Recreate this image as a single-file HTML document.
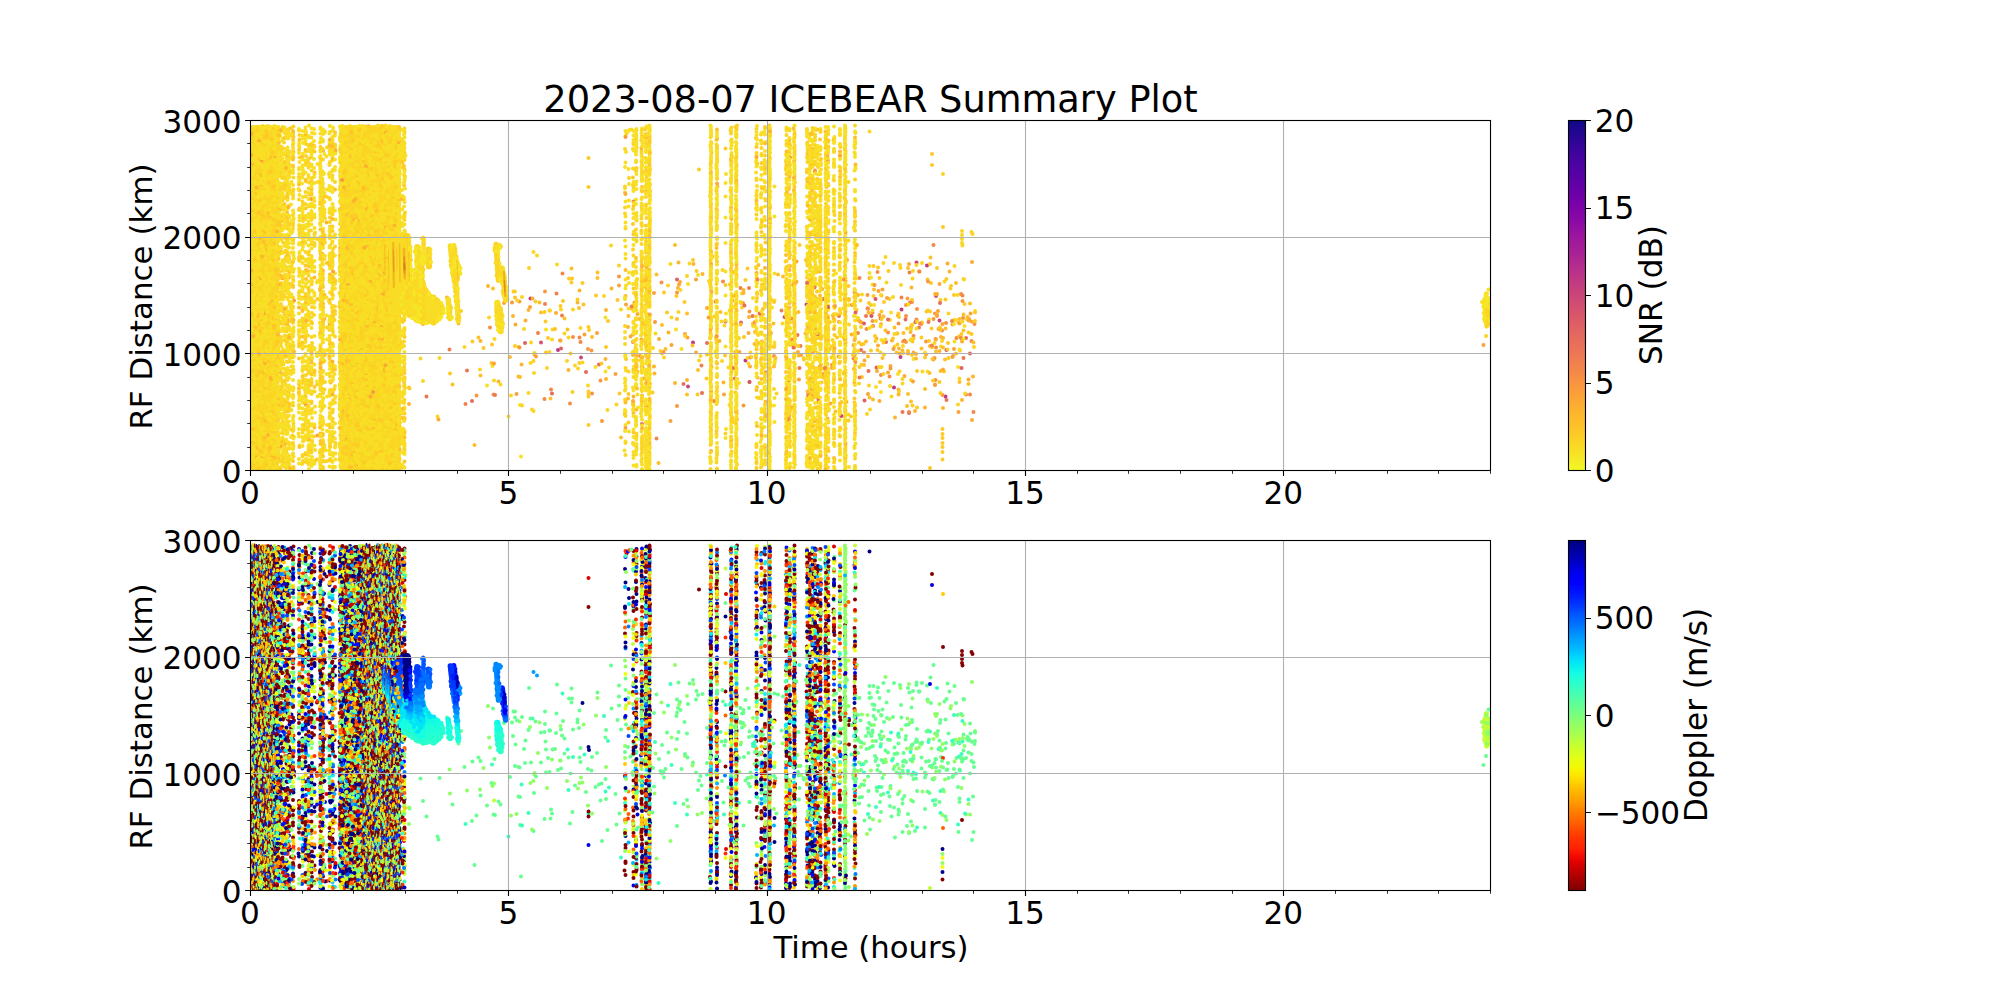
<!DOCTYPE html><html><head><meta charset="utf-8"><title>2023-08-07 ICEBEAR Summary Plot</title>
<style>html,body{margin:0;padding:0;background:#fff}svg{display:block}</style></head><body>
<svg width="2000" height="1000" viewBox="0 0 2000 1000">
<rect width="2000" height="1000" fill="#fff"/>
<defs><linearGradient id="gp" x1="0" y1="1" x2="0" y2="0"><stop offset="0" stop-color="#f0f921"/><stop offset="0.03" stop-color="#f5eb27"/><stop offset="0.06" stop-color="#f9dd25"/><stop offset="0.09" stop-color="#fcd025"/><stop offset="0.12" stop-color="#fdc328"/><stop offset="0.16" stop-color="#feb72d"/><stop offset="0.19" stop-color="#fdab33"/><stop offset="0.22" stop-color="#fb9f3a"/><stop offset="0.25" stop-color="#f89441"/><stop offset="0.28" stop-color="#f48948"/><stop offset="0.31" stop-color="#f07f4f"/><stop offset="0.34" stop-color="#eb7556"/><stop offset="0.38" stop-color="#e56b5d"/><stop offset="0.41" stop-color="#df6263"/><stop offset="0.44" stop-color="#d9586a"/><stop offset="0.47" stop-color="#d24f71"/><stop offset="0.5" stop-color="#cb4679"/><stop offset="0.53" stop-color="#c33d80"/><stop offset="0.56" stop-color="#bb3488"/><stop offset="0.59" stop-color="#b22b8f"/><stop offset="0.62" stop-color="#a82296"/><stop offset="0.66" stop-color="#9e199d"/><stop offset="0.69" stop-color="#9410a2"/><stop offset="0.72" stop-color="#8808a6"/><stop offset="0.75" stop-color="#7d03a8"/><stop offset="0.78" stop-color="#7100a8"/><stop offset="0.81" stop-color="#6400a7"/><stop offset="0.84" stop-color="#5801a4"/><stop offset="0.88" stop-color="#4b03a1"/><stop offset="0.91" stop-color="#3e049c"/><stop offset="0.94" stop-color="#2f0596"/><stop offset="0.97" stop-color="#20068f"/><stop offset="1" stop-color="#0d0887"/></linearGradient><linearGradient id="gj" x1="0" y1="1" x2="0" y2="0"><stop offset="0" stop-color="#800000"/><stop offset="0.02" stop-color="#960000"/><stop offset="0.04" stop-color="#ad0000"/><stop offset="0.06" stop-color="#c80000"/><stop offset="0.08" stop-color="#df0000"/><stop offset="0.1" stop-color="#f60b00"/><stop offset="0.12" stop-color="#ff2200"/><stop offset="0.15" stop-color="#ff3400"/><stop offset="0.17" stop-color="#ff4700"/><stop offset="0.19" stop-color="#ff5d00"/><stop offset="0.21" stop-color="#ff6f00"/><stop offset="0.23" stop-color="#ff8200"/><stop offset="0.25" stop-color="#ff9800"/><stop offset="0.27" stop-color="#ffab00"/><stop offset="0.29" stop-color="#ffbd00"/><stop offset="0.31" stop-color="#ffd300"/><stop offset="0.33" stop-color="#ffe600"/><stop offset="0.35" stop-color="#f4f802"/><stop offset="0.38" stop-color="#e1ff16"/><stop offset="0.4" stop-color="#d1ff26"/><stop offset="0.42" stop-color="#c1ff36"/><stop offset="0.44" stop-color="#adff49"/><stop offset="0.46" stop-color="#9dff5a"/><stop offset="0.48" stop-color="#8dff6a"/><stop offset="0.5" stop-color="#7aff7d"/><stop offset="0.52" stop-color="#6aff8d"/><stop offset="0.54" stop-color="#5aff9d"/><stop offset="0.56" stop-color="#46ffb1"/><stop offset="0.58" stop-color="#36ffc1"/><stop offset="0.6" stop-color="#26ffd1"/><stop offset="0.62" stop-color="#13fce4"/><stop offset="0.65" stop-color="#02e8f4"/><stop offset="0.67" stop-color="#00d4ff"/><stop offset="0.69" stop-color="#00bcff"/><stop offset="0.71" stop-color="#00a8ff"/><stop offset="0.73" stop-color="#0094ff"/><stop offset="0.75" stop-color="#007dff"/><stop offset="0.77" stop-color="#0068ff"/><stop offset="0.79" stop-color="#0055ff"/><stop offset="0.81" stop-color="#003dff"/><stop offset="0.83" stop-color="#0028ff"/><stop offset="0.85" stop-color="#0015ff"/><stop offset="0.88" stop-color="#0000ff"/><stop offset="0.9" stop-color="#0000f6"/><stop offset="0.92" stop-color="#0000df"/><stop offset="0.94" stop-color="#0000c4"/><stop offset="0.96" stop-color="#0000ad"/><stop offset="0.98" stop-color="#000096"/><stop offset="1" stop-color="#000080"/></linearGradient><clipPath id="c1"><rect x="250" y="120" width="1240" height="350"/></clipPath><clipPath id="c2"><rect x="250" y="540" width="1240" height="350"/></clipPath></defs>
<g clip-path="url(#c1)">
<rect x="251" y="125.2" width="28" height="344.8" fill="#fad524"/>
<rect x="340" y="125.2" width="60.6" height="344.8" fill="#fad524"/>
</g>
<g clip-path="url(#c1)"><g transform="translate(250,120) scale(0.5)" fill="none" stroke-width="8" stroke-linecap="round"><path stroke="#f79044" d="M32 386h0"/><path stroke="#f8df25" d="M2 160h0m0 24h0m0 120h0m0 42h0m0 78h0m0 135h0m1-513h0m0 3h0m0 3h0m0 36h0m0 12h0m0 36h0m0 51h0m0 3h0m0 108h0m0 33h0m0 42h0m0 3h0m0 3h0m0 6h0m0 15h0m0 75h0m0 36h0m0 6h0m0 6h0m0 9h0m0 69h0m0 81h0m0 3h0m1-645h0m0 21h0m0 42h0m0 120h0m0 3h0m0 33h0m0 132h0m0 21h0m0 51h0m0 63h0m0 30h0m1-528h0m0 33h0m0 96h0m0 6h0m0 24h0m0 30h0m0 63h0m0 30h0m0 15h0m0 15h0m0 3h0m0 48h0m0 15h0m0 9h0m0 21h0m0 54h0m0 27h0m0 57h0m0 9h0m0 6h0m0 27h0m1-531h0m0 36h0m0 12h0m0 12h0m0 68h0m0 10h0m0 18h0m0 27h0m0 18h0m0 18h0m0 18h0m0 81h0m0 120h0m0 27h0m0 18h0m0 5h0m0 25h0m1-376h0m0 141h0m0 3h0m0 3h0m0 6h0m0 63h0m0 126h0m1-525h0m0 39h0m0 9h0m0 42h0m0 279h0m0 1h0m0 86h0m0 99h0m1-404h0m0 203h0m0 10h0m0 3h0m0 201h0m1-591h0m0 225h0m0 66h0m0 240h0m0 24h0m1-460h0m0 57h0m0 3h0m0 57h0m0 78h0m0 3h0m0 30h0m0 69h0m0 144h0m1-522h0m0 12h0m0 15h0m0 66h0m0 9h0m0 12h0m0 9h0m0 84h0m0 21h0m0 84h0m0 30h0m0 207h0m0 51h0m1-552h0m0 33h0m0 177h0m0 297h0m0 75h0m0 33h0m1-480h0m0 30h0m0 72h0m0 63h0m0 9h0m0 294h0m0 15h0m1-664h0m0 193h0m0 326h0m1-537h0m0 30h0m0 99h0m0 93h0m0 36h0m0 15h0m0 30h0m0 42h0m0 21h0m0 69h0m0 231h0m1-654h0m0 63h0m0 99h0m0 12h0m0 33h0m0 198h0m0 171h0m0 6h0m1-458h0m0 117h0m0 60h0m0 21h0m0 23h0m0 22h0m0 93h0m0 147h0m0 9h0m1-150h0m0 60h0m1-489h0m0 201h0m0 99h0m0 87h0m0 108h0m0 75h0m0 45h0m1-617h0m0 407h0m0 39h0m0 12h0m0 130h0m1-495h0m0 33h0m0 15h0m0 9h0m0 3h0m0 17h0m0 22h0m0 72h0m0 99h0m0 15h0m0 99h0m1-483h0m0 312h0m0 6h0m0 246h0m0 3h0m1-553h0m0 297h0m0 15h0m0 87h0m0 27h0m0 183h0m1-645h0m0 27h0m0 55h0m0 134h0m0 99h0m0 145h0m0 170h0m1-569h0m0 18h0m0 155h0m0 148h0m0 57h0m0 24h0m1-282h0m0 219h0m1-345h0m0 6h0m0 18h0m0 15h0m0 6h0m0 225h0m0 6h0m0 219h0m1-516h0m0 96h0m0 51h0m0 42h0m0 117h0m0 42h0m0 15h0m0 198h0m1-564h0m0 42h0m0 78h0m0 324h0m0 93h0m1-585h0m0 49h0m0 305h0m0 72h0m0 117h0m1-374h0m0 21h0m0 122h0m0 121h0m0 27h0m0 72h0m0 93h0m1-627h0m0 39h0m0 108h0m0 93h0m0 27h0m0 24h0m0 18h0m0 54h0m0 273h0m1-231h0m0 4h0m0 99h0m1-507h0m0 78h0m0 9h0m0 54h0m0 60h0m0 27h0m0 114h0m0 6h0m0 192h0m0 36h0m0 105h0m1-597h0m0 90h0m0 2h0m0 319h0m0 126h0m1-583h0m0 156h0m0 60h0m0 297h0m0 66h0m1-561h0m0 129h0m0 54h0m0 60h0m0 162h0m0 66h0m0 57h0m1-186h0m0 222h0m1-615h0m0 30h0m0 111h0m0 57h0m0 39h0m0 66h0m0 48h0m0 78h0m0 243h0m1-509h0m0 38h0m0 238h0m0 149h0m1-488h0m0 288h0m0 15h0m0 30h0m0 87h0m0 33h0m0 72h0m1-600h0m0 573h0m2-259h0m0 141h0m1-459h0m0 36h0m0 39h0m0 24h0m0 66h0m0 78h0m0 3h0m0 78h0m0 12h0m0 57h0m0 36h0m1-410h0m0 189h0m0 27h0m0 227h0m0 22h0m1-438h0m0 72h0m0 219h0m1-312h0m1-5h0m0 372h0m0 87h0m0 36h0m0 18h0m0 60h0m1-540h0m0 147h0m0 108h0m0 180h0m0 21h0m0 12h0m0 48h0m0 75h0m1-252h0m0 150h0m0 9h0m1-552h0m0 12h0m0 63h0m0 180h0m0 162h0m0 6h0m0 51h0m0 72h0m1-555h0m0 30h0m0 36h0m0 6h0m0 6h0m0 180h0m0 9h0m0 3h0m0 12h0m0 45h0m0 6h0m0 60h0m0 63h0m0 30h0m0 3h0m0 0h0m0 96h0m0 75h0m1-657h0m0 24h0m0 3h0m0 90h0m0 9h0m0 3h0m0 12h0m0 57h0m0 6h0m0 42h0m0 24h0m0 42h0m0 33h0m0 6h0m0 48h0m0 42h0m0 99h0m0 3h0m0 75h0m0 12h0m1-618h0m0 66h0m0 60h0m0 12h0m0 9h0m0 15h0m0 222h0m0 60h0m0 12h0m0 87h0m0 45h0m1-545h0m0 9h0m0 39h0m0 18h0m0 24h0m0 44h0m0 31h0m0 3h0m0 18h0m0 21h0m0 63h0m0 12h0m0 114h0m0 3h0m0 3h0m0 81h0m0 15h0m0 30h0m0 12h0m0 15h0m0 27h0m1-579h0m0 21h0m0 87h0m0 15h0m0 6h0m0 69h0m0 27h0m0 63h0m0 3h0m0 39h0m0 132h0m0 54h0m0 18h0m0 54h0m1-453h0m0 237h0m1 51h0m1-483h0m0 144h0m0 78h0m0 105h0m0 33h0m0 30h0m0 18h0m0 51h0m0 60h0m0 6h0m0 87h0m0 27h0m0 27h0m1-636h0m0 6h0m0 15h0m0 9h0m0 9h0m0 90h0m0 9h0m0 33h0m0 33h0m0 222h0m0 66h0m0 6h0m1-537h0m0 84h0m0 108h0m1-78h0m0 84h0m1-204h0m0 78h0m0 6h0m0 45h0m0 24h0m0 165h0m0 3h0m0 12h0m0 24h0m0 66h0m0 69h0m0 54h0m0 51h0m0 6h0m0 15h0m0 33h0m1-579h0m0 63h0m0 27h0m0 9h0m0 141h0m0 228h0m0 108h0m1-264h0m1-332h0m0 165h0m0 183h0m0 57h0m0 213h0m1-672h0m0 72h0m0 102h0m0 57h0m0 6h0m0 87h0m0 54h0m0 114h0m0 33h0m0 45h0m0 42h0m0 27h0m0 12h0m0 12h0m1-651h0m0 75h0m0 519h0m1-423h0m0 36h0m0 198h0m0 174h0m0 3h0m1-474h0m0 78h0m0 33h0m0 48h0m0 27h0m0 12h0m0 45h0m0 96h0m0 30h0m0 78h0m0 15h0m0 15h0m0 36h0m1-573h0m0 6h0m0 294h0m0 30h0m0 42h0m0 15h0m0 40h0m0 101h0m0 39h0m1-584h0m0 123h0m0 60h0m0 9h0m0 51h0m0 204h0m0 162h0m1-579h0m0 36h0m0 21h0m0 9h0m0 57h0m0 123h0m0 6h0m0 6h0m0 12h0m0 24h0m0 9h0m0 105h0m0 3h0m0 108h0m0 3h0m0 18h0m0 42h0m1-399h0m0 39h0m0 294h0m0 87h0m1-607h0m0 387h0m0 144h0m1-444h0m0 66h0m0 96h0m0 3h0m0 9h0m0 42h0m0 60h0m0 18h0m0 36h0m0 15h0m0 15h0m0 15h0m0 30h0m0 27h0m0 42h0m0 36h0m0 6h0m1-612h0m0 33h0m0 201h0m0 45h0m0 75h0m0 24h0m0 87h0m0 12h0m0 105h0m0 21h0m0 12h0m1-546h0m2 121h0m0 105h0m0 66h0m0 3h0m0 36h0m1-249h0m0 72h0m0 30h0m0 21h0m0 42h0m0 30h0m0 276h0m2-411h0m0 99h0m1-330h0m0 3h0m0 72h0m0 18h0m0 9h0m0 24h0m0 24h0m0 51h0m0 57h0m0 51h0m0 42h0m0 12h0m0 9h0m0 6h0m0 33h0m0 54h0m0 75h0m0 63h0m1-582h0m0 123h0m0 39h0m0 27h0m0 6h0m0 51h0m0 93h0m0 9h0m0 27h0m0 141h0m0 27h0m0 18h0m0 60h0m1-63h0m10-616h0m0 3h0m0 75h0m0 114h0m0 102h0m0 75h0m0 24h0m0 9h0m0 123h0m0 6h0m0 12h0m0 15h0m0 42h0m0 60h0m1-636h0m0 108h0m0 42h0m0 3h0m0 6h0m0 33h0m0 30h0m0 18h0m0 18h0m0 9h0m0 15h0m0 18h0m0 60h0m0 129h0m0 24h0m0 96h0m5-92h0m1-537h0m0 57h0m0 15h0m0 78h0m0 12h0m0 36h0m0 30h0m0 69h0m0 93h0m0 36h0m0 3h0m0 24h0m0 27h0m0 33h0m0 21h0m0 9h0m0 12h0m0 12h0m0 30h0m0 51h0m1-444h0m0 84h0m0 15h0m0 51h0m0 102h0m0 3h0m0 117h0m0 18h0m0 21h0m4-394h0m1-228h0m0 66h0m0 24h0m0 87h0m0 6h0m0 15h0m0 3h0m0 12h0m0 3h0m0 3h0m0 12h0m0 60h0m0 90h0m0 12h0m0 6h0m0 18h0m0 12h0m0 9h0m0 15h0m0 3h0m0 108h0m0 21h0m0 15h0m0 18h0m0 33h0m1-639h0m0 36h0m0 27h0m0 237h0m0 63h0m0 102h0m0 69h0m0 36h0m4-22h0m0 48h0m1-510h0m0 45h0m0 33h0m0 3h0m0 9h0m0 9h0m0 138h0m0 18h0m0 108h0m0 3h0m0 9h0m0 36h0m0 6h0m0 84h0m0 6h0m0 15h0m0 6h0m0 27h0m0 3h0m0 18h0m1-678h0m0 24h0m0 186h0m0 177h0m0 300h0m4-111h0m1-570h0m0 30h0m0 6h0m0 36h0m0 3h0m0 48h0m0 6h0m0 27h0m0 12h0m0 15h0m0 9h0m0 30h0m0 3h0m0 39h0m0 12h0m0 9h0m0 54h0m0 117h0m0 30h0m0 24h0m0 15h0m0 111h0m0 27h0m1-654h0m0 144h0m0 171h0m0 255h0m0 12h0m0 33h0m0 33h0m4-656h0m0 96h0m0 570h0m1-657h0m0 99h0m0 36h0m0 54h0m0 36h0m0 30h0m0 93h0m0 57h0m0 57h0m0 21h0m1-285h0m0 348h0m0 12h0m4-119h0m1-342h0m0 429h0m5-478h0m0 162h0m0 6h0m0 75h0m0 42h0m0 306h0m1-648h0m0 78h0m0 6h0m0 6h0m0 6h0m0 36h0m0 3h0m0 36h0m0 9h0m0 81h0m0 27h0m0 30h0m0 39h0m0 21h0m0 12h0m0 9h0m0 18h0m0 15h0m0 75h0m0 9h0m0 6h0m0 24h0m0 96h0m0 12h0m1-633h0m0 72h0m0 36h0m0 54h0m0 96h0m0 54h0m3-233h0m0 6h0m0 39h0m0 3h0m0 36h0m0 18h0m0 6h0m0 15h0m0 81h0m0 9h0m0 18h0m0 78h0m0 9h0m0 33h0m0 51h0m0 45h0m0 30h0m0 15h0m0 39h0m0 9h0m0 12h0m1-642h0m0 99h0m0 27h0m0 30h0m0 33h0m0 12h0m0 21h0m0 39h0m0 18h0m0 108h0m0 129h0m0 12h0m0 45h0m0 39h0m0 57h0m2-590h0m1-81h0m0 159h0m0 93h0m0 204h0m0 168h0m0 6h0m1-411h0m3 146h0m1 69h0m0 150h0m4-142h0m1-423h0m0 42h0m0 99h0m0 36h0m0 9h0m0 39h0m0 162h0m0 207h0m1-627h0m0 147h0m0 69h0m0 9h0m0 30h0m0 9h0m0 69h0m0 54h0m0 51h0m0 6h0m0 84h0m0 12h0m0 15h0m0 18h0m0 3h0m0 3h0m0 54h0m4-348h0m0 45h0m0 339h0m1-642h0m0 3h0m0 21h0m0 12h0m0 6h0m0 36h0m0 3h0m0 147h0m0 9h0m0 9h0m0 33h0m0 6h0m0 54h0m0 12h0m0 18h0m0 57h0m0 135h0m0 24h0m0 6h0m0 54h0m1-663h0m0 30h0m0 48h0m0 75h0m0 60h0m0 36h0m0 69h0m0 12h0m0 78h0m0 21h0m0 3h0m0 36h0m0 78h0m0 12h0m0 114h0m0 3h0m1-300h0m3-365h0m0 24h0m0 126h0m0 90h0m0 36h0m0 21h0m0 279h0m0 48h0m0 39h0m1-495h0m0 354h0m8-258h0m0 108h0m1-369h0m0 42h0m0 3h0m0 6h0m0 48h0m0 108h0m0 3h0m0 3h0m0 75h0m0 72h0m0 12h0m0 54h0m0 3h0m0 24h0m0 6h0m0 3h0m0 57h0m0 18h0m0 75h0m0 9h0m1-627h0m0 15h0m0 19h0m0 44h0m0 9h0m0 3h0m0 75h0m0 6h0m0 33h0m0 18h0m0 15h0m0 24h0m0 87h0m0 6h0m0 93h0m0 24h0m0 37h0m0 93h0m0 21h0m0 14h0m0 18h0m0 9h0m1-671h0m0 3h0m0 21h0m0 51h0m0 33h0m0 51h0m0 54h0m0 27h0m0 9h0m0 15h0m0 48h0m0 24h0m0 12h0m0 33h0m0 45h0m0 24h0m0 3h0m0 27h0m0 42h0m0 24h0m0 3h0m1-459h0m0 72h0m0 54h0m0 108h0m0 6h0m0 21h0m0 27h0m0 24h0m0 57h0m0 66h0m0 1h0m0 2h0m0 39h0m0 15h0m0 3h0m0 15h0m0 33h0m0 18h0m0 9h0m1-641h0m0 3h0m0 9h0m0 45h0m0 33h0m0 66h0m0 87h0m0 45h0m0 51h0m0 51h0m0 69h0m0 54h0m0 63h0m0 15h0m0 36h0m0 9h0m1-573h0m0 294h0m0 162h0m0 36h0m1-464h0m0 111h0m0 15h0m0 180h0m0 18h0m0 33h0m0 159h0m1-162h0m0 93h0m1-439h0m0 193h0m0 5h0m0 48h0m0 30h0m0 84h0m0 15h0m0 12h0m0 102h0m0 48h0m1-516h0m0 6h0m0 87h0m0 48h0m0 102h0m0 153h0m1-390h0m0 102h0m0 102h0m0 249h0m0 51h0m1-540h0m0 111h0m0 27h0m0 6h0m0 54h0m0 129h0m0 111h0m1-495h0m0 249h0m0 12h0m1-273h0m0 60h0m0 264h0m0 162h0m0 141h0m1-225h0m1-255h0m0 216h0m0 42h0m1-450h0m0 309h0m0 15h0m0 3h0m0 69h0m0 135h0m0 138h0m1-503h0m0 59h0m0 181h0m0 3h0m0 168h0m1-495h0m0 15h0m0 96h0m0 60h0m0 24h0m0 39h0m0 12h0m0 104h0m0 172h0m0 14h0m0 52h0m0 6h0m1-532h0m0 183h0m0 42h0m0 160h0m1-532h0m0 219h0m0 84h0m0 276h0"/><path stroke="#fdb52e" d="M12 639h0m1 18h0m0 18h0m4-283h0m5-259h0m1-106h0m1 462h0m17-204h0m1 390h0m12-431h0m4 106h0m7-33h0m4 331h0m13-194h0m16-79h0m13-21h0m11 305h0m19-32h0m4-359h0m0 207h0m14-1h0m7 162h0m14-365h0m15-16h0m2 19h0"/><path stroke="#fec029" d="M3 673h0m1-285h0m0 111h0m1 144h0m2-307h0m1 306h0m3-624h0m0 48h0m0 348h0m1-342h0m6 318h0m1-204h0m0 222h0m1-366h0m0 381h0m5-21h0m4 82h0m2-264h0m2-188h0m0 246h0m0 186h0m2 19h0m4-115h0m1-294h0m0 582h0m2-458h0m2 431h0m3-219h0m1-14h0m1-92h0m0 71h0m0 300h0m3-542h0m1 99h0m0 249h0m2 129h0m1-179h0m2 48h0m0 90h0m4-492h0m0 102h0m0 132h0m4 333h0m2-290h0m9 48h0m1-87h0m1 381h0m7-674h0m0 57h0m0 204h0m0 51h0m12 203h0m7-119h0m0 15h0m1-324h0m6 209h0m6 320h0m5-159h0m0 6h0m6-380h0m12 162h0m5 100h0m0 315h0m3-332h0m0 48h0m10-38h0m1-51h0m4 183h0m1-435h0m0 21h0m5 61h0m9 234h0m1-117h0m1 246h0m1-224h0m9 10h0m0 75h0m0 75h0m2-87h0m1 132h0m2 108h0"/><path stroke="#f9983e" d="M88 361h0"/><path stroke="#fbd524" d="M2 343h0m1-312h0m0 33h0m0 90h0m0 51h0m0 111h0m0 54h0m0 24h0m0 108h0m0 39h0m0 72h0m0 84h0m1-531h0m0 78h0m0 30h0m0 33h0m0 54h0m0 270h0m1-606h0m0 69h0m0 18h0m0 135h0m0 192h0m0 96h0m0 24h0m0 18h0m1-459h0m0 159h0m0 30h0m0 60h0m0 144h0m1-454h0m0 96h0m0 318h0m0 129h0m1-564h0m0 12h0m0 459h0m0 96h0m1-456h0m1 115h0m1-64h0m0 183h0m0 18h0m0 88h0m1-316h0m0 447h0m0 78h0m1-645h0m0 273h0m0 3h0m0 141h0m1-447h0m0 570h0m1-309h0m0 228h0m1-451h0m0 45h0m0 18h0m0 192h0m0 150h0m0 99h0m2 25h0m1-465h0m0 438h0m0 105h0m1-501h0m0 168h0m1 27h0m1-209h0m0 84h0m0 288h0m0 90h0m0 81h0m1-558h0m0 69h0m0 468h0m0 15h0m1-493h0m0 33h0m0 342h0m0 12h0m1-543h0m1 511h0m0 87h0m0 27h0m1-588h0m1-51h0m0 552h0m0 78h0m1-639h0m0 69h0m0 84h0m0 75h0m0 435h0m2-654h0m0 546h0m1-414h0m0 6h0m0 157h0m0 86h0m0 271h0m1-597h0m0 159h0m0 378h0m1-203h0m1-348h0m0 120h0m0 108h0m0 258h0m0 30h0m0 84h0m1-21h0m1 17h0m1-426h0m0 315h0m1-393h0m0 141h0m0 42h0m1-144h0m0 48h0m0 378h0m1-521h0m0 273h0m0 164h0m0 22h0m0 134h0m1-668h0m0 84h0m0 6h0m0 159h0m0 255h0m1-405h0m0 177h0m0 309h0m2-400h0m1-186h0m0 123h0m0 51h0m0 207h0m0 261h0m1-411h0m1-152h0m0 156h0m0 3h0m1 427h0m1-402h0m0 63h0m1-330h0m0 414h0m0 117h0m1-456h0m0 375h0m1-279h0m1 135h0m0 81h0m0 87h0m0 15h0m0 24h0m0 3h0m0 0h0m0 84h0m1-570h0m0 12h0m0 192h0m0 60h0m0 6h0m0 18h0m0 75h0m0 135h0m0 36h0m0 63h0m1-576h0m0 33h0m0 399h0m0 93h0m1-578h0m0 27h0m0 6h0m0 6h0m0 342h0m0 234h0m0 33h0m1-564h0m0 21h0m0 39h0m0 105h0m0 105h0m0 33h0m3-267h0m0 66h0m0 141h0m0 57h0m0 39h0m1-390h0m0 60h0m0 213h0m0 42h0m0 66h0m0 18h0m0 189h0m1-402h0m1-180h0m0 57h0m0 348h0m0 162h0m1-606h0m0 282h0m0 228h0m0 39h0m1-324h0m0 108h0m0 30h0m1 106h0m1-444h0m0 267h0m0 156h0m0 99h0m1-453h0m0 84h0m0 81h0m0 129h0m0 33h0m1-405h0m0 273h0m0 309h0m1-90h0m1-324h0m0 69h0m0 129h0m0 261h0m1-120h0m0 30h0m1-422h0m0 414h0m0 15h0m1-561h0m0 183h0m0 81h0m0 261h0m1-477h0m0 42h0m0 186h0m1 161h0m1-438h0m0 84h0m0 93h0m0 24h0m0 195h0m1-324h0m0 51h0m3-110h0m0 588h0m1-411h0m0 84h0m0 105h0m0 6h0m2-6h0m1-306h0m0 51h0m0 75h0m0 24h0m0 3h0m0 60h0m0 15h0m0 36h0m0 195h0m0 72h0m1-609h0m0 486h0m0 108h0m0 66h0m11-514h0m0 186h0m0 78h0m0 24h0m0 6h0m1-399h0m0 159h0m0 12h0m0 48h0m0 30h0m0 132h0m5-101h0m0 354h0m1-525h0m0 111h0m0 69h0m0 12h0m0 42h0m0 6h0m0 123h0m0 84h0m0 15h0m1-423h0m0 318h0m0 162h0m4-247h0m1-291h0m0 9h0m0 15h0m0 387h0m0 15h0m0 66h0m1-273h0m0 60h0m0 75h0m0 12h0m0 81h0m0 93h0m4-253h0m1-258h0m0 63h0m0 42h0m0 243h0m0 51h0m1-447h0m0 138h0m0 81h0m4-123h0m1-120h0m0 96h0m0 51h0m0 207h0m0 108h0m0 102h0m1-603h0m0 54h0m0 207h0m0 51h0m0 12h0m0 21h0m0 45h0m0 171h0m4-233h0m0 243h0m1-387h0m0 3h0m0 54h0m0 60h0m0 138h0m1 159h0m0 21h0m5-359h0m5-145h0m0 132h0m1-174h0m0 27h0m0 78h0m0 129h0m0 84h0m0 3h0m0 24h0m0 18h0m0 21h0m0 18h0m0 60h0m0 15h0m0 78h0m4-272h0m0 159h0m0 87h0m1-252h0m0 54h0m0 57h0m0 120h0m0 12h0m0 39h0m3-455h0m1-42h0m0 486h0m4-628h0m0 627h0m4-574h0m0 255h0m1-207h0m0 165h0m0 84h0m0 36h0m0 168h0m1-585h0m0 33h0m0 9h0m0 18h0m0 99h0m0 30h0m0 39h0m0 30h0m0 84h0m0 147h0m4-267h0m0 276h0m1-420h0m0 84h0m0 3h0m0 93h0m0 9h0m0 156h0m0 93h0m0 63h0m0 39h0m1-384h0m0 165h0m0 120h0m3-143h0m0 138h0m1-489h0m0 75h0m0 105h0m0 336h0m1 84h0m8-303h0m0 69h0m0 39h0m0 30h0m0 93h0m0 102h0m1-642h0m0 21h0m0 93h0m0 30h0m0 27h0m0 96h0m0 66h0m0 222h0m1-528h0m0 84h0m0 18h0m0 126h0m0 57h0m1-230h0m0 216h0m0 2h0m0 76h0m0 69h0m0 114h0m0 42h0m1-552h0m0 30h0m0 102h0m0 49h0m0 62h0m0 12h0m0 42h0m0 73h0m0 2h0m0 45h0m0 36h0m0 60h0m0 36h0m0 21h0m1-641h0m0 69h0m0 27h0m0 129h0m0 52h0m0 8h0m0 150h0m0 9h0m0 36h0m0 36h0m0 42h0m0 48h0m1-507h0m0 67h0m0 320h0m0 112h0m1-546h0m0 393h0m0 33h0m0 99h0m0 102h0m1-189h0m1-217h0m0 30h0m1-264h0m0 21h0m0 366h0m0 27h0m1-417h0m0 546h0m1-582h0m0 153h0m0 459h0m2-177h0m1-147h0m0 144h0m1-18h0m0 105h0m0 33h0m0 123h0m1-627h0m0 222h0m0 90h0m0 33h0m1-218h0m1 24h0m0 291h0m0 75h0m1-298h0m0 244h0m0 105h0m1-514h0"/><path stroke="#fba238" d="M16 41h0m119 590h0"/><path stroke="#fdac33" d="M29 259h0m11-77h0m16 5h0m6-167h0m3 504h0m0 117h0m9-454h0m1 210h0m36 125h0m48-111h0m1-372h0m11 22h0m25 269h0"/><path stroke="#fdca26" d="M3 127h0m0 18h0m0 195h0m0 126h0m1 54h0m1-360h0m0 228h0m0 294h0m1-585h0m0 108h0m0 111h0m0 69h0m0 104h0m0 13h0m0 3h0m1 182h0m1-621h0m0 213h0m2-131h0m0 75h0m2 125h0m0 153h0m2-486h0m0 171h0m2-109h0m1-59h0m0 680h0m1-155h0m2-39h0m0 90h0m0 69h0m1-78h0m2-402h0m0 415h0m1-298h0m3 259h0m0 93h0m2-306h0m1 189h0m1-324h0m1 376h0m1-564h0m0 423h0m0 66h0m0 177h0m3-26h0m1-469h0m1-69h0m4-110h0m0 204h0m1-180h0m0 111h0m3-85h0m0 216h0m0 303h0m1 3h0m1-389h0m5 100h0m1-51h0m1-90h0m0 285h0m0 6h0m1 156h0m1-326h0m0 261h0m0 138h0m1-537h0m0 162h0m0 168h0m0 126h0m3-267h0m0 27h0m1-144h0m0 306h0m0 21h0m2-6h0m1-372h0m0 312h0m0 69h0m0 60h0m1-564h0m2 100h0m1-102h0m0 279h0m0 72h0m0 306h0m2-273h0m1-120h0m0 384h0m1-492h0m1 247h0m1-222h0m0 216h0m0 123h0m0 27h0m2-547h0m1 174h0m0 117h0m0 240h0m1-84h0m3-380h0m1 390h0m2 138h0m1-582h0m0 24h0m0 21h0m0 237h0m0 72h0m0 51h0m12-175h0m0 267h0m1-405h0m0 309h0m6-215h0m0 210h0m0 12h0m6-424h0m0 27h0m0 306h0m0 303h0m5-367h0m1 198h0m0 33h0m1-456h0m0 72h0m5 0h0m0 255h0m0 120h0m0 42h0m6-62h0m6-146h0m5-235h0m0 339h0m0 153h0m1-561h0m0 6h0m0 159h0m0 57h0m0 183h0m0 189h0m0 39h0m0 9h0m1-618h0m3 250h0m0 27h0m0 291h0m1-510h0m0 87h0m0 111h0m0 66h0m0 84h0m0 144h0m1-147h0m12-190h0m0 186h0m0 99h0m1-129h0m0 168h0m0 66h0m4-369h0m1-264h0m0 165h0m0 114h0m0 45h0m0 12h0m0 9h0m0 9h0m1 159h0m4-179h0m1-60h0m9-45h0m0 240h0m0 42h0m1 72h0m1-576h0m0 79h0m0 204h0m0 78h0m0 9h0m1 66h0m0 99h0m1-563h0m0 459h0m0 174h0m1-588h0m0 219h0m0 258h0m1-77h0m0 87h0m1-237h0m2-223h0m0 279h0m2-237h0m0 366h0m2 30h0m1 132h0m1-216h0m2 241h0m2-397h0"/><path stroke="#fdac33" d="M22 316h0m1 360h0m27-600h0m6 351h0m1-98h0m8-129h0m4 178h0m6 214h0m71-531h0m47 578h0"/><path stroke="#fbd524" d="M2 106h0m0 423h0m0 75h0m1-588h0m0 6h0m0 72h0m0 24h0m0 81h0m0 30h0m0 207h0m1-153h0m0 321h0m0 30h0m1-612h0m0 30h0m0 27h0m0 57h0m0 135h0m0 57h0m0 69h0m0 30h0m0 51h0m0 18h0m0 48h0m0 78h0m0 27h0m1-612h0m0 156h0m0 42h0m0 84h0m0 36h0m0 164h0m0 121h0m1-430h0m0 120h0m0 18h0m1 37h0m0 44h0m0 147h0m1-482h0m0 45h0m1-117h0m0 51h0m0 39h0m0 69h0m0 57h0m0 264h0m1-135h0m0 197h0m2-78h0m0 93h0m0 54h0m1-144h0m0 126h0m1-232h0m0 262h0m1-514h0m0 150h0m0 234h0m0 39h0m0 63h0m2-602h0m0 120h0m0 495h0m1-438h0m1 144h0m0 207h0m1-342h0m1 190h0m0 210h0m1-432h0m0 107h0m0 100h0m0 120h0m1-310h0m0 21h0m0 90h0m0 201h0m0 21h0m1-507h0m0 408h0m0 274h0m1-135h0m2-531h0m0 273h0m0 15h0m0 198h0m0 39h0m2-75h0m2-375h0m0 105h0m0 160h0m1-180h0m1 202h0m0 66h0m1-9h0m2-49h0m0 225h0m1-582h0m0 495h0m0 18h0m0 3h0m1-393h0m1 21h0m0 204h0m0 183h0m1-366h0m0 16h0m0 315h0m0 140h0m1-581h0m0 42h0m0 15h0m0 135h0m0 84h0m0 138h0m1-180h0m2-82h0m1-165h0m0 489h0m1-300h0m1-131h0m0 315h0m0 12h0m1-312h0m1 55h0m2-9h0m0 6h0m0 294h0m0 159h0m1-579h0m0 228h0m0 93h0m0 126h0m1-483h0m0 642h0m1-555h0m0 81h0m0 105h0m0 6h0m0 9h0m0 27h0m0 27h0m0 9h0m0 9h0m0 147h0m0 63h0m0 15h0m1-552h0m0 133h0m0 41h0m0 183h0m1-239h0m0 27h0m0 333h0m0 81h0m1-612h0m0 279h0m0 177h0m0 63h0m2-165h0m0 123h0m0 180h0m1-609h0m0 57h0m0 213h0m0 138h0m0 81h0m0 84h0m1-513h0m0 102h0m0 210h0m0 30h0m0 99h0m2-468h0m0 573h0m1-666h0m0 216h0m0 51h0m0 66h0m0 51h0m0 87h0m0 42h0m0 84h0m0 39h0m0 27h0m0 6h0m1-549h0m0 540h0m1-617h0m1 60h0m0 165h0m0 297h0m0 9h0m1-462h0m0 30h0m0 54h0m0 54h0m0 78h0m0 9h0m0 81h0m0 66h0m0 63h0m0 81h0m1-132h0m1-381h0m0 132h0m0 63h0m1-222h0m0 363h0m0 84h0m0 147h0m1-633h0m0 54h0m0 306h0m0 60h0m1-383h0m0 162h0m0 12h0m0 321h0m1-522h0m0 165h0m0 225h0m0 21h0m0 24h0m0 12h0m0 15h0m0 150h0m1-510h0m2 32h0m0 66h0m0 3h0m0 303h0m0 3h0m1-519h0m0 369h0m0 216h0m3-272h0m0 75h0m1-69h0m0 120h0m0 66h0m3-417h0m0 39h0m0 18h0m0 3h0m0 162h0m0 102h0m0 96h0m0 75h0m0 3h0m0 18h0m1-528h0m0 513h0m11-472h0m0 39h0m0 57h0m0 294h0m1-540h0m0 45h0m0 153h0m0 126h0m6-137h0m0 60h0m0 123h0m0 99h0m0 174h0m0 12h0m1-516h0m0 240h0m0 84h0m0 18h0m0 111h0m4-82h0m0 69h0m1-522h0m0 177h0m0 84h0m0 9h0m0 171h0m0 90h0m1-570h0m0 24h0m0 51h0m4-43h0m0 210h0m1-240h0m0 45h0m0 42h0m0 132h0m0 66h0m0 171h0m0 99h0m0 54h0m0 3h0m0 24h0m1-330h0m0 36h0m0 60h0m0 159h0m5-576h0m0 39h0m0 120h0m0 78h0m0 45h0m0 12h0m0 30h0m0 6h0m0 69h0m0 27h0m0 3h0m0 54h0m0 30h0m0 33h0m1-522h0m0 228h0m0 159h0m0 132h0m0 66h0m5-536h0m0 87h0m0 348h0m5-305h0m0 234h0m0 57h0m6-439h0m0 78h0m0 39h0m0 54h0m0 168h0m0 75h0m0 45h0m0 114h0m1-534h0m0 27h0m0 24h0m0 54h0m0 30h0m0 60h0m0 9h0m0 39h0m0 117h0m0 21h0m0 18h0m0 105h0m1-447h0m0 162h0m0 15h0m3-305h0m0 114h0m0 21h0m0 87h0m0 30h0m0 36h0m0 168h0m0 3h0m0 9h0m0 12h0m0 33h0m1-546h0m0 54h0m0 237h0m0 3h0m0 54h0m0 33h0m0 3h0m0 36h0m0 27h0m0 75h0m0 60h0m0 54h0m2-470h0m0 165h0m1-126h0m0 309h0m1-15h0m4-370h0m0 261h0m5-325h0m0 144h0m0 186h0m0 174h0m1-390h0m0 81h0m0 177h0m0 81h0m0 87h0m0 18h0m0 3h0m0 27h0m1-195h0m3-447h0m0 459h0m1-384h0m0 69h0m0 84h0m0 9h0m0 63h0m0 81h0m0 45h0m0 39h0m0 3h0m0 78h0m0 3h0m0 12h0m0 18h0m4-296h0m1-267h0m0 201h0m0 120h0m0 15h0m0 45h0m1 213h0m0 21h0m9-447h0m0 81h0m0 165h0m0 6h0m0 132h0m0 45h0m0 27h0m1-593h0m0 38h0m0 264h0m1-353h0m0 42h0m0 72h0m0 15h0m0 24h0m0 42h0m0 63h0m0 96h0m0 168h0m0 78h0m0 27h0m0 36h0m1-603h0m0 214h0m0 86h0m0 165h0m0 18h0m0 3h0m1-554h0m0 150h0m0 6h0m0 77h0m0 7h0m0 30h0m0 42h0m0 18h0m0 81h0m0 81h0m0 63h0m0 45h0m0 9h0m0 45h0m0 12h0m1-540h0m0 33h0m0 214h0m0 206h0m1-254h0m0 54h0m0 168h0m0 66h0m0 48h0m0 12h0m1-486h0m0 396h0m2-583h0m0 48h0m0 15h0m0 351h0m0 81h0m1-339h0m1-105h0m0 30h0m0 15h0m0 306h0m0 267h0m1-354h0m1-324h0m0 255h0m0 126h0m0 144h0m0 24h0m0 129h0m1-387h0m0 378h0m1-315h0m0 294h0m1-645h0m0 36h0m0 63h0m0 264h0m1-68h0m0 383h0m1-681h0m0 34h0m0 354h0m0 42h0m0 39h0m0 153h0m1-418h0m0 34h0m0 33h0m1-220h0"/><path stroke="#fba238" d="M23 82h0m38 571h0m62-495h0m43 145h0"/><path stroke="#fdca26" d="M3 487h0m0 201h0m0 3h0m1-429h0m0 3h0m1 396h0m1-492h0m2-94h0m3 72h0m4 365h0m2-264h0m1-212h0m1 123h0m1 210h0m0 291h0m3-152h0m1-319h0m0 36h0m0 192h0m2 250h0m2-474h0m1-159h0m0 606h0m2-201h0m0 12h0m1-200h0m0 132h0m1 219h0m2-209h0m2 14h0m3-303h0m0 480h0m1 21h0m4-471h0m2 282h0m1 211h0m1-612h0m4 70h0m0 54h0m1 453h0m0 18h0m1-399h0m0 144h0m0 285h0m1-624h0m0 193h0m0 101h0m0 88h0m0 125h0m1-320h0m0 90h0m0 132h0m4 270h0m1-228h0m1-60h0m1-213h0m0 96h0m0 177h0m2 105h0m2-110h0m1-378h0m0 45h0m0 39h0m0 354h0m3-390h0m0 105h0m0 327h0m1-537h0m0 66h0m1-23h0m0 372h0m0 216h0m1-462h0m0 72h0m0 204h0m1-324h0m2 83h0m0 48h0m0 111h0m0 183h0m4-557h0m3 444h0m1-432h0m0 12h0m0 642h0m1-648h0m0 30h0m0 630h0m11-634h0m0 417h0m0 51h0m1-489h0m0 138h0m6 67h0m0 135h0m0 135h0m1-318h0m5-19h0m0 114h0m0 147h0m0 114h0m0 33h0m6-499h0m0 225h0m0 27h0m1-45h0m4 237h0m1-480h0m0 72h0m0 387h0m5-458h0m1 12h0m0 165h0m0 306h0m5 145h0m6-253h0m1-261h0m0 177h0m0 123h0m0 51h0m0 126h0m1-369h0m0 147h0m3-185h0m0 12h0m1-87h0m0 216h0m0 12h0m0 15h0m0 99h0m0 171h0m3-521h0m0 81h0m1 237h0m10-275h0m0 459h0m4-306h0m1-126h0m1 93h0m0 183h0m4-473h0m0 474h0m10-396h0m0 75h0m0 186h0m1 57h0m0 60h0m1 43h0m1-510h0m0 462h0m1-32h0m0 141h0m2-482h0m0 495h0m0 69h0m1-561h0m1 215h0m1 111h0m1-198h0m0 228h0m1-420h0m0 612h0m2-54h0m0 42h0m3-168h0m2-74h0m1 83h0m1-453h0"/><path stroke="#f79044" d="M111 567h0"/><path stroke="#fec029" d="M2 181h0m0 27h0m1 450h0m1-330h0m1 291h0m1-531h0m14 23h0m0 126h0m5 381h0m2-374h0m1 261h0m1 84h0m0 45h0m1-411h0m0 378h0m1 33h0m6-449h0m3 6h0m2 328h0m3-157h0m4 49h0m1-164h0m3 246h0m2-339h0m0 324h0m0 78h0m2-539h0m0 15h0m0 144h0m0 57h0m1-189h0m0 612h0m4-393h0m0 243h0m6-35h0m7-314h0m0 33h0m0 219h0m4-106h0m7-278h0m1 375h0m1 63h0m10-349h0m0 15h0m1 525h0m5-581h0m1 309h0m6-352h0m0 90h0m1 180h0m11-163h0m0 330h0m6-152h0m0 300h0m11-276h0m1-90h0m3 4h0m1 378h0m1-330h0m8-15h0m5-235h0m2 474h0m4-471h0m0 144h0m14 418h0m1-87h0m5-40h0m0 93h0m1-347h0m8 128h0m1-174h0m4 360h0m0 9h0"/><path stroke="#f8df25" d="M2 457h0m0 132h0m1-534h0m0 27h0m0 132h0m0 24h0m0 9h0m0 30h0m0 18h0m0 18h0m0 39h0m0 12h0m0 33h0m0 63h0m0 87h0m0 51h0m0 12h0m0 15h0m0 30h0m0 24h0m1-630h0m0 24h0m0 6h0m0 30h0m0 15h0m0 24h0m0 15h0m0 48h0m0 60h0m0 51h0m0 81h0m0 18h0m0 12h0m0 9h0m0 9h0m0 84h0m0 27h0m0 33h0m1-540h0m0 69h0m0 15h0m0 69h0m0 3h0m0 27h0m0 18h0m0 57h0m0 24h0m0 42h0m0 75h0m0 6h0m0 27h0m0 6h0m0 78h0m0 36h0m0 30h0m0 27h0m0 15h0m1-612h0m0 3h0m0 33h0m0 48h0m0 39h0m0 24h0m0 36h0m0 15h0m0 93h0m0 2h0m0 4h0m0 78h0m0 33h0m0 33h0m0 117h0m0 30h0m0 3h0m0 9h0m0 6h0m1-574h0m0 27h0m0 45h0m0 3h0m0 129h0m0 144h0m1-432h0m0 43h0m0 38h0m0 228h0m0 27h0m0 54h0m0 279h0m1-476h0m0 59h0m0 31h0m0 15h0m0 152h0m0 193h0m1-643h0m0 49h0m0 15h0m0 273h0m0 99h0m0 66h0m0 123h0m1-565h0m0 126h0m0 64h0m0 65h0m0 15h0m0 39h0m0 51h0m0 93h0m0 33h0m1-522h0m0 48h0m0 39h0m0 51h0m0 114h0m0 180h0m0 15h0m1-78h0m0 156h0m0 99h0m1-633h0m0 33h0m0 6h0m0 15h0m0 45h0m0 297h0m0 69h0m0 63h0m0 120h0m1-649h0m0 18h0m1 66h0m0 42h0m0 66h0m0 75h0m0 183h0m0 150h0m1-581h0m0 104h0m0 24h0m0 31h0m0 12h0m0 90h0m0 20h0m0 28h0m0 230h0m1-392h0m0 30h0m0 3h0m0 48h0m0 12h0m0 351h0m0 36h0m1-642h0m0 24h0m0 15h0m0 477h0m1-534h0m0 12h0m0 60h0m0 84h0m0 57h0m0 78h0m0 3h0m0 39h0m0 18h0m0 6h0m0 144h0m0 99h0m0 39h0m1-363h0m0 193h0m0 107h0m0 96h0m1-665h0m0 96h0m0 6h0m0 270h0m0 42h0m0 6h0m0 69h0m0 135h0m0 36h0m0 3h0m1-609h0m0 51h0m0 99h0m0 179h0m0 274h0m1-654h0m0 119h0m0 6h0m0 18h0m0 42h0m0 174h0m0 27h0m0 51h0m0 102h0m1-399h0m0 150h0m0 120h0m0 55h0m0 191h0m1-470h0m0 162h0m0 246h0m0 9h0m1-612h0m0 54h0m0 189h0m0 99h0m0 258h0m0 54h0m1-627h0m0 33h0m0 30h0m0 99h0m0 114h0m0 102h0m1-156h0m0 72h0m0 33h0m0 30h0m1-300h0m0 246h0m0 78h0m0 120h0m1-531h0m0 105h0m0 27h0m0 19h0m0 14h0m0 40h0m0 266h0m0 6h0m0 12h0m0 87h0m1-530h0m0 218h0m0 118h0m0 5h0m0 30h0m0 30h0m0 61h0m0 9h0m0 99h0m0 35h0m1-575h0m0 207h0m0 54h0m0 87h0m0 15h0m1-110h0m0 23h0m0 220h0m1-540h0m0 90h0m0 6h0m0 3h0m0 6h0m0 72h0m0 15h0m0 93h0m0 45h0m0 9h0m0 51h0m0 54h0m0 99h0m1-576h0m0 51h0m0 9h0m0 138h0m0 18h0m0 237h0m0 51h0m0 81h0m1-508h0m0 90h0m0 180h0m0 318h0m1-561h0m0 21h0m0 69h0m0 21h0m0 81h0m0 207h0m0 54h0m1-552h0m0 27h0m0 294h0m0 126h0m0 114h0m0 21h0m1-486h0m0 33h0m0 24h0m0 114h0m0 129h0m0 216h0m0 57h0m1-672h0m0 72h0m0 94h0m0 24h0m0 12h0m0 47h0m1-179h0m0 105h0m0 120h0m0 123h0m0 12h0m0 60h0m0 84h0m0 15h0m1-201h0m2-256h0m0 390h0m0 27h0m1-273h0m0 15h0m0 18h0m0 6h0m0 150h0m0 153h0m0 33h0m1-152h0m1-489h0m0 6h0m0 24h0m0 117h0m0 21h0m0 63h0m0 69h0m0 150h0m0 57h0m0 63h0m0 36h0m0 30h0m0 36h0m1-684h0m0 78h0m0 3h0m0 312h0m0 33h0m0 58h0m0 156h0m1-606h0m0 6h0m0 27h0m0 30h0m0 48h0m0 99h0m0 108h0m0 30h0m0 165h0m1-525h0m0 48h0m0 381h0m0 6h0m0 150h0m1-471h0m0 126h0m1-258h0m0 111h0m0 129h0m0 132h0m0 138h0m0 141h0m1-567h0m0 36h0m0 6h0m0 87h0m0 15h0m0 6h0m0 33h0m0 78h0m0 42h0m0 150h0m0 108h0m0 33h0m1-612h0m0 57h0m0 51h0m0 27h0m0 12h0m0 30h0m0 117h0m0 81h0m0 3h0m0 3h0m0 18h0m0 3h0m0 45h0m0 12h0m0 66h0m0 6h0m0 6h0m0 18h0m1-597h0m0 31h0m0 53h0m0 24h0m0 1h0m0 45h0m0 2h0m0 75h0m0 21h0m0 195h0m0 34h0m0 44h0m0 18h0m0 60h0m1-629h0m0 24h0m0 63h0m0 30h0m0 21h0m0 84h0m0 6h0m0 107h0m0 61h0m0 6h0m0 39h0m0 6h0m0 36h0m0 3h0m0 33h0m0 3h0m0 12h0m0 3h0m0 42h0m0 18h0m0 39h0m0 9h0m1-594h0m0 12h0m0 9h0m0 24h0m0 36h0m0 15h0m0 24h0m0 54h0m0 117h0m0 39h0m0 186h0m0 9h0m0 72h0m1-489h0m2-9h0m0 123h0m0 48h0m0 42h0m0 144h0m0 87h0m1-510h0m0 30h0m0 24h0m0 6h0m0 15h0m0 84h0m0 213h0m0 42h0m0 102h0m0 24h0m1-441h0m0 276h0m1-381h0m0 204h0m0 201h0m0 90h0m0 105h0m1-651h0m0 27h0m0 9h0m0 51h0m0 21h0m0 27h0m0 90h0m0 27h0m0 48h0m0 63h0m0 12h0m0 54h0m0 9h0m0 66h0m0 3h0m0 30h0m0 15h0m0 6h0m0 90h0m1-473h0m0 17h0m0 51h0m0 75h0m0 36h0m0 63h0m0 81h0m0 51h0m0 69h0m2-638h0m0 78h0m0 9h0m0 180h0m0 9h0m0 39h0m0 84h0m0 3h0m0 123h0m0 63h0m0 6h0m1-549h0m0 114h0m0 21h0m0 3h0m0 27h0m0 60h0m0 36h0m0 201h0m0 3h0m0 81h0m0 78h0m1-27h0m1-489h0m0 42h0m0 183h0m0 102h0m0 126h0m0 30h0m0 9h0m1-576h0m0 9h0m0 24h0m0 18h0m0 69h0m0 174h0m0 33h0m0 18h0m0 111h0m0 30h0m0 18h0m0 21h0m0 24h0m0 33h0m0 9h0m1-648h0m0 156h0m0 120h0m0 3h0m0 15h0m0 123h0m0 66h0m0 54h0m0 108h0m0 12h0m0 3h0m1-662h0m0 33h0m0 180h0m0 9h0m0 45h0m0 117h0m0 21h0m0 24h0m0 57h0m1-489h0m0 27h0m0 36h0m0 21h0m0 6h0m0 18h0m0 24h0m0 69h0m0 84h0m0 6h0m0 9h0m0 15h0m0 12h0m0 39h0m0 60h0m0 3h0m0 9h0m0 66h0m0 27h0m0 63h0m0 3h0m1-600h0m0 12h0m0 240h0m0 273h0m1-526h0m0 69h0m0 189h0m0 156h0m1-405h0m0 36h0m0 27h0m0 3h0m0 30h0m0 87h0m0 30h0m0 9h0m0 30h0m0 9h0m0 54h0m0 36h0m0 33h0m0 90h0m0 84h0m0 21h0m0 42h0m0 18h0m1-594h0m0 36h0m0 21h0m0 12h0m0 45h0m0 171h0m0 6h0m0 51h0m0 39h0m0 15h0m0 6h0m1-258h0m2-53h0m0 69h0m0 63h0m0 168h0m0 39h0m0 126h0m1-606h0m0 96h0m0 78h0m0 162h0m0 171h0m0 45h0m0 99h0m2-456h0m0 447h0m1-603h0m0 33h0m0 6h0m0 141h0m0 129h0m0 69h0m0 12h0m0 27h0m0 9h0m0 48h0m0 12h0m0 3h0m0 9h0m0 36h0m0 54h0m1-609h0m0 69h0m0 72h0m0 9h0m0 84h0m0 21h0m0 90h0m0 30h0m0 84h0m0 30h0m0 3h0m0 75h0m1-336h0m0 21h0m0 174h0m9-334h0m0 489h0m1-579h0m0 3h0m0 15h0m0 33h0m0 9h0m0 9h0m0 6h0m0 126h0m0 48h0m0 54h0m0 6h0m0 9h0m0 39h0m0 24h0m0 12h0m0 81h0m0 63h0m0 48h0m0 54h0m1-603h0m0 36h0m0 126h0m0 21h0m0 63h0m0 195h0m0 48h0m1 24h0m4-470h0m0 231h0m0 63h0m1-390h0m0 6h0m0 54h0m0 15h0m0 9h0m0 63h0m0 12h0m0 21h0m0 12h0m0 9h0m0 27h0m0 27h0m0 27h0m0 24h0m0 3h0m0 30h0m0 84h0m0 30h0m0 69h0m0 81h0m0 18h0m1-606h0m0 21h0m0 33h0m0 54h0m0 84h0m0 15h0m0 51h0m0 69h0m0 51h0m0 72h0m0 90h0m0 57h0m5-622h0m0 15h0m0 3h0m0 3h0m0 237h0m0 54h0m0 39h0m0 3h0m0 42h0m0 3h0m0 63h0m0 36h0m0 6h0m0 9h0m0 3h0m0 9h0m0 12h0m0 6h0m0 24h0m0 15h0m0 36h0m1-615h0m0 186h0m0 72h0m0 96h0m0 48h0m0 204h0m0 48h0m4-187h0m1-459h0m0 30h0m0 27h0m0 21h0m0 6h0m0 30h0m0 42h0m0 21h0m0 18h0m0 12h0m0 12h0m0 57h0m0 15h0m0 39h0m0 21h0m0 3h0m0 15h0m0 9h0m0 51h0m0 21h0m0 12h0m0 42h0m0 6h0m0 21h0m0 18h0m0 21h0m0 27h0m0 24h0m1-597h0m0 114h0m0 63h0m0 48h0m0 6h0m0 168h0m0 42h0m0 48h0m0 42h0m0 39h0m0 6h0m0 18h0m0 30h0m5-615h0m0 3h0m0 60h0m0 3h0m0 3h0m0 33h0m0 15h0m0 9h0m0 66h0m0 18h0m0 120h0m0 21h0m0 78h0m0 3h0m0 114h0m0 45h0m0 30h0m0 6h0m1-402h0m0 6h0m0 180h0m0 156h0m0 18h0m0 39h0m4-647h0m0 36h0m0 18h0m0 60h0m0 81h0m0 108h0m0 21h0m1-312h0m0 117h0m0 3h0m0 15h0m0 42h0m0 3h0m0 60h0m0 54h0m0 3h0m0 105h0m0 3h0m0 150h0m0 42h0m0 36h0m5-362h0m0 144h0m0 54h0m1-435h0m5-43h0m0 99h0m0 111h0m0 150h0m0 63h0m0 105h0m0 33h0m0 78h0m1-669h0m0 12h0m0 36h0m0 9h0m0 12h0m0 9h0m0 6h0m0 6h0m0 15h0m0 12h0m0 6h0m0 3h0m0 18h0m0 24h0m0 9h0m0 18h0m0 42h0m0 39h0m0 12h0m0 9h0m0 42h0m0 24h0m0 12h0m0 3h0m0 21h0m0 18h0m0 60h0m0 39h0m0 21h0m0 15h0m0 24h0m0 9h0m0 3h0m0 27h0m0 45h0m0 18h0m1-657h0m0 291h0m0 144h0m0 111h0m0 99h0m3-659h0m0 81h0m0 3h0m0 24h0m0 15h0m0 42h0m0 84h0m0 15h0m0 75h0m0 30h0m0 51h0m0 63h0m0 114h0m1-600h0m0 21h0m0 3h0m0 66h0m0 30h0m0 36h0m0 6h0m0 75h0m0 87h0m0 39h0m0 3h0m0 36h0m0 9h0m0 9h0m0 21h0m0 3h0m0 15h0m0 81h0m0 45h0m3-536h0m0 78h0m0 18h0m0 15h0m0 285h0m0 108h0m1-549h0m0 249h0m2 389h0m1-588h0m0 282h0m0 153h0m1-369h0m0 300h0m0 114h0m0 69h0m5-595h0m0 36h0m0 51h0m0 18h0m0 48h0m0 75h0m0 24h0m0 36h0m0 78h0m0 9h0m0 36h0m0 48h0m0 21h0m0 39h0m0 96h0m0 18h0m0 33h0m1-624h0m0 36h0m0 33h0m0 3h0m0 36h0m0 42h0m0 54h0m0 24h0m0 27h0m0 72h0m0 18h0m0 78h0m0 6h0m0 24h0m0 75h0m0 27h0m0 9h0m0 3h0m0 30h0m0 3h0m1-99h0m3-354h0m0 159h0m1-315h0m0 75h0m0 9h0m0 24h0m0 15h0m0 60h0m0 45h0m0 69h0m0 42h0m0 12h0m0 153h0m0 48h0m0 27h0m1-624h0m0 18h0m0 36h0m0 261h0m0 141h0m0 42h0m0 6h0m0 147h0m0 6h0m3-164h0m0 117h0m1-546h0m0 15h0m0 6h0m0 135h0m0 102h0m0 156h0m0 39h0m0 24h0m0 81h0m0 15h0m1-585h0m0 612h0m8-540h0m0 429h0m0 84h0m1-639h0m0 27h0m0 60h0m0 12h0m0 51h0m0 21h0m0 45h0m0 33h0m0 18h0m0 3h0m0 27h0m0 9h0m0 48h0m0 57h0m0 9h0m0 15h0m0 3h0m0 18h0m0 9h0m0 30h0m0 24h0m0 6h0m0 12h0m0 15h0m0 15h0m0 9h0m0 18h0m0 60h0m0 3h0m1-654h0m0 36h0m0 21h0m0 51h0m0 63h0m0 18h0m0 81h0m0 12h0m0 1h0m0 53h0m0 27h0m0 9h0m0 30h0m0 108h0m0 18h0m0 3h0m0 27h0m0 120h0m1-614h0m0 27h0m0 6h0m0 18h0m0 27h0m0 6h0m0 66h0m0 231h0m0 36h0m0 18h0m0 108h0m0 66h0m1-639h0m0 3h0m0 24h0m0 60h0m0 15h0m0 90h0m0 81h0m0 19h0m0 65h0m0 3h0m0 54h0m0 30h0m0 132h0m1-581h0m0 53h0m0 64h0m0 75h0m0 15h0m0 21h0m0 12h0m0 12h0m0 21h0m0 30h0m0 9h0m0 2h0m0 4h0m0 27h0m0 21h0m0 9h0m0 60h0m0 48h0m0 33h0m0 6h0m0 42h0m1-597h0m0 13h0m0 198h0m0 86h0m0 220h0m0 41h0m0 66h0m0 51h0m1-599h0m0 177h0m0 14h0m0 139h0m0 105h0m0 150h0m1-258h0m1-394h0m0 49h0m0 263h0m0 30h0m0 111h0m0 93h0m1-510h0m0 3h0m0 18h0m0 15h0m0 249h0m0 78h0m0 228h0m0 48h0m1-570h0m0 57h0m0 417h0m1-576h0m0 48h0m0 300h0m0 21h0m0 18h0m0 36h0m0 18h0m0 39h0m0 111h0m0 9h0m1-585h0m0 123h0m0 246h0m0 153h0m0 120h0m1-657h0m0 54h0m0 3h0m0 195h0m0 102h0m0 75h0m0 15h0m0 0h0m0 138h0m0 39h0m0 30h0m0 15h0m1-603h0m1 27h0m0 126h0m0 111h0m1-282h0m0 201h0m0 30h0m0 54h0m0 84h0m0 115h0m1-390h0m0 53h0m0 103h0m0 15h0m0 62h0m0 166h0m1-363h0m0 6h0m0 33h0m0 50h0m0 88h0m0 75h0m1-337h0m0 21h0m0 274h0m0 11h0m0 70h0m0 47h0m1-141h0m0 36h0m0 153h0"/><path stroke="#f9983e" d="M184 120h0"/><path stroke="#fdb52e" d="M3 28h0m0 42h0m0 231h0m4 131h0m6-297h0m5 333h0m6-195h0m6 214h0m6 143h0m5-114h0m13-293h0m18-127h0m5 78h0m1 261h0m34-33h0m29 84h0m0 9h0m12-290h0m12 278h0m0 66h0m15-110h0m7-78h0m1-226h0"/><path stroke="#f48849" d="M589 558h0m13-19h0m57-104h0m2 9h0m122-5h0"/><path stroke="#bf3984" d="M561 357h0"/><path stroke="#f0804e" d="M431 568h0m182-221h0m315 215h0m3-199h0"/><path stroke="#cb4679" d="M876 533h0"/><path stroke="#ec7754" d="M434 501h0"/><path stroke="#e4695e" d="M444 562h0m160-15h0m94-58h0m86 119h0"/><path stroke="#fdb52e" d="M208 342h0m7-223h0m0 495h0m3-473h0m5-95h0m1 180h0m17 96h0m8-105h0m5 164h0m5-72h0m5 129h0m2-396h0m3 456h0m1-474h0m0 477h0m8-10h0m6-383h0m2-14h0m6 296h0m5-87h0m97 52h0m103 168h0m29-131h0m11 121h0m6-24h0m14-109h0m80 120h0m18-135h0m4-24h0m97 73h0m10 56h0m1 83h0m6-82h0m0 108h0m1-74h0m16-122h0m2-241h0m7 357h0m9-6h0m16-26h0m99 27h0"/><path stroke="#fec029" d="M200 132h0m3-36h0m7 404h0m6-15h0m1-374h0m1 33h0m1-114h0m0 168h0m9 318h0m6-155h0m0 171h0m2-133h0m5-248h0m0 321h0m3-84h0m2 228h0m2-75h0m2-451h0m3 136h0m3 61h0m0 33h0m3 118h0m11-255h0m2 35h0m0 162h0m0 123h0m1-225h0m1-189h0m1 126h0m6 472h0m1-567h0m1 222h0m5-107h0m4 2h0m0 255h0m0 75h0m3 109h0m2-121h0m0 102h0m1-642h0m0 258h0m1-256h0m0 576h0m1 42h0m5-555h0m0 615h0m3-468h0m0 171h0m1-99h0m152 212h0m25-174h0m96 48h0m10 80h0m9 92h0m34-138h0m8-122h0m15 79h0m37-71h0m0 11h0m47 319h0m8-46h0m1-289h0m1 178h0m4 79h0m7-180h0m4 122h0m0 87h0m5-310h0m0 258h0m2 3h0m9-313h0m1-90h0m0 156h0m0 150h0m0 111h0m8-316h0m0 174h0m0 216h0m1-309h0m6-224h0m0 306h0m0 24h0m0 24h0m0 189h0m0 3h0m0 6h0m0 6h0m14-341h0m4 377h0m7-276h0m7 48h0m19-208h0m4 148h0m66 38h0m2 46h0m0 126h0m1-543h0m2 208h0m8-131h0m0 402h0m1-57h0m0 75h0m1-429h0"/><path stroke="#f79044" d="M308 320h0m172 95h0m343-90h0"/><path stroke="#f9983e" d="M297 285h0m156 266h0m116-82h0m52-28h0m55 17h0m28 144h0m65-237h0m11 107h0m47-8h0"/><path stroke="#fdca26" d="M202 243h0m0 192h0m1-168h0m1-138h0m3 171h0m0 48h0m0 156h0m1-69h0m1-69h0m0 285h0m1-37h0m4-380h0m0 164h0m1-117h0m0 387h0m1-633h0m0 447h0m1-215h0m0 165h0m1-225h0m4-188h0m0 147h0m0 258h0m0 12h0m1-198h0m1 24h0m2-235h0m2 6h0m0 204h0m6-41h0m4 260h0m1-228h0m3 403h0m1-363h0m1-96h0m1 123h0m1 171h0m1 24h0m0 45h0m1-288h0m0 141h0m0 9h0m1-304h0m1 315h0m0 45h0m1-291h0m2-119h0m0 327h0m0 291h0m1-589h0m1 348h0m2-370h0m0 369h0m1-365h0m3 165h0m1 381h0m1-144h0m1 240h0m1-507h0m1 36h0m1-174h0m2 279h0m0 189h0m2-508h0m1 465h0m1-405h0m0 183h0m1 90h0m0 351h0m2-551h0m1 195h0m0 204h0m1-220h0m0 291h0m1-477h0m0 510h0m3-200h0m0 159h0m2-255h0m0 150h0m0 141h0m0 45h0m1-38h0m3-3h0m1-573h0m0 333h0m1-304h0m0 99h0m0 447h0m2-555h0m0 147h0m0 27h0m0 54h0m2-263h0m0 318h0m0 63h0m3 191h0m1-553h0m0 33h0m0 13h0m0 191h0m0 9h0m0 21h0m0 25h0m0 221h0m1-360h0m9-99h0m0 363h0m1-225h0m0 66h0m0 54h0m0 117h0m0 177h0m158-227h0m124-53h0m8-22h0m27-19h0m12-45h0m3 150h0m3-150h0m1 227h0m10-185h0m4 127h0m18-352h0m0 280h0m0 139h0m1-133h0m25 67h0m9-33h0m23-94h0m15-215h0m0 441h0m17-453h0m0 156h0m0 213h0m0 123h0m5-595h0m3 473h0m8-462h0m0 243h0m0 132h0m1-384h0m0 372h0m3-83h0m5-110h0m0 54h0m0 399h0m1-144h0m0 168h0m6-647h0m0 27h0m0 123h0m0 63h0m0 57h0m0 24h0m0 57h0m0 9h0m0 48h0m1-351h0m0 429h0m5 18h0m16-83h0m7-117h0m6 40h0m35-21h0m24-62h0m2 247h0m18-32h0m8-141h0m0 49h0m1-309h0m0 75h0m0 72h0m0 111h0m0 27h0m0 90h0m0 15h0m7-113h0m2 70h0m2-372h0m0 6h0m0 81h0m0 414h0m0 30h0m1-567h0m0 9h0m0 219h0m0 252h0"/><path stroke="#de6164" d="M550 446h0m304-127h0"/><path stroke="#e76f5a" d="M904 546h0m10-100h0"/><path stroke="#fdac33" d="M221 172h0m28 233h0m48-234h0m254 230h0m69 40h0m155-53h0m43 50h0m74 27h0m22-89h0m8 286h0m12-535h0m0 180h0"/><path stroke="#fba238" d="M215 200h0m55 106h0m11 45h0m65 57h0m193-45h0m21 11h0m12 99h0m97-44h0m25-3h0m37 82h0m21-139h0m44 107h0m12-130h0m35 104h0m15-121h0m12 99h0m5 7h0m17-116h0"/><path stroke="#f8df25" d="M200 192h0m0 81h0m0 12h0m0 189h0m0 36h0m1-450h0m0 21h0m0 105h0m0 276h0m0 207h0m1-534h0m0 153h0m0 60h0m0 81h0m0 102h0m0 15h0m0 138h0m1-408h0m0 99h0m0 129h0m0 9h0m1-321h0m0 12h0m0 120h0m0 45h0m0 6h0m0 111h0m1-471h0m0 225h0m0 93h0m0 30h0m0 60h0m0 189h0m1-555h0m0 96h0m0 6h0m0 168h0m0 33h0m0 24h0m1-45h0m0 162h0m0 27h0m0 36h0m1-276h0m1-273h0m0 114h0m0 120h0m0 12h0m0 24h0m0 54h0m0 21h0m0 93h0m0 30h0m0 9h0m0 33h0m0 45h0m0 30h0m0 56h0m1-588h0m0 243h0m0 39h0m0 55h0m0 161h0m0 15h0m0 93h0m1-660h0m0 27h0m0 6h0m0 27h0m0 108h0m0 57h0m0 9h0m0 30h0m0 45h0m0 306h0m0 36h0m0 3h0m1-492h0m0 144h0m1-170h0m0 201h0m1-312h0m0 141h0m0 261h0m0 213h0m0 27h0m1-643h0m0 39h0m0 57h0m0 276h0m0 21h0m0 120h0m1-444h0m0 216h0m0 27h0m0 75h0m0 81h0m0 42h0m0 30h0m0 54h0m0 30h0m1-386h0m0 114h0m0 57h0m0 36h0m0 201h0m1-660h0m0 108h0m0 54h0m0 6h0m0 30h0m0 42h0m0 114h0m0 33h0m0 93h0m1-447h0m0 81h0m0 9h0m0 48h0m0 33h0m0 51h0m0 24h0m0 201h0m0 114h0m0 42h0m1-204h0m1-395h0m0 50h0m0 142h0m0 8h0m0 214h0m0 69h0m0 83h0m1-587h0m0 45h0m0 36h0m0 9h0m0 51h0m0 45h0m0 18h0m0 6h0m0 45h0m0 108h0m0 102h0m0 117h0m0 18h0m0 21h0m1-645h0m0 93h0m0 48h0m0 45h0m0 48h0m0 114h0m0 225h0m1-567h0m0 21h0m0 147h0m0 150h0m0 30h0m0 111h0m0 60h0m0 9h0m0 135h0m1-603h0m1-61h0m0 3h0m0 54h0m0 27h0m0 24h0m0 270h0m0 147h0m0 9h0m1-447h0m0 24h0m0 81h0m0 276h0m0 165h0m1-543h0m0 138h0m0 84h0m0 120h0m0 15h0m0 54h0m0 24h0m0 72h0m0 33h0m1-630h0m0 3h0m0 246h0m0 309h0m0 18h0m0 57h0m0 27h0m1-659h0m0 99h0m0 63h0m0 39h0m0 18h0m0 41h0m0 256h0m0 29h0m1-455h0m0 48h0m0 237h0m0 234h0m0 24h0m1-571h0m0 174h0m0 18h0m0 96h0m0 21h0m0 48h0m0 156h0m1-582h0m0 6h0m0 129h0m0 75h0m0 201h0m0 12h0m0 51h0m0 12h0m0 157h0m1-642h0m0 3h0m0 66h0m0 42h0m0 17h0m0 43h0m0 6h0m0 75h0m0 42h0m0 93h0m0 66h0m0 54h0m0 138h0m1-144h0m0 45h0m1-172h0m0 30h0m0 39h0m0 108h0m0 30h0m1-330h0m0 3h0m0 102h0m0 138h0m0 123h0m1-477h0m0 30h0m1-159h0m0 90h0m0 159h0m0 171h0m0 60h0m0 120h0m1-264h0m0 16h0m0 101h0m1-464h0m0 30h0m0 99h0m0 30h0m0 9h0m0 24h0m0 84h0m0 3h0m0 237h0m0 114h0m1-630h0m0 63h0m0 42h0m0 165h0m0 12h0m0 57h0m0 225h0m1-486h0m0 54h0m0 9h0m0 192h0m0 9h0m0 174h0m0 72h0m0 39h0m1-489h0m0 24h0m0 45h0m0 30h0m0 51h0m0 42h0m0 27h0m0 54h0m0 150h0m1-369h0m0 132h0m0 33h0m0 12h0m0 306h0m1-642h0m0 9h0m0 27h0m0 12h0m0 36h0m0 72h0m0 24h0m0 69h0m0 180h0m1-408h0m0 51h0m0 21h0m0 126h0m0 75h0m0 78h0m0 36h0m0 111h0m0 42h0m1-561h0m0 12h0m0 381h0m0 183h0m1-124h0m1-360h0m0 39h0m0 27h0m0 9h0m0 66h0m0 9h0m0 66h0m0 12h0m0 96h0m0 75h0m1-510h0m0 321h0m0 72h0m0 33h0m0 87h0m0 90h0m1-440h0m0 6h0m0 93h0m0 345h0m0 45h0m0 12h0m1-660h0m0 3h0m0 168h0m0 384h0m0 36h0m1-376h0m0 78h0m0 82h0m0 249h0m0 26h0m1-396h0m0 123h0m0 66h0m0 45h0m1-430h0m0 120h0m0 135h0m0 156h0m0 15h0m0 9h0m0 6h0m0 63h0m0 54h0m1-591h0m0 30h0m0 39h0m0 15h0m0 54h0m0 48h0m0 87h0m0 303h0m0 51h0m2-590h0m0 6h0m0 33h0m0 63h0m0 183h0m0 9h0m0 6h0m0 150h0m0 111h0m1-297h0m0 252h0m0 3h0m1-600h0m0 96h0m0 93h0m0 84h0m0 81h0m0 303h0m0 21h0m1-630h0m0 39h0m0 165h0m0 111h0m0 141h0m0 48h0m0 45h0m1-543h0m0 60h0m0 81h0m0 198h0m0 87h0m0 60h0m1-414h0m0 27h0m0 24h0m0 63h0m0 417h0m0 3h0m1-501h0m0 216h0m0 141h0m0 21h0m0 117h0m1-657h0m0 78h0m0 294h0m0 141h0m0 63h0m1-510h0m0 243h0m2-309h0m0 120h0m0 201h0m0 81h0m1-375h0m0 156h0m0 39h0m0 33h0m0 129h0m0 258h0m1-598h0m0 33h0m0 27h0m0 150h0m0 63h0m0 204h0m0 105h0m1-531h0m0 12h0m0 93h0m0 15h0m0 54h0m0 63h0m0 60h0m0 54h0m0 120h0m0 51h0m1-81h0m0 15h0m0 39h0m1-573h0m0 207h0m0 147h0m1-330h0m0 63h0m0 15h0m0 24h0m0 70h0m0 266h0m1-227h0m0 45h0m0 186h0m1-372h0m0 63h0m0 177h0m0 204h0m0 78h0m1-319h0m0 39h0m1 9h0m0 12h0m0 195h0m0 117h0m1-686h0m0 132h0m0 12h0m0 74h0m0 388h0m1-603h0m0 0h0m0 114h0m0 9h0m0 66h0m0 150h0m0 24h0m0 96h0m0 99h0m0 69h0m0 18h0m1-609h0m0 33h0m0 39h0m0 69h0m0 120h0m0 21h0m0 69h0m0 33h0m0 81h0m0 51h0m0 15h0m0 96h0m1-573h0m0 27h0m0 141h0m0 18h0m0 18h0m0 120h0m0 174h0m1-564h0m0 24h0m0 52h0m0 45h0m0 11h0m0 118h0m0 11h0m0 57h0m0 139h0m0 104h0m0 63h0m0 30h0m1-596h0m0 51h0m0 69h0m0 32h0m0 97h0m0 51h0m0 144h0m0 3h0m0 81h0m0 6h0m1-426h0m0 102h0m0 78h0m0 51h0m0 27h0m0 36h0m0 27h0m1-477h0m0 21h0m0 54h0m0 237h0m0 12h0m0 6h0m0 15h0m0 75h0m0 84h0m0 96h0m1-564h0m0 42h0m0 36h0m0 54h0m0 9h0m0 153h0m0 18h0m0 75h0m0 60h0m1-442h0m0 100h0m0 39h0m0 27h0m0 195h0m0 53h0m0 130h0m0 47h0m1-602h0m0 33h0m0 101h0m0 9h0m0 120h0m0 84h0m0 159h0m1-546h0m0 39h0m0 75h0m0 168h0m0 60h0m1-357h0m0 225h0m0 51h0m0 69h0m0 6h0m0 108h0m0 27h0m0 90h0m0 48h0m0 9h0m1-629h0m0 98h0m0 105h0m0 268h0m0 62h0m0 27h0m0 33h0m1-605h0m0 129h0m0 66h0m0 198h0m0 75h0m0 3h0m1-354h0m0 255h0m0 3h0m0 42h0m0 159h0m0 39h0m0 12h0m0 27h0m1-627h0m0 105h0m0 12h0m0 177h0m0 156h0m0 36h0m0 36h0m1-538h0m0 66h0m0 6h0m0 15h0m0 3h0m0 3h0m0 36h0m0 12h0m0 15h0m0 9h0m0 60h0m0 48h0m0 18h0m0 18h0m0 3h0m0 18h0m0 15h0m0 15h0m0 54h0m0 48h0m0 45h0m0 51h0m0 30h0m0 9h0m0 21h0m0 3h0m0 15h0m0 15h0m0 15h0m0 3h0m1-643h0m0 88h0m0 14h0m0 34h0m0 9h0m0 5h0m0 42h0m0 12h0m0 34h0m0 8h0m0 9h0m0 7h0m0 15h0m0 26h0m0 12h0m0 37h0m0 6h0m0 18h0m0 27h0m0 6h0m0 59h0m0 1h0m0 24h0m0 29h0m0 1h0m0 53h0m0 39h0m0 7h0m0 14h0m0 3h0m1-651h0m0 30h0m0 30h0m0 30h0m0 12h0m0 3h0m0 3h0m0 12h0m0 3h0m0 36h0m0 48h0m0 6h0m0 42h0m0 6h0m0 87h0m0 12h0m0 18h0m0 3h0m0 3h0m0 6h0m0 3h0m0 15h0m0 6h0m0 6h0m0 27h0m0 3h0m0 3h0m0 117h0m0 39h0m0 12h0m0 18h0m1-414h0m0 174h0m0 69h0m3-453h0m1-18h0m0 27h0m0 75h0m0 69h0m0 75h0m0 12h0m0 54h0m0 48h0m0 57h0m0 18h0m0 72h0m0 18h0m1-411h0m0 141h0m0 39h0m0 24h0m0 147h0m0 15h0m0 36h0m0 33h0m0 48h0m0 54h0m1-618h0m0 276h0m0 36h0m2-339h0m0 15h0m0 9h0m0 42h0m0 15h0m0 303h0m0 105h0m0 15h0m0 72h0m0 36h0m1-633h0m0 12h0m0 12h0m0 9h0m0 63h0m0 3h0m0 69h0m0 3h0m0 6h0m0 21h0m0 39h0m0 63h0m0 9h0m0 45h0m0 15h0m0 24h0m0 48h0m0 81h0m0 30h0m0 3h0m0 72h0m0 12h0m1-420h0m0 48h0m0 6h0m175 196h0m55 78h0m2 103h0m149-179h0m58 167h0m1-237h0m0 48h0m0 45h0m0 24h0m0 18h0m0 21h0m1-495h0m0 78h0m0 42h0m0 48h0m0 24h0m0 60h0m0 132h0m0 6h0m0 135h0m0 33h0m1-579h0m0 267h0m5-233h0m1 207h0m0 21h0m8-22h0m1-273h0m0 108h0m0 3h0m0 54h0m0 42h0m0 12h0m0 120h0m0 45h0m0 6h0m0 60h0m0 24h0m0 36h0m0 36h0m0 15h0m0 27h0m1-273h0m0 147h0m3-79h0m1-387h0m0 9h0m0 123h0m0 123h0m0 12h0m0 72h0m0 6h0m0 24h0m0 30h0m0 51h0m0 21h0m0 33h0m0 66h0m0 3h0m0 63h0m0 6h0m1-651h0m0 3h0m0 21h0m0 57h0m0 39h0m0 93h0m0 9h0m0 81h0m0 36h0m0 24h0m0 81h0m0 3h0m0 168h0m0 24h0m0 3h0m0 30h0m0 3h0m2-144h0m1 26h0m7-549h0m0 12h0m0 33h0m0 42h0m0 60h0m0 18h0m0 15h0m0 21h0m0 12h0m0 24h0m0 54h0m0 33h0m0 36h0m0 3h0m0 3h0m0 18h0m0 9h0m0 39h0m0 36h0m0 33h0m0 66h0m0 75h0m1-651h0m0 57h0m0 33h0m0 3h0m0 66h0m0 36h0m0 54h0m0 63h0m0 6h0m0 6h0m0 18h0m0 3h0m0 33h0m0 3h0m0 30h0m0 45h0m0 27h0m0 30h0m0 24h0m0 12h0m0 33h0m0 12h0m0 27h0m0 6h0m0 12h0m0 42h0m1-663h0m0 9h0m0 3h0m0 189h0m0 396h0m6-448h0m0 66h0m0 153h0m0 15h0m0 27h0m0 90h0m0 36h0m0 57h0m0 27h0m1-594h0m0 48h0m0 21h0m0 6h0m0 51h0m0 36h0m0 3h0m0 3h0m0 12h0m0 21h0m0 18h0m0 12h0m0 30h0m0 30h0m0 48h0m0 21h0m0 12h0m0 78h0m0 3h0m0 18h0m0 9h0m0 39h0m0 24h0m0 18h0m0 39h0m0 12h0m0 12h0m0 9h0m1-612h0m0 312h0m0 87h0m0 216h0m5-572h0m0 165h0m0 30h0m0 84h0m0 36h0m0 63h0m0 18h0m0 18h0m0 45h0m0 36h0m0 21h0m0 21h0m1-651h0m0 24h0m0 12h0m0 15h0m0 18h0m0 15h0m0 9h0m0 6h0m0 9h0m0 12h0m0 3h0m0 3h0m0 12h0m0 18h0m0 21h0m0 30h0m0 42h0m0 3h0m0 3h0m0 36h0m0 60h0m0 12h0m0 21h0m0 30h0m0 3h0m0 3h0m0 12h0m0 39h0m0 3h0m0 3h0m0 6h0m0 12h0m0 30h0m0 6h0m0 39h0m0 15h0m0 3h0m0 6h0m0 6h0m0 3h0m0 12h0m0 6h0m0 21h0m0 24h0m0 9h0m0 3h0m1-504h0m0 12h0m0 3h0m0 9h0m0 6h0m0 9h0m0 117h0m0 78h0m0 147h0m63-108h0m13-130h0m44-2h0m0 348h0m1-555h0m0 6h0m0 9h0m0 21h0m0 9h0m0 30h0m0 12h0m0 24h0m0 6h0m0 18h0m0 48h0m0 57h0m0 12h0m0 66h0m0 33h0m0 39h0m0 57h0m0 36h0m0 21h0m0 27h0m1-624h0m0 18h0m0 18h0m0 12h0m0 21h0m0 15h0m0 3h0m0 9h0m0 9h0m0 9h0m0 27h0m0 21h0m0 27h0m0 63h0m0 12h0m0 6h0m0 3h0m0 6h0m0 6h0m0 24h0m0 15h0m0 15h0m0 18h0m0 69h0m0 27h0m0 39h0m0 45h0m0 9h0m0 6h0m0 3h0m0 12h0m0 24h0m0 66h0m1-108h0m10-526h0m0 39h0m0 6h0m0 63h0m0 36h0m0 12h0m0 60h0m0 3h0m0 9h0m0 39h0m0 57h0m0 93h0m0 81h0m0 51h0m0 15h0m1-588h0m0 54h0m0 21h0m0 6h0m0 3h0m0 3h0m0 3h0m0 45h0m0 6h0m0 3h0m0 3h0m0 45h0m0 72h0m0 15h0m0 18h0m0 42h0m0 48h0m0 12h0m0 24h0m0 6h0m0 42h0m0 12h0m0 3h0m0 15h0m0 6h0m0 27h0m0 108h0"/><path stroke="#fbd524" d="M201 429h0m0 216h0m1-588h0m0 120h0m0 45h0m0 417h0m1-114h0m0 9h0m1-501h0m0 18h0m0 567h0m1-216h0m1-261h0m0 255h0m0 57h0m2-282h0m0 222h0m1-183h0m1-46h0m0 63h0m0 45h0m0 45h0m1-216h0m0 255h0m0 63h0m0 105h0m1 91h0m1-402h0m0 81h0m0 30h0m1-309h0m0 77h0m1 150h0m0 381h0m1-183h0m1-417h0m0 58h0m0 18h0m0 72h0m0 120h0m0 351h0m2-468h0m0 111h0m0 276h0m1-441h0m0 90h0m0 429h0m1-545h0m0 483h0m2 78h0m1-414h0m0 237h0m1 12h0m1-301h0m1-36h0m0 387h0m1-510h0m0 138h0m0 66h0m0 93h0m0 363h0m1-675h0m0 39h0m0 126h0m0 225h0m1-270h0m0 481h0m1-316h0m0 289h0m0 45h0m0 12h0m0 6h0m1-535h0m0 231h0m1 348h0m1-614h0m0 189h0m0 66h0m0 168h0m0 33h0m0 45h0m2 77h0m1-630h0m2-15h0m0 15h0m0 18h0m0 24h0m0 51h0m0 84h0m0 150h0m0 81h0m1-398h0m0 95h0m0 4h0m0 105h0m0 41h0m0 238h0m1-192h0m0 30h0m0 249h0m0 78h0m1-558h0m0 39h0m0 465h0m1-615h0m0 387h0m0 108h0m0 84h0m2-582h0m0 156h0m1 3h0m0 258h0m0 222h0m1-363h0m1-51h0m0 15h0m1 195h0m1-217h0m0 264h0m0 90h0m1-450h0m1 256h0m1-111h0m0 174h0m0 30h0m0 114h0m1-457h0m0 27h0m0 372h0m1-360h0m0 330h0m1-364h0m0 204h0m1-161h0m0 41h0m0 30h0m0 135h0m0 276h0m1-308h0m0 48h0m0 185h0m1-566h0m0 228h0m0 231h0m0 63h0m2-132h0m0 51h0m0 12h0m1 189h0m1-648h0m0 24h0m0 378h0m0 3h0m1 96h0m0 21h0m0 24h0m1-294h0m1-96h0m0 114h0m0 33h0m0 330h0m3-183h0m0 156h0m1-558h0m1 569h0m1-327h0m0 138h0m1-231h0m1-207h0m0 66h0m0 123h0m0 360h0m0 30h0m1-564h0m0 45h0m0 210h0m0 60h0m0 273h0m1-605h0m0 95h0m1 67h0m0 138h0m0 111h0m0 251h0m1-396h0m0 33h0m1 186h0m0 43h0m1-477h0m0 147h0m0 60h0m0 18h0m0 119h0m1-59h0m0 207h0m0 117h0m1-513h0m0 207h0m0 168h0m0 36h0m1-438h0m0 513h0m1-482h0m0 15h0m1-72h0m0 183h0m0 12h0m0 18h0m0 243h0m0 75h0m1-615h0m0 60h0m0 72h0m0 354h0m0 45h0m1-495h0m0 18h0m0 66h0m0 198h0m0 123h0m0 105h0m0 36h0m1-579h0m0 594h0m1-513h0m0 119h0m1-204h0m0 105h0m0 309h0m0 70h0m1-400h0m0 156h0m1 42h0m0 180h0m1-401h0m0 348h0m1-357h0m0 12h0m0 243h0m0 12h0m0 42h0m0 210h0m0 36h0m0 6h0m1-597h0m0 366h0m0 111h0m0 90h0m0 84h0m1-543h0m1-13h0m0 162h0m0 240h0m0 105h0m0 27h0m1-651h0m0 264h0m0 170h0m0 60h0m1-429h0m0 270h0m0 27h0m0 171h0m0 15h0m0 48h0m0 24h0m0 60h0m5-345h0m1-39h0m0 90h0m1-174h0m2-72h0m0 39h0m0 96h0m0 9h0m0 51h0m0 279h0m1-606h0m0 48h0m0 6h0m0 108h0m0 195h0m0 3h0m0 129h0m0 3h0m0 12h0m0 30h0m0 63h0m0 24h0m0 12h0m1-546h0m0 72h0m0 60h0m0 84h0m0 207h0m168-141h0m11 43h0m12 91h0m2-120h0m14 184h0m5-42h0m12-190h0m10-7h0m4 64h0m9 128h0m1-250h0m6 283h0m3 3h0m2-116h0m25 30h0m5-32h0m1-83h0m14-92h0m8 90h0m15 56h0m13 56h0m11-75h0m47-64h0m7 228h0m7-329h0m20 128h0m8-246h0m0 225h0m0 54h0m0 24h0m1 60h0m0 96h0m2-565h0m4 476h0m8-38h0m1 181h0m1-600h0m0 468h0m1-291h0m4-139h0m0 219h0m0 42h0m0 54h0m0 87h0m0 150h0m1-582h0m0 189h0m0 195h0m0 57h0m0 159h0m7-173h0m3-398h0m0 114h0m0 12h0m0 12h0m0 27h0m0 51h0m0 144h0m0 6h0m0 111h0m0 21h0m1-561h0m0 81h0m0 3h0m0 66h0m0 108h0m0 36h0m0 39h0m0 18h0m0 114h0m0 51h0m0 6h0m0 15h0m0 78h0m0 6h0m0 18h0m7-640h0m0 9h0m0 420h0m1-432h0m0 18h0m0 12h0m0 108h0m0 120h0m0 12h0m0 72h0m0 285h0m0 33h0m1-312h0m0 96h0m5-434h0m0 24h0m0 36h0m0 183h0m0 228h0m1-483h0m0 24h0m0 39h0m0 24h0m0 6h0m0 99h0m0 51h0m0 75h0m0 6h0m0 27h0m0 3h0m0 42h0m0 54h0m0 99h0m0 27h0m0 18h0m0 21h0m0 36h0m0 3h0m0 15h0m1-531h0m0 51h0m0 390h0m6-137h0m22 19h0m29-91h0m13 48h0m4-120h0m47-169h0m0 117h0m0 63h0m0 87h0m0 24h0m0 46h0m0 47h0m0 57h0m0 81h0m0 33h0m1-666h0m0 24h0m0 30h0m0 42h0m0 42h0m0 12h0m0 21h0m0 18h0m0 99h0m0 18h0m0 3h0m0 21h0m0 6h0m0 30h0m0 18h0m0 60h0m0 36h0m0 33h0m0 42h0m0 3h0m0 39h0m1-582h0m10-7h0m0 180h0m0 183h0m0 42h0m0 27h0m0 96h0m0 39h0m1-531h0m0 6h0m0 156h0m0 9h0m0 129h0m0 33h0m0 24h0m0 222h0m0 42h0"/><path stroke="#fdb52e" d="M201 693h0m6-531h0m0 36h0m4-40h0m0 231h0m1 304h0m22-515h0m2 74h0m34 36h0m1-73h0m2-129h0m16 125h0m10 448h0m5-501h0m14 410h0m44-196h0m22 10h0m77 60h0m15-110h0m235 146h0m1-98h0m0 138h0m11-181h0m28 15h0m22 140h0m11-199h0m0 183h0m0 141h0m8-580h0m0 489h0m1-231h0m5 196h0m1-216h0m1 114h0m9 118h0m28-82h0m13 101h0m6-190h0m1-51h0m17 235h0m13-232h0m18 20h0m16 111h0m1-132h0m1-13h0m0 70h0"/><path stroke="#f79044" d="M487 549h0m153 18h0m6-133h0m38 113h0m82-103h0"/><path stroke="#ec7754" d="M353 553h0m137-3h0m295-56h0"/><path stroke="#d35171" d="M582 445h0"/><path stroke="#f48849" d="M625 307h0m142-144h0m46 474h0"/><path stroke="#fbd524" d="M200 183h0m0 222h0m1 84h0m1-474h0m0 12h0m0 6h0m0 45h0m0 96h0m0 21h0m0 57h0m1-198h0m0 348h0m1-381h0m0 48h0m0 183h0m0 240h0m0 129h0m1-351h0m0 192h0m0 57h0m1-6h0m1-204h0m0 267h0m1-165h0m1-313h0m0 409h0m1-465h0m0 29h0m0 357h0m0 51h0m1-306h0m0 171h0m0 39h0m0 135h0m0 81h0m0 60h0m0 36h0m1-450h0m0 57h0m2-230h0m0 371h0m0 127h0m1-430h0m0 558h0m1-372h0m2-170h0m1 330h0m0 114h0m1-534h0m0 162h0m0 207h0m1 91h0m1-435h0m0 282h0m0 135h0m1-474h0m0 222h0m0 123h0m0 150h0m0 9h0m0 33h0m1-465h0m0 393h0m1-327h0m0 495h0m1-634h0m0 246h0m0 222h0m0 108h0m1-471h0m1 243h0m0 108h0m0 207h0m1-669h0m0 201h0m0 108h0m0 48h0m0 147h0m1-68h0m1 104h0m0 61h0m1-586h0m0 321h0m0 159h0m0 159h0m1-633h0m0 33h0m0 340h0m0 45h0m1-24h0m0 21h0m0 159h0m1-598h0m0 109h0m0 456h0m2-406h0m0 309h0m0 135h0m1-606h0m0 234h0m0 162h0m1 78h0m0 48h0m1-152h0m0 83h0m0 123h0m1-560h0m0 198h0m1 318h0m1-510h0m0 141h0m0 360h0m1-420h0m0 240h0m1-285h0m0 318h0m0 117h0m1-312h0m0 24h0m0 60h0m1-57h0m0 84h0m1-261h0m0 21h0m0 414h0m1-441h0m0 363h0m1-394h0m0 105h0m0 261h0m0 18h0m0 162h0m1-396h0m0 18h0m1 46h0m0 252h0m0 84h0m1-357h0m0 345h0m1-537h0m0 254h0m0 327h0m1-585h0m0 216h0m0 93h0m0 306h0m0 21h0m1-486h0m0 491h0m1-483h0m0 111h0m1-68h0m0 138h0m0 114h0m1-423h0m0 87h0m0 153h0m0 162h0m0 204h0m0 27h0m1-465h0m0 459h0m1-561h0m0 276h0m1-243h0m0 111h0m0 3h0m1 336h0m1-465h0m0 519h0m1-45h0m4-585h0m0 225h0m0 45h0m0 84h0m0 222h0m1-403h0m0 187h0m0 81h0m1-253h0m1-108h0m0 6h0m0 447h0m1-237h0m0 12h0m0 324h0m0 21h0m1-618h0m0 297h0m0 315h0m1-333h0m0 264h0m0 15h0m1-569h0m0 24h0m0 75h0m0 45h0m0 18h0m0 98h0m1 331h0m1-118h0m1-498h0m0 133h0m0 362h0m1-413h0m0 333h0m0 39h0m0 110h0m1-479h0m0 72h0m0 327h0m1-462h0m0 123h0m0 279h0m0 213h0m1-612h0m0 282h0m0 15h0m0 141h0m0 132h0m0 6h0m1-540h0m0 208h0m0 165h0m0 185h0m0 12h0m0 7h0m1-483h0m0 270h0m0 15h0m0 108h0m1-378h0m0 12h0m0 300h0m0 195h0m1-657h0m0 30h0m0 234h0m1-120h0m0 231h0m0 18h0m0 162h0m1-457h0m0 25h0m0 501h0m0 26h0m1-669h0m0 216h0m0 279h0m0 96h0m1-591h0m0 261h0m0 258h0m0 90h0m1-441h0m0 210h0m0 141h0m1-395h0m0 123h0m0 111h0m0 279h0m1-459h0m0 222h0m0 105h0m0 12h0m0 123h0m1-537h0m0 243h0m0 207h0m1-430h0m1-33h0m0 201h0m0 84h0m0 33h0m0 108h0m0 78h0m0 18h0m0 27h0m1-565h0m0 88h0m0 11h0m0 63h0m0 9h0m0 153h0m0 37h0m0 158h0m0 13h0m0 2h0m0 24h0m0 37h0m1-475h0m0 165h0m0 42h0m0 27h0m0 15h0m0 21h0m0 120h0m0 78h0m1-72h0m0 90h0m4-249h0m0 63h0m1-465h0m0 51h0m0 552h0m3-225h0m0 21h0m0 9h0m0 114h0m1-549h0m0 48h0m0 33h0m0 3h0m0 225h0m0 24h0m0 12h0m0 57h0m0 81h0m0 99h0m1-243h0m31 121h0m5 45h0m29 71h0m4-117h0m50-22h0m31 45h0m28 22h0m42-178h0m7 111h0m7 117h0m17-85h0m1-41h0m5 37h0m1 24h0m36-67h0m1-20h0m24 8h0m5 55h0m12-103h0m10 118h0m9-12h0m11 46h0m42-36h0m15 74h0m5-278h0m12-233h0m0 78h0m0 39h0m0 12h0m0 261h0m1-231h0m0 429h0m0 24h0m1-169h0m6-385h0m5-97h0m2 288h0m1-249h0m0 39h0m0 33h0m0 48h0m0 81h0m1-210h0m0 222h0m0 15h0m0 87h0m0 33h0m0 36h0m0 123h0m0 6h0m0 99h0m4-295h0m0 66h0m1-402h0m0 24h0m0 39h0m0 87h0m0 30h0m0 129h0m0 153h0m0 108h0m0 42h0m1-555h0m0 105h0m0 162h0m0 117h0m0 147h0m0 3h0m1-312h0m9-256h0m0 3h0m0 216h0m0 63h0m0 24h0m0 15h0m0 63h0m0 57h0m0 180h0m1-594h0m0 30h0m0 21h0m0 15h0m0 24h0m0 96h0m0 27h0m0 189h0m0 156h0m0 3h0m0 3h0m0 12h0m7-634h0m0 45h0m0 351h0m0 135h0m1-510h0m0 45h0m0 48h0m0 24h0m0 3h0m0 72h0m0 66h0m0 51h0m0 9h0m0 84h0m0 15h0m0 114h0m0 54h0m0 12h0m0 3h0m1-537h0m0 81h0m0 117h0m0 27h0m0 234h0m5-227h0m0 201h0m1-465h0m0 144h0m0 9h0m0 12h0m0 33h0m0 33h0m0 36h0m0 21h0m0 84h0m0 243h0m12-271h0m25-96h0m5-43h0m2 107h0m18-55h0m18-53h0m19 194h0m3-9h0m17-150h0m3-269h0m0 36h0m0 18h0m0 39h0m0 27h0m0 108h0m0 27h0m0 21h0m0 3h0m0 48h0m0 120h0m0 3h0m0 18h0m0 3h0m1-504h0m0 60h0m0 3h0m0 93h0m0 42h0m0 75h0m0 24h0m0 78h0m0 60h0m0 12h0m0 87h0m0 3h0m0 63h0m0 15h0m0 6h0m10-205h0m1-297h0m0 189h0m0 12h0m0 144h0m0 192h0m0 9h0m1-633h0m0 6h0m0 12h0m0 48h0m0 78h0m0 15h0m0 186h0m0 63h0m0 15h0m0 39h0m0 27h0m0 15h0m0 108h0m0 6h0"/><path stroke="#bf3984" d="M616 460h0m270-15h0"/><path stroke="#fdca26" d="M201 249h0m1 441h0m1-498h0m0 12h0m2-162h0m1 63h0m0 276h0m2 3h0m1-192h0m0 87h0m0 215h0m1-236h0m1 296h0m1-119h0m1-243h0m1 348h0m0 69h0m0 42h0m1-427h0m0 159h0m2 10h0m1-372h0m1 393h0m1 207h0m1-606h0m0 33h0m2 241h0m1-198h0m2 479h0m1-486h0m0 474h0m0 126h0m3-203h0m1-468h0m0 462h0m1-181h0m0 226h0m1 26h0m0 72h0m1-44h0m1-234h0m1 200h0m1-528h0m0 438h0m0 165h0m5-341h0m0 348h0m1-525h0m0 474h0m1-378h0m1 246h0m2-294h0m1 144h0m1-120h0m1 77h0m1-74h0m0 104h0m1 40h0m1 351h0m1-215h0m2-39h0m0 159h0m4-494h0m2-63h0m0 192h0m0 456h0m1-651h0m0 120h0m2-15h0m4 225h0m0 189h0m1-210h0m2-217h0m2 123h0m0 153h0m2-272h0m0 504h0m1-420h0m3 294h0m1-441h0m1 318h0m0 237h0m1-486h0m0 462h0m0 93h0m1-450h0m0 264h0m2-221h0m1-108h0m1-63h0m0 453h0m2-439h0m0 144h0m0 282h0m1-447h0m2 102h0m0 201h0m2-251h0m0 147h0m3-197h0m0 81h0m1-147h0m0 105h0m0 270h0m0 138h0m6-447h0m3 6h0m0 309h0m0 84h0m1-51h0m0 153h0m0 9h0m0 30h0m9-91h0m1 2h0m81-30h0m22-125h0m23 61h0m38 43h0m1-37h0m43-106h0m3 109h0m41-89h0m18 21h0m7 52h0m25-64h0m22-47h0m22 1h0m12-250h0m0 467h0m0 4h0m0 63h0m15-259h0m24 51h0m23 145h0m12 15h0m5-246h0m1 232h0m0 57h0m9-490h0m0 93h0m0 360h0m1-396h0m0 57h0m0 108h0m4 119h0m1-105h0m1-21h0m0 159h0m0 21h0m10-187h0m0 15h0m1-195h0m0 234h0m0 186h0m7-121h0m1-126h0m0 114h0m0 12h0m0 30h0m1-21h0m4-151h0m1-49h0m0 222h0m1-441h0m0 12h0m0 45h0m0 210h0m0 162h0m0 72h0m0 24h0m0 15h0m0 45h0m1-552h0m53 287h0m33-72h0m12-181h0m23 329h0m0 186h0m1-348h0m0 267h0m0 18h0m0 48h0m0 48h0m11-397h0m0 111h0m0 78h0m0 189h0m1-447h0m0 210h0m0 27h0"/><path stroke="#fec029" d="M202 72h0m0 297h0m1-345h0m1 36h0m0 609h0m1-141h0m1-222h0m3 360h0m7-538h0m7 332h0m4-325h0m1 3h0m1-48h0m5 262h0m0 60h0m6-301h0m9 490h0m2-538h0m1 49h0m1 69h0m6 110h0m3 306h0m1-360h0m16 71h0m8-256h0m2 189h0m1 17h0m1 351h0m0 12h0m6-459h0m0 348h0m1-468h0m1 278h0m5 276h0m1-18h0m3-54h0m1-213h0m0 324h0m96-106h0m12-122h0m32 243h0m8-215h0m63 39h0m10-119h0m10 159h0m39-149h0m31 53h0m19-21h0m38-28h0m17 65h0m67 131h0m6-173h0m22 6h0m8 10h0m3-85h0m1 11h0m1-231h0m0 216h0m0 32h0m0 154h0m6-161h0m1-123h0m0 12h0m0 90h0m0 237h0m1-417h0m74 244h0m0 162h0m11-98h0m11 49h0m18-31h0m7 91h0m1-456h0m0 93h0m0 218h0m11-159h0m1-237h0"/><path stroke="#f0804e" d="M399 459h0m177-33h0m14-58h0m34 23h0m139-18h0m140 118h0"/><path stroke="#fdac33" d="M229 255h0m2 253h0m1-415h0m9 460h0m22-139h0m3-66h0m31-300h0m80 551h0m154-190h0m34-52h0m47 29h0m139-238h0m10 285h0m5-4h0m0 133h0m17-506h0m3 461h0m7 56h0m67-249h0m74-287h0"/><path stroke="#cc4977" d="M662 475h0"/><path stroke="#fba238" d="M271 491h0m217-4h0m20-121h0m25 182h0m205-217h0m13 285h0m45-227h0m45 213h0m76-207h0m5 147h0"/><path stroke="#f8df25" d="M201 105h0m1-42h0m0 18h0m0 15h0m0 6h0m0 144h0m0 96h0m0 21h0m0 24h0m0 192h0m0 15h0m0 33h0m1-528h0m0 30h0m0 189h0m1-255h0m0 18h0m0 138h0m0 66h0m0 228h0m0 57h0m0 63h0m0 6h0m0 48h0m1-579h0m0 15h0m0 90h0m0 222h0m0 15h0m0 105h0m0 21h0m1-525h0m0 21h0m0 150h0m0 165h0m0 231h0m1-564h0m0 69h0m0 3h0m0 153h0m0 183h0m0 24h0m0 45h0m0 27h0m1-216h0m0 84h0m0 72h0m1-396h0m0 378h0m0 42h0m0 147h0m1-610h0m0 7h0m0 141h0m0 98h0m0 63h0m0 99h0m0 30h0m0 88h0m1-562h0m0 111h0m0 132h0m0 66h0m0 48h0m0 12h0m0 33h0m0 12h0m0 6h0m0 15h0m0 18h0m0 111h0m0 36h0m0 54h0m1-558h0m0 117h0m0 24h0m0 412h0m1-627h0m0 45h0m0 93h0m0 18h0m0 108h0m0 12h0m0 339h0m1-633h0m0 102h0m0 126h0m0 3h0m0 12h0m0 12h0m0 183h0m0 9h0m0 56h0m0 6h0m1-522h0m0 352h0m0 47h0m0 180h0m0 33h0m1-396h0m0 81h0m0 27h0m0 78h0m0 3h0m0 93h0m0 162h0m1-266h0m0 72h0m0 69h0m0 14h0m0 109h0m1-600h0m0 45h0m0 183h0m0 57h0m0 135h0m1-480h0m0 315h0m0 42h0m0 27h0m1-333h0m0 261h0m0 366h0m1-107h0m1-555h0m0 3h0m0 24h0m0 63h0m0 153h0m0 48h0m0 42h0m0 123h0m0 57h0m0 12h0m1-255h0m0 96h0m0 54h0m0 15h0m0 3h0m0 144h0m0 39h0m1-636h0m0 87h0m0 15h0m0 54h0m0 123h0m0 24h0m0 12h0m0 60h0m0 21h0m0 102h0m0 21h0m0 42h0m0 33h0m0 27h0m0 12h0m0 9h0m1-643h0m0 78h0m0 384h0m0 1h0m0 33h0m1-463h0m0 504h0m0 33h0m0 18h0m0 57h0m1-642h0m0 144h0m0 6h0m0 18h0m0 279h0m0 15h0m0 51h0m1-297h0m0 90h0m0 39h0m0 15h0m0 168h0m0 12h0m1-384h0m0 93h0m0 79h0m0 47h0m0 231h0m0 9h0m0 33h0m1-564h0m0 19h0m0 90h0m0 68h0m0 52h0m0 30h0m0 27h0m0 75h0m0 147h0m1-591h0m0 24h0m0 207h0m0 117h0m0 273h0m1-364h0m0 231h0m0 9h0m0 30h0m0 36h0m0 90h0m1-62h0m0 84h0m1-429h0m0 21h0m0 123h0m0 33h0m0 6h0m0 51h0m0 30h0m0 102h0m1-585h0m0 6h0m0 114h0m0 171h0m0 45h0m0 186h0m0 27h0m0 33h0m0 27h0m0 15h0m1-595h0m0 54h0m0 63h0m0 165h0m0 118h0m0 74h0m0 15h0m0 108h0m1-390h0m0 51h0m0 36h0m0 171h0m0 156h0m1-513h0m0 21h0m0 45h0m0 0h0m0 42h0m0 9h0m0 42h0m0 246h0m0 51h0m0 51h0m1-606h0m0 87h0m0 15h0m0 15h0m0 114h0m0 111h0m0 180h0m0 39h0m1-551h0m0 225h0m0 53h0m0 106h0m0 138h0m0 56h0m1-593h0m0 9h0m0 51h0m0 63h0m0 69h0m0 33h0m0 93h0m0 126h0m0 9h0m0 96h0m0 12h0m0 45h0m0 8h0m1-638h0m0 54h0m0 6h0m0 57h0m0 231h0m0 27h0m0 39h0m1-435h0m0 108h0m0 108h0m0 18h0m0 30h0m0 42h0m0 81h0m0 123h0m1-315h0m0 399h0m0 15h0m1-477h0m0 21h0m0 120h0m0 87h0m0 180h0m0 3h0m1-465h0m0 39h0m0 270h0m0 51h0m0 93h0m0 21h0m0 78h0m1-630h0m0 84h0m0 159h0m0 27h0m0 18h0m0 195h0m0 135h0m1-591h0m0 33h0m0 153h0m0 21h0m0 339h0m0 18h0m1-474h0m0 101h0m0 46h0m0 15h0m1-265h0m0 69h0m0 15h0m0 24h0m0 42h0m0 189h0m0 144h0m0 126h0m1-519h0m0 159h0m0 387h0m1-260h0m0 21h0m1-414h0m0 33h0m0 9h0m0 69h0m0 21h0m0 126h0m0 27h0m0 384h0m1-385h0m0 282h0m0 21h0m0 34h0m0 41h0m1-603h0m0 3h0m0 57h0m0 9h0m0 57h0m0 48h0m0 15h0m0 63h0m0 78h0m0 33h0m0 225h0m0 6h0m1-670h0m0 261h0m0 51h0m0 3h0m0 84h0m0 51h0m0 27h0m0 126h0m0 15h0m1-372h0m0 9h0m0 246h0m0 18h0m1-203h0m0 6h0m0 138h0m0 57h0m0 105h0m0 63h0m1-624h0m0 135h0m0 42h0m0 24h0m0 30h0m0 33h0m0 90h0m0 96h0m0 39h0m0 48h0m0 78h0m1-420h0m0 351h0m0 51h0m0 12h0m1-504h0m0 12h0m0 57h0m0 18h0m1-72h0m0 45h0m0 36h0m0 12h0m0 21h0m0 57h0m0 132h0m0 3h0m0 141h0m1-423h0m0 9h0m0 93h0m0 24h0m0 12h0m0 21h0m0 21h0m0 21h0m0 15h0m0 30h0m0 12h0m0 120h0m0 33h0m1-414h0m0 72h0m0 87h0m0 168h0m0 30h0m0 15h0m0 93h0m1-204h0m0 45h0m0 162h0m0 3h0m1-663h0m0 12h0m0 114h0m0 39h0m0 15h0m0 249h0m0 99h0m1-468h0m0 48h0m0 162h0m0 90h0m0 102h0m1-429h0m1-12h0m0 96h0m0 123h0m0 201h0m0 93h0m1-129h0m0 33h0m0 189h0m0 39h0m0 9h0m1-616h0m0 84h0m0 105h0m0 45h0m0 126h0m0 21h0m0 159h0m0 36h0m0 10h0m0 23h0m1-645h0m0 189h0m0 69h0m0 99h0m0 30h0m0 120h0m1-462h0m0 12h0m0 18h0m0 69h0m0 30h0m0 18h0m0 30h0m0 24h0m0 18h0m0 51h0m0 138h0m0 75h0m0 33h0m0 36h0m0 12h0m0 39h0m1-678h0m0 45h0m0 162h0m0 24h0m0 12h0m0 3h0m0 189h0m0 33h0m0 18h0m0 9h0m0 15h0m0 3h0m1-69h0m0 15h0m1-344h0m0 3h0m0 18h0m0 26h0m0 430h0m1-555h0m0 30h0m0 6h0m0 65h0m0 79h0m0 3h0m0 15h0m0 21h0m0 18h0m0 60h0m0 162h0m0 101h0m1-557h0m0 8h0m0 21h0m0 3h0m0 387h0m0 45h0m0 150h0m1-570h0m0 27h0m0 102h0m0 153h0m0 18h0m0 123h0m0 84h0m0 33h0m1-608h0m0 24h0m0 135h0m0 108h0m0 12h0m0 66h0m0 75h0m0 39h0m0 5h0m0 1h0m0 12h0m0 123h0m1-426h0m0 21h0m0 60h0m0 75h0m0 81h0m0 114h0m0 108h0m1-588h0m0 156h0m0 27h0m0 114h0m0 159h0m1-330h0m0 81h0m0 114h0m0 132h0m0 54h0m1-567h0m0 7h0m0 26h0m0 45h0m0 111h0m0 106h0m0 90h0m0 68h0m0 57h0m0 69h0m0 100h0m1-519h0m0 84h0m0 36h0m0 18h0m0 36h0m0 264h0m1-561h0m0 3h0m0 9h0m0 189h0m0 0h0m0 21h0m1-258h0m0 93h0m0 66h0m0 12h0m0 39h0m0 78h0m0 30h0m0 78h0m0 3h0m0 39h0m0 48h0m0 18h0m0 9h0m0 21h0m0 42h0m0 18h0m1-573h0m0 9h0m0 21h0m0 33h0m0 6h0m0 162h0m0 12h0m0 42h0m0 138h0m0 18h0m0 39h0m0 171h0m1-672h0m0 104h0m0 31h0m0 9h0m0 21h0m0 108h0m0 84h0m0 90h0m0 95h0m0 16h0m0 3h0m1-547h0m0 33h0m0 99h0m0 153h0m0 24h0m0 30h0m0 15h0m0 240h0m0 46h0m0 8h0m1-366h0m0 75h0m1-117h0m0 60h0m0 159h0m0 33h0m0 0h0m1-420h0m0 16h0m0 33h0m0 326h0m0 42h0m0 139h0m0 6h0m0 2h0m0 3h0m1-491h0m0 3h0m0 99h0m0 183h0m0 126h0m0 36h0m1-519h0m0 36h0m0 153h0m0 12h0m0 189h0m0 45h0m0 18h0m0 3h0m0 12h0m1-483h0m0 102h0m0 27h0m0 20h0m0 3h0m0 81h0m0 55h0m1-355h0m0 9h0m0 18h0m0 6h0m0 3h0m0 15h0m0 12h0m0 117h0m0 9h0m0 9h0m0 6h0m0 30h0m0 3h0m0 33h0m0 54h0m0 15h0m0 21h0m0 12h0m0 6h0m0 42h0m0 15h0m0 9h0m0 27h0m0 9h0m0 3h0m0 33h0m0 12h0m0 48h0m0 6h0m0 84h0m1-664h0m0 6h0m0 4h0m0 18h0m0 8h0m0 12h0m0 18h0m0 21h0m0 9h0m0 4h0m0 11h0m0 28h0m0 5h0m0 10h0m0 6h0m0 21h0m0 24h0m0 44h0m0 36h0m0 10h0m0 6h0m0 59h0m0 42h0m0 42h0m0 31h0m0 60h0m0 104h0m1-642h0m0 12h0m0 3h0m0 66h0m0 15h0m0 9h0m0 66h0m0 21h0m0 6h0m0 42h0m0 72h0m0 63h0m0 28h0m0 50h0m0 39h0m0 45h0m0 21h0m0 15h0m0 21h0m1-510h0m0 378h0m0 60h0m4-366h0m0 27h0m0 225h0m0 66h0m0 126h0m0 6h0m1-609h0m0 27h0m0 3h0m0 9h0m0 3h0m0 15h0m0 117h0m0 18h0m0 15h0m0 45h0m0 93h0m0 57h0m0 30h0m0 30h0m0 66h0m0 72h0m0 21h0m0 3h0m0 21h0m0 27h0m1-108h0m0 33h0m2-597h0m0 9h0m0 21h0m0 105h0m0 18h0m0 105h0m0 264h0m0 60h0m0 39h0m0 3h0m1-540h0m0 12h0m0 48h0m0 45h0m0 30h0m0 15h0m0 33h0m0 60h0m0 27h0m0 6h0m0 15h0m0 78h0m0 6h0m0 9h0m0 33h0m0 132h0m0 15h0m0 27h0m1-558h0m0 87h0m1-153h0m163 460h0m118-112h0m119-24h0m0 108h0m39-409h0m0 147h0m0 114h0m0 171h0m0 96h0m1-600h0m0 10h0m0 161h0m0 21h0m0 54h0m0 51h0m0 201h0m0 12h0m0 6h0m0 45h0m5-560h0m1 150h0m0 204h0m1-249h0m0 33h0m0 462h0m1-603h0m7 290h0m0 18h0m0 207h0m0 45h0m1-558h0m0 18h0m0 21h0m0 63h0m0 63h0m0 105h0m0 90h0m0 21h0m0 24h0m0 36h0m0 171h0m0 15h0m0 15h0m0 12h0m0 15h0m1-525h0m4-115h0m0 18h0m0 12h0m0 48h0m0 39h0m0 60h0m0 96h0m0 87h0m0 39h0m0 57h0m0 12h0m0 9h0m0 66h0m0 9h0m0 9h0m1-579h0m0 15h0m0 9h0m0 51h0m0 15h0m0 63h0m0 6h0m0 6h0m0 108h0m0 21h0m0 9h0m0 33h0m0 54h0m0 36h0m0 54h0m0 126h0m0 9h0m9-217h0m0 21h0m0 135h0m1-492h0m0 42h0m0 21h0m0 9h0m0 102h0m0 3h0m0 36h0m0 24h0m0 48h0m0 21h0m0 117h0m0 3h0m0 18h0m0 30h0m0 3h0m0 12h0m0 39h0m0 48h0m0 9h0m1-627h0m0 27h0m0 12h0m0 24h0m0 6h0m0 60h0m0 6h0m0 123h0m0 102h0m0 12h0m0 57h0m0 6h0m0 9h0m0 9h0m0 72h0m0 99h0m0 12h0m7-604h0m0 297h0m0 120h0m1-462h0m0 15h0m0 9h0m0 30h0m0 12h0m0 15h0m0 12h0m0 15h0m0 30h0m0 42h0m0 12h0m0 24h0m0 3h0m0 18h0m0 6h0m0 6h0m0 12h0m0 6h0m0 21h0m0 3h0m0 15h0m0 3h0m0 6h0m0 18h0m0 3h0m0 12h0m0 18h0m0 9h0m0 9h0m0 12h0m0 51h0m0 12h0m0 9h0m0 51h0m0 9h0m0 9h0m0 12h0m0 27h0m0 3h0m0 12h0m0 15h0m0 12h0m0 12h0m0 9h0m0 3h0m0 9h0m1-678h0m0 111h0m0 267h0m0 48h0m0 99h0m0 69h0m0 27h0m0 33h0m1-588h0m4 100h0m0 33h0m0 60h0m0 33h0m0 21h0m0 3h0m0 105h0m0 96h0m0 165h0m1-678h0m0 6h0m0 6h0m0 24h0m0 6h0m0 15h0m0 66h0m0 6h0m0 18h0m0 18h0m0 12h0m0 48h0m0 3h0m0 33h0m0 9h0m0 21h0m0 9h0m0 36h0m0 3h0m0 51h0m0 30h0m0 15h0m0 6h0m0 9h0m0 33h0m0 15h0m0 3h0m0 27h0m0 24h0m0 18h0m0 15h0m0 69h0m0 3h0m0 6h0m1-660h0m0 108h0m0 30h0m0 3h0m0 15h0m0 108h0m0 129h0m0 3h0m0 93h0m0 69h0m0 78h0m52-237h0m44-109h0m24-158h0m1-141h0m0 24h0m0 15h0m0 48h0m0 39h0m0 24h0m0 39h0m0 9h0m0 33h0m0 3h0m0 3h0m0 3h0m0 18h0m0 45h0m0 72h0m0 3h0m0 72h0m0 3h0m0 51h0m0 81h0m0 9h0m0 33h0m0 39h0m0 3h0m0 6h0m1-672h0m0 9h0m0 6h0m0 30h0m0 12h0m0 6h0m0 72h0m0 9h0m0 27h0m0 27h0m0 12h0m0 3h0m0 6h0m0 39h0m0 81h0m0 24h0m0 27h0m0 9h0m0 18h0m0 15h0m0 3h0m0 9h0m0 27h0m0 12h0m0 33h0m0 9h0m0 9h0m0 63h0m0 15h0m0 6h0m0 12h0m1-369h0m10-214h0m0 75h0m0 48h0m0 18h0m0 12h0m0 57h0m0 66h0m0 9h0m0 42h0m0 75h0m0 132h0m0 9h0m0 27h0m0 3h0m0 45h0m1-648h0m0 3h0m0 33h0m0 18h0m0 18h0m0 45h0m0 6h0m0 33h0m0 3h0m0 45h0m0 39h0m0 27h0m0 6h0m0 12h0m0 66h0m0 9h0m0 6h0m0 69h0m0 81h0m0 15h0m0 21h0m0 30h0m0 30h0m0 15h0m1-108h0"/><path stroke="#f9983e" d="M246 544h0m278-179h0m15 90h0m51-112h0m93 118h0m18 60h0m37-208h0m13-279h0m59 370h0m44-59h0m0 227h0m79-140h0"/><path stroke="#de6164" d="M622 457h0"/><path stroke="#e4695e" d="M672 504h0"/><path stroke="#e76f5a" d="M867 528h0"/><path stroke="#f0804e" d="M981 336h0m82 45h0m256-76h0"/><path stroke="#f6e826" d="M2467 374h0m0 12h0m1-15h0m1 7h0m0 14h0m1-34h0m1-2h0m0 17h0m0 5h0m1-30h0m0 18h0m1 47h0m1-47h0m0 41h0m2-26h0m0 4h0m0 3h0m0 12h0m1-8h0"/><path stroke="#c13b82" d="M991 481h0m155-123h0m155 116h0m53-183h0"/><path stroke="#ec7754" d="M964 361h0m7 104h0m128 31h0m2-44h0m77-60h0m54 0h0m73 192h0m33-169h0m55 145h0"/><path stroke="#f79044" d="M972 386h0m76 86h0m41-115h0m40 82h0m49-35h0m77-100h0m21 121h0m3 88h0m18-106h0m15-15h0m31 16h0m28 112h0m1-65h0m20-49h0m34-10h0m23 12h0"/><path stroke="#fdac33" d="M997 426h0m3 67h0m13-187h0m9 86h0m17 150h0m39-166h0m1-337h0m0 552h0m8-165h0m9 38h0m30 59h0m7-92h0m2-1h0m18 25h0m2 142h0m4-139h0m5 38h0m10-107h0m34 109h0m1-144h0m0 86h0m0 86h0m47-75h0m3 111h0m25-121h0m25 71h0m18-47h0m40 14h0m38-70h0m19 34h0m19-40h0"/><path stroke="#fdb52e" d="M939 442h0m23 143h0m1-87h0m4-193h0m31 89h0m17 121h0m15-219h0m9 327h0m1-417h0m32 267h0m7-230h0m0 57h0m0 66h0m14-43h0m26 59h0m1-156h0m32 409h0m1-157h0m3-80h0m0 42h0m10-49h0m14-328h0m10 344h0m63 30h0m44 102h0m0 10h0m1-92h0m23-33h0m11 44h0m18 107h0m27-157h0m2 44h0m7 114h0m38-16h0"/><path stroke="#fbd524" d="M949 411h0m2 216h0m8-57h0m2-183h0m1-249h0m0 90h0m0 39h0m0 18h0m0 108h0m0 39h0m0 6h0m0 6h0m0 42h0m0 81h0m0 78h0m0 24h0m0 12h0m1-405h0m0 12h0m0 75h0m0 48h0m0 42h0m1-45h0m0 186h0m3 10h0m5-548h0m0 39h0m0 21h0m0 9h0m0 78h0m0 189h0m0 9h0m0 75h0m0 84h0m0 135h0m1-675h0m0 69h0m0 3h0m0 39h0m0 87h0m0 78h0m0 54h0m0 102h0m0 33h0m0 51h0m0 60h0m11-249h0m0 28h0m11 101h0m2 11h0m13-75h0m2-19h0m1-375h0m0 102h0m0 69h0m0 120h0m0 6h0m0 6h0m0 42h0m0 15h0m0 276h0m1-564h0m8-61h0m0 372h0m1-357h0m0 132h0m0 249h0m0 51h0m0 30h0m0 48h0m0 114h0m6-534h0m0 60h0m0 405h0m1-528h0m0 12h0m0 15h0m0 114h0m0 96h0m0 9h0m0 150h0m0 12h0m0 35h0m0 7h0m0 27h0m0 30h0m0 9h0m8-567h0m0 144h0m1 3h0m0 120h0m0 6h0m0 3h0m0 63h0m0 9h0m0 12h0m0 42h0m0 99h0m0 81h0m0 24h0m0 12h0m0 3h0m0 27h0m1-651h0m0 60h0m0 297h0m0 69h0m0 63h0m1-54h0m2-92h0m5 178h0m24-388h0m0 390h0m1-420h0m0 225h0m0 12h0m0 27h0m0 21h0m0 144h0m0 33h0m0 36h0m0 6h0m0 9h0m1-120h0m4-381h0m0 3h0m0 39h0m0 315h0m0 69h0m1-474h0m0 141h0m0 99h0m0 168h0m0 15h0m0 63h0m0 63h0m0 15h0m1-489h0m0 39h0m0 6h0m0 213h0m0 99h0m0 45h0m7-238h0m1-279h0m0 138h0m0 42h0m0 141h0m0 75h0m0 45h0m0 21h0m0 87h0m0 30h0m1-570h0m0 18h0m0 39h0m0 3h0m0 6h0m0 99h0m0 126h0m0 3h0m0 105h0m0 15h0m0 69h0m0 3h0m0 3h0m0 30h0m0 54h0m0 51h0m1-240h0m0 195h0m0 57h0m17-213h0m6-56h0m1-402h0m0 87h0m0 15h0m0 93h0m0 126h0m0 282h0m0 36h0m1-597h0m0 264h0m0 150h0m0 81h0m0 36h0m0 63h0m1-576h0m2 424h0m1-183h0m0 120h0m0 36h0m0 216h0m1-495h0m0 66h0m0 33h0m0 15h0m0 29h0m0 187h0m0 54h0m0 33h0m4-384h0m0 87h0m0 27h0m0 21h0m0 6h0m0 69h0m0 114h0m0 99h0m1-630h0m0 45h0m0 21h0m0 99h0m0 6h0m0 6h0m0 198h0m0 12h0m0 34h0m0 71h0m0 24h0m0 2h0m0 52h0m0 9h0m1-166h0m0 78h0m3-409h0m0 87h0m1-141h0m0 15h0m0 9h0m0 72h0m0 129h0m0 90h0m0 15h0m0 51h0m0 18h0m0 12h0m0 42h0m0 27h0m0 123h0m1-363h0m0 336h0m4-535h0m0 30h0m0 66h0m0 39h0m0 78h0m0 69h0m0 93h0m0 99h0m0 84h0m0 33h0m0 15h0m1-603h0m0 342h0m2-3h0m2-298h0m0 225h0m0 141h0m0 87h0m0 36h0m1-600h0m0 57h0m0 114h0m0 12h0m0 3h0m0 48h0m0 18h0m0 3h0m0 18h0m0 120h0m0 42h0m0 147h0m0 6h0m0 6h0m0 45h0m1-525h0m0 300h0m0 51h0m9-310h0m0 33h0m0 66h0m0 18h0m0 60h0m0 60h0m0 12h0m0 27h0m0 60h0m0 72h0m0 72h0m1-627h0m0 18h0m0 3h0m0 69h0m0 24h0m0 6h0m0 90h0m0 15h0m0 42h0m0 36h0m0 60h0m0 102h0m0 63h0m0 30h0m0 33h0m0 54h0m4-633h0m0 21h0m0 51h0m0 183h0m0 18h0m0 6h0m0 18h0m0 30h0m0 9h0m0 12h0m0 138h0m0 126h0m0 39h0m1-288h0m0 129h0m0 9h0m0 60h0m0 33h0m0 39h0m6-224h0m2-13h0m2-295h0m0 309h0m0 15h0m1-411h0m0 30h0m0 156h0m0 45h0m0 84h0m0 15h0m0 15h0m0 45h0m0 3h0m0 57h0m0 9h0m0 114h0m0 6h0m0 48h0m0 9h0m1-318h0m0 24h0m0 12h0m4-23h0m6 34h0m0 156h0m1-549h0m0 18h0m0 210h0m0 27h0m0 96h0m0 102h0m0 33h0m0 75h0m1-261h0m0 3h0m2 15h0m4 87h0m0 72h0m2-352h0m0 255h0m1-378h0m0 51h0m0 3h0m0 165h0m0 51h0m0 51h0m0 36h0m0 21h0m0 51h0m0 87h0m0 57h0m0 24h0m1-567h0m0 6h0m0 36h0m0 105h0m0 36h0m0 192h0m0 27h0m0 171h0m0 60h0m6-106h0m1-228h0m0 48h0m11-92h0m0 141h0m0 195h0m1-642h0m0 45h0m0 63h0m0 252h0m0 105h0m0 30h0m0 165h0m0 6h0m1-321h0m0 234h0m0 27h0m12-212h0m0 84h0m16-466h0m0 269h0m1 287h0m11-137h0m10 23h0m6-179h0m4-12h0m9 126h0m3 153h0m3-199h0m2-68h0m1 167h0m11-163h0m1 6h0m20 144h0m1 80h0m4-218h0m7 115h0m11-131h0m12 95h0m2 18h0m6 56h0m18-2h0m4-345h0m30 461h0m8-331h0m1 13h0m9 147h0m9-174h0m5 230h0m1020-93h0m4-9h0m0 2h0m0 8h0m0 70h0m1-77h0m0 45h0m1-39h0m5 24h0"/><path stroke="#cc4977" d="M1393 460h0"/><path stroke="#fdca26" d="M951 57h0m10-36h0m1 96h0m0 132h0m0 9h0m0 39h0m0 3h0m0 192h0m0 96h0m0 54h0m1-432h0m0 93h0m0 174h0m8-463h0m1 48h0m0 207h0m0 198h0m1-450h0m0 12h0m0 207h0m0 93h0m0 114h0m0 195h0m0 36h0m1-465h0m0 390h0m21-302h0m4 227h0m13-53h0m1-399h0m0 189h0m0 198h0m5 97h0m4-215h0m0 138h0m1-27h0m0 15h0m0 162h0m3-240h0m0 107h0m4-170h0m0 87h0m0 156h0m1-324h0m8-234h0m0 39h0m0 108h0m0 66h0m0 21h0m0 75h0m0 36h0m0 30h0m0 24h0m0 141h0m1-408h0m0 270h0m0 105h0m32-97h0m0 167h0m0 81h0m1-621h0m0 42h0m0 192h0m0 12h0m0 39h0m0 54h0m0 87h0m0 117h0m0 63h0m0 12h0m6-432h0m0 42h0m0 237h0m0 51h0m1-456h0m0 162h0m0 75h0m3 103h0m5-365h0m0 213h0m0 354h0m1-486h0m0 129h0m0 162h0m0 126h0m1-267h0m7 138h0m16 235h0m1-63h0m5-503h0m0 240h0m0 96h0m0 3h0m0 60h0m5-201h0m0 111h0m0 234h0m1-507h0m0 243h0m4 28h0m1-198h0m0 102h0m0 204h0m0 111h0m1-93h0m3-211h0m1-225h0m0 54h0m0 333h0m0 69h0m6-319h0m0 153h0m0 105h0m0 63h0m0 27h0m0 12h0m1-537h0m5 437h0m4-315h0m0 24h0m0 66h0m0 36h0m0 177h0m0 18h0m0 18h0m0 111h0m0 6h0m0 24h0m1-609h0m0 87h0m0 255h0m0 6h0m0 225h0m0 27h0m4-615h0m0 252h0m0 87h0m0 33h0m0 93h0m1-480h0m0 588h0m0 33h0m6-187h0m4-138h0m1-81h0m0 69h0m1 105h0m5 5h0m5 111h0m1-360h0m5 345h0m5-511h0m0 27h0m0 96h0m0 330h0m7 128h0m11-209h0m1-108h0m0 281h0m1-377h0m0 78h0m0 6h0m0 312h0m0 15h0m0 27h0m8-181h0m3-84h0m3 153h0m18-144h0m0 91h0m26 8h0m1-27h0m10-84h0m7 79h0m7 28h0m5 78h0m1-40h0m15-86h0m10 53h0m1 101h0m18-136h0m1-30h0m6 70h0m5-156h0m7 7h0m2-258h0m0 22h0m2 431h0m8-225h0m5 228h0m1-109h0m1-55h0m4 268h0m0 26h0m0 25h0m1-465h0m7 104h0m4 158h0m4-139h0m1-5h0m15 73h0m3 56h0m3-33h0m0 8h0m6-68h0m8 57h0m13-23h0"/><path stroke="#da5a6a" d="M1228 407h0"/><path stroke="#cb4679" d="M1333 285h0m46 116h0"/><path stroke="#f48849" d="M946 323h0m134-248h0m50 328h0m98 62h0m17-80h0m17 125h0m65-78h0m13-25h0m27-157h0m17 171h0m29 15h0m19 113h0m11-107h0"/><path stroke="#de6164" d="M970 517h0m283-22h0m65 91h0"/><path stroke="#bf3984" d="M1113 369h0m175 166h0m103 18h0"/><path stroke="#f8df25" d="M951 126h0m0 69h0m0 108h0m0 48h0m1-243h0m0 279h0m0 231h0m7-237h0m2 177h0m0 15h0m1-531h0m0 15h0m0 33h0m0 63h0m0 6h0m0 15h0m0 21h0m0 48h0m0 12h0m0 18h0m0 6h0m0 90h0m0 3h0m0 3h0m0 3h0m0 12h0m0 6h0m0 60h0m0 39h0m0 12h0m0 24h0m0 3h0m0 12h0m0 18h0m0 6h0m0 6h0m0 24h0m0 48h0m0 24h0m0 18h0m1-579h0m0 54h0m0 60h0m0 93h0m0 30h0m0 3h0m0 6h0m0 3h0m0 24h0m0 18h0m0 24h0m0 9h0m0 15h0m0 12h0m0 39h0m0 42h0m0 9h0m1-312h0m3 134h0m5-351h0m0 3h0m0 6h0m0 21h0m0 30h0m0 3h0m0 12h0m0 9h0m0 6h0m0 6h0m0 21h0m0 27h0m0 6h0m0 3h0m0 63h0m0 9h0m0 6h0m0 66h0m0 27h0m0 15h0m0 9h0m0 3h0m0 3h0m0 9h0m0 9h0m0 15h0m0 15h0m0 9h0m0 12h0m0 36h0m0 42h0m0 3h0m0 78h0m0 27h0m0 27h0m0 39h0m1-633h0m0 39h0m0 33h0m0 51h0m0 39h0m0 6h0m0 18h0m0 27h0m0 9h0m0 21h0m0 9h0m0 15h0m0 21h0m0 12h0m0 18h0m0 6h0m0 24h0m0 48h0m0 3h0m0 9h0m0 33h0m0 27h0m0 21h0m0 9h0m0 3h0m0 3h0m0 48h0m0 18h0m0 15h0m0 3h0m0 9h0m0 15h0m1-435h0m0 345h0m0 102h0m4-163h0m28-114h0m6-328h0m0 582h0m0 9h0m1-582h0m0 51h0m0 15h0m0 66h0m0 21h0m0 3h0m0 33h0m0 42h0m0 99h0m0 18h0m0 12h0m0 15h0m0 15h0m0 12h0m0 153h0m0 21h0m0 9h0m0 9h0m1-546h0m0 33h0m0 90h0m0 186h0m0 180h0m7 14h0m1-432h0m0 60h0m0 123h0m0 201h0m0 18h0m0 45h0m0 6h0m0 30h0m1-648h0m0 63h0m0 24h0m0 51h0m0 24h0m0 24h0m0 27h0m0 9h0m0 33h0m0 3h0m0 15h0m0 27h0m0 66h0m0 15h0m0 21h0m0 51h0m0 51h0m0 33h0m0 24h0m0 45h0m0 3h0m0 30h0m6-606h0m0 249h0m0 129h0m1-441h0m0 84h0m0 39h0m0 96h0m0 24h0m0 60h0m0 15h0m0 33h0m0 3h0m0 93h0m0 9h0m0 60h0m0 18h0m0 42h0m0 66h0m0 21h0m0 9h0m1-645h0m0 99h0m0 261h0m0 48h0m0 144h0m0 36h0m7-450h0m0 72h0m0 96h0m0 186h0m0 78h0m1-561h0m0 33h0m0 12h0m0 30h0m0 6h0m0 12h0m0 39h0m0 15h0m0 27h0m0 24h0m0 9h0m0 12h0m0 3h0m0 27h0m0 24h0m0 15h0m0 30h0m0 6h0m0 39h0m0 12h0m0 45h0m0 15h0m0 6h0m0 6h0m0 12h0m0 3h0m0 18h0m0 6h0m0 6h0m0 3h0m0 6h0m0 39h0m0 3h0m0 3h0m0 33h0m0 27h0m0 18h0m0 12h0m0 6h0m1-669h0m0 81h0m0 3h0m0 9h0m0 51h0m0 3h0m0 42h0m0 51h0m0 24h0m0 24h0m0 39h0m0 84h0m0 39h0m0 9h0m0 18h0m0 63h0m0 21h0m0 42h0m0 6h0m8-64h0m1-378h0m0 114h0m0 54h0m0 243h0m1-123h0m22-412h0m0 12h0m0 18h0m0 48h0m0 24h0m0 51h0m0 39h0m0 159h0m0 24h0m0 93h0m0 75h0m0 36h0m0 30h0m0 9h0m0 9h0m1-675h0m0 21h0m0 9h0m0 21h0m0 63h0m0 24h0m0 84h0m0 15h0m0 69h0m0 15h0m0 33h0m0 48h0m0 9h0m0 15h0m0 3h0m0 18h0m0 12h0m0 48h0m0 33h0m0 18h0m0 27h0m0 15h0m1-465h0m4 96h0m1-216h0m0 27h0m0 30h0m0 18h0m0 57h0m0 21h0m0 39h0m0 27h0m0 3h0m0 9h0m0 87h0m0 3h0m0 33h0m0 24h0m0 107h0m0 19h0m0 27h0m0 18h0m0 24h0m0 27h0m0 33h0m0 3h0m1-567h0m0 135h0m0 69h0m0 3h0m0 129h0m0 42h0m0 27h0m0 69h0m0 21h0m0 54h0m0 39h0m7-295h0m1-324h0m0 12h0m0 42h0m0 15h0m0 66h0m0 33h0m0 36h0m0 12h0m0 39h0m0 6h0m0 21h0m0 120h0m0 114h0m0 15h0m0 9h0m0 15h0m0 18h0m0 39h0m1-675h0m0 12h0m0 27h0m0 9h0m0 33h0m0 6h0m0 3h0m0 54h0m0 6h0m0 15h0m0 18h0m0 18h0m0 18h0m0 3h0m0 21h0m0 45h0m0 12h0m0 6h0m0 3h0m0 6h0m0 36h0m0 15h0m0 12h0m0 6h0m0 15h0m0 6h0m0 3h0m0 24h0m0 48h0m0 3h0m0 9h0m0 21h0m0 27h0m0 18h0m0 42h0m0 6h0m0 3h0m0 21h0m0 3h0m0 12h0m0 6h0m0 18h0m1-555h0m0 120h0m0 252h0m0 57h0m23-251h0m1-270h0m0 99h0m0 3h0m0 48h0m0 39h0m0 9h0m0 54h0m0 57h0m0 9h0m0 27h0m0 30h0m0 18h0m0 6h0m0 9h0m0 12h0m0 33h0m0 18h0m0 90h0m0 24h0m0 24h0m0 33h0m1-624h0m0 3h0m0 111h0m0 90h0m0 12h0m0 21h0m0 75h0m0 9h0m0 18h0m0 195h0m0 27h0m0 66h0m1-408h0m3-200h0m0 12h0m0 33h0m0 9h0m0 3h0m0 9h0m0 15h0m0 21h0m0 3h0m0 177h0m0 111h0m0 66h0m0 3h0m0 6h0m0 9h0m0 30h0m0 42h0m1-558h0m0 12h0m0 18h0m0 93h0m0 60h0m0 33h0m0 54h0m0 6h0m0 12h0m0 18h0m0 45h0m0 9h0m0 51h0m0 78h0m0 6h0m0 93h0m0 30h0m0 9h0m1-429h0m0 342h0m0 21h0m2-486h0m1-111h0m0 54h0m0 39h0m0 27h0m0 36h0m0 24h0m0 90h0m0 45h0m0 54h0m0 72h0m0 45h0m0 18h0m0 120h0m1-573h0m0 9h0m0 87h0m0 18h0m0 18h0m0 3h0m0 12h0m0 3h0m0 51h0m0 51h0m0 30h0m0 27h0m0 147h0m0 48h0m0 9h0m0 33h0m0 6h0m0 12h0m0 6h0m0 9h0m0 12h0m0 30h0m1-387h0m0 174h0m0 57h0m0 6h0m0 39h0m3-467h0m0 18h0m0 159h0m0 126h0m0 219h0m1-585h0m0 12h0m0 18h0m0 81h0m0 15h0m0 3h0m0 9h0m0 75h0m0 33h0m0 18h0m0 63h0m0 6h0m0 5h0m0 1h0m0 45h0m0 15h0m0 57h0m0 21h0m0 9h0m0 69h0m0 18h0m0 3h0m0 24h0m0 30h0m1-666h0m0 135h0m0 33h0m0 27h0m0 90h0m0 129h0m0 66h0m0 9h0m0 6h0m4-442h0m0 63h0m0 15h0m0 42h0m0 48h0m0 27h0m0 6h0m0 21h0m0 33h0m0 36h0m0 33h0m0 3h0m0 18h0m0 78h0m0 6h0m0 42h0m0 33h0m0 60h0m0 6h0m0 3h0m0 27h0m0 3h0m1-624h0m0 27h0m0 102h0m0 15h0m0 21h0m0 171h0m0 6h0m0 30h0m0 231h0m4-457h0m0 63h0m0 12h0m0 111h0m0 27h0m0 72h0m0 21h0m0 96h0m1-582h0m0 39h0m0 72h0m0 12h0m0 12h0m0 18h0m0 21h0m0 24h0m0 153h0m0 18h0m0 9h0m0 27h0m0 3h0m0 21h0m0 9h0m0 18h0m0 3h0m0 60h0m0 45h0m0 63h0m0 3h0m0 6h0m0 12h0m0 3h0m1-435h0m0 90h0m0 3h0m0 36h0m0 15h0m0 231h0m8-565h0m1 3h0m0 69h0m0 60h0m0 21h0m0 9h0m0 30h0m0 15h0m0 51h0m0 3h0m0 18h0m0 6h0m0 18h0m0 39h0m0 36h0m0 147h0m0 39h0m0 24h0m0 21h0m0 12h0m0 18h0m0 9h0m1-651h0m0 42h0m0 12h0m0 9h0m0 6h0m0 45h0m0 60h0m0 39h0m0 90h0m0 6h0m0 75h0m0 24h0m0 93h0m0 12h0m0 30h0m0 15h0m0 42h0m0 54h0m1-609h0m0 225h0m0 99h0m0 42h0m3-390h0m0 15h0m0 36h0m0 42h0m0 18h0m0 75h0m0 6h0m0 21h0m0 72h0m0 9h0m0 48h0m0 12h0m0 42h0m0 99h0m0 66h0m1-480h0m0 9h0m0 9h0m0 15h0m0 24h0m0 6h0m0 36h0m0 48h0m0 87h0m0 132h0m0 15h0m0 78h0m0 18h0m0 15h0m0 9h0m10-526h0m0 99h0m0 117h0m0 9h0m0 117h0m0 81h0m1-495h0m0 33h0m0 12h0m0 57h0m0 9h0m0 15h0m0 3h0m0 6h0m0 66h0m0 15h0m0 9h0m0 243h0m0 21h0m0 3h0m0 24h0m0 12h0m0 15h0m0 18h0m0 21h0m0 21h0m1-171h0m0 9h0m0 108h0m0 102h0m3-390h0m7-214h0m0 54h0m0 27h0m0 51h0m0 75h0m0 210h0m0 90h0m0 30h0m1-603h0m0 42h0m0 54h0m0 152h0m0 52h0m0 15h0m0 36h0m0 39h0m0 27h0m0 87h0m0 6h0m0 18h0m0 93h0m0 15h0m0 6h0m1-309h0m0 69h0m0 189h0m8-508h0m0 564h0m1-663h0m0 3h0m0 12h0m0 45h0m0 6h0m0 18h0m0 24h0m0 9h0m0 9h0m0 36h0m0 33h0m0 63h0m0 15h0m0 45h0m0 9h0m0 12h0m0 6h0m0 9h0m0 9h0m0 6h0m0 6h0m0 15h0m0 12h0m0 36h0m0 21h0m0 24h0m0 15h0m0 15h0m0 12h0m0 3h0m0 3h0m0 42h0m0 9h0m0 15h0m0 24h0m0 48h0m0 6h0m0 3h0m1-615h0m0 6h0m0 21h0m0 12h0m0 3h0m0 6h0m0 12h0m0 15h0m0 45h0m0 9h0m0 24h0m0 15h0m0 12h0m0 3h0m0 18h0m0 12h0m0 30h0m0 3h0m0 15h0m0 12h0m0 15h0m0 42h0m0 15h0m0 87h0m0 6h0m0 21h0m0 39h0m0 84h0m0 6h0m1 9h0m6-301h0m0 324h0m11-644h0m0 3h0m0 240h0m0 45h0m0 300h0m0 18h0m1-615h0m0 102h0m0 66h0m0 3h0m0 36h0m0 9h0m0 48h0m0 42h0m0 15h0m0 39h0m0 12h0m0 12h0m0 6h0m0 30h0m0 9h0m0 12h0m0 9h0m0 21h0m0 3h0m0 15h0m0 39h0m0 24h0m0 12h0m0 90h0m1-669h0m0 69h0m0 159h0m0 291h0m0 102h0m28-341h0m3 84h0m3-61h0m3 41h0m4 164h0m10 10h0m1-104h0m19-55h0m14 123h0m29-99h0m2 69h0m28 25h0m53-103h0m0 8h0m8 86h0m3-35h0m31-77h0m1018-18h0m2 6h0m0 28h0m0 4h0m1-38h0m0 6h0m0 3h0m0 4h0m0 17h0m0 0h0m1-47h0m0 2h0m0 0h0m0 1h0m0 2h0m0 7h0m0 1h0m0 11h0m0 6h0m0 13h0m0 14h0m0 3h0m0 2h0m0 0h0m1-56h0m0 4h0m0 0h0m0 0h0m0 21h0m0 3h0m0 1h0m0 17h0m0 5h0m0 2h0m0 7h0m1-58h0m0 18h0m0 2h0m0 24h0m0 6h0m0 1h0m0 0h0m0 5h0m1-30h0m0 23h0m1-34h0m0 14h0m0 15h0m2-21h0m1 9h0"/><path stroke="#e4695e" d="M968 496h0m14-91h0m105 50h0m50 104h0"/><path stroke="#d35171" d="M999 524h0m244-132h0m129-40h0"/><path stroke="#f9983e" d="M1038 435h0m106-97h0m20 152h0m26-62h0m1 219h0m44-297h0m117 93h0m4-120h0m11 75h0m2 78h0m1-89h0m15 163h0m40-188h0m13 36h0"/><path stroke="#fba238" d="M948 549h0m25 32h0m13-215h0m100-36h0m7-47h0m5 236h0m26 19h0m2-75h0m4-47h0m16 92h0m10-425h0m21 390h0m3-401h0m10 368h0m4-160h0m13 170h0m14-46h0m15 144h0m21-206h0m2 48h0m6-51h0m41 104h0m9-86h0m1 110h0m90 5h0m2-14h0m33-71h0"/><path stroke="#fec029" d="M960 329h0m3 310h0m9-562h0m0 330h0m0 177h0m1 63h0m1-129h0m32-111h0m7-245h0m1 450h0m3-322h0m7-87h0m2 175h0m4-331h0m0 48h0m1 497h0m4-3h0m4-134h0m1-222h0m7 174h0m1 47h0m0 39h0m3-17h0m15-163h0m6-145h0m0 102h0m1-207h0m0 600h0m1-519h0m0 284h0m5-380h0m0 327h0m1-225h0m0 69h0m7-202h0m2 351h0m0 153h0m0 65h0m8-115h0m14-44h0m4-256h0m0 156h0m0 216h0m4-515h0m0 633h0m1-339h0m3 224h0m1-518h0m0 114h0m1-84h0m0 57h0m15 236h0m1-201h0m0 522h0m10-649h0m0 237h0m0 174h0m0 264h0m1-315h0m1 120h0m3-375h0m11 269h0m1 279h0m3-93h0m8-310h0m1 246h0m9 38h0m1-381h0m0 12h0m1 195h0m0 9h0m0 189h0m2-17h0m5-206h0m12-323h0m1 54h0m2 291h0m15 110h0m4-47h0m4 30h0m3 82h0m7 4h0m19-83h0m2-83h0m4 28h0m18-6h0m6 12h0m21-131h0m0 166h0m6 101h0m28-25h0m9-32h0m2-231h0m4 203h0m5 51h0m2-66h0m9 39h0m5-47h0m26-129h0m0 141h0m6-34h0m1 91h0m8-103h0m8-27h0"/><path stroke="#e76f5a" d="M989 371h0m140-36h0m79 135h0m14-10h0m13-83h0m11 35h0"/><path stroke="#fec029" d="M941 384h0m22-186h0m5 154h0m5-230h0m0 168h0m0 90h0m8 29h0m1-43h0m27 82h0m3 28h0m1 64h0m10-82h0m0 60h0m7 135h0m1-90h0m8-324h0m17 70h0m16 249h0m3-220h0m4-224h0m0 384h0m9-358h0m0 333h0m1-444h0m0 51h0m0 177h0m1 130h0m7-3h0m15-104h0m3 134h0m4-260h0m1 75h0m0 24h0m0 18h0m0 114h0m4-294h0m0 276h0m1 246h0m5-251h0m0 23h0m1 26h0m4 190h0m0 15h0m16-116h0m1-39h0m1-327h0m15-97h0m12 65h0m0 12h0m0 453h0m9-208h0m1-321h0m0 255h0m0 186h0m1-108h0m19 66h0m2-89h0m2-98h0m9 199h0m25-110h0m14 69h0m45 18h0m7 146h0m2-24h0m27-91h0m38-37h0m9 59h0m1-62h0m28-19h0m8-9h0m10 139h0m3-161h0m7 78h0"/><path stroke="#ec7754" d="M1005 392h0m90 38h0m124 85h0m138-111h0m70 72h0"/><path stroke="#e4695e" d="M1114 326h0m158 118h0m4-45h0m156 37h0"/><path stroke="#c13b82" d="M1135 428h0"/><path stroke="#de6164" d="M951 403h0m260-18h0m18 176h0m194-65h0m17-29h0"/><path stroke="#d35171" d="M1069 394h0m87-20h0"/><path stroke="#bf3984" d="M1076 521h0m227-142h0"/><path stroke="#fdb52e" d="M947 525h0m15-348h0m1-93h0m8 389h0m16-133h0m0 6h0m23 78h0m13 208h0m1-189h0m16-246h0m0 234h0m2-5h0m30 36h0m1 15h0m15-361h0m0 288h0m3-78h0m24-200h0m5 73h0m0 318h0m0 159h0m20-373h0m0 189h0m3 33h0m9-82h0m3-372h0m13 347h0m1 39h0m22-11h0m1 117h0m11-134h0m7 152h0m6-231h0m21 35h0m26-34h0m27 244h0m9-128h0m6-6h0m18-126h0m7 247h0m2-105h0m6-174h0m22 149h0m10-104h0m4 41h0m8 45h0m4 2h0m13-133h0m47 210h0"/><path stroke="#fba238" d="M962 78h0m140 392h0m28 132h0m40-230h0m104-16h0m22 35h0m30 132h0m48-131h0m2-10h0m9 26h0m20 66h0m12 110h0m1050-134h0"/><path stroke="#cc4977" d="M1183 592h0"/><path stroke="#e76f5a" d="M1019 387h0m70-106h0m148 221h0m24-105h0m50 2h0m69-33h0"/><path stroke="#f79044" d="M1010 404h0m73 35h0m124 38h0m2-133h0m24 74h0m3-41h0m88-13h0m10 14h0m88-30h0"/><path stroke="#f48849" d="M1001 475h0m14-156h0m101 231h0m9 3h0m91-127h0m3-110h0m90 125h0m9 143h0m15-185h0m6-96h0m32 135h0m33-36h0m18 34h0m3-85h0m15 198h0m7 35h0"/><path stroke="#fdca26" d="M950 471h0m1-141h0m11-249h0m0 42h0m0 141h0m0 117h0m0 93h0m1 30h0m0 159h0m1-66h0m7-52h0m1-366h0m0 189h0m0 120h0m0 120h0m1-426h0m0 30h0m0 99h0m15 123h0m3-114h0m21-284h0m1 18h0m0 630h0m0 12h0m1-348h0m0 8h0m0 178h0m3-88h0m2 80h0m4-440h0m0 138h0m0 468h0m1-555h0m0 192h0m3 69h0m3-384h0m8 413h0m0 184h0m0 54h0m1-300h0m0 132h0m1-321h0m0 249h0m0 72h0m8-133h0m1 123h0m23-115h0m0 132h0m1-411h0m0 15h0m0 213h0m0 33h0m0 219h0m1-39h0m1-126h0m3-270h0m1-72h0m0 36h0m0 114h0m0 21h0m0 27h0m0 240h0m0 93h0m0 99h0m1-645h0m0 399h0m8-79h0m1-237h0m0 273h0m0 6h0m0 132h0m0 15h0m0 24h0m0 87h0m1-222h0m9-199h0m9 229h0m6-377h0m0 213h0m1-249h0m0 3h0m0 48h0m0 174h0m4-254h0m0 63h0m0 81h0m0 405h0m0 57h0m0 42h0m1-342h0m0 75h0m5-69h0m0 81h0m5-77h0m0 3h0m0 219h0m0 24h0m5-580h0m0 339h0m0 294h0m5-613h0m0 183h0m0 99h0m1-6h0m0 120h0m0 63h0m5-1h0m5-441h0m0 228h0m0 294h0m1-540h0m0 30h0m0 30h0m0 96h0m0 195h0m0 75h0m3-42h0m0 66h0m1-252h0m0 207h0m1-93h0m0 156h0m0 75h0m3-177h0m7-364h0m1 261h0m0 162h0m0 57h0m1-198h0m0 162h0m0 195h0m10-193h0m1-333h0m0 108h0m0 354h0m0 18h0m1-579h0m2 510h0m7-508h0m0 42h0m0 60h0m0 27h0m0 54h0m0 75h0m0 207h0m1-173h0m0 128h0m0 141h0m0 60h0m1-513h0m1 194h0m4-26h0m5 261h0m4-123h0m3 87h0m1-375h0m0 21h0m6 197h0m3 94h0m3-80h0m5 34h0m11-82h0m6 47h0m3-121h0m0 60h0m3 80h0m5 28h0m1-165h0m3 21h0m1 208h0m3-141h0m0 15h0m4 47h0m1-81h0m9-62h0m16 125h0m2 22h0m2-62h0m1 7h0m8 72h0m18-106h0m1 83h0m2-6h0m7 65h0m0 73h0m19-192h0m5 59h0m2-154h0m0 95h0m0 313h0m3-279h0m18 129h0m4 72h0m0 18h0m0 10h0m0 18h0m3-161h0m3-144h0m4 100h0m1-13h0m12-96h0m19-32h0m16 110h0m7-43h0"/><path stroke="#fdac33" d="M962 519h0m17-55h0m34-389h0m18 429h0m9-481h0m33 515h0m7-246h0m4 283h0m35-445h0m0 364h0m8 1h0m34 72h0m30-343h0m0 99h0m28 79h0m10 79h0m10-165h0m15 186h0m22 3h0m5-13h0m37-204h0m4 126h0m30 55h0m20-30h0m2-91h0m5-20h0m7 171h0m9-212h0m0 0h0m24 120h0m18-6h0m0 118h0m7-235h0m0 316h0"/><path stroke="#f9983e" d="M987 571h0m12-188h0m116 86h0m15-368h0m24 296h0m33-78h0m2 185h0m15-134h0m7 114h0m34-82h0m4-72h0m32 167h0m6-39h0m25-88h0m0 74h0m58 86h0"/><path stroke="#f8df25" d="M951 153h0m0 93h0m0 207h0m0 183h0m10-453h0m0 366h0m1-531h0m0 84h0m0 3h0m0 15h0m0 6h0m0 9h0m0 21h0m0 24h0m0 6h0m0 21h0m0 12h0m0 93h0m0 24h0m0 3h0m0 60h0m0 6h0m0 12h0m0 3h0m0 51h0m0 9h0m0 9h0m0 21h0m0 6h0m0 9h0m0 3h0m0 27h0m0 24h0m0 3h0m0 9h0m0 21h0m0 6h0m0 18h0m0 48h0m0 12h0m1-648h0m0 3h0m0 15h0m0 3h0m0 18h0m0 6h0m0 6h0m0 51h0m0 12h0m0 6h0m0 24h0m0 24h0m0 90h0m0 27h0m0 96h0m0 12h0m0 165h0m0 9h0m0 9h0m0 42h0m1-621h0m0 30h0m7 500h0m1-531h0m0 36h0m0 72h0m0 6h0m0 33h0m0 9h0m0 6h0m0 18h0m0 21h0m0 12h0m0 3h0m0 3h0m0 12h0m0 27h0m0 3h0m0 21h0m0 90h0m0 3h0m0 30h0m0 54h0m0 75h0m0 48h0m0 30h0m0 12h0m0 3h0m0 9h0m0 3h0m1-648h0m0 12h0m0 12h0m0 12h0m0 30h0m0 33h0m0 9h0m0 18h0m0 9h0m0 24h0m0 27h0m0 51h0m0 12h0m0 30h0m0 30h0m0 12h0m0 3h0m0 39h0m0 24h0m0 6h0m0 3h0m0 6h0m0 3h0m0 30h0m0 27h0m0 3h0m0 18h0m0 3h0m0 27h0m0 3h0m0 6h0m0 15h0m0 21h0m0 18h0m0 3h0m0 6h0m0 24h0m0 42h0m33-330h0m6-251h0m0 72h0m0 117h0m1-270h0m0 6h0m0 51h0m0 72h0m0 45h0m0 33h0m0 3h0m0 24h0m0 75h0m0 42h0m0 6h0m0 21h0m0 15h0m0 9h0m0 60h0m0 21h0m0 6h0m0 93h0m1-594h0m0 27h0m0 9h0m0 84h0m0 48h0m0 57h0m0 39h0m0 51h0m8-232h0m0 24h0m0 36h0m0 96h0m0 234h0m0 177h0m0 12h0m1-648h0m0 45h0m0 27h0m0 48h0m0 117h0m0 72h0m0 15h0m0 33h0m0 15h0m0 129h0m0 15h0m0 15h0m0 21h0m0 60h0m0 42h0m0 9h0m1-243h0m5-423h0m0 99h0m0 108h0m0 102h0m0 204h0m0 45h0m0 33h0m1-585h0m0 33h0m0 24h0m0 3h0m0 36h0m0 48h0m0 27h0m0 69h0m0 12h0m0 42h0m0 14h0m0 37h0m0 24h0m0 48h0m0 15h0m0 9h0m0 18h0m0 6h0m0 30h0m0 48h0m0 30h0m0 48h0m0 33h0m1-144h0m0 126h0m0 6h0m1-233h0m6-358h0m0 33h0m0 540h0m1-639h0m0 21h0m0 12h0m0 12h0m0 3h0m0 6h0m0 21h0m0 3h0m0 3h0m0 9h0m0 36h0m0 9h0m0 12h0m0 30h0m0 30h0m0 9h0m0 12h0m0 6h0m0 15h0m0 18h0m0 27h0m0 9h0m0 15h0m0 3h0m0 3h0m0 6h0m0 18h0m0 27h0m0 3h0m0 6h0m0 3h0m0 39h0m0 18h0m0 12h0m0 12h0m0 42h0m0 3h0m0 33h0m0 12h0m0 6h0m0 3h0m0 9h0m0 15h0m0 12h0m0 30h0m0 33h0m0 12h0m0 6h0m1-669h0m0 12h0m0 3h0m0 12h0m0 9h0m0 36h0m0 54h0m0 48h0m0 9h0m0 45h0m0 42h0m0 24h0m0 111h0m0 15h0m0 126h0m0 33h0m0 36h0m0 6h0m0 24h0m0 9h0m4-308h0m5-242h0m0 312h0m0 39h0m0 72h0m22-343h0m1-48h0m0 9h0m0 12h0m0 114h0m0 3h0m0 21h0m0 12h0m0 33h0m0 12h0m0 75h0m0 9h0m0 51h0m0 174h0m1-675h0m0 87h0m0 15h0m0 9h0m0 63h0m0 12h0m0 48h0m0 60h0m0 30h0m0 9h0m0 30h0m0 15h0m0 6h0m0 12h0m0 15h0m0 57h0m0 6h0m0 3h0m0 3h0m0 30h0m0 27h0m0 15h0m0 27h0m0 6h0m0 3h0m0 39h0m0 15h0m0 15h0m1-597h0m0 120h0m0 324h0m0 174h0m4-345h0m0 78h0m1-408h0m0 36h0m0 6h0m0 9h0m0 9h0m0 42h0m0 9h0m0 24h0m0 3h0m0 66h0m0 27h0m0 72h0m0 9h0m0 6h0m0 24h0m0 24h0m0 15h0m0 36h0m0 9h0m0 36h0m0 39h0m0 9h0m0 3h0m0 3h0m0 3h0m0 75h0m0 6h0m0 27h0m0 21h0m1-609h0m0 42h0m0 66h0m0 48h0m0 150h0m0 54h0m0 12h0m0 18h0m0 39h0m0 15h0m0 186h0m8-649h0m0 3h0m0 63h0m0 18h0m0 75h0m0 9h0m0 57h0m0 9h0m0 30h0m0 39h0m0 129h0m0 42h0m0 66h0m0 57h0m0 33h0m0 27h0m1-663h0m0 30h0m0 15h0m0 12h0m0 6h0m0 12h0m0 51h0m0 9h0m0 18h0m0 3h0m0 33h0m0 6h0m0 21h0m0 3h0m0 9h0m0 24h0m0 21h0m0 27h0m0 6h0m0 15h0m0 6h0m0 24h0m0 9h0m0 33h0m0 3h0m0 18h0m0 54h0m0 15h0m0 3h0m0 15h0m0 15h0m0 9h0m0 30h0m0 9h0m0 3h0m0 3h0m0 6h0m0 30h0m0 45h0m1-510h0m0 30h0m0 63h0m0 108h0m0 57h0m0 57h0m23-53h0m1-414h0m0 3h0m0 3h0m0 21h0m0 105h0m0 63h0m0 21h0m0 15h0m0 171h0m0 39h0m0 48h0m0 48h0m0 6h0m0 24h0m0 9h0m0 39h0m0 3h0m0 33h0m0 9h0m0 3h0m0 6h0m0 3h0m1-564h0m0 57h0m0 9h0m0 78h0m0 36h0m0 3h0m0 63h0m0 21h0m0 72h0m0 9h0m0 48h0m0 45h0m0 60h0m0 21h0m4-617h0m0 42h0m0 9h0m0 18h0m0 30h0m0 78h0m0 57h0m0 24h0m0 84h0m0 21h0m0 6h0m0 87h0m0 15h0m0 147h0m0 12h0m0 3h0m0 27h0m1-654h0m0 27h0m0 42h0m0 84h0m0 87h0m0 3h0m0 18h0m0 93h0m0 12h0m0 18h0m0 54h0m0 15h0m0 6h0m0 54h0m0 6h0m0 12h0m0 18h0m0 18h0m0 9h0m0 24h0m3-84h0m1-516h0m0 120h0m0 36h0m0 48h0m0 12h0m0 69h0m0 51h0m0 3h0m0 75h0m0 51h0m0 99h0m0 81h0m0 6h0m1-648h0m0 6h0m0 33h0m0 12h0m0 18h0m0 15h0m0 6h0m0 15h0m0 27h0m0 72h0m0 6h0m0 51h0m0 27h0m0 6h0m0 18h0m0 6h0m0 51h0m0 6h0m0 9h0m0 18h0m0 12h0m0 3h0m0 27h0m0 33h0m0 39h0m0 18h0m0 18h0m0 12h0m0 36h0m0 18h0m0 9h0m1-540h0m0 276h0m0 27h0m0 102h0m0 138h0m3-392h0m0 78h0m0 117h0m0 120h0m1-579h0m0 18h0m0 27h0m0 9h0m0 60h0m0 33h0m0 54h0m0 6h0m0 54h0m0 6h0m0 33h0m0 9h0m0 45h0m0 3h0m0 24h0m0 60h0m0 15h0m0 48h0m0 30h0m0 15h0m0 105h0m0 9h0m0 12h0m1-585h0m0 21h0m0 78h0m0 30h0m0 30h0m0 141h0m0 6h0m0 66h0m0 39h0m0 126h0m3-10h0m1-576h0m0 3h0m0 27h0m0 87h0m0 30h0m0 156h0m0 42h0m0 45h0m0 78h0m0 12h0m0 48h0m0 24h0m0 9h0m0 12h0m1-522h0m0 15h0m0 3h0m0 72h0m0 12h0m0 9h0m0 147h0m0 111h0m0 36h0m0 18h0m0 60h0m4-523h0m0 33h0m0 75h0m0 63h0m0 42h0m0 12h0m0 36h0m0 12h0m0 39h0m0 72h0m0 102h0m0 9h0m0 30h0m1-540h0m0 6h0m0 48h0m0 12h0m0 24h0m0 15h0m0 3h0m0 18h0m0 3h0m0 6h0m0 48h0m0 54h0m0 42h0m0 6h0m0 54h0m0 9h0m0 12h0m0 6h0m0 60h0m0 30h0m0 15h0m0 15h0m0 30h0m0 9h0m0 6h0m0 42h0m0 60h0m1-600h0m0 3h0m0 9h0m0 48h0m0 78h0m0 225h0m0 180h0m8-19h0m1-597h0m0 63h0m0 30h0m0 36h0m0 42h0m0 6h0m0 39h0m0 3h0m0 15h0m0 15h0m0 12h0m0 84h0m0 108h0m0 9h0m0 3h0m0 6h0m0 6h0m0 81h0m0 42h0m1-585h0m0 36h0m0 24h0m0 30h0m0 9h0m0 3h0m0 51h0m0 21h0m0 15h0m0 3h0m0 6h0m0 39h0m0 102h0m0 12h0m0 51h0m0 15h0m0 27h0m0 9h0m0 6h0m0 6h0m0 24h0m0 63h0m0 39h0m0 27h0m4-633h0m0 15h0m0 30h0m0 27h0m0 9h0m0 9h0m0 123h0m0 60h0m0 45h0m0 21h0m0 48h0m0 24h0m0 72h0m0 3h0m0 12h0m0 3h0m0 3h0m0 9h0m0 15h0m0 12h0m0 6h0m0 12h0m1-552h0m0 90h0m0 78h0m0 78h0m0 72h0m0 96h0m0 15h0m0 15h0m0 219h0m1-105h0m9-439h0m0 171h0m0 216h0m1-513h0m0 48h0m0 24h0m0 9h0m0 18h0m0 51h0m0 51h0m0 9h0m0 42h0m0 9h0m0 3h0m0 54h0m0 18h0m0 12h0m0 84h0m0 30h0m0 15h0m0 54h0m0 21h0m0 39h0m0 21h0m1-591h0m0 9h0m0 321h0m0 288h0m10-415h0m0 15h0m0 18h0m0 75h0m0 81h0m0 78h0m0 84h0m0 33h0m1-603h0m0 3h0m0 30h0m0 27h0m0 60h0m0 18h0m0 51h0m0 21h0m0 12h0m0 57h0m0 18h0m0 6h0m0 33h0m0 51h0m0 42h0m0 3h0m0 12h0m0 12h0m0 27h0m0 39h0m0 42h0m0 3h0m0 81h0m0 15h0m1-249h0m8-127h0m1-270h0m0 6h0m0 12h0m0 39h0m0 33h0m0 21h0m0 33h0m0 18h0m0 3h0m0 15h0m0 3h0m0 3h0m0 12h0m0 3h0m0 96h0m0 12h0m0 72h0m0 42h0m0 27h0m0 33h0m0 57h0m0 3h0m0 21h0m0 3h0m0 9h0m0 27h0m0 6h0m0 21h0m0 3h0m0 30h0m1-681h0m0 6h0m0 6h0m0 21h0m0 15h0m0 66h0m0 36h0m0 15h0m0 66h0m0 12h0m0 6h0m0 12h0m0 3h0m0 15h0m0 30h0m0 15h0m0 36h0m0 48h0m0 6h0m0 3h0m0 18h0m0 48h0m0 30h0m0 24h0m0 6h0m0 27h0m0 3h0m0 36h0m0 57h0m1-594h0m16 126h0m1-150h0m0 36h0m0 144h0m0 120h0m0 102h0m0 54h0m0 57h0m1-555h0m0 21h0m0 24h0m0 6h0m0 66h0m0 18h0m0 33h0m0 48h0m0 39h0m0 21h0m0 42h0m0 9h0m0 27h0m0 15h0m0 36h0m0 21h0m0 138h0m0 15h0m0 18h0m0 12h0m0 66h0m1-651h0m0 51h0m0 213h0m0 357h0m1-191h0m27-61h0m3-101h0m108 150h0m59-22h0m18-5h0m2-26h0m1035-48h0m3 9h0m1-2h0m0 27h0m1-40h0m0 20h0m0 23h0m1-23h0m0 7h0m0 18h0m1-48h0m0 6h0m0 2h0m0 1h0m0 17h0m0 0h0m0 1h0m0 18h0m0 2h0m1-55h0m0 0h0m0 1h0m0 5h0m0 3h0m0 19h0m0 2h0m0 4h0m0 3h0m0 1h0m0 20h0m1-56h0m0 9h0m0 4h0m0 1h0m0 6h0m0 9h0m0 9h0m0 5h0m0 7h0m0 0h0m0 0h0m0 13h0m0 0h0m1-65h0m0 13h0m0 3h0m0 7h0m0 9h0m0 12h0m0 9h0m0 3h0m0 1h0m0 4h0m0 3h0m0 1h0m1-57h0m0 10h0m0 18h0m1 5h0m0 0h0m0 2h0m0 2h0m1-53h0m0 27h0m0 32h0m1-18h0m1-13h0"/><path stroke="#f6e826" d="M2469 372h0m2-22h0m0 36h0m0 13h0m1-33h0m0 39h0m1-41h0m0 3h0m1-11h0m0 35h0m0 3h0m0 18h0m1-30h0m1-7h0m0 24h0m1-22h0m1-19h0"/><path stroke="#f0804e" d="M998 336h0m78 262h0m6-201h0m68 99h0m153-141h0m17 10h0m44 86h0"/><path stroke="#da5a6a" d="M1251 358h0m80 46h0"/><path stroke="#fbd524" d="M943 403h0m1 79h0m1-182h0m6 101h0m6 94h0m4-354h0m1-117h0m0 3h0m0 117h0m0 69h0m0 9h0m0 105h0m0 306h0m0 21h0m1-639h0m0 24h0m0 33h0m0 219h0m0 33h0m0 279h0m0 48h0m9-385h0m0 228h0m0 15h0m0 90h0m0 66h0m1-591h0m0 36h0m0 18h0m0 69h0m0 18h0m0 84h0m0 180h0m0 51h0m0 111h0m1-630h0m4 425h0m3-72h0m20 101h0m2 9h0m9 18h0m1-426h0m0 51h0m0 33h0m0 18h0m0 84h0m0 45h0m0 192h0m0 162h0m1-564h0m0 258h0m0 210h0m2-125h0m5-5h0m1-384h0m0 108h0m0 30h0m0 36h0m1-159h0m0 12h0m0 132h0m0 57h0m0 204h0m0 30h0m0 54h0m0 54h0m0 24h0m1-6h0m5-525h0m0 492h0m1-477h0m0 51h0m0 180h0m0 29h0m0 49h0m0 15h0m0 78h0m0 177h0m1-525h0m7 258h0m1-345h0m0 9h0m0 39h0m0 3h0m0 6h0m0 21h0m0 66h0m0 93h0m0 18h0m0 54h0m0 12h0m0 84h0m0 30h0m0 54h0m1-531h0m0 84h0m1 455h0m8-120h0m4 96h0m12-140h0m6-124h0m1-199h0m0 12h0m0 114h0m0 42h0m0 45h0m0 93h0m0 207h0m0 39h0m0 45h0m1-663h0m0 12h0m0 108h0m0 180h0m0 99h0m0 159h0m0 9h0m0 30h0m0 60h0m1-129h0m4-375h0m0 39h0m0 81h0m0 51h0m0 264h0m1-585h0m0 24h0m0 42h0m0 99h0m0 153h0m0 57h0m0 150h0m0 30h0m0 12h0m0 63h0m1-561h0m0 261h0m0 54h0m0 177h0m0 45h0m0 15h0m8-586h0m1-21h0m0 30h0m0 3h0m0 78h0m0 3h0m0 126h0m0 6h0m0 6h0m0 21h0m0 42h0m0 30h0m0 6h0m0 15h0m0 21h0m0 12h0m0 75h0m0 51h0m0 15h0m0 99h0m25-599h0m0 24h0m0 234h0m0 15h0m0 6h0m0 30h0m0 81h0m0 24h0m1-444h0m0 39h0m0 141h0m0 54h0m0 180h0m0 57h0m0 93h0m4-377h0m0 3h0m0 111h0m0 63h0m1-357h0m0 6h0m0 39h0m0 48h0m0 15h0m0 105h0m0 24h0m0 69h0m0 12h0m0 3h0m0 81h0m0 42h0m0 138h0m0 21h0m3-96h0m1-498h0m1-45h0m0 57h0m0 51h0m0 126h0m0 84h0m0 102h0m0 7h0m0 50h0m0 51h0m1-378h0m0 102h0m0 249h0m3-359h0m0 462h0m1-591h0m0 3h0m0 9h0m0 42h0m0 6h0m0 108h0m0 63h0m0 141h0m0 36h0m0 6h0m0 54h0m0 9h0m0 42h0m0 75h0m0 54h0m0 6h0m1-531h0m0 21h0m0 78h0m2 50h0m1 126h0m1-360h0m0 165h0m0 24h0m0 219h0m0 129h0m0 84h0m1-486h0m0 48h0m0 297h0m0 6h0m4-85h0m0 228h0m1-675h0m0 105h0m0 6h0m0 69h0m0 3h0m0 9h0m0 18h0m0 15h0m0 18h0m0 21h0m0 15h0m0 18h0m0 279h0m0 96h0m1-357h0m0 21h0m2 75h0m7-397h0m0 174h0m0 36h0m0 129h0m0 18h0m0 6h0m0 39h0m0 72h0m0 120h0m1-462h0m0 6h0m0 66h0m0 33h0m0 9h0m0 33h0m0 48h0m0 42h0m0 102h0m0 21h0m0 6h0m0 156h0m1-138h0m3-525h0m0 156h0m0 78h0m0 42h0m0 111h0m0 156h0m0 48h0m0 9h0m1-573h0m0 78h0m0 90h0m0 3h0m0 111h0m0 27h0m0 57h0m11-355h0m0 57h0m0 48h0m0 15h0m0 162h0m0 138h0m0 12h0m0 63h0m0 39h0m0 21h0m0 27h0m1-504h0m0 48h0m0 12h0m0 420h0m10-424h0m0 93h0m0 360h0m1-531h0m0 9h0m0 33h0m0 9h0m0 21h0m0 144h0m0 237h0m0 84h0m1-561h0m0 12h0m0 141h0m0 138h0m0 78h0m6-88h0m2 126h0m1-444h0m0 81h0m0 30h0m0 21h0m0 120h0m0 57h0m0 54h0m0 45h0m0 15h0m0 45h0m0 18h0m0 21h0m0 54h0m0 39h0m1-498h0m0 234h0m0 3h0m0 45h0m0 210h0m6-529h0m0 117h0m10 128h0m1 95h0m1-288h0m0 150h0m1-132h0m0 27h0m0 87h0m0 45h0m0 10h0m0 137h0m0 42h0m0 30h0m0 39h0m0 81h0m1-531h0m0 257h0m1-101h0m4 79h0m0 66h0m2 65h0m6-178h0m10 239h0m4-57h0m7-150h0m7 21h0m6 92h0m3-81h0m1-63h0m1 144h0m4 14h0m4-69h0m2-114h0m7 207h0m9-104h0m13-98h0m3 188h0m0 9h0m1-75h0m11-83h0m5 49h0m0 21h0m2-29h0m1-93h0m8-27h0m1 113h0m11 100h0m24-57h0m15-4h0m5-119h0m8 64h0m12-95h0m3 108h0m3-50h0m4 167h0m5-295h0m0 8h0m0 16h0m1 157h0m3-84h0m2 228h0m15-319h0m1028 159h0m0 15h0m1-22h0m0 8h0m0 24h0m1-20h0m0 17h0m1-2h0m1-22h0m0 23h0"/></g></g>
<g clip-path="url(#c1)" fill="none" stroke-linecap="round"><polygon points="390.5,241 396,238.5 403.5,237.5 403.5,314 398,308 394,302 390.5,292" fill="#f8dc25" stroke="#f8dc25" stroke-width="3" stroke-linejoin="round"/><polygon points="403,286 411,279 416,280 424,282 426,292 432,296 438,300 442.5,307 442.8,311 440,318 436,322 421,323 416,320 406.4,313 403,311" fill="#f8dc25" stroke="#f8dc25" stroke-width="3" stroke-linejoin="round"/><path d="M407 236.8L408.4 296" stroke="#fad324" stroke-width="7.6"/><path d="M410.3 248L411 302" stroke="#f8dc25" stroke-width="3"/><path d="M417.2 247L419.6 316" stroke="#f8dc25" stroke-width="6"/><path d="M421.6 252L422.6 318" stroke="#fad324" stroke-width="5"/><path d="M414.6 270L415.4 316" stroke="#f8dc25" stroke-width="4"/><path d="M423.3 237.5L423.6 264" stroke="#f8dc25" stroke-width="3.8"/><path d="M428.5 249.5L428.9 266.5" stroke="#fad324" stroke-width="6.2"/><path d="M450.4 246L454.6 282" stroke="#f8dc25" stroke-width="5.6"/><path d="M453.8 245.5L458.3 321" stroke="#f8dc25" stroke-width="5.2"/><path d="M456.6 256L458 280" stroke="#fad324" stroke-width="3.6"/><path d="M458.9 266L459.5 274" stroke="#f8dc25" stroke-width="4.4"/><path d="M448.2 299.5L450 318.5" stroke="#f8dc25" stroke-width="5.6"/><path d="M496.2 244.5L498.6 280" stroke="#fad324" stroke-width="5.6"/><path d="M499.8 245L499.9 248" stroke="#f8dc25" stroke-width="4"/><path d="M502.2 268L505.6 300" stroke="#f8dc25" stroke-width="5.6"/><path d="M503.6 272L505.2 294" stroke="#fad324" stroke-width="2.6"/><path d="M497.4 303L500.6 331" stroke="#f8dc25" stroke-width="6.4"/><path d="M498.6 309L499.8 325" stroke="#f8dc25" stroke-width="8.4"/></g><g clip-path="url(#c1)"><g transform="translate(250,120) scale(0.5)" fill="none" stroke-width="8" stroke-linecap="round"><path stroke="#f9dd25" d="M304 338h0m0 6h0m0 11h0m0 16h0m2-30h0m0 16h0m0 3h0m1-26h0m0 41h0m0 8h0m2-139h0m0 11h0m0 4h0m0 9h0m0 60h0m0 3h0m0 2h0m0 8h0m1-76h0m0 15h0m0 11h0m0 9h0m0 8h0m0 26h0m0 53h0m1-84h0m1 24h0m4 62h0m1-66h0m0 64h0m2-151h0m0 8h0m0 9h0m0 27h0m2-26h0m0 5h0m0 4h0m0 9h0m0 1h0m0 9h0m0 9h0m0 1h0m0 5h0m0 14h0m0 2h0m0 1h0m0 1h0m0 6h0m0 0h0m0 0h0m0 4h0m0 9h0m0 4h0m0 1h0m0 5h0m0 5h0m1-17h0m0 32h0m5-62h0m0 15h0m0 11h0m1 0h0m1 11h0m0 4h0m0 3h0m0 1h0m0 13h0m0 16h0m1-26h0m1-31h0m0 41h0m1-78h0m0 5h0m0 27h0m0 8h0m0 4h0m0 17h0m0 1h0m0 56h0m0 1h0m1-121h0m0 16h0m0 13h0m0 12h0m0 1h0m0 17h0m0 6h0m2-25h0m0 35h0m0 48h0m1-38h0m0 4h0m0 14h0m2-129h0m0 7h0m0 10h0m2-6h0m0 30h0m0 0h0m0 4h0m0 23h0m0 4h0m0 5h0m0 72h0m1-124h0m1 1h0m0 9h0m0 1h0m0 25h0m0 25h0m0 35h0m0 3h0m2-141h0m2 32h0m0 17h0m0 1h0m0 36h0m0 1h0m0 30h0m0 14h0m0 38h0m1-69h0m0 45h0m1-142h0m0 2h0m0 7h0m0 8h0m0 12h0m0 94h0m0 0h0m1-30h0m1 2h0m0 3h0m1 3h0m0 65h0m1-2h0m0 2h0m1-67h0m1-59h0m0 5h0m1-13h0m0 9h0m0 2h0m2 62h0m3-75h0m1-11h0m0 9h0m0 17h0m0 69h0m4 2h0m0 51h0m3-2h0m1-49h0m0 51h0m4-5h0m2-43h0m2 2h0m0 1h0m1 36h0m2-1h0m4-25h0m0 3h0m0 10h0m2-4h0m10 14h0m1-1h0m3-22h0m1-89h0m0 90h0m0 4h0m3-78h0m0 8h0m1-50h0m0 3h0m0 4h0m2 5h0m0 6h0m0 9h0m0 5h0m1 0h0m1-1h0m0 6h0m0 8h0m0 0h0m0 0h0m0 4h0m0 3h0m0 6h0m0 17h0m0 2h0m0 1h0m0 1h0m2-78h0m0 6h0m0 3h0m0 34h0m0 20h0m0 15h0m0 26h0m2-86h0m0 8h0m0 7h0m1 18h0m0 75h0m1-90h0m0 14h0m0 2h0m0 1h0m0 2h0m0 27h0m0 6h0m0 54h0m1-114h0m1 17h0m0 2h0m0 57h0m0 22h0m2 12h0m70-140h0m2 2h0m0 5h0m0 23h0m2 12h0m0 75h0m0 4h0m0 2h0m0 7h0m0 13h0m2-147h0m0 136h0m2-114h0m0 142h0m0 2h0m0 2h0m2-133h0m0 8h0m0 8h0m0 1h0m0 4h0m0 9h0m2-20h0m0 96h0m2-81h0m0 74h0m0 8h0m0 4h0m0 2h0m2-58h0m0 48h0m0 2h0m0 23h0m3-100h0m0 31h0m1-27h0m0 5h0m0 8h0m0 11h0m0 1h0m1-29h0m0 13h0m0 8h0m0 11h0m1-5h0m0 2h0m1-11h0m0 7h0m1 13h0m1 6h0"/><path stroke="#fbd724" d="M305 368h0m0 13h0m1-9h0m0 9h0m3-144h0m0 8h0m0 93h0m0 9h0m0 1h0m1-48h0m4 21h0m0 7h0m4-8h0m0 4h0m0 68h0m4-112h0m0 18h0m0 3h0m0 0h0m0 11h0m0 5h0m0 0h0m0 8h0m0 1h0m0 1h0m0 1h0m0 5h0m0 6h0m0 12h0m0 0h0m0 2h0m0 38h0m1-52h0m3-19h0m1-18h0m3-39h0m0 1h0m0 37h0m0 18h0m0 1h0m0 45h0m0 34h0m1-82h0m0 11h0m0 31h0m0 42h0m3-77h0m0 31h0m0 8h0m0 21h0m1-43h0m0 23h0m0 1h0m3-101h0m0 35h0m1-18h0m0 10h0m0 20h0m4 45h0m0 13h0m0 18h0m0 2h0m4-151h0m0 8h0m0 3h0m0 4h0m0 46h0m0 25h0m0 6h0m0 1h0m0 8h0m0 3h0m0 19h0m0 31h0m4-47h0m1-3h0m3-56h0m1 59h0m0 57h0m0 3h0m12-52h0m0 52h0m1-48h0m3 1h0m9 9h0m4 5h0m0 6h0m0 8h0m16-104h0m0 101h0m1-93h0m0 3h0m0 83h0m3-106h0m1 42h0m4-52h0m0 3h0m0 60h0m0 2h0m0 18h0m0 10h0m1-38h0m3-31h0m0 0h0m0 3h0m0 20h0m0 2h0m0 2h0m0 4h0m0 83h0m1-92h0m0 4h0m0 3h0m3 79h0m71-131h0m4 50h0m0 72h0m1-86h0m0 112h0m3-145h0m1 39h0m0 118h0m4-168h0m0 53h0m0 3h0m0 70h0m0 11h0m1-81h0m3 39h0m0 59h0m0 1h0m4-85h0m1 17h0m4 18h0"/><path stroke="#f6e626" d="M303 355h0m1 13h0m0 2h0m3-23h0m1 35h0m3-68h0m1 21h0m8-78h0m0 2h0m0 3h0m0 2h0m0 22h0m0 6h0m0 3h0m0 6h0m0 2h0m0 13h0m0 12h0m4-9h0m0 77h0m4-94h0m0 13h0m0 30h0m0 4h0m0 20h0m0 5h0m1 22h0m3-139h0m0 9h0m0 132h0m1-110h0m0 12h0m0 75h0m0 26h0m3-11h0m1-8h0m0 19h0m4-122h0m0 2h0m0 2h0m0 21h0m0 9h0m0 2h0m0 9h0m0 8h0m0 19h0m0 11h0m0 14h0m0 15h0m4-136h0m0 8h0m0 9h0m0 0h0m0 7h0m0 6h0m0 3h0m1-15h0m0 15h0m0 24h0m3-38h0m0 5h0m4 127h0m5-59h0m0 1h0m0 1h0m4-65h0m4 72h0m8 47h0m4-8h0m1 4h0m4-33h0m0 27h0m0 1h0m4-17h0m0 5h0m0 4h0m8-10h0m0 10h0m1-5h0m7 14h0m1-143h0m0 2h0m0 43h0m0 1h0m0 1h0m0 96h0m4-111h0m0 10h0m4-16h0m0 1h0m0 11h0m0 65h0m0 21h0m1-89h0m0 5h0m3 9h0m0 1h0m0 35h0m4-40h0m1-1h0m0 11h0m70-45h0m1 104h0m0 26h0m4-129h0m0 1h0m0 143h0m0 13h0m4-165h0m0 62h0m0 2h0m4 8h0m1 83h0m3-99h0m0 4h0m0 1h0m0 35h0m1-42h0m0 9h0m0 23h0"/></g></g><g clip-path="url(#c1)" fill="none" stroke-linecap="round"><path d="M393.2 243L393.9 287" stroke="#f3ae22" stroke-width="2.4" stroke-opacity="0.75"/><path d="M393.4 250L393.7 272" stroke="#e9981f" stroke-width="1.2" stroke-opacity="0.9"/><path d="M404 249L404.7 278" stroke="#f2aa22" stroke-width="2.8" stroke-opacity="0.8"/><path d="M404.2 257L404.6 273" stroke="#e08c1e" stroke-width="1.6" stroke-opacity="0.9"/><path d="M404.3 264L404.5 269" stroke="#d47f1c" stroke-width="2" stroke-opacity="0.9"/><path d="M384.7 245L385 275" stroke="#f5b823" stroke-width="1.2" stroke-opacity="0.8"/><path d="M399.6 244L400 282" stroke="#f5b423" stroke-width="1.5" stroke-opacity="0.8"/><path d="M388.4 250L388.8 285" stroke="#f6bc24" stroke-width="1" stroke-opacity="0.8"/><path d="M396.6 248L396.9 270" stroke="#f6ba24" stroke-width="1" stroke-opacity="0.7"/><path d="M408.8 252L409.3 280" stroke="#f5b823" stroke-width="1.3" stroke-opacity="0.7"/><path d="M503.9 272L505.2 296" stroke="#f0a522" stroke-width="2.2" stroke-opacity="0.8"/><path d="M504.3 280L504.9 292" stroke="#de8a1e" stroke-width="1.2" stroke-opacity="0.9"/><path d="M457 260L457.8 280" stroke="#f5b823" stroke-width="1.2" stroke-opacity="0.7"/><path d="M533.5 252h0" stroke="#fbd724" stroke-width="4"/><path d="M537 255.5h0" stroke="#fbd724" stroke-width="4"/></g>
<path fill="none" stroke="#b0b0b0" stroke-width="1.11" d="M508.5 120v350M767.5 120v350M1025.5 120v350M1283.5 120v350M250 353.5h1240M250 237.5h1240"/>
<path fill="none" stroke="#000" stroke-width="1.11" d="M250.5 470.5v5.4M508.5 470.5v5.4M767.5 470.5v5.4M1025.5 470.5v5.4M1283.5 470.5v5.4M250.5 470.5h-5.4M250.5 353.5h-5.4M250.5 237.5h-5.4M250.5 120.5h-5.4"/><path fill="none" stroke="#000" stroke-width="0.83" d="M302.5 470.5v3.3M353.5 470.5v3.3M405.5 470.5v3.3M457.5 470.5v3.3M560.5 470.5v3.3M612.5 470.5v3.3M663.5 470.5v3.3M715.5 470.5v3.3M818.5 470.5v3.3M870.5 470.5v3.3M922.5 470.5v3.3M973.5 470.5v3.3M1077.5 470.5v3.3M1128.5 470.5v3.3M1180.5 470.5v3.3M1232.5 470.5v3.3M1335.5 470.5v3.3M1387.5 470.5v3.3M1438.5 470.5v3.3M1490.5 470.5v3.3M250.5 447.5h-3.3M250.5 423.5h-3.3M250.5 400.5h-3.3M250.5 377.5h-3.3M250.5 330.5h-3.3M250.5 307.5h-3.3M250.5 283.5h-3.3M250.5 260.5h-3.3M250.5 213.5h-3.3M250.5 190.5h-3.3M250.5 167.5h-3.3M250.5 143.5h-3.3"/><rect x="250.5" y="120.5" width="1240" height="350" fill="none" stroke="#000" stroke-width="1.11"/>
<defs><linearGradient id="e1" gradientUnits="userSpaceOnUse" x1="0" y1="657" x2="0" y2="734"><stop offset="0" stop-color="#0028ff"/><stop offset="0.35" stop-color="#0058ff"/><stop offset="0.6" stop-color="#00a4ff"/><stop offset="0.8" stop-color="#06edf1"/><stop offset="1" stop-color="#1fffd7"/></linearGradient></defs><g clip-path="url(#c2)" fill="none" stroke-linecap="round"><polygon points="390.5,661 396,658.5 403.5,657.5 403.5,734 398,728 394,722 390.5,712" fill="url(#e1)" stroke="url(#e1)" stroke-width="3" stroke-linejoin="round"/></g>
<g clip-path="url(#c2)"><g transform="translate(250,540) scale(0.5)" fill="none" stroke-width="8" stroke-linecap="round"><path stroke="#ff2d00" d="M10 151h0m2-7h0m0 357h0m0 117h0m4-496h0m4 4h0m2-8h0m3-79h0m3 322h0m0 237h0m1-198h0m2-252h0m1 252h0m1-125h0m1 334h0m8-21h0m3-454h0"/><path stroke="#90ff66" d="M5 28h0m0 387h0m2-196h0m0 168h0m0 81h0m3-362h0m0 258h0m0 288h0m7-473h0m1-77h0m2-30h0m0 264h0m4-147h0m0 357h0m1-525h0m1 184h0m1 39h0m0 330h0m5-449h0m4 391h0m1-43h0m0 204h0m1 6h0m1-450h0m2 136h0m5 140h0"/><path stroke="#ff6000" d="M3 88h0m4 215h0m1 21h0m1 141h0m1-60h0m1 3h0m1-351h0m0 201h0m2 120h0m2 11h0m7 107h0m2-6h0m1-426h0m2 42h0m1-33h0m4 262h0m12-318h0m2 4h0"/><path stroke="#000084" d="M2 184h0m1-153h0m0 480h0m2-417h0m0 480h0m1-24h0m1-364h0m0 228h0m1-333h0m0 21h0m0 492h0m1-503h0m0 207h0m1-27h0m0 243h0m2-337h0m1 480h0m1-552h0m2 362h0m1-356h0m1 564h0m3-423h0m1 91h0m0 27h0m1 273h0m3-396h0m1 375h0m0 30h0m1-402h0m1-33h0m1 408h0m1-153h0m1-315h0m0 28h0m0 501h0m1-363h0m2-215h0m0 240h0m0 120h0m1-441h0m1 38h0m0 195h0m0 399h0m0 6h0m1-636h0m0 81h0m0 6h0m0 54h0m0 159h0m1-312h0m0 198h0m1-18h0m0 219h0m0 117h0m1-270h0m0 291h0m1-434h0m1 183h0m2 161h0m1-384h0m0 69h0m1-51h0m1 109h0m0 48h0m1 318h0m1-14h0m1 60h0m1-411h0"/><path stroke="#c1ff36" d="M2 346h0m3-6h0m3-136h0m0 114h0m0 366h0m1-59h0m0 9h0m1-612h0m0 525h0m1-523h0m1 63h0m1 546h0m1-111h0m5-30h0m1 102h0m1-48h0m0 24h0m0 117h0m1-176h0m0 30h0m0 9h0m2-340h0m0 207h0m6-311h0m3 28h0m0 36h0m0 330h0m0 168h0m0 24h0m7-363h0m0 324h0m1-449h0m1-177h0m0 192h0m1-93h0m3 107h0m4 14h0"/><path stroke="#840000" d="M3 100h0m0 585h0m0 12h0m2-309h0m0 147h0m1-390h0m0 177h0m1-223h0m0 132h0m0 228h0m1-234h0m0 360h0m2-404h0m0 216h0m0 33h0m1-259h0m0 138h0m0 54h0m1-81h0m1 180h0m0 24h0m1-453h0m0 462h0m0 177h0m2-631h0m0 30h0m1 286h0m1-174h0m0 48h0m0 146h0m0 313h0m1-357h0m2 219h0m1-323h0m0 42h0m1-66h0m0 21h0m0 78h0m0 147h0m1-223h0m0 261h0m1-429h0m0 327h0m0 231h0m1-410h0m0 261h0m1-135h0m0 114h0m0 69h0m0 42h0m1-312h0m0 15h0m0 150h0m0 141h0m1-456h0m0 72h0m0 201h0m1-168h0m0 306h0m1-443h0m1 594h0m1-363h0m0 105h0m0 87h0m0 15h0m0 51h0m1-533h0m0 398h0m0 37h0m1-381h0m0 309h0m0 120h0m0 102h0m1-111h0m1-442h0m0 3h0m0 351h0m0 225h0m3-462h0m0 147h0m0 69h0m0 75h0m0 186h0m2-518h0m3 140h0m1 45h0m0 354h0m1 25h0m1-480h0m0 111h0m0 54h0m2-332h0m1-12h0m0 606h0m0 6h0m1-42h0m0 93h0"/><path stroke="#0045ff" d="M4 223h0m4 230h0m2-218h0m8 365h0m15-319h0m2 49h0m0 204h0m12-142h0m1-176h0m1 117h0m1 349h0"/><path stroke="#ff9400" d="M3 502h0m3-297h0m0 102h0m2 224h0m1 70h0m3-511h0m1 570h0m1-183h0m2 182h0m2-524h0m2 288h0m1-234h0m0 330h0m2 3h0m1-372h0m0 150h0m2-89h0m4 81h0m1 249h0m1-482h0m1-12h0m0 627h0m1-597h0m1 160h0m3 437h0m2-408h0m0 96h0m0 249h0m1-174h0m1 46h0m2-45h0m5 211h0m2-408h0"/><path stroke="#000dff" d="M6 403h0m4 48h0m6-32h0m0 201h0m2-215h0m3 126h0m3-506h0m1 614h0m6-383h0m6-197h0m3 390h0m8 94h0"/><path stroke="#09f0ee" d="M3 205h0m2 477h0m2-234h0m6-349h0m1 381h0m2-283h0m0 72h0m1 222h0m3-401h0m1 201h0m1 145h0m11 157h0m2-236h0m1 224h0m2-504h0m0 42h0m1 294h0m2 195h0m6-504h0m4 425h0"/><path stroke="#39ffbe" d="M4 499h0m8-367h0m4-76h0m2 100h0m2 507h0m2-530h0m1-106h0m1 9h0m5 112h0m0 189h0m2-183h0m1 229h0m5-366h0m8 21h0m0 153h0m1 444h0m2 16h0"/><path stroke="#ffcc00" d="M3 187h0m0 144h0m0 39h0m2-345h0m0 564h0m2-391h0m1 480h0m2-566h0m1-19h0m0 471h0m4-535h0m2 100h0m1 495h0m0 27h0m2-501h0m2 61h0m0 426h0m0 45h0m1-444h0m1 230h0m1-291h0m1 343h0m3-441h0m4 484h0m2-161h0m4-199h0m2 336h0m9-106h0"/><path stroke="#00b4ff" d="M12 471h0m4-391h0m1 451h0m3-480h0m2 100h0m1 482h0m1-507h0m6-26h0m1 390h0m12-328h0m4 281h0m3 89h0m1 153h0m2-162h0"/><path stroke="#eeff09" d="M3 52h0m1 222h0m1 342h0m3-538h0m1 333h0m4-123h0m1 156h0m1 17h0m0 184h0m1-541h0m4 247h0m0 54h0m0 153h0m2-344h0m0 276h0m1-375h0m0 290h0m1-108h0m0 198h0m1-258h0m0 201h0m2-356h0m0 72h0m1 333h0m1-231h0m0 183h0m0 150h0m2-342h0m0 273h0m0 27h0m4-454h0m0 489h0m1 30h0m1-514h0m0 42h0m0 504h0m1-522h0m2-24h0m1 277h0m1-357h0m0 48h0m1 321h0m5 300h0m2-599h0m1-66h0m0 531h0"/><path stroke="#66ff90" d="M3 541h0m1-21h0m4-484h0m4 423h0m0 162h0m1-57h0m1-396h0m0 528h0m2-400h0m2 220h0m0 72h0m2-138h0m1-228h0m1 64h0m1-103h0m2 262h0m1-366h0m1 492h0m5-3h0m8 61h0m2-455h0m3 419h0m3-575h0"/><path stroke="#0000df" d="M12 669h0m2-117h0m2-361h0m4 484h0m1-20h0m3-193h0m3-392h0m2 162h0m11 340h0m1-113h0"/><path stroke="#0080ff" d="M3 601h0m2-84h0m9-430h0m0 51h0m7 141h0m0 235h0m1-90h0m5 0h0m6 229h0m1 19h0m3-463h0m3 114h0m6 147h0"/><path stroke="#df0000" d="M3 673h0m3-369h0m1 393h0m2-498h0m1 336h0m8-16h0m1-375h0m15 348h0m0 198h0m1-243h0m2 164h0m5-419h0m4 8h0m1 318h0"/><path stroke="#90ff66" d="M3 145h0m0 249h0m1-333h0m5 144h0m7 109h0m0 132h0m6-271h0m1-39h0m1 83h0m0 120h0m3 103h0m3 72h0m1-350h0m0 54h0m5 352h0m3-526h0m1 231h0m1-200h0m0 450h0m6-22h0m1 79h0m2-143h0"/><path stroke="#39ffbe" d="M11 138h0m0 261h0m1-27h0m1-261h0m19-71h0m0 70h0m8 453h0m1-347h0m2-30h0m8 10h0"/><path stroke="#66ff90" d="M3 298h0m5-45h0m0 413h0m1-617h0m0 240h0m0 237h0m5-505h0m3 186h0m0 26h0m11-145h0m0 240h0m4 292h0m5-192h0m1 240h0m1-327h0m9 319h0m1-513h0"/><path stroke="#ffcc00" d="M3 400h0m4-28h0m1-243h0m3 40h0m1 317h0m1-132h0m1-291h0m3 137h0m3 451h0m1-512h0m4-127h0m0 135h0m5 25h0m1-141h0m4 245h0m0 156h0m2-202h0m1-24h0m2 384h0m1-62h0m8 147h0m1-437h0m2-105h0"/><path stroke="#000dff" d="M4 244h0m4 428h0m18-419h0m0 444h0m3-648h0m3 496h0m17 146h0"/><path stroke="#0000df" d="M11 345h0m2 123h0m4-100h0m14 293h0m4-463h0m0 330h0m11-244h0"/><path stroke="#eeff09" d="M2 160h0m1-111h0m0 468h0m3-12h0m0 6h0m1 53h0m3-494h0m0 282h0m1-142h0m1 60h0m0 240h0m1-288h0m0 357h0m1-300h0m4 45h0m2 55h0m1 27h0m1-339h0m0 183h0m0 81h0m2-136h0m2-128h0m1 39h0m2 162h0m0 372h0m0 30h0m1-609h0m0 66h0m1 6h0m0 306h0m1-276h0m0 4h0m1 261h0m0 228h0m2-632h0m0 141h0m0 150h0m0 324h0m2-511h0m1 216h0m1-273h0m1 375h0m3-98h0m3-55h0m4-136h0m0 12h0m2 495h0"/><path stroke="#840000" d="M3 64h0m0 276h0m0 192h0m0 81h0m1-387h0m0 33h0m1-198h0m0 102h0m0 420h0m1-297h0m0 30h0m0 263h0m1-558h0m0 150h0m1-132h0m0 294h0m0 342h0m1-467h0m0 350h0m0 100h0m1-643h0m0 469h0m1-337h0m0 186h0m1-141h0m0 282h0m0 3h0m0 162h0m1-621h0m1 357h0m0 108h0m1-49h0m1-420h0m0 3h0m0 96h0m0 159h0m0 360h0m0 45h0m1-330h0m0 78h0m2 127h0m1-432h0m0 21h0m0 96h0m1-216h0m0 226h0m1-51h0m0 39h0m0 87h0m0 138h0m0 66h0m1-237h0m0 56h0m0 289h0m1-127h0m0 6h0m1-293h0m0 215h0m1-350h0m0 182h0m0 421h0m1-432h0m0 387h0m0 42h0m2-669h0m0 399h0m0 141h0m0 117h0m2-114h0m1-351h0m0 69h0m1 136h0m0 282h0m1-363h0m1-119h0m0 150h0m0 96h0m1-363h0m1 470h0m1-516h0m0 171h0m0 111h0m0 135h0m0 36h0m0 30h0m0 51h0m2-219h0m1-189h0m0 45h0m1 49h0m0 72h0m0 66h0m0 171h0m4-502h0m0 228h0m0 150h0m0 18h0m0 189h0m1-441h0m0 36h0m1-203h0m0 318h0m0 243h0m1-225h0m1-209h0m0 195h0m0 123h0m1-405h0m0 48h0m0 90h0m0 243h0m1 117h0"/><path stroke="#ff9400" d="M4 556h0m1-339h0m1 272h0m2-371h0m1 84h0m4-100h0m3 17h0m0 36h0m0 246h0m1-249h0m0 105h0m1-32h0m2 402h0m1-273h0m0 183h0m4 156h0m1-320h0m1 57h0m2-345h0m5 320h0m1-357h0m0 120h0m0 159h0m0 264h0m3-466h0m2 27h0m2 511h0m5-454h0m2 287h0m1-240h0m1-78h0m0 357h0"/><path stroke="#c1ff36" d="M2 559h0m1-513h0m1 342h0m0 75h0m1 27h0m1-249h0m2 144h0m0 125h0m1-363h0m0 163h0m3-238h0m2 51h0m0 219h0m0 174h0m1-304h0m1-159h0m1 118h0m1-147h0m0 12h0m0 159h0m0 108h0m1 126h0m0 255h0m3-368h0m0 42h0m9 66h0m1 82h0m1-417h0m2 322h0m0 240h0m2-250h0m1 294h0m4-659h0m1 3h0m6 366h0m2-95h0"/><path stroke="#df0000" d="M6 523h0m1 17h0m17-360h0m7-164h0m0 435h0m2-308h0m5 15h0m10 526h0m3-17h0"/><path stroke="#0045ff" d="M6 85h0m1 68h0m0 294h0m11-426h0m0 513h0m6-309h0m2 412h0m5-426h0m2-158h0m0 42h0m6 348h0m1-297h0m0 111h0m6 408h0m3-650h0m3 418h0"/><path stroke="#09f0ee" d="M3 385h0m11 248h0m7-597h0m0 237h0m1-125h0m6 45h0m1 348h0m1 60h0m9-362h0m1 150h0m7 124h0"/><path stroke="#ff6000" d="M3 154h0m2 237h0m2-358h0m1 132h0m0 96h0m4 435h0m6-153h0m8-377h0m4 222h0m1-297h0m2 517h0m5-84h0m3-380h0m6 158h0m1 166h0"/><path stroke="#00b4ff" d="M7 445h0m1 17h0m2-146h0m5-56h0m3-191h0m14 596h0m3-404h0m3 275h0m2-117h0m2-314h0m0 564h0m2-63h0"/><path stroke="#0080ff" d="M8 243h0m0 399h0m4-396h0m0 9h0m0 354h0m4-526h0m5 112h0m7 88h0m0 36h0m1-228h0m0 243h0m9 82h0m2 270h0m2-179h0m7-98h0m0 149h0"/><path stroke="#000084" d="M3 190h0m0 183h0m1-333h0m0 267h0m0 324h0m1-474h0m0 90h0m1 120h0m1 146h0m3-206h0m1-262h0m0 51h0m0 210h0m0 187h0m1-202h0m1-240h0m1 279h0m1-283h0m1 228h0m0 36h0m0 39h0m0 174h0m1 69h0m1-251h0m0 33h0m2-312h0m2 484h0m1-315h0m0 354h0m1-31h0m2-503h0m1 459h0m0 99h0m1-33h0m1-99h0m0 114h0m1 90h0m1-645h0m0 495h0m2-494h0m0 216h0m0 15h0m0 201h0m2-161h0m1 354h0m1-217h0m0 48h0m0 129h0m0 24h0m1-483h0m2 189h0m0 327h0m2-596h0m4 458h0m2-110h0m0 162h0m1-183h0m2 43h0"/><path stroke="#ff2d00" d="M4 103h0m3 494h0m1-351h0m4-21h0m2 390h0m0 6h0m2-490h0m1 567h0m5-556h0m1-48h0m7 246h0m5 143h0m1 81h0m1-301h0m4 414h0m2-164h0m3-16h0"/><path stroke="#ff6000" d="M5 112h0m0 324h0m3-121h0m0 288h0m0 57h0m10-606h0m0 576h0m1-558h0m1 156h0m0 90h0m0 315h0m2-221h0m1-354h0m1 110h0m5 52h0m1 111h0m2-11h0m3-104h0m1 294h0m1-172h0m5 202h0m1-144h0m0 222h0m5-435h0m1-102h0m1 208h0m0 408h0"/><path stroke="#66ff90" d="M11 330h0m6 30h0m0 224h0m3-554h0m2 16h0m0 279h0m1 348h0m2-424h0m0 72h0m7-31h0m0 345h0m3-569h0m4 443h0m1-12h0m6-360h0m0 195h0m2-140h0m0 138h0m3-122h0"/><path stroke="#00b4ff" d="M8 75h0m0 204h0m11 225h0m4 175h0m2-331h0m1 7h0m0 24h0m0 240h0m15-517h0m5-76h0"/><path stroke="#ff2d00" d="M2 424h0m7-105h0m1-291h0m5 518h0m1 11h0m2-308h0m0 411h0m1-474h0m2 276h0m2 130h0m2-427h0m1-119h0m1 387h0m1-84h0m0 327h0m3-279h0m2 115h0m6-174h0m6 24h0"/><path stroke="#39ffbe" d="M6 213h0m1 123h0m3-320h0m6 346h0m1 288h0m3-203h0m6 151h0m3-150h0m12 113h0m1-285h0m4 131h0m1 174h0m1-383h0m2 166h0"/><path stroke="#90ff66" d="M3 475h0m0 207h0m1-270h0m1 27h0m0 120h0m1-282h0m1 86h0m1-312h0m2 97h0m0 114h0m2 182h0m1-177h0m1-69h0m2 119h0m0 339h0m3-449h0m3 121h0m3 74h0m1-137h0m0 207h0m5-270h0m1 204h0m0 223h0m1-12h0m1-587h0m2 567h0m0 48h0m3-493h0m1 408h0m2-482h0m0 120h0m0 135h0m4-247h0m0 57h0m2 121h0m0 363h0m1-347h0m1-201h0m1 270h0"/><path stroke="#840000" d="M3 316h0m0 60h0m2-51h0m0 18h0m1-225h0m0 105h0m0 45h0m0 234h0m0 71h0m1-225h0m0 219h0m0 66h0m0 54h0m1-600h0m0 552h0m2-398h0m0 99h0m0 158h0m0 22h0m0 135h0m1-580h0m0 100h0m2 134h0m1-126h0m2 332h0m0 21h0m0 117h0m1-627h0m0 426h0m1-332h0m0 12h0m0 288h0m0 33h0m0 93h0m0 126h0m2-645h0m0 255h0m0 354h0m1-207h0m1-209h0m0 45h0m0 30h0m0 399h0m1-216h0m1-376h0m0 84h0m0 48h0m0 456h0m1-657h0m0 418h0m0 212h0m2-647h0m0 441h0m1-279h0m1-123h0m0 159h0m1-111h0m0 318h0m0 66h0m1-255h0m1 96h0m3-187h0m0 297h0m0 81h0m1-457h0m1-15h0m0 42h0m1 48h0m0 90h0m0 204h0m1-267h0m0 246h0m1-261h0m0 264h0m1-387h0m0 42h0m0 18h0m0 199h0m0 315h0m1-585h0m0 273h0m1-228h0m0 537h0m2-451h0m1-105h0m0 27h0m0 255h0m0 315h0m1-591h0m3 14h0m0 528h0m1-330h0m0 279h0m0 12h0m1-513h0m0 243h0m0 162h0m0 30h0"/><path stroke="#0080ff" d="M7 30h0m1 28h0m0 366h0m6 134h0m2-109h0m1-243h0m1 262h0m10-152h0m0 339h0m4-297h0m1-182h0m4-72h0m1 372h0m2-189h0m0 405h0m6-636h0m5 173h0m1 45h0"/><path stroke="#000084" d="M4 361h0m1-201h0m1-27h0m2-16h0m0 369h0m0 165h0m1-260h0m2-10h0m1-81h0m0 381h0m1-318h0m0 45h0m0 267h0m1-645h0m0 183h0m0 213h0m2-292h0m0 9h0m0 78h0m1 427h0m1-255h0m0 93h0m1-294h0m0 216h0m0 18h0m0 228h0m1-222h0m0 27h0m0 237h0m3-456h0m2 289h0m1-354h0m0 456h0m1-24h0m1-84h0m1-231h0m0 54h0m1-12h0m1 36h0m0 285h0m1-215h0m0 81h0m1-258h0m0 369h0m1-215h0m0 162h0m3-16h0m0 66h0m1-468h0m0 75h0m3-222h0m1 7h0m2 608h0m1-453h0m1-126h0m0 123h0m0 240h0m0 171h0m0 105h0m1-417h0m0 48h0m0 184h0m0 83h0m1 91h0m1-594h0m0 6h0m1 451h0m1 84h0m1-459h0m1 237h0"/><path stroke="#ff9400" d="M3 379h0m0 87h0m0 57h0m1-357h0m1 114h0m1 105h0m1 164h0m1-167h0m0 27h0m4-253h0m1-78h0m1 522h0m3-435h0m0 498h0m1-439h0m0 190h0m3 93h0m2-138h0m0 4h0m3-123h0m0 246h0m1-354h0m1 237h0m0 87h0m1 159h0m4-347h0m2 418h0m5-160h0m5 27h0m4 70h0"/><path stroke="#eeff09" d="M5 310h0m0 333h0m1-546h0m0 471h0m0 30h0m1-166h0m0 183h0m1-357h0m0 93h0m3-240h0m0 571h0m1-661h0m0 141h0m0 114h0m0 312h0m1-90h0m5-117h0m1-228h0m0 405h0m1-447h0m0 519h0m1-174h0m0 28h0m0 165h0m2-606h0m2 536h0m1-347h0m0 435h0m1-528h0m1 66h0m0 399h0m3-417h0m2-95h0m2 94h0m3 353h0m4-401h0m4-76h0m1 187h0m1 207h0m1-270h0m0 252h0m2 31h0m1-18h0"/><path stroke="#09f0ee" d="M2 304h0m2 87h0m1 186h0m8 86h0m3-433h0m1-54h0m3 1h0m0 186h0m2-164h0m2-55h0m1-27h0m4 79h0m1-168h0m5 128h0m0 357h0m1 135h0m2-55h0m2-99h0m1-12h0m5-84h0m3 254h0m1-438h0"/><path stroke="#000dff" d="M6 121h0m3-27h0m1 408h0m1-135h0m9-73h0m5 99h0m13-250h0m11 473h0m1-60h0m1-426h0m1 384h0"/><path stroke="#ffcc00" d="M3 136h0m5 308h0m1-177h0m0 46h0m2-295h0m0 180h0m0 3h0m0 201h0m1-207h0m6-156h0m1 588h0m1-270h0m1-117h0m0 120h0m2 40h0m3-231h0m1-9h0m1 81h0m3 351h0m4-346h0m0 141h0m2-1h0m1 186h0m2-390h0m0 486h0m3-422h0m5-75h0m1 18h0m1-80h0m0 63h0m0 18h0"/><path stroke="#c1ff36" d="M5 187h0m2-52h0m2-2h0m0 6h0m1 147h0m4 395h0m5-429h0m0 432h0m1-315h0m2-272h0m1-21h0m0 501h0m1-454h0m0 555h0m2-347h0m0 183h0m3-141h0m0 174h0m6-463h0m4 74h0m1 384h0m1-288h0m5-138h0m0 213h0m0 192h0m2-167h0m0 90h0m2-128h0m1-285h0"/><path stroke="#0000df" d="M3 127h0m6 195h0m2 107h0m2-141h0m1 105h0m27-198h0m1 300h0m1-102h0"/><path stroke="#df0000" d="M2 343h0m2 183h0m3-196h0m2 4h0m2-145h0m1 411h0m1-273h0m3 227h0m3-497h0m3 124h0m0 72h0m1 123h0m7-312h0m0 282h0m0 189h0m8-20h0m1-195h0m0 168h0m1-303h0m1 457h0m5-262h0m2-323h0m3-17h0m2 42h0m0 285h0"/><path stroke="#0045ff" d="M5 406h0m2 74h0m6-348h0m1-117h0m0 69h0m0 306h0m2 38h0m1 193h0m12-314h0m4-284h0m3 189h0m12 184h0"/><path stroke="#ff6000" d="M4 451h0m2-258h0m6 134h0m0 51h0m2-30h0m1 35h0m2-75h0m1 268h0m2-90h0m1 99h0m1-230h0m1 153h0m2-409h0m2 1h0m2 330h0m0 15h0m1 21h0m1 117h0m1-527h0m1 105h0m2-26h0m1-36h0m0 537h0m6-363h0m0 21h0m4-223h0m5 419h0"/><path stroke="#90ff66" d="M5 22h0m0 639h0m3-364h0m0 102h0m0 75h0m1 79h0m1 87h0m1-375h0m0 104h0m1-156h0m0 417h0m4-376h0m1-206h0m3-24h0m2 361h0m1 285h0m1-211h0m0 39h0m2-404h0m2 411h0m1-54h0m4-323h0m2 430h0m3-334h0m2 57h0m0 126h0m1-219h0m0 84h0m0 387h0m1-560h0m1 312h0m2 74h0m0 186h0m1-642h0m0 3h0m6 629h0m1-351h0"/><path stroke="#000084" d="M2 208h0m0 249h0m1 198h0m0 36h0m1-582h0m1-30h0m0 159h0m1 126h0m0 294h0m1-76h0m1-420h0m0 258h0m1 103h0m1 48h0m1-511h0m0 375h0m1-141h0m1 3h0m0 396h0m1-81h0m1-199h0m1-132h0m0 51h0m0 123h0m0 24h0m2-89h0m2-141h0m0 246h0m0 183h0m2-524h0m2-24h0m4 213h0m1 150h0m1-168h0m1-204h0m0 57h0m1 298h0m0 15h0m1-300h0m0 471h0m1-396h0m1 127h0m0 273h0m1-438h0m2 371h0m2-240h0m0 156h0m0 66h0m0 75h0m5-546h0m1-90h0m0 45h0m0 561h0m2-467h0m0 132h0m0 66h0m0 339h0m1-603h0m0 384h0m1-425h0m0 102h0m0 246h0m1-30h0m1 78h0m0 171h0m1-93h0"/><path stroke="#0045ff" d="M5 637h0m11-617h0m4 400h0m2-189h0m1 409h0m1-553h0m0 483h0m6 79h0m2-494h0m1 186h0m13-54h0m0 162h0m0 183h0m1-26h0m2-534h0"/><path stroke="#000dff" d="M3 658h0m4-481h0m9-118h0m2 514h0m8-356h0m9 143h0m3-280h0m2-18h0m2 196h0m3-151h0"/><path stroke="#66ff90" d="M7 138h0m1 267h0m5 117h0m1 18h0m3-12h0m1-346h0m2-167h0m3 661h0m1-622h0m0 612h0m3-284h0m4-210h0m2 16h0m3-116h0m2 227h0m0 48h0m8 348h0m2-584h0m0 363h0m3-392h0m0 393h0"/><path stroke="#0080ff" d="M5 397h0m1 228h0m2-283h0m3 145h0m0 128h0m1-330h0m6 357h0m6-261h0m8 64h0m7-119h0m3 247h0m3-361h0m1 360h0m0 108h0m2-383h0m3 265h0"/><path stroke="#ffcc00" d="M3 22h0m0 375h0m2-261h0m0 342h0m1-213h0m5-1h0m0 57h0m2-186h0m0 42h0m0 294h0m3-403h0m1 148h0m2 39h0m3-185h0m0 588h0m2-403h0m0 111h0m5-206h0m0 468h0m6-559h0m1 141h0m1-25h0m5 460h0m1 27h0m8-587h0"/><path stroke="#840000" d="M3 313h0m0 51h0m1 69h0m1-378h0m1 48h0m0 252h0m1-49h0m0 69h0m1 108h0m1-386h0m0 281h0m0 76h0m0 162h0m2-232h0m1-141h0m0 327h0m0 12h0m0 63h0m1-36h0m1-468h0m0 45h0m0 420h0m1-105h0m1 44h0m0 15h0m1-312h0m0 7h0m0 171h0m1-192h0m2-18h0m0 48h0m0 42h0m0 207h0m1-198h0m0 273h0m2 10h0m1-391h0m0 204h0m0 153h0m1 42h0m1-203h0m0 225h0m1-291h0m0 3h0m2-18h0m0 69h0m0 117h0m1-153h0m0 69h0m1-375h0m0 63h0m0 108h0m0 90h0m0 174h0m2 58h0m2-341h0m0 69h0m1 360h0m1-592h0m2 276h0m1 261h0m1-420h0m1 217h0m0 81h0m0 141h0m3-166h0m1-276h0m0 90h0m0 147h0m0 303h0m2-209h0m0 147h0m1-582h0m0 246h0m0 318h0m2-191h0m1-219h0m0 243h0m0 228h0"/><path stroke="#0000df" d="M4 421h0m5 87h0m6 43h0m1 135h0m1-294h0m2 103h0m5-63h0m8 206h0m6-345h0m0 102h0"/><path stroke="#09f0ee" d="M3 94h0m5 482h0m5 6h0m3-118h0m6 74h0m6-180h0m1 114h0m3-350h0m2 220h0m1-99h0m2-88h0m1 387h0m2-450h0m0 492h0m2-140h0m8-269h0m0 393h0"/><path stroke="#df0000" d="M6 37h0m0 615h0m6-433h0m0 123h0m0 171h0m9-452h0m0 632h0m6-335h0m3 15h0m0 21h0m1 27h0m4-277h0m2 44h0m1-114h0m8 141h0m0 444h0m4-631h0m3 435h0"/><path stroke="#00b4ff" d="M4 49h0m10 548h0m4-270h0m2-252h0m3 547h0m1-448h0m0 414h0m2-476h0m2 570h0m1-120h0m3 0h0m3-433h0m5 311h0m2-323h0"/><path stroke="#39ffbe" d="M3 214h0m1 381h0m12-236h0m2 133h0m2-450h0m9 460h0m3-353h0m6 471h0m2-555h0m2 433h0m6-465h0m0 117h0m3 16h0"/><path stroke="#ff9400" d="M8 66h0m2 118h0m0 429h0m3-28h0m4-384h0m0 36h0m1 54h0m0 203h0m2-347h0m2-125h0m1 498h0m6-93h0m4-395h0m0 402h0m2-353h0m3 206h0m0 15h0m11 265h0m1-86h0m0 174h0"/><path stroke="#c1ff36" d="M2 181h0m2-102h0m2 9h0m5 272h0m0 105h0m2-141h0m1 165h0m0 102h0m1-559h0m2 576h0m2-110h0m1-9h0m2-125h0m0 30h0m0 99h0m0 120h0m1-531h0m1-10h0m0 312h0m2 91h0m1-63h0m0 219h0m1-609h0m1 48h0m1 114h0m0 294h0m3-23h0m2 100h0m3-202h0m0 252h0m1-306h0m1 105h0m1 267h0m2-374h0m2-49h0m0 288h0m1-111h0m2-323h0m1-90h0m0 228h0m1 394h0m2-132h0m1 60h0"/><path stroke="#eeff09" d="M7 57h0m1-42h0m0 273h0m4-57h0m0 348h0m1-132h0m2-237h0m0 185h0m1-351h0m0 33h0m1-3h0m2-41h0m2 175h0m0 260h0m1-206h0m0 390h0m2-490h0m5 490h0m1-435h0m1 258h0m2-119h0m1-197h0m1 330h0m1-426h0m1 206h0m1 288h0m1-165h0m2-209h0m1 177h0m4-34h0m0 108h0m1 141h0m1-23h0m0 51h0m1-537h0m1 259h0m0 249h0m2-426h0m0 138h0"/><path stroke="#ff2d00" d="M5 256h0m0 240h0m3-313h0m1 129h0m0 169h0m4 143h0m4-535h0m6-34h0m1 146h0m0 393h0m5-431h0m0 126h0m2 300h0m1-129h0m5 202h0m0 30h0m3-474h0m2 244h0m1-294h0m5 93h0m2 361h0m2-357h0"/><path stroke="#840000" d="M3 55h0m0 174h0m1 42h0m1 348h0m1-552h0m0 74h0m1 459h0m2-185h0m1-306h0m1 452h0m1-492h0m0 186h0m0 300h0m1-336h0m0 15h0m0 171h0m1-324h0m0 258h0m2-88h0m0 411h0m2-368h0m0 324h0m2-309h0m1 172h0m0 47h0m0 117h0m1-122h0m0 123h0m1-519h0m0 42h0m1 62h0m0 270h0m1 3h0m0 54h0m1-521h0m1 309h0m0 255h0m1-183h0m1-219h0m0 282h0m0 36h0m1-402h0m0 81h0m0 402h0m0 3h0m1-528h0m0 12h0m2 331h0m0 21h0m1-323h0m1 48h0m0 132h0m0 258h0m1-540h0m1 29h0m0 357h0m3-207h0m0 51h0m0 183h0m0 120h0m1-263h0m0 255h0m1-384h0m0 36h0m1-39h0m2 350h0m0 144h0m1-33h0m0 9h0m1-488h0m1 36h0m0 12h0m1-24h0m0 378h0m1-458h0m0 246h0m1-195h0m0 165h0m0 6h0m0 195h0m1-474h0m1 36h0m0 351h0"/><path stroke="#eeff09" d="M3 277h0m0 18h0m1 240h0m1-324h0m1-21h0m1 458h0m3-374h0m1 209h0m1 180h0m2-303h0m3 110h0m1-227h0m2 300h0m3-230h0m1 14h0m2-272h0m0 123h0m1 348h0m2 81h0m2-309h0m1 31h0m0 50h0m0 31h0m0 120h0m2-165h0m0 178h0m5-454h0m2-38h0m0 495h0m1-405h0m4 347h0m3 95h0m1-519h0m0 96h0m0 306h0m2-369h0"/><path stroke="#0000df" d="M7 19h0m1 197h0m1 190h0m1-279h0m3 302h0m0 12h0m5-213h0m1-69h0m1 522h0m2-332h0m10-191h0m10 517h0m9-422h0"/><path stroke="#df0000" d="M3 118h0m3 96h0m1 257h0m1 6h0m4-216h0m1 108h0m1-126h0m2-151h0m0 435h0m1-422h0m2 18h0m2 238h0m5-48h0m3 375h0m4-149h0m9 97h0m5 27h0"/><path stroke="#0045ff" d="M4 262h0m4-220h0m3 301h0m9-289h0m1 603h0m1-140h0m0 114h0m3 63h0m2-579h0m1-21h0m3 462h0m5 19h0m17-343h0"/><path stroke="#00b4ff" d="M4 211h0m9-118h0m10 183h0m0 334h0m2-316h0m1 370h0m1-588h0m1 414h0m1 144h0m1-141h0m2-342h0m6 400h0m4-308h0m1 114h0m5-216h0m0 240h0m4 79h0m1-192h0"/><path stroke="#0080ff" d="M6 70h0m4 342h0m1-387h0m4 485h0m1-130h0m0 312h0m8-479h0m5-83h0m2 297h0m3-37h0m12-226h0m2 289h0m3-104h0m0 312h0"/><path stroke="#c1ff36" d="M4 562h0m1-354h0m0 363h0m5-498h0m2 50h0m3 159h0m3-189h0m0 57h0m0 191h0m0 199h0m0 93h0m2-555h0m0 234h0m0 30h0m0 183h0m2-401h0m3 531h0m1-354h0m1 183h0m1-294h0m6 268h0m1 130h0m2-556h0m0 291h0m1-282h0m1 18h0m0 309h0m0 96h0m1-93h0m2 160h0m1-441h0m3 50h0m0 327h0m2 124h0m2-380h0m2-180h0m1 363h0"/><path stroke="#000dff" d="M4 322h0m8 356h0m1-426h0m1 336h0m6-87h0m0 96h0m4-237h0m14-289h0m2 384h0"/><path stroke="#39ffbe" d="M6 360h0m3 61h0m9 194h0m6-342h0m0 78h0m2 295h0m1-252h0m2-129h0m5 149h0m3-130h0m2 294h0m1-558h0m0 375h0m0 255h0m2-539h0m0 399h0m6-405h0m0 593h0m2-346h0"/><path stroke="#ff9400" d="M7 369h0m1 135h0m1-420h0m0 319h0m1-351h0m10 119h0m1 300h0m1-80h0m1 228h0m5-432h0m1 27h0m1-168h0m2 322h0m0 30h0m2 139h0m1-165h0m2-286h0m0 225h0m0 276h0m3-555h0m2 472h0m5-88h0m2-239h0m2 259h0"/><path stroke="#000084" d="M3 547h0m2-120h0m0 33h0m1 48h0m1-340h0m0 54h0m0 51h0m0 165h0m1-54h0m0 150h0m3-96h0m1-264h0m0 78h0m0 372h0m2 63h0m1-175h0m1-225h0m0 33h0m1-302h0m0 569h0m1-434h0m0 195h0m2-15h0m0 234h0m0 45h0m3-245h0m0 102h0m0 99h0m1-448h0m0 132h0m0 219h0m4-338h0m1 546h0m2-570h0m0 195h0m0 45h0m0 222h0m1-527h0m1 18h0m2 319h0m2 74h0m0 6h0m1-207h0m0 231h0m0 117h0m2-378h0m0 399h0m2-245h0m0 45h0m0 96h0m0 36h0m4-430h0m0 354h0m0 129h0m5-538h0m0 558h0m1-297h0"/><path stroke="#ff6000" d="M3 598h0m1-315h0m1 54h0m4 357h0m1-156h0m1-168h0m0 290h0m1-207h0m4-235h0m0 423h0m1-447h0m0 115h0m1 90h0m2 216h0m1-381h0m1-185h0m9 225h0m1 286h0m1-480h0m0 117h0m2 157h0m0 81h0m1-246h0m1 92h0m5 166h0m3 170h0m1 39h0m5-46h0m1-306h0"/><path stroke="#66ff90" d="M2 106h0m1-78h0m0 273h0m5-205h0m1 277h0m1-294h0m2 47h0m8 534h0m1-380h0m1 30h0m8 300h0m2 31h0m1-555h0m0 537h0m0 21h0m2-599h0m7 387h0m1-375h0m3 284h0m1 184h0m1 6h0m2-80h0"/><path stroke="#09f0ee" d="M6 475h0m2 32h0m1-243h0m3 9h0m2 150h0m1 213h0m4-372h0m1 84h0m2-227h0m5 6h0m1 459h0m15-202h0m3-94h0m1 120h0m0 12h0m0 127h0"/><path stroke="#ff2d00" d="M2 589h0m4-339h0m1 378h0m4-562h0m0 273h0m2 87h0m9-386h0m0 69h0m0 306h0m0 138h0m2 29h0m1-117h0m1-104h0m0 198h0m1-300h0m0 411h0m2-411h0m3-53h0m6 348h0m4-398h0m0 69h0m1 366h0m5-132h0m0 6h0"/><path stroke="#90ff66" d="M5 124h0m0 420h0m0 78h0m2-433h0m1-141h0m2 631h0m1-639h0m2-4h0m1 33h0m2 26h0m2 184h0m0 300h0m1-129h0m1 15h0m4 138h0m0 39h0m1-399h0m1 31h0m0 384h0m6-209h0m1-435h0m0 519h0m2-311h0m0 78h0m0 36h0m2 23h0m3-246h0m0 264h0m1-171h0m5-114h0m0 114h0m1 70h0m2 216h0m2-473h0m0 129h0m0 315h0m0 39h0m2 180h0"/><path stroke="#ffcc00" d="M2 529h0m1 96h0m0 63h0m2-24h0m0 15h0m1-39h0m0 33h0m1-562h0m0 64h0m0 191h0m0 240h0m1-177h0m5 246h0m4 14h0m1-656h0m5 655h0m2-195h0m3-465h0m1 366h0m2-276h0m1 409h0m0 48h0m1-336h0m7 45h0m0 9h0m3-41h0m3-133h0m0 231h0m1 43h0m1 105h0m4-464h0m0 60h0"/><path stroke="#0045ff" d="M9 550h0m1-327h0m0 213h0m2-220h0m2 99h0m0 336h0m3-463h0m9 101h0m8 296h0m9-183h0m2 248h0m3-86h0m2 22h0"/><path stroke="#c1ff36" d="M4 265h0m1 63h0m3 302h0m1-410h0m3 20h0m0 402h0m1-270h0m1-243h0m3 306h0m2 126h0m0 105h0m2-465h0m1 286h0m2 32h0m1-212h0m0 8h0m1 271h0m1-399h0m3-150h0m2 66h0m0 327h0m1-53h0m1 145h0m3-388h0m3-57h0m0 33h0m0 90h0m0 51h0m2 58h0m3 203h0m1-108h0m2-146h0m1 327h0"/><path stroke="#0000df" d="M4 124h0m3 272h0m3-332h0m4 614h0m6-498h0m5 240h0m5 145h0m5-190h0m1-184h0m1 321h0m1-198h0m10 232h0m2-158h0m3 105h0"/><path stroke="#ff6000" d="M3 436h0m1-33h0m1 246h0m1 18h0m5-16h0m1-621h0m0 477h0m4-370h0m0 273h0m2-39h0m1 178h0m4-50h0m3-111h0m3-114h0m0 348h0m0 27h0m3-338h0m2 115h0m1-141h0m11-4h0m3 1h0"/><path stroke="#09f0ee" d="M2 604h0m1-534h0m3 165h0m7-199h0m4 519h0m1 42h0m2-195h0m1 270h0m4-557h0m2 99h0m5-171h0m0 621h0m2-241h0m1 138h0m0 6h0m2-301h0m1 90h0m1-114h0m1-105h0m5 33h0"/><path stroke="#000dff" d="M4 163h0m6-78h0m14 467h0m4 133h0m6-595h0m1 408h0m8-168h0"/><path stroke="#840000" d="M3 16h0m0 66h0m0 597h0m1-351h0m1 126h0m1-96h0m1-232h0m0 84h0m1 213h0m1 208h0m1-387h0m1 308h0m1-399h0m0 18h0m0 276h0m1-393h0m0 357h0m0 192h0m1-513h0m0 297h0m0 183h0m1-345h0m0 17h0m1 57h0m0 264h0m0 66h0m1-351h0m0 51h0m0 102h0m0 13h0m1-369h0m0 183h0m0 381h0m1-570h0m1 18h0m0 30h0m4-48h0m0 417h0m2-329h0m0 258h0m0 135h0m2-525h0m0 51h0m0 276h0m0 33h0m1 51h0m0 48h0m0 153h0m1-528h0m1-84h0m0 120h0m0 297h0m0 60h0m0 165h0m2-380h0m0 309h0m0 87h0m0 6h0m1-99h0m1-128h0m0 111h0m0 51h0m0 69h0m1-660h0m0 396h0m1-283h0m0 126h0m0 78h0m0 33h0m0 36h0m0 171h0m1-222h0m0 102h0m0 99h0m1-489h0m0 471h0m1-261h0m1-123h0m0 13h0m0 425h0m0 90h0m1-119h0m1-531h0m0 321h0m2 17h0m1-309h0m0 9h0m0 78h0m0 444h0m2-560h0m0 621h0m1-362h0m0 11h0m0 6h0m0 24h0m0 30h0m1-239h0m0 165h0m1 27h0m0 6h0m0 150h0m1-411h0"/><path stroke="#ff2d00" d="M3 352h0m0 258h0m2-339h0m2 68h0m3-71h0m0 261h0m4-130h0m0 75h0m4-306h0m1 309h0m3-275h0m0 483h0m2-463h0m0 84h0m3-158h0m1-36h0m1 132h0m0 447h0m1-222h0m1-456h0m0 75h0m2 124h0m4 222h0m3-360h0m2 331h0m4-178h0m5-160h0m0 108h0"/><path stroke="#90ff66" d="M4 634h0m3-589h0m0 210h0m1 153h0m1 199h0m1-369h0m4 275h0m2-277h0m1-213h0m0 579h0m4-383h0m1 355h0m2-232h0m0 132h0m1-45h0m1-245h0m2-120h0m0 519h0m1-516h0m3 315h0m1 220h0m3-137h0m1-286h0m1 129h0m0 363h0m2-144h0m2 76h0m1-468h0m4-75h0m1 15h0m0 441h0m0 123h0m2-494h0m0 249h0m1 207h0"/><path stroke="#39ffbe" d="M11 414h0m1-147h0m4 218h0m0 195h0m1-461h0m1 372h0m9-173h0m1-210h0m0 306h0m3 183h0m1-411h0m0 262h0m5-354h0m3-144h0m1 271h0m0 237h0m8-141h0m4 160h0"/><path stroke="#0080ff" d="M3 199h0m2 294h0m4-385h0m1 172h0m22 273h0m3-274h0m0 324h0m3-511h0m5 376h0m5 69h0"/><path stroke="#ffcc00" d="M3 238h0m2 141h0m0 228h0m1-456h0m1 170h0m2 307h0m1-111h0m1-349h0m1-126h0m0 195h0m2 69h0m1-61h0m1 372h0m4-251h0m1 88h0m0 9h0m1 138h0m1-99h0m3-234h0m3-3h0m1-42h0m1 393h0m4-295h0m4 62h0m0 216h0m1-279h0m3 328h0m5-624h0m1 249h0"/><path stroke="#df0000" d="M6 655h0m6-307h0m4 152h0m4-443h0m2 472h0m7 132h0m3-275h0m3-284h0m0 48h0m3-67h0m2 21h0m0 57h0m0 84h0m10-154h0"/><path stroke="#ff9400" d="M4 148h0m0 456h0m2-435h0m0 350h0m2-24h0m1-203h0m1 69h0m1-133h0m6-66h0m1-147h0m0 159h0m2-9h0m0 159h0m0 192h0m0 138h0m2-497h0m0 30h0m0 105h0m0 147h0m1-405h0m5 93h0m1-93h0m0 423h0m2-195h0m0 105h0m2-8h0m0 87h0m5-105h0m3 175h0m7-75h0m0 6h0m2-170h0m1-138h0m0 207h0m0 66h0m0 18h0m1 153h0"/><path stroke="#66ff90" d="M3 487h0m8-301h0m0 117h0m2-189h0m0 570h0m5-252h0m7 249h0m1-500h0m3 363h0m2-225h0m1 358h0m6-213h0m1 162h0m4 1h0m2-268h0m0 81h0m1-273h0m0 198h0m5 182h0"/><path stroke="#eeff09" d="M3 247h0m0 213h0m1-387h0m0 369h0m1-303h0m0 174h0m0 174h0m1-45h0m3-252h0m4-94h0m3 290h0m2-98h0m2 105h0m0 111h0m1-108h0m0 195h0m0 100h0m1-357h0m0 108h0m2-376h0m2 286h0m1-216h0m1-93h0m0 321h0m1-306h0m2 351h0m0 6h0m0 165h0m1-335h0m1 105h0m2-335h0m1 180h0m0 122h0m4-174h0m1 283h0m1-330h0"/><path stroke="#00b4ff" d="M8 207h0m0 483h0m2-659h0m1 335h0m0 123h0m13 27h0m9 134h0m13-495h0m0 444h0m3-191h0m2 199h0"/><path stroke="#000084" d="M5 52h0m1 267h0m1-145h0m1 396h0m0 111h0m1-288h0m1 166h0m1-31h0m1-489h0m5 297h0m1-123h0m0 54h0m0 9h0m0 59h0m2-47h0m0 84h0m0 234h0m1 60h0m1-602h0m0 203h0m0 292h0m1-177h0m0 209h0m3-110h0m1 108h0m0 27h0m1-315h0m0 120h0m0 246h0m1-510h0m0 81h0m1 306h0m1 90h0m1-383h0m0 144h0m0 192h0m1-285h0m0 3h0m0 147h0m0 12h0m4-231h0m0 210h0m0 36h0m1-279h0m0 240h0m1 195h0m1-333h0m0 363h0m1-540h0m0 97h0m0 5h0m0 375h0m1-365h0m1 375h0m3-394h0m0 159h0m2-347h0m0 57h0m1 408h0m1-458h0m0 369h0m0 114h0m1-414h0m1 303h0"/><path stroke="#ffcc00" d="M53 127h0m5 253h0m14 235h0m5-522h0m6 31h0m28 308h0m0 105h0m6-325h0m0 174h0m6 48h0m7-209h0m15 211h0m0 159h0m15-139h0m1 114h0m5-3h0m18-132h0m1-2h0m1-75h0m0 24h0m1 195h0m0 78h0m2-301h0m3-219h0"/><path stroke="#ff9400" d="M54 250h0m0 261h0m0 27h0m7-98h0m3-381h0m1 258h0m0 351h0m3-59h0m4-27h0m7-42h0m1-396h0m3 82h0m3 456h0m25-484h0m12 44h0m1-126h0m0 207h0m17-140h0m0 336h0m3-266h0m2-36h0m19 413h0m15-266h0m1-65h0m1 126h0m2-317h0m0 165h0m3-62h0"/><path stroke="#00b4ff" d="M56 40h0m0 213h0m1-20h0m6-36h0m11 398h0m5-520h0m8-11h0m19 534h0m5-265h0m6 203h0m6-261h0m18 223h0m19-153h0m0 51h0m0 144h0m25-426h0m1 151h0m2 260h0"/><path stroke="#0045ff" d="M54 97h0m0 12h0m3 502h0m11-191h0m7 46h0m31-297h0m0 84h0m5 155h0m5-106h0m1-114h0m29 212h0m20 53h0m0 183h0m14-71h0m5 38h0m1-254h0m1 156h0m1 170h0m3-183h0"/><path stroke="#66ff90" d="M54 223h0m4-113h0m1 63h0m10 334h0m7-230h0m2 56h0m4 175h0m1 60h0m3 90h0m12-181h0m0 84h0m13-186h0m0 63h0m12-421h0m0 669h0m6-512h0m11 81h0m5 94h0m15-82h0m6 252h0m18-99h0m1-395h0m6 143h0"/><path stroke="#840000" d="M54 244h0m1-105h0m0 165h0m1 186h0m1-470h0m0 258h0m0 123h0m5-138h0m0 48h0m0 123h0m2 33h0m2 207h0m2-440h0m1-150h0m0 117h0m0 492h0m3-360h0m1-258h0m1 166h0m1 243h0m2-460h0m1 477h0m1-438h0m0 633h0m4-668h0m3 621h0m1-636h0m11 353h0m1-336h0m0 165h0m0 78h0m6 412h0m1-309h0m5-361h0m0 138h0m0 60h0m1-150h0m5 95h0m0 477h0m6-279h0m1 318h0m5-299h0m12-96h0m0 249h0m0 102h0m0 30h0m4-155h0m1-444h0m0 195h0m0 183h0m0 45h0m0 177h0m0 12h0m3-521h0m0 246h0m10-128h0m0 162h0m7-9h0m4-374h0m10 84h0m0 108h0m3-227h0m0 642h0m1-32h0m1-474h0m0 73h0m0 182h0m1-209h0m0 45h0m0 284h0m1-419h0m0 273h0m1 17h0m1-300h0m0 33h0m0 99h0m0 363h0m1-138h0m1-417h0m0 252h0m0 237h0m0 6h0"/><path stroke="#09f0ee" d="M53 589h0m1-288h0m11 376h0m1-432h0m8 272h0m14-219h0m28 133h0m13 25h0m30 18h0m25-192h0m1 309h0m2-563h0m2 455h0m1-402h0m0 516h0m2-426h0"/><path stroke="#ff2d00" d="M53 52h0m5 493h0m0 111h0m4-168h0m6-389h0m3 567h0m1-102h0m7-450h0m4 184h0m22 291h0m18-395h0m19-8h0m3 478h0m1-363h0m33 267h0m4-29h0m2 61h0m5 18h0m2-585h0"/><path stroke="#ff6000" d="M65 347h0m0 231h0m7-74h0m32-146h0m7-337h0m6 455h0m17 203h0m7-607h0m4 196h0m0 342h0m1-63h0m13-256h0m1-6h0m0 129h0m20 55h0m0 186h0m1-593h0m1 294h0m3 202h0m3-525h0m0 337h0m1-157h0m0 39h0m2-123h0m1 366h0"/><path stroke="#0080ff" d="M53 262h0m1-159h0m1 153h0m6-224h0m1 435h0m4 192h0m80-430h0m3 427h0m11-23h0m4-141h0m19-36h0m2-135h0m1-299h0m3 494h0m2-396h0"/><path stroke="#000084" d="M53 529h0m1-12h0m1-60h0m0 18h0m0 165h0m1-330h0m1-131h0m0 276h0m0 84h0m0 120h0m1-633h0m0 60h0m4 384h0m7-383h0m3 594h0m3-368h0m0 120h0m0 111h0m0 78h0m3-295h0m0 87h0m0 168h0m1-108h0m1-252h0m2-206h0m0 435h0m0 168h0m1 78h0m4-273h0m11-67h0m1-144h0m6 184h0m1-24h0m0 138h0m5-277h0m0 138h0m0 243h0m6-364h0m1 201h0m5-57h0m0 123h0m5-362h0m1 159h0m0 33h0m12-294h0m0 111h0m5 211h0m7-21h0m6 239h0m1 87h0m4-339h0m1-75h0m0 111h0m0 126h0m1 39h0m14-431h0m0 51h0m0 276h0m0 228h0m1-561h0m0 12h0m0 363h0m0 63h0m1-128h0m0 150h0m2-122h0m0 54h0m0 168h0m1-540h0m0 30h0m0 30h0m0 352h0m3-157h0m1-321h0m0 243h0m0 294h0m1-534h0m1 264h0m1-15h0"/><path stroke="#c1ff36" d="M53 457h0m1 237h0m1-288h0m3-167h0m3 432h0m3-375h0m1-135h0m0 324h0m4-44h0m0 207h0m4-198h0m0 240h0m14-419h0m11 278h0m13-357h0m1 486h0m12 11h0m5-386h0m12-210h0m0 474h0m0 30h0m4-395h0m1 402h0m0 90h0m34-474h0m1-156h0m2 88h0m4 332h0m1 26h0m0 78h0m3-378h0"/><path stroke="#90ff66" d="M54 358h0m1 171h0m1 54h0m1-360h0m4 31h0m0 393h0m4-168h0m4-47h0m3-336h0m1 582h0m4-396h0m28 118h0m1-354h0m5 521h0m5-487h0m7 42h0m0 18h0m1 438h0m17 49h0m1-264h0m4 280h0m8-33h0m5-559h0m1 246h0m5-237h0m0 120h0m5 352h0m10-213h0m0 261h0m0 66h0m1-525h0m0 111h0m4-184h0m0 168h0m0 378h0m5 75h0m1-612h0m0 570h0"/><path stroke="#000dff" d="M54 535h0m32-468h0m19 447h0m7 47h0m29-534h0m5 196h0m4 301h0m16-455h0m15-53h0m1 97h0m0 114h0m1 321h0m3-88h0"/><path stroke="#df0000" d="M57 59h0m8 171h0m0 72h0m6-68h0m3-203h0m13 3h0m1 600h0m22-199h0m1 84h0m7 179h0m5-243h0m18-41h0m0 150h0m47-420h0"/><path stroke="#eeff09" d="M53 481h0m2 150h0m1-423h0m1 253h0m1 9h0m0 156h0m0 36h0m2-282h0m1-51h0m1-129h0m0 168h0m11-251h0m0 453h0m2-446h0m3 212h0m8-245h0m0 57h0m25 407h0m5-64h0m1 162h0m1-504h0m0 21h0m5 339h0m6-8h0m5 22h0m6-316h0m1-108h0m0 81h0m4 337h0m1-108h0m0 114h0m8-468h0m5 491h0m1-489h0m0 390h0m4-99h0m1-306h0m17 236h0m1 120h0m0 207h0m2-35h0m4-114h0m0 51h0m2-261h0"/><path stroke="#0000df" d="M57 668h0m1-603h0m14 598h0m3-104h0m11-459h0m12-82h0m43 678h0m39-440h0m3-146h0m6 190h0m2-174h0"/><path stroke="#39ffbe" d="M53 373h0m5 223h0m7-198h0m8 25h0m5 156h0m8-551h0m12 401h0m14-381h0m5 125h0m7 279h0m25 87h0m5-124h0m5 62h0m26-294h0m1 43h0m1-108h0m3 194h0m0 171h0m1 24h0"/><path stroke="#66ff90" d="M56 184h0m0 337h0m2-216h0m11 385h0m17-314h0m1-111h0m11-244h0m1 381h0m6-311h0m0 228h0m0 63h0m5 158h0m8-463h0m5-30h0m0 6h0m0 132h0m1 222h0m21 119h0m0 105h0m15 17h0m26-125h0m4-412h0m1 252h0"/><path stroke="#39ffbe" d="M59 464h0m3-312h0m3 183h0m6-11h0m3-71h0m4 323h0m22 21h0m5-320h0m18-77h0m31 239h0m16-339h0m10 84h0m2-164h0m8 535h0"/><path stroke="#ff2d00" d="M53 295h0m1 321h0m1-294h0m0 63h0m10-344h0m1 531h0m2-149h0m2-396h0m7 588h0m21-270h0m8-278h0m34 272h0m9-193h0m5 536h0m11-406h0m0 9h0m0 327h0m26-276h0m0 75h0"/><path stroke="#000dff" d="M56 598h0m9 13h0m1-522h0m6 295h0m6 207h0m27-143h0m6-82h0m70 298h0m6-357h0"/><path stroke="#0045ff" d="M58 350h0m0 204h0m3-72h0m1 57h0m6-470h0m0 267h0m0 351h0m19-188h0m17 60h0m8-181h0m29-240h0m0 60h0m8 152h0m11 265h0m5-12h0m20-288h0m4 123h0m2 27h0"/><path stroke="#ffcc00" d="M55 34h0m3 646h0m3-540h0m1-78h0m3 279h0m4-77h0m5-20h0m4 11h0m27 370h0m6 11h0m34-578h0m0 45h0m20-28h0m1 264h0m4 49h0m1-327h0m9-27h0m8 440h0m1-396h0m1 105h0m2 117h0"/><path stroke="#df0000" d="M54 688h0m20-228h0m1-63h0m3-379h0m9 634h0m11-523h0m13-48h0m0 210h0m23 175h0m25-280h0m6-66h0m0 153h0m0 351h0m5-530h0m0 288h0m12 79h0m0 162h0m2-386h0m0 48h0m0 231h0m4 27h0m3-321h0"/><path stroke="#90ff66" d="M53 316h0m2 9h0m0 288h0m1-186h0m1-380h0m8 246h0m1 36h0m0 261h0m1-189h0m2 277h0m2-72h0m4-224h0m3-313h0m1 78h0m32-42h0m18 177h0m6 271h0m6-412h0m0 162h0m0 21h0m5-188h0m14 92h0m5 273h0m5-8h0m10 57h0m0 39h0m0 60h0m2-605h0m1 501h0m2 68h0m1-333h0m4 407h0m1-342h0"/><path stroke="#0080ff" d="M82 238h0m4 207h0m19 90h0m12-440h0m24 181h0m5 109h0m38-190h0"/><path stroke="#00b4ff" d="M69 327h0m18-188h0m11 404h0m14-120h0m33-203h0m0 6h0m14-112h0m6 276h0m4 118h0m11-12h0m1 3h0m9 41h0m1-36h0"/><path stroke="#ff9400" d="M56 212h0m1 336h0m4-201h0m4 3h0m0 90h0m4 202h0m3-501h0m3 202h0m23-277h0m1 111h0m7 232h0m12 271h0m6-204h0m22-349h0m24 210h0m11-87h0m0 102h0m5-90h0m0 17h0m4 363h0m1-270h0"/><path stroke="#eeff09" d="M55 133h0m6-59h0m2-51h0m11 644h0m2-63h0m2-358h0m0 99h0m28-35h0m0 210h0m5-289h0m0 240h0m12-298h0m1-114h0m0 537h0m5-302h0m1 387h0m10-513h0m2 159h0m18-222h0m0 564h0m5-387h0m5 274h0m16-69h0m5 137h0"/><path stroke="#000084" d="M53 193h0m0 198h0m0 234h0m1-525h0m1 180h0m0 60h0m0 36h0m1-183h0m0 238h0m1-177h0m0 237h0m0 6h0m5-420h0m0 399h0m1-261h0m2-195h0m0 81h0m0 423h0m3-407h0m3 57h0m1-42h0m0 72h0m1 279h0m1-413h0m1-51h0m0 327h0m4 83h0m4-8h0m3 36h0m0 210h0m1-162h0m11 128h0m1-591h0m6 52h0m0 84h0m0 279h0m6 89h0m0 6h0m6-184h0m1-243h0m0 96h0m0 12h0m5 378h0m1-585h0m4-8h0m1 90h0m0 507h0m12-465h0m0 60h0m0 180h0m5 76h0m3-398h0m1 615h0m9-527h0m0 204h0m1 162h0m0 63h0m5-192h0m5-140h0m10 219h0m1-267h0m0 321h0m1-293h0m1-15h0m0 246h0m0 138h0m1-308h0m0 234h0m2-440h0m0 27h0m0 236h0m0 48h0m0 286h0m1-498h0m0 174h0m0 326h0m1-462h0m2-132h0m0 54h0m0 267h0m1-360h0m0 402h0m1 216h0"/><path stroke="#09f0ee" d="M53 16h0m0 99h0m1 405h0m2-348h0m1 253h0m0 168h0m5-357h0m6 181h0m7-77h0m3 263h0m33-249h0m12-208h0m0 348h0m42-308h0m1 285h0m18-309h0m1-105h0m0 315h0m4 210h0m1-135h0m1 48h0"/><path stroke="#c1ff36" d="M55 550h0m0 66h0m1-570h0m9 568h0m7-20h0m4-446h0m2 59h0m0 360h0m4-131h0m4 117h0m13-103h0m12 78h0m6-7h0m1 129h0m5-561h0m7 484h0m23-368h0m5 263h0m1-213h0m1 375h0m20-320h0m3 82h0m7-23h0m1 282h0"/><path stroke="#840000" d="M53 157h0m1 171h0m0 192h0m1-330h0m0 198h0m0 249h0m2-584h0m0 276h0m0 309h0m4-117h0m0 36h0m0 51h0m1-396h0m0 54h0m0 246h0m0 42h0m3 87h0m4-437h0m0 381h0m3-348h0m0 36h0m0 411h0m3-656h0m0 492h0m3-421h0m0 117h0m1 204h0m3-389h0m0 345h0m3 294h0m1-465h0m0 126h0m0 240h0m1-33h0m1-177h0m10-313h0m0 249h0m0 108h0m0 15h0m0 102h0m0 15h0m1-309h0m0 426h0m7-350h0m0 333h0m5-421h0m0 90h0m0 111h0m0 66h0m0 87h0m1-480h0m0 300h0m0 240h0m6-19h0m5-462h0m0 144h0m0 372h0m5-275h0m0 294h0m1-630h0m5 415h0m7-97h0m0 6h0m0 72h0m0 3h0m1-306h0m0 435h0m0 99h0m3-557h0m0 222h0m0 15h0m1-342h0m3 445h0m10 112h0m1-552h0m0 474h0m4-252h0m1-198h0m0 33h0m0 381h0m1-204h0m13 226h0m1-162h0m0 102h0m0 63h0m0 66h0m1-360h0m1 220h0m0 219h0m1-309h0m2-200h0m0 252h0m0 165h0m0 114h0m1-621h0m0 241h0m0 129h0m2-148h0m1-180h0m0 135h0m0 291h0m1-480h0m1 21h0m0 27h0m0 357h0m0 186h0m0 51h0m1-342h0"/><path stroke="#ff6000" d="M65 77h0m0 471h0m7-446h0m1 207h0m2 25h0m4-256h0m7 340h0m12 110h0m8 154h0m5-325h0m6 305h0m5-75h0m1-39h0m42 67h0m1-36h0m21-455h0m1 197h0m1 21h0m1-75h0m1 15h0m0 276h0"/><path stroke="#0000df" d="M56 71h0m5 372h0m4 240h0m1-225h0m12 229h0m8-665h0m0 129h0m1-75h0m41 2h0m13 57h0m25 99h0m19 174h0m1-278h0m3 431h0m2-324h0"/><path stroke="#000084" d="M54 244h0m1-180h0m0 270h0m0 147h0m0 3h0m1-372h0m6-59h0m2 573h0m4-488h0m0 159h0m1 42h0m1-237h0m1 96h0m2 304h0m1-402h0m1 396h0m1-225h0m29 282h0m1-357h0m0 426h0m5 44h0m6-304h0m6-33h0m0 132h0m6-209h0m12 258h0m4-338h0m1 9h0m0 516h0m8-558h0m0 483h0m5-400h0m0 99h0m6-30h0m5-20h0m9 144h0m0 237h0m1-381h0m1 204h0m0 207h0m1-296h0m1 213h0m1-422h0m0 252h0m1-42h0m1-194h0m0 15h0m2 77h0m0 250h0m1-478h0m0 612h0m2-597h0m0 144h0"/><path stroke="#ffcc00" d="M54 202h0m1-45h0m0 18h0m0 240h0m2 214h0m4-225h0m1-321h0m0 369h0m13 2h0m30-111h0m0 234h0m1-96h0m0 12h0m6-283h0m6 71h0m27 239h0m1-138h0m24 183h0m0 87h0m10-573h0m1 550h0m3-587h0m3 310h0"/><path stroke="#eeff09" d="M53 217h0m3 387h0m2-389h0m10 364h0m4-177h0m1 171h0m2-41h0m0 60h0m12-396h0m0 396h0m11-412h0m1 150h0m6-224h0m18-38h0m0 234h0m0 264h0m1 75h0m5-470h0m0 339h0m12-291h0m4 91h0m4-125h0m10 256h0m0 219h0m6-603h0m0 270h0m4 298h0m1-444h0m13 490h0m1-620h0m0 639h0m1-108h0m5-423h0"/><path stroke="#840000" d="M53 145h0m1-84h0m0 186h0m1-87h0m0 69h0m0 324h0m1-480h0m1 484h0m1-183h0m0 48h0m3 69h0m1 150h0m1-534h0m1-15h0m1 282h0m0 42h0m4 106h0m3-201h0m0 96h0m3-272h0m0 93h0m0 120h0m0 105h0m4-322h0m0 411h0m4-50h0m0 33h0m3-495h0m0 393h0m0 213h0m2-174h0m10-31h0m0 135h0m6-449h0m1 96h0m0 114h0m0 18h0m6 224h0m0 6h0m0 18h0m1-579h0m0 339h0m0 135h0m5-388h0m0 531h0m1-186h0m5-420h0m0 213h0m6-14h0m0 225h0m0 192h0m5-326h0m6-88h0m1 255h0m0 24h0m1-219h0m3-110h0m0 54h0m0 81h0m0 327h0m1-510h0m0 228h0m2-176h0m11 202h0m1 159h0m0 39h0m5-348h0m0 81h0m0 261h0m15-323h0m1 24h0m0 216h0m1-395h0m0 57h0m0 333h0m0 57h0m1-51h0m0 84h0m1-101h0m1-387h0m0 204h0m0 159h0m0 195h0m0 31h0m1-435h0m0 135h0m0 171h0m0 15h0m1 33h0m1-271h0m0 93h0m1 225h0m1-324h0m0 69h0m0 18h0"/><path stroke="#90ff66" d="M54 229h0m1-78h0m0 390h0m3-146h0m6 285h0m2-492h0m6 112h0m14 4h0m20-150h0m4 89h0m1-183h0m35-17h0m0 291h0m15 149h0m4-36h0m1 225h0m15-589h0m1 555h0m1-297h0m1 268h0m2-17h0m3-478h0m2 87h0m0 273h0m1 36h0m0 171h0"/><path stroke="#c1ff36" d="M53 214h0m1 84h0m3 274h0m1-165h0m3-51h0m1 258h0m2-477h0m3-80h0m12 135h0m7-35h0m0 162h0m12-205h0m13 411h0m1-243h0m5 56h0m6 159h0m18-344h0m0 138h0m1 60h0m23 51h0m15-299h0m2-71h0m2 325h0m2 115h0m2 80h0m1-498h0m0 519h0"/><path stroke="#df0000" d="M62 20h0m0 114h0m13 473h0m3-388h0m8 28h0m49 111h0m45 108h0m3 124h0m4-49h0m4-517h0m0 93h0"/><path stroke="#00b4ff" d="M53 70h0m1 333h0m1 75h0m2-254h0m8-129h0m4-80h0m48 47h0m0 288h0m6-258h0m17 376h0m6-179h0m0 183h0m14 173h0m4-429h0m1-99h0m0 567h0m21-545h0"/><path stroke="#66ff90" d="M55 460h0m10-443h0m0 582h0m0 21h0m5-584h0m4 28h0m1 90h0m3-58h0m1 561h0m0 33h0m19-573h0m8 85h0m12 343h0m23-56h0m29-116h0m10 144h0m3-211h0m1-267h0m0 324h0m1-131h0m3 131h0m1-3h0m0 282h0m2-27h0"/><path stroke="#ff2d00" d="M55 433h0m6-98h0m1-222h0m0 45h0m7 373h0m3-318h0m1 480h0m5-462h0m9 160h0m10-253h0m20 425h0m18-241h0m11-243h0m0 561h0m33-186h0m3-323h0m1 504h0"/><path stroke="#39ffbe" d="M53 544h0m2-189h0m10 118h0m3 73h0m11-87h0m0 189h0m3-347h0m17-37h0m30 87h0m37-318h0m16 125h0m2 142h0m1 204h0m2 4h0m4 20h0"/><path stroke="#0045ff" d="M57 155h0m12 232h0m4 18h0m1 175h0m4-478h0m26 586h0m1-666h0m7 569h0m5-256h0m12-230h0m0 399h0m16-374h0m0 345h0m0 195h0m39-378h0m1-1h0m1-131h0m3-136h0"/><path stroke="#000dff" d="M66 644h0m3-251h0m1 270h0m2-573h0m2 211h0m12-222h0m0 285h0m30-74h0m25 358h0m4-257h0m15-214h0m9 361h0m1 117h0m21-499h0"/><path stroke="#09f0ee" d="M53 505h0m1-192h0m1 336h0m2-446h0m0 468h0m1-486h0m24 254h0m0 15h0m23 156h0m11-35h0m2 12h0m5-396h0m17 127h0m1-216h0m5 148h0m19-139h0m15 190h0m0 93h0m1-228h0m3 407h0m4-411h0m1-9h0"/><path stroke="#ff6000" d="M55 574h0m2-225h0m2-122h0m6 303h0m33 88h0m19 71h0m24-347h0m1-231h0m4 43h0m13-109h0m1 606h0m6-630h0m0 309h0m14 40h0m3-188h0m1 19h0m0 459h0m2-341h0m2 365h0m1-612h0m2 168h0m1 93h0"/><path stroke="#0080ff" d="M53 319h0m12 226h0m4 121h0m9-120h0m8 109h0m13-82h0m6-119h0m1 24h0m5-445h0m6 539h0m29-532h0m34 264h0m2-176h0m8 166h0"/><path stroke="#0000df" d="M55 442h0m1-12h0m6-338h0m9 436h0m4-416h0m3 395h0m1-204h0m19 108h0m7-32h0m1 237h0m18-554h0m4 571h0m18-230h0m38-151h0m3-81h0m2-84h0"/><path stroke="#ff9400" d="M57 500h0m4 51h0m15 140h0m2-397h0m0 378h0m21-618h0m12 579h0m6-517h0m0 207h0m17-85h0m7-223h0m8 215h0m11-146h0m20 193h0m0 6h0m1 15h0m2-62h0m6-143h0"/><path stroke="#ff9400" d="M57 176h0m15 202h0m3-221h0m2 281h0m1-162h0m27 10h0m7 32h0m0 279h0m28-171h0m1-363h0m4 82h0m1-120h0m0 318h0m0 264h0m14-541h0m0 612h0m5-195h0m1-132h0m14 142h0m1-105h0m1 154h0m1-300h0m2-50h0m1 271h0m2-214h0m1 27h0m0 72h0m0 60h0m0 228h0"/><path stroke="#ff2d00" d="M55 217h0m7 343h0m3-156h0m10 281h0m24-376h0m6-59h0m18 115h0m5-314h0m13 501h0m4-317h0m14 407h0m1-630h0m23 545h0m8-506h0"/><path stroke="#66ff90" d="M55 556h0m1-408h0m1-17h0m12 25h0m2 105h0m12 232h0m4-378h0m18 537h0m1-228h0m22-58h0m13-270h0m0 363h0m29 178h0m10-270h0m0 66h0m0 159h0m0 78h0m2-302h0m3-4h0m1 198h0m0 111h0m2-46h0m3-270h0"/><path stroke="#ffcc00" d="M54 496h0m1-414h0m3-38h0m0 537h0m11-203h0m3-279h0m0 549h0m5-474h0m9-80h0m13 209h0m13-180h0m5 14h0m28 29h0m13 197h0m7-141h0m15-209h0m3 397h0m0 12h0m1-32h0m2 46h0m2-415h0m1 138h0m0 453h0"/><path stroke="#00b4ff" d="M60 683h0m5-513h0m4 76h0m4 81h0m5 327h0m20-444h0m68 483h0m14-89h0m4-37h0m4-381h0m1 264h0m1-399h0m1 426h0"/><path stroke="#000dff" d="M75 670h0m4 8h0m4-386h0m22-102h0m12 352h0m6-285h0m11 272h0m31-316h0m0 252h0m17-181h0m2 331h0m6-354h0m1 186h0"/><path stroke="#09f0ee" d="M56 149h0m2 168h0m5 156h0m3-78h0m5 262h0m3-152h0m2-210h0m10-105h0m0 54h0m19 126h0m7 32h0m5 86h0m28-19h0m15-217h0m10 442h0m11-44h0m5-553h0m4 227h0m2 15h0"/><path stroke="#90ff66" d="M54 136h0m3 499h0m1-45h0m7-81h0m10-154h0m3-76h0m1 201h0m3-377h0m0 366h0m4 87h0m1-510h0m18 372h0m0 84h0m6-472h0m0 366h0m6-346h0m12 637h0m12-207h0m4-62h0m1 84h0m14-364h0m0 57h0m20 253h0m3-65h0m1-65h0m2-206h0m3 320h0m0 168h0m2 93h0"/><path stroke="#df0000" d="M53 412h0m2-66h0m2-248h0m0 387h0m1-264h0m14 325h0m3-410h0m12 561h0m12-658h0m0 492h0m18 2h0m24-197h0m0 60h0m12 112h0m6-97h0m1-342h0m0 585h0m6-639h0m5 652h0m13-547h0m1-48h0m2 232h0m1-166h0m3 537h0"/><path stroke="#000084" d="M53 418h0m0 150h0m1-522h0m1 168h0m0 165h0m1-108h0m0 127h0m0 107h0m1-416h0m1-12h0m3 54h0m0 432h0m2-156h0m2-393h0m0 135h0m1 135h0m3 214h0m0 114h0m3-36h0m1-483h0m1 343h0m13-198h0m1 225h0m9 164h0m2-552h0m6 88h0m0 72h0m0 9h0m1-144h0m5-58h0m6 47h0m0 390h0m0 150h0m6-462h0m6 82h0m0 240h0m0 45h0m6-410h0m7-88h0m0 42h0m0 195h0m3 169h0m1-135h0m19-205h0m0 309h0m0 231h0m5-35h0m1-540h0m9 396h0m0 144h0m1 24h0m1-608h0m0 450h0m2 157h0m1-486h0m0 375h0m2-428h0m0 282h0m0 96h0m1-138h0m0 182h0m2-195h0m1-273h0m0 63h0m1 39h0"/><path stroke="#c1ff36" d="M55 259h0m0 102h0m0 216h0m1-141h0m2-323h0m6 177h0m1 237h0m4-296h0m0 48h0m3-156h0m1-42h0m0 462h0m3-506h0m2 353h0m0 126h0m7-230h0m0 99h0m1-255h0m1 321h0m12-367h0m6 361h0m1 51h0m11-302h0m12-68h0m12 6h0m0 27h0m0 297h0m5 7h0m3-185h0m16 106h0m15-203h0m4-52h0m4 117h0m1-42h0m2 129h0m0 105h0"/><path stroke="#0045ff" d="M54 622h0m4-530h0m7 36h0m3 346h0m6-323h0m12 162h0m19 357h0m23-628h0m32 624h0m10-437h0m11-81h0m0 426h0m3-277h0m0 336h0m2-113h0m3-61h0m2 108h0"/><path stroke="#ff6000" d="M53 325h0m3 177h0m0 141h0m5 1h0m1-138h0m3-306h0m4-134h0m2 366h0m4 76h0m11-297h0m0 30h0m1 378h0m0 18h0m11-184h0m7-20h0m12-347h0m0 192h0m1 360h0m16-166h0m6 77h0m1 51h0m1-129h0m3-278h0m14 41h0m1-30h0m0 258h0m5-384h0m15 151h0m0 15h0m0 288h0m1-147h0m2 235h0m1-140h0m2 118h0m1-378h0m2-40h0m2-75h0"/><path stroke="#eeff09" d="M53 667h0m1-306h0m0 126h0m1-324h0m1 24h0m1 301h0m0 162h0m1-546h0m0 186h0m5-51h0m3 114h0m3-62h0m0 117h0m1 102h0m5-119h0m0 144h0m1-360h0m1-91h0m1 561h0m1-213h0m3-62h0m4 36h0m0 69h0m25 83h0m12-484h0m0 579h0m17-476h0m0 429h0m7-125h0m12-166h0m0 378h0m6-558h0m0 48h0m1 120h0m5-104h0m10 492h0m1-2h0m1-210h0m2-41h0m1-194h0m3 158h0m0 183h0m0 63h0m1-114h0m1-459h0"/><path stroke="#840000" d="M53 163h0m0 225h0m1 222h0m1 9h0m1-495h0m0 510h0m1-341h0m0 324h0m3-114h0m1-327h0m3 411h0m1-321h0m0 369h0m3-614h0m1 633h0m4-207h0m0 15h0m1-281h0m0 81h0m1 66h0m1 222h0m1-79h0m1-438h0m0 432h0m0 108h0m1-264h0m6 151h0m1-318h0m0 39h0m0 153h0m0 231h0m19-354h0m0 345h0m1-231h0m5 197h0m0 96h0m0 51h0m6-637h0m0 207h0m1 105h0m0 153h0m5-432h0m0 117h0m0 57h0m0 120h0m0 222h0m1 42h0m4-509h0m0 123h0m12-192h0m0 198h0m1-135h0m0 132h0m0 225h0m0 21h0m0 45h0m0 3h0m0 78h0m4-341h0m1-87h0m0 222h0m0 39h0m7-372h0m1 213h0m6-4h0m4 15h0m1-33h0m1-213h0m3 349h0m1-348h0m9 351h0m1-366h0m0 501h0m0 21h0m1-516h0m0 156h0m0 66h0m1-119h0m0 39h0m0 285h0m1-384h0m0 264h0m0 108h0m0 117h0m1-530h0m0 66h0m0 129h0m1-15h0m1-170h0m0 459h0m2-226h0m0 57h0m0 153h0m1-81h0m0 51h0m0 51h0m1-435h0m1 15h0m0 90h0m1 309h0"/><path stroke="#0080ff" d="M53 586h0m5-107h0m11-137h0m10-234h0m27 130h0m6 188h0m5 56h0m24-170h0m5-203h0m0 207h0m19 224h0m6 139h0m10-132h0m1-317h0m3 166h0m4-330h0m3 615h0"/><path stroke="#0000df" d="M62 179h0m2-63h0m9 526h0m6-273h0m19-246h0m7 376h0m6-79h0m6-229h0m6-141h0m6 181h0m12-75h0m7 200h0m12-215h0m5 267h0m15 121h0m6 117h0m1-231h0m1 8h0m2-243h0m0 168h0m1 48h0"/><path stroke="#39ffbe" d="M54 283h0m11-137h0m7 550h0m87-276h0m1 216h0m5-438h0m0 138h0m17-76h0m3 172h0m2 79h0"/><path stroke="#0045ff" d="M58 383h0m4-255h0m21 551h0m4-258h0m25 89h0m5-199h0m0 309h0m5-90h0m1 126h0m31-103h0m11-196h0m1-42h0m4-284h0m12 565h0m2-101h0m1 6h0"/><path stroke="#df0000" d="M68 615h0m4-369h0m3-44h0m3 410h0m62-39h0m40-2h0m2-497h0m1-24h0m1-23h0m2 391h0m0 276h0m2-655h0m0 375h0"/><path stroke="#000dff" d="M55 232h0m14-103h0m4-96h0m14 367h0m23 209h0m7-208h0m6 72h0m18 52h0m19 18h0m20-296h0m2 253h0m2-243h0m7 103h0m1-186h0"/><path stroke="#ff9400" d="M53 646h0m3-57h0m1-437h0m8 498h0m7-185h0m1-402h0m1 376h0m1-366h0m0 87h0m8 48h0m15 41h0m7-134h0m12-2h0m0 492h0m7-435h0m6 490h0m11-396h0m5 280h0m7-153h0m1 69h0m26 48h0m1-126h0m1-248h0m0 27h0m1 106h0m1 111h0m2-143h0m1-60h0m4-157h0"/><path stroke="#0080ff" d="M57 32h0m0 225h0m11 25h0m30-6h0m0 36h0m0 234h0m1-405h0m42 234h0m8-211h0m22 158h0m11-53h0m2-254h0m2 424h0"/><path stroke="#eeff09" d="M54 31h0m4 238h0m4-78h0m11-164h0m2 202h0m3 218h0m5-44h0m3-195h0m1 207h0m0 120h0m12-415h0m6-83h0m0 303h0m0 144h0m1 159h0m5-364h0m6 323h0m6-468h0m18 28h0m0 528h0m4-113h0m1-99h0m0 81h0m6 102h0m8-73h0m0 36h0m4 57h0m17-332h0m1-294h0m0 282h0m1 70h0m1-383h0m2 673h0m3-121h0m0 105h0m2-618h0"/><path stroke="#0000df" d="M53 211h0m0 258h0m1-327h0m21 75h0m8 132h0m41 25h0m5-179h0m12 240h0m4-104h0m25 168h0m12 160h0m7-218h0"/><path stroke="#000084" d="M53 298h0m0 36h0m0 180h0m0 99h0m0 27h0m3-446h0m0 2h0m1 391h0m4-423h0m1 354h0m2-411h0m0 390h0m1-321h0m0 162h0m1-204h0m3-8h0m5 124h0m0 408h0m4-487h0m0 102h0m0 144h0m0 114h0m0 150h0m4-206h0m4-369h0m1 81h0m0 93h0m11-229h0m0 48h0m0 252h0m0 36h0m13-351h0m0 408h0m0 9h0m6-244h0m0 252h0m1 165h0m5-417h0m0 72h0m0 204h0m0 42h0m1-81h0m5-284h0m0 84h0m12-186h0m0 24h0m0 456h0m5-125h0m2-308h0m1 375h0m1-285h0m0 48h0m9-155h0m0 189h0m0 228h0m1-108h0m5-81h0m0 99h0m5-362h0m1 498h0m0 96h0m8 30h0m1-639h0m2 406h0m1-330h0m0 213h0m2-148h0m0 308h0m0 18h0m0 22h0m0 20h0m0 96h0m1-608h0m0 98h0m0 142h0m0 48h0m2-43h0m0 36h0m1-282h0m0 63h0m1 363h0m2-423h0m0 159h0"/><path stroke="#09f0ee" d="M57 242h0m9-63h0m6 433h0m2-170h0m1-246h0m11 21h0m12 230h0m31-219h0m11 456h0m1 3h0m18-249h0m1-399h0m4-3h0m1 108h0m20-42h0m5 327h0"/><path stroke="#840000" d="M53 271h0m1 18h0m1 27h0m1-24h0m0 273h0m1-551h0m0 24h0m0 237h0m0 21h0m0 114h0m0 141h0m1-351h0m0 282h0m4-309h0m0 153h0m3 144h0m1-254h0m2 138h0m0 234h0m1 39h0m1-318h0m1-93h0m2-24h0m0 324h0m2-425h0m0 303h0m0 231h0m1-600h0m0 84h0m1 347h0m1-171h0m1 78h0m0 90h0m3 181h0m3-237h0m1-141h0m0 285h0m0 9h0m0 45h0m1 78h0m11-88h0m6-251h0m1-150h0m0 48h0m0 42h0m0 138h0m0 153h0m6-1h0m1-537h0m0 657h0m6-328h0m0 276h0m5-165h0m1-126h0m0 45h0m16-77h0m0 357h0m1-648h0m0 111h0m0 63h0m0 345h0m0 96h0m1-594h0m3 607h0m1-618h0m3 211h0m10 370h0m6-321h0m0 276h0m0 36h0m14-254h0m0 270h0m1-558h0m0 348h0m0 270h0m2-338h0m0 231h0m1-75h0m0 52h0m0 134h0m1-254h0m0 105h0m1-519h0m0 159h0m0 426h0m0 39h0m1-533h0m0 519h0m1-69h0m1 14h0m1-255h0m0 66h0m1-252h0m0 177h0m1-33h0m0 123h0m0 210h0"/><path stroke="#39ffbe" d="M54 409h0m2-200h0m17 103h0m3-2h0m10-261h0m13 293h0m18-106h0m0 174h0m0 84h0m5-273h0m20 199h0m17-15h0m1-186h0m23 123h0m6-12h0m0 42h0"/><path stroke="#00b4ff" d="M65 68h0m58 612h0m18-431h0m4-143h0m20-43h0m1 366h0m16 53h0m2-155h0m1 138h0"/><path stroke="#ffcc00" d="M53 256h0m1 168h0m0 129h0m1 111h0m6 31h0m7-650h0m4 90h0m0 462h0m3 13h0m8-219h0m3 210h0m12-493h0m0 111h0m1 6h0m0 129h0m6-323h0m12 550h0m0 78h0m1-372h0m5-186h0m18 19h0m0 213h0m4-53h0m14-193h0m7 411h0m4-191h0m0 21h0m13 163h0m2-17h0m0 3h0m0 210h0m1-233h0m5-22h0"/><path stroke="#66ff90" d="M53 160h0m5 142h0m0 54h0m3-69h0m7 175h0m5 141h0m9-434h0m16-73h0m0 279h0m1-225h0m6 253h0m7 89h0m5 179h0m6-474h0m0 306h0m6-287h0m11 189h0m6 196h0m3 49h0m1-180h0m9-290h0m22-65h0m3 221h0m1-246h0m1 48h0m4 120h0m1 255h0"/><path stroke="#c1ff36" d="M55 52h0m0 159h0m0 108h0m2 40h0m0 177h0m4 162h0m1-123h0m2-381h0m1 369h0m4-383h0m0 171h0m6-296h0m0 63h0m8 84h0m3 291h0m13-292h0m6 112h0m0 138h0m6 83h0m11 125h0m1-255h0m0 75h0m1-183h0m16 208h0m41-86h0m0 3h0m1-242h0m4-139h0m2-13h0m0 306h0"/><path stroke="#90ff66" d="M67 489h0m5-54h0m0 204h0m3-230h0m3-94h0m1-225h0m4 490h0m2 51h0m1-606h0m12 662h0m7-161h0m7-226h0m4 323h0m2-360h0m5 261h0m6-497h0m0 336h0m6-275h0m6 320h0m4 250h0m1-498h0m0 15h0m13 56h0m1 6h0m0 39h0m0 33h0m5 90h0m16 295h0m2-218h0m1-117h0m0 262h0m4-384h0"/><path stroke="#ff2d00" d="M56 487h0m2-341h0m4-45h0m6 367h0m2 150h0m5-35h0m0 45h0m11-201h0m13-181h0m0 309h0m7-446h0m11 199h0m29 374h0m19-310h0m0 267h0m15-563h0m1 300h0m8-70h0m3 117h0"/><path stroke="#ff6000" d="M53 40h0m9 193h0m2 231h0m1 78h0m21-487h0m12 224h0m7-20h0m36 134h0m5-20h0m4-350h0m16 490h0m13 64h0m2-288h0m0 90h0m4 18h0"/><path stroke="#0080ff" d="M57 371h0m4-27h0m1-276h0m7 472h0m14-212h0m15-268h0m25 77h0m18 280h0m0 258h0m1-327h0m3 79h0m20-238h0m1-15h0m0 276h0m18-39h0m6-189h0"/><path stroke="#0000df" d="M57 677h0m12-488h0m3 21h0m26 213h0m13-75h0m7-55h0m27-271h0m15 251h0m20-95h0m1-150h0m1 487h0"/><path stroke="#09f0ee" d="M61 206h0m10 214h0m1 54h0m2-416h0m1 153h0m4 272h0m7-80h0m19-324h0m12 427h0m66 120h0m3-133h0m3 2h0m0 39h0"/><path stroke="#39ffbe" d="M54 661h0m1-75h0m7-488h0m2 594h0m19-295h0m5-120h0m23-109h0m0 78h0m0 18h0m6 422h0m53-661h0m10 453h0m3 175h0m8-512h0"/><path stroke="#90ff66" d="M55 238h0m0 225h0m2-266h0m8 84h0m3 7h0m0 183h0m1-156h0m13-50h0m1 117h0m3 240h0m12 56h0m1-396h0m0 42h0m12-237h0m0 501h0m7-577h0m5 120h0m0 285h0m18-311h0m0 498h0m5-47h0m13-154h0m1 48h0m4-138h0m2-42h0m4-131h0m12 262h0m2-137h0m0 321h0m1-276h0m3-39h0m1-96h0m1-72h0m1 369h0"/><path stroke="#00b4ff" d="M99 234h0m24-76h0m23 302h0m38-364h0m2 67h0m3 530h0"/><path stroke="#840000" d="M53 85h0m0 54h0m0 111h0m0 102h0m1 339h0m1-633h0m3 550h0m3 45h0m1-15h0m4-279h0m2-47h0m1-144h0m0 30h0m2 303h0m3-314h0m0 111h0m0 267h0m1-297h0m0 15h0m0 189h0m0 27h0m2-463h0m0 366h0m1-273h0m0 66h0m0 192h0m1-252h0m6 88h0m1 132h0m0 165h0m1-321h0m12 236h0m0 216h0m5-230h0m1-249h0m6-133h0m1 288h0m5-100h0m0 156h0m6 180h0m0 129h0m1-48h0m4-548h0m0 249h0m1-282h0m11 198h0m0 99h0m5-74h0m0 228h0m0 105h0m1-207h0m0 9h0m3-395h0m5 128h0m5-127h0m0 105h0m0 507h0m1-273h0m0 126h0m0 105h0m4-102h0m1-456h0m0 15h0m0 543h0m5-362h0m0 198h0m9-294h0m1 321h0m1 76h0m2-459h0m0 501h0m1-230h0m0 6h0m0 105h0m0 102h0m1-480h0m0 189h0m3-135h0m0 84h0m1-18h0m0 219h0m0 144h0m1-516h0m0 18h0m1 201h0m1-105h0m0 144h0m0 237h0"/><path stroke="#df0000" d="M66 665h0m3-104h0m3 111h0m3-116h0m42-287h0m25-68h0m3-83h0m0 237h0m0 183h0m26 108h0m11-311h0m1 9h0m4 80h0m1-40h0m3-369h0m0 639h0"/><path stroke="#c1ff36" d="M54 592h0m3-575h0m0 219h0m1-72h0m0 405h0m6-36h0m5-419h0m1 507h0m8-411h0m0 138h0m8 25h0m1-72h0m0 393h0m17-621h0m13 541h0m0 54h0m1-270h0m6-108h0m0 360h0m17-536h0m0 477h0m0 102h0m5-305h0m0 267h0m3-83h0m1-300h0m10 241h0m22-433h0m0 15h0m1-42h0m1 121h0m1 72h0m0 264h0m1-35h0m3-310h0m1 507h0m1-399h0"/><path stroke="#ff2d00" d="M55 154h0m6 223h0m17 7h0m1-30h0m7 100h0m1 159h0m11-454h0m7 58h0m6 11h0m6 272h0m12-68h0m17-2h0m18-55h0m2 291h0m15-374h0m8 404h0m1-90h0"/><path stroke="#66ff90" d="M53 571h0m2-174h0m0 213h0m1-87h0m2-383h0m8 399h0m5-410h0m2 60h0m3-122h0m22 503h0m7 64h0m7-562h0m17 117h0m29-81h0m1 378h0m21-335h0m0 300h0m3-359h0m3 164h0m1 375h0m2-433h0m2-84h0"/><path stroke="#ff9400" d="M54 538h0m3-437h0m0 543h0m18-325h0m3 116h0m21-168h0m18 257h0m0 6h0m1-495h0m6 573h0m5 1h0m1-24h0m19-352h0m11-50h0m6 378h0m4-482h0m20 521h0"/><path stroke="#ffcc00" d="M53 28h0m2 33h0m1-45h0m1 121h0m0 396h0m8 60h0m0 9h0m0 87h0m3-581h0m18 358h0m1 141h0m18-387h0m0 453h0m6-205h0m29-6h0m1-30h0m0 240h0m8-493h0m20 140h0m10-24h0m1-210h0m0 123h0m2 82h0m0 234h0m2 154h0m3-269h0m4 92h0"/><path stroke="#000dff" d="M56 79h0m2 82h0m7 408h0m1-186h0m2 184h0m1-315h0m0 276h0m49-136h0m27-64h0m0 243h0m21-82h0m14-209h0m1-228h0m1 67h0m2 556h0m8-24h0"/><path stroke="#ff6000" d="M55 652h0m11-95h0m8-283h0m1-84h0m24 2h0m12-72h0m12 8h0m0 336h0m17-389h0m0 354h0m1-240h0m4 58h0m1 381h0m14-304h0m5-156h0m1 528h0m18-598h0m2 539h0m0 21h0m4-424h0"/><path stroke="#0045ff" d="M60 515h0m1-93h0m5-270h0m0 81h0m5 376h0m0 18h0m34-8h0m6-475h0m29 0h0m44 186h0m0 120h0m7-108h0"/><path stroke="#000084" d="M55 448h0m0 159h0m1-501h0m1 310h0m1-291h0m3 234h0m0 33h0m1-135h0m0 189h0m2-225h0m2-183h0m3-2h0m2 363h0m1-105h0m1 81h0m2-287h0m3 149h0m5 127h0m3-306h0m0 15h0m0 210h0m13 17h0m7 286h0m5-172h0m0 186h0m0 39h0m6-493h0m0 57h0m1-147h0m5 216h0m0 270h0m1-255h0m0 345h0m5-89h0m11-453h0m0 525h0m0 48h0m1-396h0m0 87h0m0 15h0m0 273h0m4-479h0m0 402h0m14-502h0m1 96h0m0 54h0m1 312h0m3-3h0m1 27h0m1-450h0m15-26h0m0 51h0m0 63h0m1 145h0m1 39h0m1-287h0m1 579h0m1-617h0m0 21h0m0 111h0m0 393h0m0 96h0m1-345h0m2 209h0m0 24h0m1-342h0m0 279h0m1-462h0m1 336h0"/><path stroke="#eeff09" d="M53 307h0m0 159h0m1-102h0m15-154h0m3 339h0m2-134h0m1 42h0m11 27h0m1-162h0m12 203h0m6-50h0m1-249h0m5-49h0m12 140h0m12 314h0m5-508h0m1 111h0m0 18h0m0 54h0m0 189h0m5-176h0m14 248h0m5 15h0m2-186h0m3-272h0m9 249h0m1-273h0m2 595h0m1-558h0m1 43h0m0 372h0m0 27h0m1-516h0m1 616h0m2-609h0m1 161h0m0 234h0m1-300h0m0 120h0m1 6h0m0 354h0"/><path stroke="#ff9400" d="M193 51h0m1 255h0m5 171h0m0 93h0m1-426h0m3 264h0m2-228h0m0 414h0m1-276h0m0 45h0m0 90h0m1-114h0m6-141h0m7-111h0m5 52h0m2 20h0m0 348h0m0 132h0m5-342h0m0 76h0m2 39h0m1-363h0m0 66h0m0 467h0m4-33h0m0 138h0"/><path stroke="#c1ff36" d="M193 639h0m1-192h0m2 99h0m0 33h0m4-381h0m2-3h0m5-45h0m0 147h0m2-195h0m6 56h0m1 207h0m0 195h0m2-260h0m2-48h0m0 240h0m2 7h0m0 33h0m0 150h0m1-573h0m5 32h0m0 279h0m0 231h0m1-168h0m2 25h0m1-250h0m2 112h0m0 294h0m1-330h0m2-190h0m0 186h0m0 204h0m2-12h0m1-12h0"/><path stroke="#00b4ff" d="M193 57h0m0 633h0m3-582h0m0 267h0m4 57h0m2 144h0m3-57h0m6 77h0m1 76h0m2-405h0m3 141h0m1 51h0m3 85h0m1 144h0m5-547h0m0 144h0m7-92h0m0 231h0m5 221h0m1-165h0m2 154h0"/><path stroke="#0080ff" d="M194 330h0m10-99h0m1 42h0m9-42h0m0 225h0m1-391h0m1 114h0m1 493h0m5 4h0m2-69h0m3-190h0m10 120h0m2-192h0m0 198h0"/><path stroke="#840000" d="M192 309h0m0 114h0m1-378h0m0 165h0m0 396h0m1 63h0m0 15h0m1-603h0m0 396h0m0 72h0m0 60h0m1-465h0m0 297h0m1-92h0m0 213h0m1-357h0m0 141h0m0 96h0m0 51h0m0 9h0m1-127h0m2-321h0m0 231h0m0 393h0m1-630h0m0 198h0m0 450h0m1-600h0m1-60h0m0 141h0m0 18h0m0 288h0m1-141h0m0 174h0m0 147h0m1-267h0m0 225h0m0 48h0m1-192h0m0 9h0m1-228h0m0 126h0m0 114h0m1-300h0m1 107h0m0 373h0m1-439h0m0 429h0m2-380h0m0 12h0m0 39h0m0 153h0m1-222h0m0 260h0m1-408h0m0 123h0m0 12h0m0 240h0m0 111h0m1-348h0m2-68h0m0 24h0m1-186h0m0 108h0m0 231h0m0 99h0m0 36h0m1-450h0m0 129h0m0 393h0m0 3h0m0 111h0m1-437h0m0 96h0m1 72h0m0 63h0m0 30h0m1-369h0m0 465h0m1-387h0m0 162h0m0 159h0m0 111h0m1-565h0m1-27h0m1 45h0m0 27h0m0 408h0m1-468h0m1-57h0m0 82h0m0 581h0m1-281h0m0 177h0m1-277h0m0 346h0m0 15h0m1-340h0m1-240h0m1 43h0m0 162h0m0 24h0m0 27h0m0 90h0m4-220h0m0 219h0m0 261h0m1-372h0m0 120h0m0 129h0m1-377h0m0 123h0m1 111h0m0 132h0m1-459h0m0 219h0"/><path stroke="#df0000" d="M198 669h0m15-9h0m7-225h0m2-191h0m2 243h0m0 198h0m2-382h0m5 223h0m6-406h0m1 516h0m1-237h0"/><path stroke="#39ffbe" d="M193 540h0m2 12h0m3-260h0m1 53h0m0 336h0m1-105h0m9-334h0m10 418h0m1-54h0m3-23h0m4-61h0m1-408h0m2 244h0m3-130h0m4-30h0m3-87h0m0 529h0m1-495h0"/><path stroke="#90ff66" d="M195 282h0m5-252h0m0 330h0m2-150h0m0 339h0m2-420h0m2 45h0m1 174h0m2-219h0m0 177h0m0 9h0m2-205h0m2 496h0m4-216h0m2 24h0m1-213h0m1 382h0m4-93h0m1 119h0m1-384h0m0 90h0m0 126h0m1-201h0m1 357h0m1-305h0m2-196h0m1 291h0m0 79h0m1-165h0m1-204h0m0 282h0m1-127h0m0 345h0m1 24h0m2-453h0m0 60h0m2 217h0m1 135h0"/><path stroke="#09f0ee" d="M193 111h0m3 426h0m2-392h0m1-82h0m5-3h0m0 561h0m7-505h0m0 489h0m5-111h0m6-253h0m5-226h0m5 408h0m7-297h0m0 124h0m0 392h0m3 1h0"/><path stroke="#ff2d00" d="M193 270h0m2-222h0m1 40h0m1 308h0m2 94h0m6-223h0m1 60h0m4 80h0m0 93h0m1 183h0m2-182h0m2 170h0m3-368h0m1 369h0m1-252h0m2-59h0m5 305h0m2-606h0m1 58h0m0 518h0m3-570h0m0 355h0m6-343h0m2 121h0"/><path stroke="#ff6000" d="M193 24h0m0 618h0m3-362h0m2 353h0m6-138h0m1-282h0m2-87h0m7-94h0m1 18h0m0 150h0m1 378h0m3-44h0m0 120h0m1-630h0m7 180h0m0 204h0m1 195h0m1 63h0m12-11h0m1-186h0"/><path stroke="#0045ff" d="M193 144h0m0 285h0m0 42h0m1 81h0m1-477h0m2 384h0m2-51h0m14-45h0m3-235h0m7-61h0m3 11h0m2 126h0m6 22h0m4-112h0m2-9h0m0 477h0"/><path stroke="#000dff" d="M195 660h0m1-567h0m15 308h0m2-89h0m7-204h0m8 408h0m6-213h0"/><path stroke="#eeff09" d="M194 150h0m1 540h0m1-420h0m2 181h0m4-148h0m0 171h0m2-255h0m0 168h0m1 273h0m1-6h0m3-267h0m3 306h0m1-510h0m1 132h0m1 68h0m6 143h0m1-309h0m0 414h0m2-387h0m0 330h0m3-391h0m3 346h0m2-403h0m2 364h0m0 207h0m3-664h0m2 159h0m1 379h0m0 35h0m2-11h0"/><path stroke="#000084" d="M196 24h0m0 264h0m0 12h0m0 24h0m0 87h0m2 25h0m1-298h0m0 232h0m0 14h0m1-363h0m0 207h0m2-189h0m0 270h0m0 198h0m4-372h0m0 171h0m0 366h0m1-129h0m2-420h0m0 69h0m0 69h0m0 249h0m0 120h0m0 26h0m1-345h0m0 258h0m1-144h0m2-401h0m0 177h0m0 375h0m1-147h0m0 189h0m1-400h0m2-116h0m0 339h0m0 33h0m1-267h0m0 285h0m1-243h0m0 165h0m0 153h0m1-357h0m0 205h0m0 8h0m0 39h0m2-314h0m0 123h0m0 42h0m1 216h0m0 96h0m1-519h0m0 135h0m0 315h0m2-532h0m0 531h0m0 15h0m1-447h0m0 87h0m1-177h0m0 456h0m1-291h0m1 25h0m0 12h0m2-37h0m0 232h0m0 134h0m1-213h0m0 43h0m1-3h0m0 72h0m0 21h0m0 18h0m1-478h0m0 88h0m0 120h0m1 122h0m0 306h0m1-426h0m0 399h0m1-402h0m0 57h0m1-171h0m0 234h0m0 81h0m1-387h0m0 145h0m1 234h0"/><path stroke="#0000df" d="M196 633h0m10-486h0m1 528h0m2-15h0m9-156h0m2 144h0m12-555h0"/><path stroke="#66ff90" d="M192 261h0m1 36h0m3-279h0m5 321h0m0 123h0m3-258h0m0 390h0m2-126h0m1 54h0m2-174h0m1 2h0m5 150h0m1-234h0m1-131h0m3 204h0m2-260h0m5 170h0m10 345h0m1-132h0m2-366h0"/><path stroke="#ffcc00" d="M193 18h0m4 198h0m1 364h0m1-367h0m0 282h0m11-16h0m1 96h0m1-401h0m2 366h0m1 137h0m1-351h0m2 331h0m2-201h0m0 102h0m2-476h0m5 50h0m1 234h0m2-53h0m2-1h0m2-272h0m2 419h0m1 21h0m3-389h0m0 173h0"/><path stroke="#840000" d="M193 96h0m1 294h0m1-123h0m0 102h0m0 138h0m1-117h0m0 163h0m0 98h0m0 27h0m1-497h0m0 96h0m2-226h0m0 106h0m0 129h0m0 233h0m1-408h0m0 246h0m1-171h0m1 177h0m0 24h0m1-195h0m0 84h0m3-48h0m0 357h0m1-405h0m0 195h0m0 48h0m0 6h0m2 96h0m1 14h0m1-498h0m0 342h0m0 282h0m1-345h0m1 229h0m1-151h0m1-384h0m0 45h0m0 27h0m0 300h0m0 261h0m1-303h0m0 138h0m1-435h0m0 355h0m0 276h0m1-342h0m0 42h0m1-342h0m0 48h0m1 21h0m1 156h0m1-170h0m1 297h0m0 72h0m0 129h0m1-237h0m1-291h0m0 111h0m0 465h0m1-415h0m0 228h0m0 144h0m2-522h0m0 39h0m0 333h0m0 108h0m1-456h0m1 67h0m1-150h0m0 342h0m1-292h0m1 87h0m0 69h0m1-134h0m0 441h0m2-241h0m0 282h0m1-459h0m0 261h0m0 324h0m1-609h0m1-69h0m1 73h0m0 387h0m0 149h0m1-548h0m0 75h0m0 42h0m0 150h0m0 66h0m0 228h0m1-510h0m0 42h0"/><path stroke="#0045ff" d="M193 276h0m1 183h0m8-279h0m1 333h0m4 135h0m4-358h0m5-36h0m1-231h0m1 40h0m0 33h0m0 519h0m1-54h0m7-363h0m0 351h0m1-330h0m2-129h0m1 355h0m2 233h0m2-203h0m7-243h0m0 69h0"/><path stroke="#00b4ff" d="M204 69h0m1 330h0m1 156h0m6-475h0m0 180h0m3 366h0m6-532h0m2 162h0m0 177h0m1-171h0m0 237h0m2-460h0m2 342h0m0 312h0m1-438h0m3 39h0m0 303h0m4-207h0m1-132h0m3 111h0"/><path stroke="#0080ff" d="M197 523h0m1-486h0m0 648h0m5-631h0m2 375h0m5 245h0m2-495h0m2 340h0m1-376h0m7 398h0m3-312h0m1 89h0m5-11h0m3 9h0m4-61h0m2 375h0"/><path stroke="#ff6000" d="M195 534h0m1-504h0m3 379h0m1 182h0m2 93h0m1-390h0m8 239h0m2 124h0m2-88h0m1-258h0m2 199h0m4 100h0m1-408h0m0 489h0m2-216h0m3-148h0m0 201h0m2-506h0m1 192h0m2-160h0m5-36h0"/><path stroke="#ff2d00" d="M194 522h0m1-24h0m0 165h0m1-546h0m2 112h0m2 176h0m2-390h0m3 144h0m3 174h0m5 300h0m2-244h0m1-114h0m2 385h0m5-410h0m2 224h0m1 51h0m0 57h0m0 75h0m1-216h0m1-153h0m0 372h0m1-528h0m1-11h0m0 207h0m4 3h0m2 137h0m1 138h0m2-339h0m1 402h0"/><path stroke="#c1ff36" d="M193 396h0m2-195h0m0 150h0m1-57h0m0 87h0m1-47h0m3 287h0m2-555h0m0 222h0m0 18h0m0 36h0m0 6h0m2 159h0m5 150h0m1-229h0m1 96h0m1-233h0m2 150h0m2 36h0m2-255h0m1 333h0m3-305h0m0 258h0m3 159h0m2-406h0m1 294h0m1 129h0m1-125h0m3-481h0m1 475h0m1-432h0"/><path stroke="#000084" d="M192 408h0m1-228h0m0 54h0m0 93h0m0 360h0m2-564h0m1 324h0m0 72h0m1 168h0m1-182h0m0 174h0m1-382h0m1-285h0m0 414h0m0 18h0m0 36h0m3-276h0m1 165h0m0 174h0m0 126h0m1-111h0m2-360h0m0 138h0m0 105h0m0 216h0m1-639h0m1 21h0m0 246h0m0 117h0m1 192h0m1-574h0m3-5h0m0 447h0m1-391h0m0 330h0m0 60h0m3 229h0m1-576h0m0 288h0m0 144h0m0 3h0m1-327h0m0 372h0m1-483h0m1 145h0m0 168h0m0 129h0m1-537h0m0 93h0m0 87h0m0 459h0m1-195h0m0 81h0m3-79h0m2-261h0m0 66h0m0 117h0m0 36h0m1-321h0m0 205h0m0 159h0m0 132h0m1-153h0m0 33h0m1-445h0m0 525h0m1-66h0m1 67h0m1-351h0m1 197h0m0 138h0m1-444h0m0 246h0m0 18h0m1-87h0m1-246h0m0 66h0m0 225h0m2-83h0m0 204h0m0 192h0m1-246h0m0 102h0m0 18h0"/><path stroke="#ff9400" d="M194 462h0m2-234h0m3 403h0m1-532h0m4 177h0m1 261h0m4-477h0m0 306h0m0 234h0m0 69h0m4-309h0m2 57h0m2 66h0m7-257h0m7 408h0m2 57h0m4-199h0m0 189h0m1-93h0m1-534h0m1 339h0m1-125h0"/><path stroke="#39ffbe" d="M198 415h0m7-400h0m1 162h0m3 96h0m11-171h0m6-72h0m3 39h0m1 207h0m1-203h0m8-1h0m0 204h0"/><path stroke="#ffcc00" d="M196 69h0m2 148h0m1-40h0m0 78h0m1-138h0m0 198h0m1-255h0m1 138h0m1 30h0m4 234h0m4-106h0m2-134h0m2-52h0m2-59h0m5-56h0m1 552h0m0 42h0m1-558h0m3 122h0m4-41h0m0 240h0m1 167h0m2-134h0m4-244h0m3 121h0m0 255h0"/><path stroke="#66ff90" d="M196 387h0m3 33h0m0 87h0m1 3h0m2-447h0m2 216h0m1 333h0m3-3h0m5-492h0m3-82h0m1 199h0m2 237h0m0 186h0m7-630h0m2 357h0m0 126h0m6-260h0m4-229h0m3 526h0"/><path stroke="#df0000" d="M202 396h0m2-48h0m1-180h0m1-111h0m1 444h0m3 27h0m1-97h0m1-182h0m2 416h0m6-26h0m1-512h0m1 390h0m5 20h0m2 93h0m1-389h0m2 152h0m0 267h0m6-414h0m3-128h0"/><path stroke="#0000df" d="M203 267h0m20 406h0m5-211h0m1-357h0m2 154h0m2 278h0m1-215h0"/><path stroke="#eeff09" d="M192 627h0m3-291h0m0 36h0m0 183h0m1 42h0m1-122h0m5-262h0m0 366h0m2 54h0m2-249h0m3 192h0m5-207h0m1-229h0m0 156h0m0 39h0m6-320h0m1 115h0m3 390h0m2-52h0m2-345h0m1 445h0m1-91h0m2-408h0m7-33h0m0 204h0m2-161h0"/><path stroke="#90ff66" d="M196 600h0m1 4h0m0 92h0m1-249h0m2-174h0m1 84h0m3 282h0m3-564h0m2 113h0m1-20h0m1 386h0m1-449h0m2 30h0m0 372h0m1-265h0m1 387h0m2-134h0m2-240h0m2-224h0m1 549h0m9 89h0m1-648h0m4 36h0m0 237h0m0 90h0m2 75h0"/><path stroke="#000dff" d="M204 324h0m7 191h0m7-494h0m12 223h0m2-103h0"/><path stroke="#09f0ee" d="M199 558h0m3-462h0m2 594h0m8-142h0m1 16h0m2 99h0m1-115h0m5-73h0m1-81h0m2-204h0m3 239h0m1 39h0m2-173h0m1 357h0m5-10h0m2-456h0m2 205h0m0 222h0m1-438h0"/><path stroke="#00b4ff" d="M193 453h0m4 235h0m7-403h0m2-249h0m0 147h0m0 363h0m2-291h0m0 306h0m1-291h0m1-142h0m1 375h0m0 192h0m5-63h0m1-227h0m1 6h0m10-51h0m1-324h0m0 579h0m2-168h0m3-365h0m5-34h0m2 481h0m0 12h0"/><path stroke="#09f0ee" d="M193 345h0m0 105h0m10-294h0m4 57h0m8-82h0m6-70h0m0 543h0m7-574h0m0 444h0m1-138h0m6 244h0m4 32h0m0 60h0"/><path stroke="#840000" d="M193 171h0m0 372h0m0 48h0m1-516h0m1 21h0m2 60h0m0 55h0m1-9h0m0 33h0m1-40h0m0 342h0m0 18h0m1-363h0m0 39h0m0 48h0m1-198h0m0 564h0m1-348h0m0 42h0m0 222h0m2-351h0m0 6h0m0 129h0m1-123h0m0 111h0m0 276h0m1-372h0m0 117h0m1-231h0m0 69h0m1-111h0m0 186h0m0 159h0m1-300h0m0 18h0m0 333h0m1 104h0m1-318h0m0 213h0m1-357h0m0 165h0m1-191h0m0 258h0m1-249h0m0 540h0m3-516h0m0 306h0m0 15h0m1-306h0m0 414h0m1-273h0m0 45h0m0 147h0m1-90h0m1-204h0m1-5h0m0 288h0m1 3h0m1-423h0m0 282h0m0 276h0m2-322h0m0 225h0m0 27h0m1-366h0m0 111h0m0 378h0m1-291h0m1-120h0m1-212h0m0 429h0m1-192h0m1 95h0m0 9h0m0 69h0m1-393h0m0 570h0m1-470h0m0 39h0m0 81h0m0 171h0m1-225h0m0 105h0m0 246h0m1 113h0m1-525h0m0 345h0m2-375h0m1-15h0m0 216h0m0 55h0m0 17h0m1-188h0m0 270h0m0 147h0m1-504h0"/><path stroke="#000084" d="M192 501h0m1-297h0m0 18h0m0 438h0m1-336h0m2-303h0m1 226h0m1-198h0m0 411h0m1 68h0m0 85h0m1-538h0m0 201h0m0 90h0m1-195h0m1-114h0m0 45h0m2 186h0m1 174h0m1-267h0m2-24h0m0 93h0m0 129h0m1-183h0m0 99h0m0 144h0m1 44h0m1-24h0m0 18h0m2-278h0m0 318h0m1-57h0m0 135h0m1-376h0m0 60h0m0 73h0m0 329h0m1-210h0m0 21h0m3-68h0m0 147h0m0 60h0m3-434h0m0 75h0m0 114h0m1-354h0m0 174h0m1-120h0m0 183h0m0 123h0m1-312h0m2 44h0m0 402h0m1-360h0m1 12h0m0 264h0m2-404h0m1 461h0m0 9h0m1-293h0m1 399h0m1-522h0m0 546h0m3-202h0m1 228h0m2-599h0m0 420h0"/><path stroke="#c1ff36" d="M193 468h0m3 168h0m2-560h0m0 408h0m1-6h0m1-82h0m2-318h0m1 177h0m3-114h0m3-43h0m1 373h0m0 71h0m0 24h0m1-318h0m2-11h0m2-103h0m8 146h0m1-159h0m0 429h0m0 42h0m1-426h0m2 413h0m1-348h0m0 90h0m0 66h0m3 244h0m0 24h0m2-259h0m1-371h0m0 30h0m0 330h0m0 153h0m0 45h0m1 42h0m1-553h0m1 546h0"/><path stroke="#66ff90" d="M192 492h0m1 183h0m2-192h0m1-237h0m1 346h0m12-40h0m1-499h0m3 508h0m1-384h0m1 314h0m1-72h0m3-272h0m0 261h0m0 285h0m1-150h0m0 144h0m2-269h0m0 243h0m0 6h0m2-306h0m1-282h0m3 422h0m4-396h0m1 502h0m2-549h0m1 68h0m2 213h0"/><path stroke="#90ff66" d="M193 624h0m3-597h0m0 303h0m0 159h0m3-360h0m0 495h0m5-561h0m1 186h0m1-27h0m0 327h0m0 84h0m5-532h0m4 484h0m3-441h0m4-59h0m0 219h0m0 99h0m1-369h0m5 623h0m1-246h0m2-128h0m2-106h0m1-146h0m3 542h0m2-75h0m2-56h0"/><path stroke="#000dff" d="M192 156h0m4 447h0m3-350h0m6-148h0m3 306h0m1-321h0m10 204h0m5-152h0m0 261h0m3-217h0m1 438h0m5 72h0"/><path stroke="#0000df" d="M194 303h0m19 225h0m10-98h0m12 138h0m2-301h0m2 135h0m0 237h0"/><path stroke="#df0000" d="M205 588h0m5-183h0m2-169h0m1 394h0m1-114h0m0 168h0m2-499h0m2 340h0m10-168h0m2 229h0m9-454h0m0 252h0"/><path stroke="#ffcc00" d="M193 570h0m2 12h0m3-239h0m2-154h0m0 69h0m0 114h0m1 57h0m0 213h0m1-615h0m0 300h0m2-129h0m5 141h0m0 99h0m2-316h0m0 69h0m2-101h0m0 204h0m1 276h0m1-139h0m5-203h0m2-110h0m2-66h0m0 36h0m1 144h0m1-64h0m1-150h0m0 291h0m2-87h0m0 369h0m1-206h0m0 231h0m0 6h0m1-213h0m4-51h0m2-265h0m0 87h0m3 427h0"/><path stroke="#ff6000" d="M193 282h0m3 84h0m4-3h0m6-258h0m1-78h0m0 612h0m2-576h0m1 305h0m1 285h0m3 28h0m1-271h0m14-182h0m0 150h0m5-188h0m1 198h0m3-142h0m1-57h0"/><path stroke="#eeff09" d="M195 423h0m1-381h0m1 19h0m0 41h0m4-6h0m0 363h0m3 12h0m1-381h0m0 18h0m1 396h0m3-471h0m2 80h0m0 72h0m0 138h0m0 147h0m0 18h0m1-53h0m3-286h0m0 510h0m2-65h0m1-354h0m1 138h0m4-140h0m1 273h0m0 177h0m3-496h0m2-125h0m0 14h0m0 99h0m0 327h0m2-167h0m1-73h0m2 283h0m1-507h0m0 282h0m2-271h0m0 129h0m1 249h0m1-345h0m1 465h0m1-203h0m1-237h0"/><path stroke="#0080ff" d="M201 516h0m14-196h0m1-15h0m1 244h0m6-260h0m3 212h0m3-447h0m0 294h0m1-11h0m9-247h0"/><path stroke="#ff2d00" d="M197 471h0m0 223h0m1-495h0m0 201h0m2 173h0m1 69h0m3-621h0m0 561h0m10-144h0m4-21h0m13-347h0m1 104h0m3 166h0m6 186h0"/><path stroke="#ff9400" d="M200 90h0m2 339h0m3 162h0m1-438h0m1-99h0m1 234h0m6 366h0m1-70h0m1-180h0m1-203h0m1 228h0m3-356h0m3 405h0m1-76h0m2 186h0m2-417h0m1 111h0m2-83h0m3 447h0m4-319h0m1-227h0m1 231h0m0 189h0"/><path stroke="#0045ff" d="M193 546h0m21-417h0m1 569h0m6-655h0m10 29h0m4 91h0m4 260h0m3-254h0"/><path stroke="#39ffbe" d="M194 315h0m6 108h0m0 213h0m1-291h0m1-228h0m1 387h0m8 89h0m4-234h0m1 195h0m6-247h0m1 150h0m1 111h0m2-112h0m5-341h0m1 254h0m1 294h0m4-63h0m4-470h0m0 27h0"/><path stroke="#840000" d="M193 42h0m1 150h0m0 129h0m4-168h0m0 55h0m0 195h0m1 198h0m1-478h0m1 468h0m0 60h0m1-618h0m0 219h0m0 30h0m0 69h0m0 279h0m1-255h0m1 0h0m0 321h0m1-654h0m1 594h0m1-366h0m0 39h0m0 129h0m1-219h0m0 156h0m1-186h0m1-121h0m0 3h0m0 136h0m0 170h0m1-339h0m0 120h0m0 111h0m0 18h0m0 156h0m0 156h0m0 87h0m2-362h0m0 312h0m1-573h0m0 9h0m0 579h0m1-613h0m0 123h0m0 51h0m0 237h0m1-387h0m0 459h0m1-350h0m0 105h0m0 287h0m1-50h0m1 75h0m1-546h0m0 30h0m0 531h0m2-377h0m0 444h0m2-657h0m0 429h0m0 39h0m0 183h0m1-510h0m1-121h0m0 156h0m0 282h0m1-219h0m2 91h0m0 278h0m1-41h0m1-540h0m0 474h0m1-28h0m0 18h0m1-300h0m0 396h0m1-473h0m0 291h0m0 44h0m0 160h0m0 27h0m0 12h0m1-615h0m0 87h0m1 275h0m0 249h0m2-495h0m0 18h0m1 18h0m1 450h0m1-83h0m0 51h0m0 72h0m1-657h0m0 93h0"/><path stroke="#0080ff" d="M193 69h0m6 258h0m0 27h0m7 192h0m5-166h0m0 33h0m4-336h0m4 367h0m1-378h0m2 532h0m3-516h0m9 36h0m5 320h0"/><path stroke="#ffcc00" d="M194 519h0m5 25h0m2 29h0m1-75h0m1-96h0m0 24h0m3-258h0m5-37h0m7 55h0m0 78h0m1-90h0m3 262h0m7-166h0m3-140h0m0 38h0m2 130h0m0 234h0m1 153h0m4-373h0m1-26h0"/><path stroke="#0000df" d="M196 435h0m0 69h0m1-5h0m1-54h0m13-227h0m13-181h0m2 563h0m2-57h0m3 85h0m3-18h0m5 23h0"/><path stroke="#ff6000" d="M192 561h0m1 84h0m1-282h0m2 111h0m0 117h0m2-576h0m2 231h0m3 255h0m8-289h0m3 184h0m1-208h0m5-23h0m0 186h0m1 226h0m3-207h0m1 81h0m4-409h0m1 43h0m2-43h0m5 624h0m1-279h0m2-231h0"/><path stroke="#000084" d="M192 174h0m1 183h0m2 99h0m0 60h0m0 150h0m1-351h0m0 42h0m0 310h0m0 14h0m1-75h0m1-527h0m0 18h0m0 492h0m1-442h0m2 342h0m0 180h0m1-219h0m1 243h0m1-441h0m0 261h0m1 63h0m0 24h0m1-369h0m0 135h0m1-246h0m0 411h0m2-516h0m0 486h0m6 23h0m0 9h0m1 150h0m1-182h0m1-369h0m4 10h0m0 249h0m0 75h0m0 24h0m0 129h0m1-522h0m0 78h0m3-130h0m1 57h0m1 420h0m1-219h0m0 21h0m1-47h0m1-72h0m0 159h0m0 273h0m1-529h0m0 19h0m0 254h0m1-168h0m1-17h0m2 308h0m0 165h0m1-639h0m0 522h0m1-513h0m0 642h0m1-639h0m0 162h0m0 6h0m1-36h0m1 10h0m0 141h0m0 342h0m0 23h0m1-629h0"/><path stroke="#00b4ff" d="M198 214h0m0 69h0m8 230h0m14-324h0m2-149h0m0 192h0m4-115h0m8-17h0m0 183h0m0 261h0m1 99h0m5-504h0"/><path stroke="#df0000" d="M196 219h0m5-114h0m2 465h0m1-78h0m2-105h0m4 108h0m1-325h0m6 223h0m1 294h0m1-384h0m3-122h0m5 272h0m5 228h0"/><path stroke="#ff2d00" d="M193 384h0m3 232h0m2-378h0m4-166h0m0 150h0m4-171h0m7 6h0m2 401h0m0 162h0m2-254h0m1-135h0m16 130h0m1-120h0m1 305h0m3-39h0m2-155h0"/><path stroke="#90ff66" d="M193 549h0m1-462h0m1 135h0m0 204h0m1 12h0m3-324h0m1 465h0m2-189h0m3-294h0m0 339h0m2 69h0m1-408h0m2 515h0m0 52h0m1-481h0m0 93h0m0 162h0m0 9h0m3-354h0m0 385h0m1-13h0m1-111h0m2 115h0m2-144h0m1-152h0m1-6h0m1 198h0m1-234h0m0 210h0m2-40h0m0 114h0m3-261h0m0 54h0m2-47h0m1 185h0m3 210h0m2-30h0m3-404h0m0 447h0m2 24h0m0 66h0"/><path stroke="#000dff" d="M204 18h0m7 191h0m8 391h0m1-99h0m2-479h0m2 573h0m3-547h0m4 430h0m0 89h0m8-105h0"/><path stroke="#ff9400" d="M193 336h0m2 117h0m1-279h0m4 174h0m2-312h0m0 522h0m5-30h0m0 30h0m3 69h0m5-346h0m8-13h0m9 257h0m2-182h0m3 272h0m1-75h0m3-248h0m0 66h0m0 114h0"/><path stroke="#eeff09" d="M194 618h0m2-528h0m1 360h0m1-308h0m0 444h0m2-265h0m0 138h0m0 171h0m1-492h0m1-27h0m3 423h0m0 57h0m1-309h0m0 99h0m1 75h0m2-120h0m0 201h0m0 60h0m2-199h0m0 63h0m6-410h0m0 48h0m1 261h0m1 36h0m1-120h0m1 15h0m1 271h0m2-114h0m1-436h0m1 114h0m0 570h0m1-207h0m1-45h0m1-129h0m2 241h0m1-322h0m1 150h0m1 22h0m0 81h0m5-130h0m2 238h0"/><path stroke="#39ffbe" d="M197 64h0m7 83h0m7 512h0m4-438h0m3 391h0m4-293h0m2 90h0m5-322h0m0 438h0m0 54h0m1 28h0m5-18h0m5-474h0m1 246h0"/><path stroke="#c1ff36" d="M193 600h0m3-222h0m7-279h0m2 432h0m1 81h0m2 6h0m1-48h0m0 81h0m1-576h0m1 533h0m0 81h0m2-68h0m1-561h0m0 360h0m1-28h0m1-54h0m6-13h0m1-63h0m3 32h0m0 252h0m3-282h0m1 274h0m2-502h0m0 484h0m1-358h0m1 109h0m0 81h0m3-292h0m0 21h0m0 123h0m2-21h0m1-48h0m1 31h0m0 480h0"/><path stroke="#66ff90" d="M195 189h0m7 246h0m0 159h0m0 96h0m5-411h0m3-220h0m1 531h0m0 48h0m4-594h0m4 112h0m4 415h0m1-357h0m2 302h0m2-204h0m0 63h0m0 78h0m5-228h0m1 121h0m1-99h0m6 219h0"/><path stroke="#0045ff" d="M193 351h0m3-300h0m1 322h0m7 194h0m7-229h0m0 285h0m2-431h0m1 51h0m12 276h0m4-47h0m1-222h0m2 278h0m1-326h0m7-165h0m0 201h0"/><path stroke="#09f0ee" d="M200 303h0m2-72h0m7-111h0m6 120h0m2 258h0m2-216h0m4 166h0m4 119h0m1 51h0m8-219h0m1-348h0m0 540h0"/><path stroke="#09f0ee" d="M193 564h0m3-279h0m3 66h0m11 234h0m2-510h0m2 461h0m10-400h0m3 17h0m1 366h0m1-248h0m0 398h0m3-315h0m1 78h0m1-288h0m4 441h0"/><path stroke="#0045ff" d="M193 165h0m3 12h0m9 93h0m4 237h0m0 81h0m3-412h0m10 11h0m1-84h0m0 477h0m1-267h0m4 20h0m1-312h0m1 163h0m0 192h0m4 129h0m3-190h0m2-186h0"/><path stroke="#ffcc00" d="M196 60h0m0 354h0m1-278h0m0 486h0m7-238h0m2 168h0m3-276h0m1 191h0m4 178h0m2-220h0m4-191h0m3 340h0m1-366h0m0 438h0m2-340h0m5-128h0m1-91h0m1 459h0m5-18h0m1-363h0m1 354h0m1-299h0m0 75h0"/><path stroke="#000084" d="M192 360h0m1 54h0m0 207h0m2-192h0m2-189h0m2-195h0m0 12h0m0 444h0m3-327h0m1-144h0m1 450h0m1-78h0m0 294h0m1-624h0m1-9h0m0 198h0m1 81h0m1-105h0m0 255h0m2-469h0m0 51h0m0 270h0m0 60h0m2-272h0m1-105h0m0 159h0m3 102h0m0 3h0m0 105h0m5-149h0m0 300h0m2-159h0m3 89h0m1-282h0m0 111h0m1-282h0m0 192h0m0 102h0m1 193h0m0 56h0m1-371h0m0 51h0m1 155h0m1-303h0m0 502h0m1-339h0m1-192h0m2 371h0m0 30h0m1-324h0m2 324h0m1-335h0m0 228h0m0 219h0"/><path stroke="#df0000" d="M197 67h0m0 252h0m1 21h0m3 131h0m12-321h0m6-105h0m11 358h0m1-255h0m0 104h0m1 21h0m2 103h0m2 96h0m3 179h0m2-392h0"/><path stroke="#90ff66" d="M195 114h0m0 141h0m2-161h0m2 432h0m0 8h0m1-297h0m2-102h0m0 492h0m2-561h0m0 498h0m1-429h0m0 309h0m1 63h0m2-72h0m1-141h0m0 129h0m7 65h0m1-203h0m1-255h0m2 492h0m1-389h0m1 507h0m1-282h0m3-229h0m1 156h0m1 387h0m4-417h0m1 165h0m1-167h0m6 282h0m2-429h0"/><path stroke="#c1ff36" d="M193 504h0m4-314h0m1 186h0m0 261h0m2-163h0m1-102h0m1-39h0m2-300h0m1 90h0m1 81h0m1 360h0m3-337h0m0 181h0m4-174h0m1 359h0m0 75h0m1-141h0m6-250h0m0 195h0m2 162h0m0 24h0m0 3h0m3-223h0m1 45h0m1-297h0m2-104h0m1-22h0m4 363h0m3 180h0m1-80h0m2-420h0"/><path stroke="#ff2d00" d="M193 102h0m0 6h0m4 526h0m4-385h0m2 276h0m3 93h0m4-576h0m1 320h0m4 93h0m9-166h0m2 308h0m1-138h0m0 126h0m4-569h0m3 3h0m6 578h0m1-203h0"/><path stroke="#000dff" d="M200 285h0m4-78h0m2 459h0m4-177h0m5 62h0m1-342h0m8 50h0m1 249h0m7-418h0"/><path stroke="#0080ff" d="M197 163h0m1-12h0m2 515h0m8-312h0m3 173h0m2-380h0m4 252h0m3 84h0m2-74h0m3-181h0m4 201h0m0 36h0m7-222h0"/><path stroke="#ff9400" d="M193 60h0m0 468h0m1-291h0m0 3h0m1 273h0m2-200h0m0 111h0m0 150h0m2 78h0m1-568h0m0 567h0m2-330h0m3 57h0m0 267h0m2-294h0m1-252h0m0 459h0m1 9h0m2-394h0m0 159h0m4 282h0m1-384h0m2-53h0m2-57h0m2 232h0m0 216h0m1-174h0m1-318h0m0 252h0m3-133h0m2-111h0m1 241h0m0 156h0m2-322h0m1 342h0m1-137h0m3-205h0m0 351h0"/><path stroke="#0000df" d="M198 22h0m7 119h0m14 144h0m1-210h0m2 538h0m4 8h0m2-372h0m1 249h0m0 33h0m2-32h0m4 183h0m5-397h0m0 78h0m2-65h0m0 129h0"/><path stroke="#00b4ff" d="M195 291h0m12 54h0m3-300h0m5 470h0m7-439h0m2 360h0m1-385h0m1 339h0m8-254h0m7-51h0"/><path stroke="#39ffbe" d="M196 15h0m0 549h0m2-170h0m1-52h0m3-177h0m1 369h0m16-483h0m1 186h0m7 456h0m10-114h0m1-495h0m1 525h0m2-563h0m1-27h0"/><path stroke="#ff6000" d="M193 285h0m0 300h0m3-288h0m3 252h0m1-168h0m2 96h0m3-216h0m1 279h0m0 21h0m3-201h0m2 269h0m4-222h0m3-299h0m0 435h0m1-57h0m3-365h0m1 117h0m6 312h0m1 114h0m7-652h0m0 360h0m4 142h0"/><path stroke="#eeff09" d="M193 348h0m0 210h0m3-495h0m0 406h0m2 72h0m0 78h0m1-337h0m0 249h0m1-348h0m4 447h0m0 30h0m1-321h0m1 177h0m1-354h0m4 227h0m0 198h0m0 15h0m0 96h0m4-462h0m5 118h0m3 211h0m4 119h0m2-39h0m0 52h0m2-240h0m2-442h0m4 186h0m2 165h0m1 193h0m1-543h0m0 570h0"/><path stroke="#840000" d="M193 15h0m0 63h0m0 477h0m2-402h0m1-18h0m0 345h0m0 204h0m1-383h0m1-141h0m0 531h0m1-532h0m0 102h0m0 132h0m0 150h0m1-501h0m0 78h0m0 480h0m2-423h0m0 459h0m1-591h0m0 69h0m0 144h0m0 285h0m1-207h0m0 111h0m1-207h0m1 402h0m1-342h0m2 183h0m0 108h0m1-525h0m0 129h0m0 38h0m0 393h0m1-171h0m3-138h0m0 12h0m1 84h0m0 66h0m0 43h0m1-172h0m0 231h0m1-500h0m0 477h0m1-435h0m0 147h0m1 201h0m0 6h0m1 9h0m1 141h0m2-200h0m0 210h0m1-60h0m0 42h0m2-292h0m1-252h0m0 9h0m0 123h0m0 30h0m0 438h0m1-441h0m0 198h0m0 114h0m1 108h0m1-603h0m0 84h0m1 127h0m0 312h0m1-381h0m0 56h0m1 189h0m0 69h0m1-104h0m0 39h0m0 54h0m1 66h0m0 105h0m1-544h0m0 385h0m1-367h0m0 129h0m0 96h0m0 51h0m0 126h0m0 66h0m0 18h0m1-210h0m0 39h0m1-198h0m0 237h0m0 171h0m1-507h0m0 229h0m0 291h0m0 15h0m1-96h0m0 84h0m1-618h0m0 66h0"/><path stroke="#66ff90" d="M193 237h0m2-30h0m1-9h0m0 441h0m2-533h0m2-40h0m2 54h0m0 318h0m2 180h0m2-459h0m3 27h0m1-157h0m0 135h0m4 279h0m2 96h0m0 123h0m3-44h0m3-566h0m1 486h0m6-349h0m9 255h0m1 69h0m1-102h0"/><path stroke="#0000df" d="M196 354h0m6-192h0m0 162h0m2-243h0m13 294h0m7-122h0m6 300h0m3-97h0m4-174h0m2 165h0m0 21h0m1-152h0"/><path stroke="#39ffbe" d="M193 198h0m7 12h0m4 54h0m3-24h0m4-106h0m0 370h0m0 14h0m2-173h0m3 167h0m2-485h0m0 45h0m0 45h0m5-14h0m5 458h0m0 135h0m1-306h0m6-362h0m3 269h0m1-72h0m1-185h0m1-15h0"/><path stroke="#000dff" d="M193 129h0m0 339h0m4-309h0m5 372h0m3 9h0m3 105h0m5-243h0m1 63h0m1-424h0m3 148h0m0 168h0m4 193h0m6 140h0m2-482h0m9 233h0"/><path stroke="#90ff66" d="M195 33h0m1 351h0m0 15h0m0 33h0m3-297h0m0 303h0m1-345h0m0 579h0m2-438h0m0 9h0m0 303h0m1-228h0m1 168h0m4-144h0m1-126h0m0 264h0m2-202h0m0 384h0m2-269h0m2-277h0m1 153h0m0 330h0m2-443h0m0 282h0m1-426h0m7 9h0m0 291h0m0 33h0m0 54h0m1-111h0m1-120h0m1 369h0m2-108h0m2-102h0m0 99h0m3-237h0m0 267h0m1-129h0m1 336h0m1-132h0m2-422h0"/><path stroke="#eeff09" d="M193 294h0m0 84h0m2 189h0m0 51h0m1-210h0m1-134h0m0 159h0m0 138h0m1-339h0m1-70h0m0 57h0m2 135h0m1-207h0m0 270h0m2-225h0m2 345h0m3-294h0m2 11h0m0 387h0m2-332h0m0 12h0m2-226h0m0 510h0m2-185h0m0 264h0m7-131h0m2 92h0m1-93h0m1-315h0m2-140h0m0 528h0m1-513h0m0 477h0m1-256h0m0 210h0m2-365h0m0 501h0m1-75h0m4 80h0m0 12h0m1-452h0m1-15h0m0 279h0"/><path stroke="#00b4ff" d="M198 85h0m1 182h0m1 387h0m1-579h0m1 33h0m2-57h0m0 306h0m1 165h0m0 6h0m2 48h0m3-411h0m4 93h0m2 158h0m2-311h0m2 528h0m2-128h0m6 68h0m1-321h0m2-107h0m2-84h0m1 513h0m6-270h0m2-30h0"/><path stroke="#0080ff" d="M193 537h0m1-54h0m4-371h0m0 156h0m5-85h0m8 347h0m4-456h0m0 549h0m7-508h0m4 176h0m13 39h0m1-176h0m1 117h0m1 360h0"/><path stroke="#09f0ee" d="M193 273h0m5 292h0m4-439h0m2 111h0m6 203h0m0 174h0m2-312h0m5-215h0m3 345h0m0 189h0m7-93h0m5-411h0m0 66h0m2 451h0m0 36h0m3-220h0m1-273h0"/><path stroke="#ff2d00" d="M193 573h0m5-242h0m2-97h0m1 318h0m2-528h0m0 192h0m2-138h0m0 420h0m5-433h0m0 513h0m1-327h0m3 31h0m10 10h0m3 188h0m1-342h0m0 549h0m1-138h0m3-225h0m1 157h0m7-7h0m1-302h0"/><path stroke="#66ff90" d="M196 522h0m0 36h0m2 67h0m2-208h0m1 276h0m1-60h0m0 21h0m2-84h0m1-147h0m4-405h0m0 381h0m4-333h0m0 87h0m1 27h0m2-70h0m1 493h0m2-453h0m2 172h0m1-303h0m1 138h0m9 452h0m1-330h0m1 88h0m2 194h0"/><path stroke="#ffcc00" d="M192 405h0m3-225h0m1 159h0m2-51h0m3 72h0m1-279h0m0 351h0m0 48h0m1-165h0m1 138h0m5-162h0m2 44h0m2-290h0m3 395h0m3-245h0m0 42h0m4-170h0m0 396h0m1 165h0m2-523h0m4 496h0m6-340h0m1-162h0m0 180h0m0 12h0m1 18h0m1 267h0m1-501h0"/><path stroke="#ff6000" d="M202 687h0m2 0h0m2-252h0m3-108h0m5-72h0m1-136h0m0 105h0m0 147h0m2-29h0m1-318h0m2 567h0m2-98h0m1-474h0m0 435h0m4-400h0m3 295h0m6 71h0m3-12h0"/><path stroke="#840000" d="M192 72h0m1 9h0m0 39h0m0 93h0m0 312h0m2-120h0m0 60h0m1-411h0m0 138h0m0 72h0m1 157h0m1-84h0m1 146h0m0 144h0m1-555h0m0 60h0m0 453h0m3-432h0m0 348h0m1 177h0m1-432h0m0 204h0m4-201h0m0 245h0m1-236h0m0 14h0m0 372h0m1-630h0m0 252h0m0 126h0m0 153h0m0 15h0m0 117h0m1-432h0m0 370h0m1-396h0m0 33h0m2 125h0m0 312h0m1-582h0m0 183h0m0 33h0m0 369h0m1-617h0m0 564h0m1-351h0m0 279h0m1-510h0m0 141h0m1 144h0m1-294h0m0 211h0m1 36h0m0 36h0m0 291h0m0 72h0m1-396h0m0 75h0m0 147h0m0 123h0m1-570h0m0 42h0m0 54h0m0 9h0m1 317h0m2-396h0m0 459h0m1 90h0m1-294h0m0 309h0m0 15h0m1-392h0m0 135h0m1-24h0m0 69h0m1-310h0m0 120h0m0 66h0m1 312h0m0 4h0m1-642h0m0 75h0m0 432h0m1-202h0m0 88h0m2-367h0m0 582h0m1-348h0m0 231h0m1-300h0m0 75h0m0 66h0m0 231h0m1-189h0m0 10h0m1 93h0m0 39h0m0 78h0m1-537h0m0 138h0m0 144h0m0 267h0"/><path stroke="#c1ff36" d="M193 678h0m2-438h0m1 12h0m1 100h0m1-319h0m0 10h0m0 273h0m1 53h0m0 144h0m3-144h0m3 303h0m1-516h0m4 161h0m0 219h0m6 138h0m1-407h0m0 213h0m0 162h0m1-21h0m0 54h0m1-6h0m0 27h0m1-99h0m0 15h0m2-584h0m0 345h0m0 72h0m7-430h0m2 487h0m1-418h0m2-17h0m0 519h0m1 6h0m5-541h0m0 226h0m1-225h0"/><path stroke="#df0000" d="M203 129h0m8 491h0m3-167h0m2 89h0m1-494h0m5 289h0m1 42h0m6 26h0m0 228h0m1-194h0m2 227h0m7-585h0m2 349h0"/><path stroke="#000084" d="M193 693h0m3-351h0m0 228h0m2-41h0m1 129h0m1-202h0m0 159h0m1-78h0m0 126h0m1-75h0m0 9h0m0 42h0m1-450h0m2-117h0m0 291h0m1-3h0m0 213h0m0 15h0m3-369h0m0 60h0m0 387h0m2-619h0m0 372h0m0 39h0m3-419h0m0 207h0m0 165h0m0 78h0m1-94h0m0 243h0m1-51h0m2-518h0m0 276h0m1-312h0m0 57h0m0 138h0m0 51h0m0 84h0m0 126h0m1-426h0m0 267h0m2-170h0m2-138h0m0 279h0m0 15h0m0 186h0m0 30h0m2-358h0m1 60h0m0 438h0m1-261h0m0 24h0m1-408h0m0 420h0m1-419h0m0 33h0m1 558h0m1-211h0m2-314h0m0 375h0m1 48h0m0 123h0m2-259h0m2-351h0m0 27h0m0 348h0m0 222h0m1 43h0m1-600h0m0 621h0m1-141h0"/><path stroke="#ff9400" d="M202 381h0m0 42h0m0 30h0m0 159h0m3-57h0m2-228h0m2 195h0m5-471h0m1 452h0m1-357h0m4 427h0m1-483h0m5 150h0m0 129h0m3 117h0m1-299h0m0 227h0m3 261h0m1-599h0m0 135h0m1-147h0m1 200h0m2 213h0m1-156h0m1 216h0m1-191h0"/><path stroke="#0045ff" d="M195 669h0m7-333h0m7-39h0m3-103h0m4 486h0m7-397h0m9 65h0m3-197h0m3-112h0m0 117h0"/><path stroke="#ff9400" d="M243 322h0m1-129h0m6 41h0m2 163h0m1 186h0m2-352h0m1 263h0m1-348h0m0 84h0m0 51h0m3-71h0m4 471h0m5-183h0m2 23h0m0 93h0m2-576h0m0 150h0m0 480h0m2-450h0m3-57h0m0 465h0m2-119h0m2 60h0m4-308h0m1 345h0m4-436h0m0 462h0m1-465h0"/><path stroke="#ffcc00" d="M244 178h0m2-132h0m0 387h0m0 60h0m0 69h0m2 24h0m3-475h0m4 165h0m3-162h0m1 138h0m0 321h0m5-486h0m1 513h0m5-285h0m0 315h0m2-292h0m0 93h0m0 147h0m1-66h0m1-261h0m3-170h0m2 269h0m1-185h0m0 24h0m0 60h0m2-18h0m0 285h0m2-297h0m2 34h0m0 258h0m2-291h0"/><path stroke="#0045ff" d="M249 22h0m9 131h0m4 522h0m1-639h0m0 297h0m1 252h0m2 69h0m6-430h0m4-48h0m6 271h0m4-242h0m0 24h0m6 365h0"/><path stroke="#90ff66" d="M246 85h0m0 36h0m0 540h0m4-541h0m0 450h0m6-460h0m2-56h0m0 68h0m1 133h0m2-240h0m1 138h0m1 336h0m1-375h0m2-60h0m0 330h0m6-4h0m1-267h0m1 231h0m2 211h0m3-214h0m2-143h0m1 18h0m0 183h0m2 246h0m2-596h0m4 623h0m1-561h0m0 396h0"/><path stroke="#000dff" d="M246 232h0m0 423h0m7-600h0m0 156h0m5-160h0m4 411h0m13-328h0m2 241h0m3 243h0m4-447h0m4 373h0m0 0h0m2-397h0m2 324h0"/><path stroke="#0080ff" d="M244 550h0m4-105h0m5-411h0m2 593h0m5-510h0m2 366h0m0 117h0m1-327h0m2 6h0m0 240h0m7-43h0m4-344h0m3 515h0m1-122h0m1 66h0m1-441h0m1 351h0m1 183h0m1-587h0m0 350h0m2 244h0m4-67h0"/><path stroke="#c1ff36" d="M242 553h0m1-204h0m1 228h0m6 17h0m3-164h0m1-229h0m1-121h0m0 100h0m1 287h0m3-131h0m3 117h0m4-351h0m4 192h0m0 324h0m2 41h0m1-219h0m1-60h0m1 66h0m0 12h0m0 30h0m2-242h0m3-166h0m0 574h0m1-216h0m1-405h0m2 369h0m6 183h0m1 36h0"/><path stroke="#09f0ee" d="M244 55h0m3 513h0m1-69h0m0 27h0m2-439h0m3 268h0m3-338h0m2 141h0m1-116h0m0 3h0m0 393h0m1 81h0m2-6h0m1-6h0m1-231h0m0 264h0m7 140h0m1-180h0m5 67h0m4-9h0m4-63h0m4-386h0m1 506h0m1-228h0"/><path stroke="#840000" d="M242 466h0m0 186h0m2-66h0m1-450h0m0 255h0m1-333h0m0 522h0m1-498h0m3-46h0m0 372h0m1 96h0m1-23h0m1-109h0m1-183h0m0 7h0m0 398h0m1-411h0m1 398h0m1-105h0m0 36h0m1-146h0m0 186h0m1-486h0m0 225h0m0 207h0m1-138h0m1-171h0m0 99h0m0 48h0m1-321h0m0 24h0m0 168h0m1 189h0m0 15h0m0 153h0m1-96h0m1-48h0m0 159h0m1-489h0m0 366h0m0 189h0m1-564h0m0 489h0m2-237h0m1-27h0m0 120h0m1-70h0m1-273h0m0 24h0m0 156h0m0 108h0m1-252h0m0 333h0m0 87h0m1-195h0m0 18h0m0 321h0m1-519h0m1 25h0m1-36h0m0 357h0m0 105h0m1-181h0m1-378h0m0 39h0m0 189h0m0 291h0m0 69h0m1-488h0m0 77h0m0 346h0m1-564h0m0 78h0m0 348h0m0 9h0m0 240h0m1-315h0m0 36h0m0 3h0m0 198h0m1-246h0m0 156h0m0 33h0m1-533h0m0 329h0m0 72h0m0 162h0m0 39h0m1-515h0m0 60h0m0 471h0m0 27h0m2-543h0m0 30h0m0 438h0m0 3h0m1-216h0m0 3h0m1-366h0m0 57h0m0 59h0m1 21h0m0 60h0m0 207h0m0 132h0m0 45h0m1-522h0m1 309h0"/><path stroke="#66ff90" d="M244 346h0m2 294h0m2-102h0m7-250h0m1 35h0m1 309h0m1-47h0m4-186h0m1-33h0m3-339h0m4 461h0m3-216h0m5 324h0m4-476h0m0 6h0m4 337h0m4-22h0"/><path stroke="#000084" d="M244 175h0m1 129h0m1 351h0m1-585h0m0 627h0m1-603h0m0 159h0m0 420h0m2-517h0m0 309h0m3-182h0m0 362h0m1-396h0m1-219h0m0 9h0m0 189h0m0 291h0m1-508h0m0 493h0m1-300h0m0 374h0m0 57h0m0 63h0m1-512h0m0 54h0m1-111h0m0 18h0m0 540h0m1-36h0m1-519h0m1 480h0m1-483h0m0 192h0m0 288h0m1 48h0m2-195h0m0 198h0m4-642h0m0 147h0m0 102h0m0 108h0m0 228h0m1-118h0m1-42h0m0 60h0m1-180h0m1 288h0m2-470h0m1 81h0m2 152h0m0 147h0m1-467h0m1 138h0m1 234h0m0 105h0m1-492h0m1 36h0m0 27h0m0 414h0m1-374h0m1-99h0m1 372h0m0 120h0m1-471h0m0 408h0m0 60h0m1-411h0m0 108h0m1-214h0m0 195h0m0 310h0m0 158h0m1-456h0m0 312h0m1-159h0"/><path stroke="#df0000" d="M243 31h0m2 522h0m1-447h0m4 278h0m8 219h0m1-555h0m2 27h0m1 531h0m3-504h0m4 459h0m2-526h0m6 151h0m0 84h0m5-186h0m0 117h0m2 492h0m3-224h0m1-201h0"/><path stroke="#00b4ff" d="M243 238h0m1 447h0m1-357h0m2-9h0m1 225h0m10-319h0m1 24h0m2-153h0m2-45h0m3 495h0m6-139h0m0 75h0m1-246h0m0 405h0m1-384h0m3 31h0m1-202h0m1 603h0m1-380h0m1 195h0m1-444h0m2 582h0m1-77h0m3-18h0m2-349h0"/><path stroke="#ff6000" d="M244 364h0m5-25h0m3-239h0m2 558h0m2 31h0m1-393h0m2-95h0m2 18h0m3 114h0m7 224h0m2-447h0m1-81h0m0 30h0m0 351h0m1-168h0m1 283h0m3 170h0m3-527h0m0 216h0m8-342h0m0 69h0m0 90h0m1-75h0"/><path stroke="#0000df" d="M247 652h0m1 30h0m4 12h0m4-377h0m4 331h0m9-84h0m5-190h0m1-51h0m4 75h0m5-109h0m1 24h0m1-117h0m2-63h0m2 303h0m0 212h0"/><path stroke="#eeff09" d="M243 610h0m1 87h0m2-429h0m1 189h0m5-366h0m1 48h0m1 239h0m0 160h0m1-145h0m4 177h0m3-429h0m0 126h0m7 384h0m7-501h0m0 261h0m2-357h0m2-18h0m1 147h0m1 81h0m2 336h0m3-518h0m1 540h0m3-193h0"/><path stroke="#39ffbe" d="M242 409h0m1 225h0m7-106h0m1-240h0m3 354h0m5-33h0m6-459h0m4 441h0m4-175h0m0 192h0m7-122h0m8-104h0m1 33h0"/><path stroke="#ff2d00" d="M245 118h0m0 396h0m2 135h0m7-274h0m1 102h0m1-322h0m3 139h0m7-261h0m5-10h0m1 81h0m0 243h0m2-120h0m0 303h0m1-93h0m2-89h0m2-190h0m0 57h0m4 304h0m1 21h0m1 61h0"/><path stroke="#ff9400" d="M244 220h0m1 177h0m8 54h0m1 56h0m5 48h0m2-81h0m1-450h0m2 672h0m7-313h0m3-123h0m14 62h0"/><path stroke="#ffcc00" d="M243 643h0m3-156h0m0 105h0m0 15h0m1-246h0m3-115h0m0 207h0m1-117h0m0 297h0m2 43h0m3-26h0m1-90h0m3 19h0m1-378h0m0 330h0m2-114h0m0 195h0m2-234h0m1-153h0m1 399h0m5-412h0m10 421h0m2-216h0m3 133h0m3-187h0m2 282h0"/><path stroke="#000084" d="M242 52h0m1 222h0m1-141h0m0 168h0m0 363h0m1-537h0m0 567h0m1-276h0m1-183h0m0 213h0m1-357h0m0 174h0m0 99h0m0 54h0m0 219h0m2-268h0m0 12h0m1 42h0m0 192h0m2-338h0m0 36h0m1-109h0m1-57h0m0 3h0m0 234h0m0 237h0m1-271h0m1-158h0m0 71h0m1-194h0m0 452h0m2-164h0m1 150h0m1-69h0m0 153h0m1-312h0m0 60h0m0 27h0m0 24h0m0 57h0m1-213h0m0 354h0m1-414h0m1 174h0m0 162h0m0 99h0m3-66h0m2-298h0m0 21h0m1 201h0m0 69h0m1-435h0m0 75h0m0 414h0m2-537h0m1 10h0m0 264h0m0 273h0m0 18h0m3-270h0m1-282h0m0 417h0m0 36h0m1 54h0m1-27h0m2-147h0m1-2h0m0 144h0m0 114h0m2-153h0m1-396h0m0 336h0m0 30h0m1-420h0m0 117h0m0 87h0m0 300h0m1-25h0m1-516h0"/><path stroke="#df0000" d="M243 280h0m3 393h0m3-72h0m2 63h0m1-150h0m8-244h0m4-174h0m8-52h0m2 597h0m5-621h0m1 256h0m4 318h0m1-218h0m2-336h0"/><path stroke="#09f0ee" d="M247 559h0m12-115h0m2 90h0m3-150h0m0 54h0m8-10h0m1-60h0m1 327h0m5-21h0m3-608h0m0 606h0m3-497h0m2 9h0m0 3h0"/><path stroke="#ff6000" d="M244 172h0m2 372h0m4-391h0m5 300h0m3 180h0m4-198h0m3 39h0m9-13h0m0 135h0m1-519h0m0 252h0m2-209h0m0 510h0m10 16h0m2-510h0m0 24h0m0 30h0m1 416h0m2 21h0"/><path stroke="#90ff66" d="M246 226h0m2 114h0m3 116h0m1-332h0m3 371h0m0 33h0m4-294h0m0 48h0m4-240h0m0 183h0m0 24h0m1 300h0m2-483h0m1 129h0m2-63h0m2 377h0m1-324h0m5-17h0m0 258h0m7-233h0m0 122h0m1-182h0m0 485h0m1-110h0m0 60h0m1-405h0m0 303h0m0 63h0m1 3h0m2-427h0m0 477h0m2-444h0"/><path stroke="#0045ff" d="M244 625h0m2-390h0m17-70h0m12 113h0m6 277h0m1-120h0"/><path stroke="#c1ff36" d="M242 16h0m1 390h0m2-375h0m1 33h0m6 66h0m2 192h0m2 7h0m0 285h0m1-237h0m0 294h0m4-476h0m1 342h0m1-318h0m0 99h0m0 156h0m8-145h0m0 321h0m3-141h0m3-101h0m2-142h0m2-215h0m1 492h0m2-117h0m1-38h0m3 150h0"/><path stroke="#00b4ff" d="M249 93h0m1 102h0m3-35h0m3-98h0m1 108h0m2 391h0m1-168h0m2 297h0m1-288h0m0 114h0m3-153h0m2 15h0m10 251h0m3-458h0m1-78h0m1-60h0m4 550h0"/><path stroke="#66ff90" d="M248 388h0m0 234h0m4-156h0m2-181h0m3-16h0m1 385h0m1-48h0m4-231h0m3-351h0m3 546h0m1-147h0m2 128h0m1-54h0m2-216h0m2-158h0m2 47h0m3 199h0m0 114h0m2-317h0m0 486h0m3-426h0m0 423h0m2-618h0m1-7h0m1 45h0"/><path stroke="#840000" d="M243 139h0m0 405h0m1-291h0m1-174h0m0 216h0m0 45h0m0 285h0m1-354h0m0 333h0m0 81h0m1-540h0m0 132h0m1-243h0m0 15h0m0 267h0m2-25h0m0 99h0m0 294h0m0 12h0m2-335h0m1-141h0m0 42h0m0 195h0m0 150h0m0 66h0m2-460h0m1-73h0m0 9h0m0 60h0m0 102h0m0 90h0m0 126h0m0 6h0m1-483h0m0 78h0m0 69h0m0 48h0m0 306h0m0 90h0m1-525h0m1 265h0m1-111h0m2 225h0m0 72h0m1-483h0m0 180h0m1 51h0m0 363h0m1-660h0m0 381h0m0 129h0m1-141h0m1-336h0m2 84h0m0 195h0m0 54h0m0 30h0m0 105h0m0 96h0m1-207h0m0 219h0m1-571h0m0 213h0m0 27h0m1-102h0m0 24h0m0 354h0m1-555h0m0 585h0m1-588h0m0 33h0m0 336h0m1-351h0m1 421h0m0 26h0m0 55h0m2-490h0m0 46h0m0 113h0m0 288h0m0 108h0m1-474h0m0 22h0m0 44h0m1-161h0m0 237h0m0 65h0m0 162h0m0 84h0m0 57h0m1-410h0m1 213h0m0 237h0m1-597h0m1 492h0m1-8h0m1-75h0m0 72h0m2-522h0m0 48h0m0 21h0m1-9h0m0 23h0m0 91h0m0 293h0m1-402h0m0 336h0m0 252h0m1-309h0m0 258h0m0 15h0m1-237h0"/><path stroke="#0000df" d="M247 286h0m3 353h0m10-24h0m4-96h0m1-354h0m1 522h0m4-663h0m1 416h0m4 168h0m3 72h0m6-563h0m2 520h0"/><path stroke="#0080ff" d="M243 598h0m2-390h0m2-177h0m1 6h0m3 443h0m7-9h0m6-447h0m0 237h0m1 51h0m1 138h0m5 221h0m4-594h0m0 543h0m2-353h0m4-135h0m0 555h0m1-24h0m4-506h0m2 537h0"/><path stroke="#eeff09" d="M248 583h0m0 6h0m1-547h0m2-12h0m2 337h0m0 144h0m2-448h0m1 98h0m0 357h0m1-258h0m1-122h0m1-66h0m0 552h0m3-465h0m2 411h0m5-528h0m2 98h0m1 315h0m1-237h0m2 417h0m2-281h0m2-331h0m2 163h0m0 18h0m1 417h0m1-399h0m2 247h0m4 194h0m2-588h0m0 78h0"/><path stroke="#ff2d00" d="M243 538h0m3-15h0m5 152h0m3-659h0m1 71h0m0 579h0m1 14h0m6-161h0m1-507h0m9 62h0m0 117h0m1 3h0m4 343h0m4-408h0m3 16h0m2-81h0m1-30h0m1 405h0m1 258h0m1-618h0"/><path stroke="#39ffbe" d="M243 352h0m4-78h0m3 311h0m1-234h0m0 165h0m2-335h0m0 189h0m3-326h0m1 294h0m4 148h0m5-330h0m4 480h0m0 57h0m5-346h0m10-259h0m0 84h0m4 402h0m2 35h0"/><path stroke="#000dff" d="M243 568h0m1-339h0m6 116h0m9-312h0m2 660h0m1-54h0m15-3h0m1 32h0m1-609h0m0 249h0m5-200h0m3 109h0m4-178h0"/><path stroke="#000dff" d="M243 94h0m9 258h0m0 327h0m7-196h0m2-462h0m0 348h0m5 90h0m5 20h0m21-452h0"/><path stroke="#ff6000" d="M246 319h0m0 132h0m2-162h0m2 311h0m2-575h0m7 467h0m3-390h0m2 399h0m6-462h0m3 365h0m1 60h0m0 213h0m1-21h0m2-605h0m1 620h0m2-242h0m3-294h0m1-42h0m0 102h0m0 198h0m5 103h0"/><path stroke="#0045ff" d="M244 214h0m4 444h0m1-456h0m1 266h0m4-387h0m0 468h0m8-357h0m11-19h0m5 286h0m1-190h0m1-134h0m1 537h0m1-159h0m2 4h0m2-414h0m1 510h0"/><path stroke="#c1ff36" d="M247 217h0m0 213h0m6 114h0m1 47h0m1-579h0m2 386h0m3 82h0m0 201h0m3-177h0m1-144h0m9-82h0m1-228h0m1 90h0m1 249h0m1-140h0m1 77h0m1 66h0m1-101h0m3-186h0m1-23h0m1 372h0m0 207h0m2-549h0m1 534h0m1 6h0m3-118h0"/><path stroke="#ffcc00" d="M253 547h0m5-223h0m1-15h0m2-255h0m4 372h0m5 270h0m1-235h0m0 72h0m1-438h0m0 255h0m1 303h0m1-597h0m2 310h0m3-103h0m5 205h0m3-257h0m1-33h0m2 296h0"/><path stroke="#000084" d="M244 67h0m1 117h0m1 54h0m0 36h0m0 375h0m1-390h0m1-15h0m0 216h0m1-69h0m1-295h0m0 36h0m0 90h0m0 60h0m0 75h0m1-222h0m2 271h0m0 195h0m0 66h0m2-370h0m0 390h0m1-466h0m2 106h0m0 335h0m1-173h0m0 33h0m1-342h0m1 66h0m0 69h0m1-192h0m1 174h0m0 111h0m1-387h0m0 87h0m0 132h0m0 111h0m0 252h0m1-111h0m1-207h0m3-75h0m1-105h0m0 537h0m3-511h0m1 105h0m0 198h0m3-317h0m0 246h0m0 261h0m1-10h0m1-375h0m0 141h0m0 96h0m1-401h0m0 528h0m0 21h0m0 32h0m1-614h0m1 531h0m3-107h0m1-381h0m0 30h0m0 435h0m1-486h0m0 456h0m2 84h0m1-505h0"/><path stroke="#eeff09" d="M243 529h0m7 125h0m1-45h0m3-545h0m0 299h0m1 60h0m1 38h0m0 9h0m0 30h0m6 187h0m1-48h0m3-168h0m1-204h0m0 111h0m2-198h0m2 486h0m2-61h0m1-384h0m2 7h0m0 384h0m1-160h0m1-306h0m1 81h0m1 88h0m4-288h0m2 313h0m2-123h0m0 216h0m3-349h0m1 222h0"/><path stroke="#0080ff" d="M272 482h0m1-93h0m0 210h0m3-266h0m2-117h0m0 177h0m1-364h0m4 97h0m1 261h0m4 274h0m3-88h0m1-495h0"/><path stroke="#66ff90" d="M243 445h0m3 45h0m5 17h0m2 64h0m3-284h0m0 84h0m1-114h0m1 40h0m1-162h0m0 24h0m1 393h0m2-339h0m4 255h0m5-304h0m0 141h0m2 54h0m1 90h0m0 213h0m2-452h0m4 366h0m2-525h0m0 111h0m1-120h0m1 21h0m6-33h0m0 417h0m1 153h0m0 30h0"/><path stroke="#840000" d="M243 19h0m0 351h0m0 162h0m0 9h0m0 30h0m0 18h0m0 12h0m1-387h0m0 114h0m1-312h0m0 393h0m0 222h0m0 3h0m1-531h0m0 261h0m0 60h0m1 240h0m1-513h0m2 89h0m0 135h0m1-300h0m0 201h0m1-245h0m0 390h0m0 111h0m0 150h0m1-255h0m1-39h0m1-232h0m0 261h0m1-313h0m0 114h0m0 136h0m0 137h0m0 84h0m1-498h0m0 477h0m1-494h0m0 291h0m1-255h0m0 363h0m1 213h0m1-525h0m0 282h0m0 147h0m1-432h0m1 21h0m0 45h0m0 270h0m0 135h0m1 75h0m1-387h0m0 381h0m1-576h0m0 30h0m0 63h0m0 75h0m0 54h0m0 327h0m1-174h0m2-402h0m1 378h0m1-151h0m0 6h0m0 91h0m1 197h0m0 9h0m1-465h0m0 93h0m0 117h0m1 120h0m2-291h0m0 112h0m0 369h0m1-564h0m1-64h0m2 289h0m1-258h0m0 120h0m1-27h0m0 210h0m1 105h0m0 105h0m2-557h0m0 3h0m0 72h0m0 597h0m1-561h0m0 255h0m0 297h0m1-618h0m0 378h0m0 111h0m0 75h0m1-549h0m0 375h0m0 237h0m1-540h0m0 243h0m1-193h0m0 303h0m1-360h0"/><path stroke="#09f0ee" d="M246 616h0m4-526h0m12-33h0m0 195h0m1 306h0m4-153h0m5-19h0m2 246h0m10-149h0"/><path stroke="#df0000" d="M243 232h0m2 339h0m1-537h0m2 435h0m2-301h0m6 44h0m8 364h0m2-279h0m3 48h0m4 65h0m0 282h0m3-276h0m2-320h0m4 582h0m2-642h0m5 541h0"/><path stroke="#00b4ff" d="M245 577h0m2-501h0m1-24h0m2 155h0m3-140h0m10 527h0m6-117h0m7-234h0m1 129h0m0 111h0m1-118h0m0 102h0m1 138h0m1-141h0m5-313h0m2 366h0m2-334h0m0 478h0m2-259h0"/><path stroke="#39ffbe" d="M243 118h0m0 300h0m6-270h0m4 243h0m2-52h0m0 183h0m7 141h0m2 9h0m6-477h0m2 209h0m3-78h0m0 87h0m5 55h0m4-255h0m1 13h0m0 450h0m2-99h0m1-552h0m1 513h0m1-112h0m0 72h0"/><path stroke="#ff9400" d="M244 694h0m1-378h0m3-231h0m1 33h0m3 225h0m1-315h0m2 296h0m7 273h0m0 27h0m2-411h0m2 210h0m1-102h0m2 39h0m0 51h0m3-370h0m1 531h0m2-429h0m2 118h0m0 321h0m1-49h0m1 10h0m0 95h0m3-608h0m1 135h0m1-18h0m0 13h0m0 488h0m3-518h0m0 468h0m1-171h0m1-57h0m0 18h0m1-276h0m1 83h0m1 375h0"/><path stroke="#ff2d00" d="M242 328h0m0 363h0m5-177h0m1-129h0m0 138h0m2-439h0m7 194h0m0 144h0m2-257h0m3 513h0m2-537h0m2 411h0m3 45h0m1-409h0m0 244h0m3 128h0m1-462h0m1 33h0m1 168h0m3 90h0m2-365h0m1 366h0m1 219h0m2-548h0m1 390h0m2-324h0"/><path stroke="#0000df" d="M255 546h0m5 123h0m15-415h0m0 339h0m4-480h0m1-17h0m3 333h0m6 178h0"/><path stroke="#90ff66" d="M245 355h0m1 123h0m1-363h0m0 186h0m1-201h0m0 183h0m2-46h0m2-152h0m1 18h0m0 540h0m1-331h0m0 303h0m0 63h0m2-516h0m2-51h0m0 222h0m1 174h0m2-243h0m3 36h0m6-180h0m0 219h0m0 330h0m2-211h0m1-423h0m0 129h0m0 114h0m1 414h0m1-477h0m1-96h0m0 199h0m1 267h0m0 6h0m1-234h0m3-15h0m3-284h0m0 605h0m1-239h0m1-186h0m0 393h0m1-210h0m2 216h0"/><path stroke="#ff6000" d="M246 91h0m1-24h0m1 333h0m2 179h0m7-205h0m1 43h0m0 234h0m3-369h0m0 102h0m12-313h0m1 135h0m1 306h0m2-452h0m4 24h0m1 396h0m2-324h0m1 166h0m0 222h0m5-148h0m2 261h0"/><path stroke="#ff9400" d="M243 487h0m0 117h0m3-393h0m0 309h0m1-291h0m0 114h0m1 165h0m3-325h0m2-140h0m2 68h0m1 378h0m1-430h0m0 48h0m0 126h0m1 366h0m3-488h0m2 207h0m1 327h0m3-546h0m5 302h0m4-291h0m1 37h0m1 326h0m2-65h0m1 33h0m1-276h0m4-26h0m1 240h0m1 186h0m4-22h0"/><path stroke="#0000df" d="M247 262h0m6 336h0m13-10h0m5-373h0m9 235h0m4-2h0"/><path stroke="#ff2d00" d="M244 49h0m3 264h0m6-186h0m0 249h0m3 278h0m4-564h0m4 36h0m9 452h0m8-323h0m1-27h0m2-47h0m0 315h0m1 90h0"/><path stroke="#0080ff" d="M249 28h0m3 171h0m1 141h0m1 309h0m6 20h0m1-345h0m0 90h0m2-177h0m0 288h0m0 102h0m1-99h0m3-450h0m5 203h0m14-97h0m1 456h0m1-594h0m0 117h0m0 207h0m1-313h0m1 15h0"/><path stroke="#39ffbe" d="M243 307h0m3 261h0m7-507h0m1 209h0m2 50h0m1 339h0m7-488h0m1 267h0m1-378h0m0 465h0m1 153h0m2-417h0m9 182h0m1-18h0m5 85h0m0 73h0m3 84h0m2 6h0m1-283h0"/><path stroke="#c1ff36" d="M243 514h0m3-45h0m2-222h0m0 156h0m2-187h0m0 210h0m5 90h0m4-333h0m0 93h0m3-3h0m8-132h0m1-16h0m3 138h0m2 430h0m1-582h0m0 228h0m2-250h0m1 400h0m0 6h0m1-201h0m3 249h0m6-372h0m2-78h0"/><path stroke="#000084" d="M242 400h0m1-303h0m1 408h0m1-120h0m2-243h0m0 393h0m1-210h0m0 72h0m0 114h0m1-57h0m1-439h0m0 165h0m2 262h0m1-372h0m1 599h0m1-447h0m1 125h0m0 282h0m4-449h0m1 117h0m1-69h0m0 102h0m0 33h0m0 303h0m1-522h0m0 210h0m0 15h0m0 45h0m0 177h0m0 75h0m1-33h0m1 36h0m1-432h0m3-108h0m0 156h0m0 51h0m0 219h0m1-378h0m0 45h0m0 132h0m0 75h0m0 60h0m2-145h0m1-60h0m0 336h0m0 27h0m1-300h0m1-231h0m0 357h0m0 189h0m1-158h0m1 129h0m1-145h0m1 190h0m1-645h0m1 357h0m0 75h0m0 72h0m1 60h0m1-306h0m1-188h0m0 254h0m1-266h0m0 33h0m0 96h0m0 219h0m0 108h0m0 20h0m1-512h0m0 39h0m1-51h0m0 129h0m0 171h0m0 33h0m2-357h0m0 375h0m0 12h0m0 83h0m1-354h0m0 7h0m0 360h0m1-457h0m0 390h0"/><path stroke="#90ff66" d="M243 268h0m1 36h0m1 69h0m3-36h0m0 18h0m2 206h0m1-195h0m8 291h0m4-222h0m0 147h0m2-138h0m1-102h0m0 75h0m2-219h0m1 306h0m0 168h0m1-219h0m2 206h0m1-348h0m1 216h0m0 39h0m9-377h0m3 415h0m2-135h0m2-340h0m1 339h0"/><path stroke="#66ff90" d="M242 397h0m2-243h0m2 66h0m0 459h0m3-633h0m0 359h0m1 273h0m2-566h0m6-91h0m1 186h0m0 54h0m3 423h0m2-231h0m3-360h0m3 75h0m13-120h0m1 450h0m2-290h0m0 156h0m3 320h0m3-645h0"/><path stroke="#09f0ee" d="M247 154h0m1 492h0m2-517h0m7 14h0m0 192h0m0 114h0m9 136h0m1-549h0m4 44h0m6 478h0m3-183h0m5-257h0m0 495h0m2-462h0m0 126h0m0 213h0m2-432h0"/><path stroke="#00b4ff" d="M243 433h0m3-231h0m2-144h0m0 522h0m7-43h0m6-429h0m2-27h0m0 603h0m5-630h0m2 234h0m7-30h0m0 120h0m2-118h0m0 240h0m3-248h0m0 267h0m3-41h0m1-42h0m1-261h0"/><path stroke="#0045ff" d="M259 36h0m0 609h0m5-273h0m6-138h0m1 8h0m7 78h0m1 243h0m3-488h0m0 48h0m0 546h0m3-521h0"/><path stroke="#df0000" d="M243 424h0m2-252h0m8 210h0m11-97h0m0 288h0m5-231h0m7-141h0m1 159h0m2 263h0m8-229h0m2 261h0m1-493h0m1 219h0"/><path stroke="#eeff09" d="M243 379h0m2-219h0m0 285h0m0 39h0m0 207h0m1-408h0m0 99h0m3-159h0m3-129h0m0 225h0m2-175h0m0 453h0m1-342h0m0 6h0m4 12h0m0 402h0m3-441h0m0 279h0m1-18h0m1-51h0m2-75h0m4 27h0m2 296h0m1-144h0m1-195h0m1-282h0m0 154h0m0 170h0m2 250h0m1-292h0m3 1h0m4 202h0m2 6h0m2-108h0m3-403h0"/><path stroke="#ffcc00" d="M243 358h0m2 243h0m1-468h0m2 492h0m1-358h0m4-20h0m0 240h0m0 75h0m1-391h0m2-37h0m0 93h0m1 117h0m2-227h0m8 378h0m3-312h0m11-45h0m1 21h0m2 528h0m2 1h0m1-465h0m1-195h0m2 491h0"/><path stroke="#000dff" d="M245 646h0m1-609h0m2 24h0m0 558h0m9-326h0m0 126h0m1-242h0m0 405h0m3-405h0m3 117h0m17-165h0m2 519h0m1-600h0m5 166h0m1 294h0"/><path stroke="#840000" d="M242 286h0m1-78h0m0 195h0m0 72h0m0 144h0m2-525h0m0 51h0m0 357h0m1-393h0m1 3h0m0 180h0m0 129h0m2-333h0m1-43h0m1 127h0m0 200h0m0 171h0m0 108h0m1-335h0m0 78h0m1 141h0m0 21h0m2-235h0m0 99h0m0 60h0m0 164h0m1-372h0m0 120h0m1-27h0m0 114h0m0 198h0m1-521h0m2 81h0m0 30h0m1-216h0m0 303h0m0 57h0m0 57h0m2-390h0m0 378h0m1-261h0m1 321h0m0 165h0m1-609h0m0 48h0m0 66h0m0 210h0m0 57h0m1-162h0m2-279h0m0 9h0m0 51h0m0 75h0m0 93h0m1-129h0m0 210h0m0 261h0m1-493h0m0 183h0m0 348h0m1-603h0m0 63h0m0 75h0m0 126h0m0 108h0m0 81h0m0 78h0m0 150h0m1-333h0m2-153h0m0 105h0m0 163h0m0 143h0m0 63h0m1-629h0m0 602h0m1-323h0m0 96h0m0 111h0m1-325h0m0 63h0m1 150h0m1-419h0m0 218h0m0 250h0m1 183h0m1-456h0m0 162h0m1-141h0m0 285h0m0 156h0m1-654h0m1 445h0m1-30h0m2-21h0m0 114h0m0 66h0m0 93h0m0 3h0m1-222h0m1-324h0m1-73h0m0 390h0m1-333h0"/><path stroke="#0045ff" d="M247 610h0m2-592h0m9 387h0m0 123h0m1-330h0m3-165h0m0 30h0m1-36h0m7 249h0m2 311h0m6-273h0m2 306h0m2-512h0m6 385h0"/><path stroke="#eeff09" d="M245 280h0m3 42h0m2 209h0m1-303h0m0 36h0m1-146h0m1 294h0m0 156h0m2-400h0m0 432h0m1-97h0m2-377h0m1 15h0m5 114h0m2-150h0m0 42h0m4 66h0m0 96h0m7 243h0m1-229h0m2 139h0m2 144h0m1-504h0m4 550h0m1-552h0m0 303h0m1 155h0m0 100h0m3-157h0"/><path stroke="#09f0ee" d="M247 121h0m1 546h0m2-79h0m9-489h0m2 324h0m3-375h0m5 399h0m8-147h0m5-33h0m2 153h0m2-53h0m1 45h0m1-186h0m1-136h0"/><path stroke="#39ffbe" d="M247 457h0m14-421h0m16 641h0m8-85h0m1-3h0m1-441h0m4 377h0m1 153h0"/><path stroke="#0080ff" d="M243 247h0m10 378h0m17-169h0m2-154h0m1-78h0m1-150h0m4 330h0m2-260h0m2 309h0m10 36h0"/><path stroke="#840000" d="M243 622h0m1-441h0m0 102h0m1-201h0m0 423h0m0 108h0m1-456h0m0 351h0m1-342h0m0 216h0m2-165h0m0 32h0m0 51h0m1 183h0m1-462h0m0 234h0m0 177h0m2 1h0m1-274h0m0 186h0m0 285h0m0 25h0m0 33h0m1-289h0m1-268h0m0 48h0m0 162h0m0 72h0m1-339h0m0 78h0m0 114h0m2-239h0m0 276h0m0 297h0m1-144h0m0 156h0m1-408h0m1-159h0m0 186h0m0 147h0m1-288h0m0 126h0m0 246h0m1-69h0m1-249h0m0 45h0m1-144h0m0 219h0m3 39h0m1 198h0m0 75h0m2-547h0m0 141h0m1 96h0m0 48h0m0 201h0m1-363h0m0 6h0m0 144h0m0 18h0m1-276h0m0 123h0m0 510h0m1-641h0m0 309h0m1-318h0m0 39h0m0 168h0m0 255h0m0 98h0m2-78h0m1-273h0m1-137h0m0 315h0m0 60h0m0 102h0m0 63h0m0 3h0m1-606h0m0 549h0m0 54h0m1-507h0m0 75h0m0 114h0m0 294h0m0 51h0m1-627h0m0 462h0m0 90h0m1-368h0m1 180h0m0 96h0m1-306h0m1-126h0m1 48h0m0 33h0m0 378h0m1-346h0m0 51h0m1-90h0m1 84h0"/><path stroke="#ff6000" d="M243 223h0m0 294h0m3-51h0m5-328h0m4 320h0m3-335h0m7 408h0m6-481h0m2 258h0m1-93h0m1 159h0m0 216h0m1-204h0m4 229h0m2-498h0m1 312h0m0 222h0m5-443h0m0 201h0"/><path stroke="#00b4ff" d="M246 697h0m2-441h0m5-159h0m1-25h0m1 3h0m2 167h0m4 7h0m3 327h0m1-294h0m4 204h0m4-73h0m4-221h0m1-109h0m2 165h0m3 34h0m1 351h0m3-572h0m4 455h0"/><path stroke="#90ff66" d="M245 139h0m1-42h0m1 153h0m1 192h0m0 99h0m0 138h0m2-331h0m2 286h0m3-187h0m1 41h0m1 42h0m2-428h0m0 117h0m0 102h0m0 132h0m0 93h0m3 108h0m3-519h0m0 537h0m4-480h0m2-163h0m0 487h0m1-325h0m2 12h0m0 279h0m0 168h0m1-423h0m0 336h0m1-521h0m2 200h0m0 297h0m1 153h0m1-41h0m1 24h0m3-471h0m1-2h0m2 252h0m1 24h0m2-397h0"/><path stroke="#ffcc00" d="M243 652h0m7-511h0m1 3h0m5 41h0m2 258h0m4-233h0m1-168h0m0 90h0m0 210h0m10 356h0m3-554h0m1 341h0m0 13h0m2-484h0m0 576h0m1-377h0m1-114h0m1 264h0m0 237h0m1-333h0m0 282h0m2-107h0m2-273h0m2 59h0"/><path stroke="#000084" d="M243 70h0m0 114h0m0 381h0m1-174h0m2-243h0m0 201h0m1 198h0m2-234h0m1-199h0m0 72h0m0 354h0m0 27h0m2-338h0m2 38h0m0 185h0m1-329h0m0 441h0m0 111h0m1-583h0m0 84h0m2 238h0m0 282h0m1-300h0m1-54h0m0 276h0m1-78h0m0 45h0m1-513h0m0 510h0m1-426h0m0 96h0m1-51h0m2-105h0m0 255h0m3-213h0m1 357h0m1-127h0m0 228h0m0 60h0m1-636h0m0 213h0m0 390h0m0 24h0m1-513h0m0 192h0m1-264h0m0 408h0m1-291h0m0 378h0m1-431h0m2 386h0m0 15h0m0 75h0m1-555h0m0 534h0m2-230h0m0 147h0m0 150h0m1-180h0m0 27h0m1 33h0m0 93h0m1-246h0m0 39h0m1-185h0m0 294h0m0 108h0m1-435h0m3-15h0m1-118h0m0 102h0m0 207h0m0 93h0m0 90h0m2-96h0m0 141h0"/><path stroke="#df0000" d="M245 541h0m1-366h0m9-91h0m4 456h0m3-372h0m0 135h0m0 327h0m2-384h0m14-70h0m1-78h0m2 319h0m1-321h0m2 408h0m2-119h0m1 234h0m2-246h0"/><path stroke="#c1ff36" d="M243 157h0m2-132h0m0 378h0m2-210h0m0 342h0m2-240h0m2-130h0m3 525h0m1-483h0m6 342h0m3-381h0m0 366h0m1-276h0m0 336h0m2-465h0m4 2h0m0 360h0m0 147h0m0 51h0m1-354h0m0 180h0m1-450h0m0 396h0m1-444h0m0 72h0m1 219h0m2-35h0m12-206h0"/><path stroke="#ff9400" d="M244 373h0m4-27h0m3-52h0m6-205h0m0 522h0m1 28h0m1 21h0m7-162h0m4-135h0m0 9h0m0 276h0m2-331h0m0 42h0m6 213h0m1 36h0m3-26h0m1-381h0m0 195h0m1 298h0m1-222h0m3-354h0m1 321h0m0 96h0m3-337h0"/><path stroke="#ff2d00" d="M248 376h0m3-313h0m1 130h0m2-169h0m10 168h0m5 441h0m2-169h0m0 180h0m3-465h0m1 186h0m12-220h0m0 408h0m2 72h0m3-79h0"/><path stroke="#000dff" d="M249 79h0m10 290h0m0 21h0m2 180h0m3-510h0m2-18h0m8 365h0m2-224h0m2 470h0m2-590h0m1 15h0m0 474h0m1-237h0m0 336h0m1-378h0"/><path stroke="#66ff90" d="M245 163h0m0 96h0m1 27h0m1 81h0m1 99h0m0 90h0m5-391h0m1-2h0m1 371h0m2 161h0m11-215h0m1-111h0m1-303h0m2 161h0m4 240h0m2-279h0m2 496h0m2-96h0m2-561h0m1 4h0m0 38h0m0 613h0m2-633h0m2 518h0m2-534h0m1 471h0"/><path stroke="#0000df" d="M249 321h0m1 177h0m2 52h0m3-260h0m0 241h0m0 150h0m2-598h0m0 591h0m1-461h0m5 228h0m7-186h0m1 413h0m5-539h0m1 6h0m12 550h0"/><path stroke="#66ff90" d="M246 196h0m0 33h0m0 354h0m2-543h0m0 384h0m4-126h0m0 267h0m1 96h0m3-605h0m0 138h0m2 226h0m1 75h0m4-435h0m0 591h0m6-636h0m1 267h0m1 212h0m3-411h0m1 393h0m9-92h0m2 172h0m0 72h0m1-612h0m0 525h0m1-357h0m0 213h0m0 291h0m1-7h0m3-195h0"/><path stroke="#00b4ff" d="M244 388h0m2 93h0m5 200h0m2-410h0m0 153h0m5-316h0m1 12h0m8 237h0m0 90h0m5-349h0m1 396h0m7-188h0m7 100h0m5 116h0"/><path stroke="#df0000" d="M248 73h0m2-7h0m5-9h0m10-9h0m5-10h0m1 216h0m1 36h0m1 135h0m1-3h0m1-285h0m0 465h0m1-338h0m6-153h0m3 391h0m0 147h0m6-136h0"/><path stroke="#0080ff" d="M246 337h0m2 237h0m2-505h0m7 515h0m5-236h0m2 15h0m16-30h0m1 180h0m0 174h0m1-456h0m2 169h0m0 146h0m2 148h0m1-615h0m0 594h0"/><path stroke="#ff9400" d="M244 226h0m2 234h0m0 222h0m1-657h0m2 476h0m5-92h0m1-91h0m0 122h0m0 196h0m4-150h0m2-156h0m0 303h0m1-534h0m0 480h0m1-192h0m9-226h0m7-24h0m1 43h0m0 92h0m1 289h0m1-351h0m1 366h0m3-524h0m0 444h0m1-309h0m1-96h0m1 543h0m1-355h0m1-201h0"/><path stroke="#09f0ee" d="M250 210h0m3-173h0m2 611h0m2-25h0m1-455h0m0 297h0m8-453h0m0 9h0m5 200h0m4-66h0m0 237h0m0 246h0m4-350h0m3 366h0m6-26h0m4-571h0"/><path stroke="#ff6000" d="M242 451h0m4-432h0m2 138h0m6 9h0m0 138h0m0 77h0m2-55h0m6-143h0m0 315h0m2 177h0m2-48h0m1-246h0m2 87h0m3-193h0m1 354h0m4-398h0m4 120h0m2 39h0m4-338h0m0 564h0m3-232h0"/><path stroke="#0045ff" d="M243 295h0m5 192h0m11-37h0m1-372h0m6 105h0m5 110h0m1-144h0m0 324h0m1-183h0m0 273h0m7-458h0m1 351h0m6 154h0m2-60h0m1-361h0"/><path stroke="#eeff09" d="M244 109h0m0 114h0m0 240h0m1 66h0m1 36h0m2-360h0m0 387h0m2 14h0m6-253h0m1-21h0m1 193h0m9-90h0m0 168h0m6-517h0m3-71h0m0 24h0m0 621h0m1-357h0m0 308h0m1-195h0m1 63h0m1 151h0m3-558h0m1 453h0m0 27h0m1-62h0m1-465h0m1 84h0m1 315h0m1-273h0m1 452h0m0 67h0m2-22h0"/><path stroke="#ffcc00" d="M243 43h0m0 99h0m0 123h0m0 72h0m3-132h0m1-27h0m5 114h0m2 35h0m1 186h0m3-168h0m1 252h0m3-81h0m4-432h0m0 465h0m4-474h0m2 80h0m2-108h0m1 438h0m1-176h0m0 354h0m1-511h0m0 67h0m3-108h0m0 192h0m1 75h0m1 258h0m5-65h0m1-3h0m3-409h0m0 291h0"/><path stroke="#39ffbe" d="M245 376h0m2 108h0m3-85h0m1 177h0m2-350h0m6 422h0m4-579h0m9 32h0m1-12h0m7 328h0m0 171h0m11-480h0"/><path stroke="#840000" d="M243 148h0m0 513h0m1-234h0m1-246h0m0 351h0m1-234h0m1 69h0m0 153h0m1 84h0m1-435h0m0 141h0m0 99h0m1 68h0m2-458h0m0 225h0m0 393h0m1-432h0m0 3h0m0 489h0m1-583h0m0 84h0m1-93h0m0 138h0m0 15h0m0 132h0m0 15h0m0 45h0m1-40h0m0 162h0m0 24h0m1-570h0m0 21h0m0 639h0m1-44h0m1-258h0m3 57h0m0 102h0m1-111h0m0 54h0m2-264h0m0 330h0m1-522h0m0 222h0m2 114h0m1-321h0m1 234h0m1-268h0m0 15h0m0 90h0m0 18h0m1-15h0m1 330h0m1 75h0m1-365h0m0 128h0m0 297h0m1-479h0m0 33h0m0 158h0m0 28h0m0 27h0m0 255h0m1-519h0m0 348h0m1-373h0m0 48h0m0 408h0m1-492h0m0 261h0m1-206h0m0 126h0m0 66h0m0 24h0m1-252h0m0 279h0m0 336h0m1-552h0m0 105h0m0 189h0m0 105h0m0 27h0m0 3h0m0 78h0m1-126h0m1 207h0m1-164h0m0 6h0m0 81h0m0 6h0m2-252h0m0 201h0m2-189h0m0 66h0m0 36h0m1-265h0m0 177h0m0 54h0m0 171h0m1-438h0m1-123h0m0 114h0m0 429h0"/><path stroke="#0000df" d="M248 565h0m11 65h0m3-393h0m3 153h0m8-304h0m1 72h0m0 87h0m8-53h0m7-152h0"/><path stroke="#c1ff36" d="M242 256h0m1-174h0m0 129h0m1-87h0m0 243h0m1 72h0m2 51h0m1-252h0m2 221h0m1 189h0m2-59h0m6-514h0m0 141h0m0 210h0m2 216h0m1-486h0m0 252h0m7 75h0m1 171h0m1-451h0m2-3h0m0 192h0m1-243h0m0 72h0m1 84h0m0 186h0m1 181h0m1-357h0m1-148h0m1 531h0m4-584h0m0 372h0m0 207h0m1-656h0m2 633h0m0 21h0m6-229h0"/><path stroke="#000dff" d="M263 432h0m11 68h0m6-170h0"/><path stroke="#ff2d00" d="M242 196h0m1-30h0m2-96h0m2 363h0m9-197h0m0 261h0m1-141h0m6-311h0m6 312h0m4-109h0m1-207h0m10 74h0m1 102h0"/><path stroke="#90ff66" d="M244 100h0m2-51h0m2 192h0m1 21h0m5 281h0m1-453h0m1 98h0m1-93h0m1 49h0m4 111h0m0 30h0m1 144h0m2-312h0m1 315h0m3-225h0m0 285h0m0 39h0m1 156h0m5-139h0m2-371h0m2-153h0m0 44h0m1 342h0m1-206h0m2 399h0m1-39h0m0 72h0m3-218h0m0 189h0"/><path stroke="#000084" d="M244 574h0m0 66h0m1-294h0m0 228h0m0 63h0m1-372h0m0 93h0m0 48h0m1-138h0m1-225h0m1 408h0m1-250h0m0 234h0m0 3h0m0 9h0m1-285h0m0 450h0m0 33h0m2-428h0m0 69h0m0 24h0m0 93h0m0 150h0m1 131h0m1-273h0m0 162h0m1-91h0m0 171h0m3-614h0m1 477h0m1-390h0m0 546h0m1-366h0m1-78h0m0 327h0m2-48h0m4-438h0m0 393h0m1-300h0m1 200h0m1 267h0m1-603h0m0 228h0m1 117h0m0 93h0m0 132h0m2-488h0m0 387h0m2-396h0m0 432h0m0 155h0m1-545h0m0 242h0m0 3h0m1-185h0m0 384h0m1-570h0m0 30h0m0 315h0m1 285h0m1-276h0m0 12h0m0 249h0m0 30h0m1-377h0m2 243h0m1-99h0m0 171h0m1-81h0m1-312h0m1-27h0"/><path stroke="#000084" d="M292 474h0m1-335h0m1-51h0m0 399h0m1-102h0m0 117h0m2-319h0m0 372h0m1-43h0m1 150h0m1 33h0m4-537h0m1-6h0m4 183h0m0 12h0m369 73h0m80-304h0m8 143h0m1-126h0m5 161h0m0 51h0m1-237h0m10 161h0m0 117h0m0 3h0m1-336h0m0 306h0m0 39h0m0 213h0m8-556h0m0 123h0m0 309h0m0 27h0m6-464h0m1 555h0m1-585h0m121 15h0m0 84h0m1 525h0m11-376h0m0 60h0m1-174h0m0 279h0m0 222h0m27-268h0m1 189h0m10-496h0m0 39h0m0 54h0m0 87h0m1-243h0m56 312h0m1-69h0m1 279h0m8-354h0m0 96h0"/><path stroke="#39ffbe" d="M294 511h0m1 51h0m2-460h0m134 466h0m134-211h0m34 24h0m26-74h0m52 240h0m39-145h0m26 233h0m25-574h0m17 439h0m3-92h0m3-25h0m1-49h0m1 17h0m7 134h0m42-197h0m81-1h0m11 185h0m30-19h0m9-58h0m1-198h0m5 329h0m52-425h0m9 39h0m0 462h0"/><path stroke="#df0000" d="M295 457h0m13 145h0m475-21h0m9-259h0m141-228h0m0 501h0m1-378h0m28 437h0m11-523h0m0 267h0m50 27h0m16 120h0"/><path stroke="#c1ff36" d="M293 102h0m3 316h0m3-275h0m6 549h0m3-561h0m0 411h0m1-12h0m2-459h0m473 69h0m15-66h0m1 504h0m121-567h0m0 669h0m1-654h0m1 318h0m10-253h0m1 474h0m38-374h0m1 108h0m0 51h0m0 63h0m0 39h0m40-119h0m1-246h0m16-73h0m1 390h0m0 159h0m8-69h0m0 102h0m0 27h0"/><path stroke="#90ff66" d="M293 231h0m1 154h0m1 219h0m2-400h0m0 396h0m1-564h0m0 426h0m0 113h0m7 3h0m4 57h0m125-134h0m26-2h0m205-14h0m11 46h0m19-215h0m55 96h0m0 24h0m17 6h0m0 123h0m6-367h0m11 77h0m0 363h0m7-454h0m1 102h0m0 378h0m7-401h0m1 330h0m28-248h0m67 204h0m22-154h0m5-45h0m0 231h0m12-277h0m28 287h0m1-180h0m9-43h0m41-62h0m0 300h0m1-330h0m9-67h0m7-36h0m9 309h0"/><path stroke="#000dff" d="M309 419h0m490-45h0m0 294h0m163-548h0m68 566h0m9-411h0m0 108h0"/><path stroke="#0080ff" d="M293 498h0m1-293h0m1-78h0m3-74h0m0 70h0m6 17h0m1-45h0m0 309h0m5-48h0m473-39h0m0 84h0m16-102h0m122 138h0m13-412h0m28 188h0m1-162h0m0 306h0m9 203h0m1-180h0m49-225h0m1 108h0m8 369h0m8-120h0"/><path stroke="#ffcc00" d="M295 664h0m2 14h0m8-43h0m3-150h0m2-300h0m448 141h0m10-103h0m4-55h0m1 159h0m10-244h0m1-63h0m8 20h0m7 40h0m122 114h0m0 315h0m0 93h0m1-261h0m0 114h0m12-391h0m38 418h0m1-345h0m0 24h0m0 156h0m0 168h0m0 48h0m40 136h0"/><path stroke="#840000" d="M292 585h0m2-203h0m0 207h0m0 36h0m1-237h0m0 237h0m0 63h0m1-550h0m0 10h0m0 381h0m1-442h0m0 126h0m0 177h0m1-313h0m0 373h0m0 179h0m1-114h0m0 66h0m0 15h0m6 48h0m0 51h0m4-486h0m1 33h0m441 320h0m16-192h0m0 294h0m5-313h0m1-165h0m0 285h0m11-316h0m0 399h0m8-538h0m0 90h0m0 537h0m0 39h0m1-231h0m0 237h0m0 9h0m5-428h0m0 57h0m0 171h0m1-480h0m0 12h0m0 15h0m0 63h0m0 42h0m0 69h0m0 36h0m0 102h0m0 42h0m0 12h0m0 96h0m0 102h0m0 24h0m122-378h0m0 207h0m1-384h0m0 216h0m0 237h0m1-36h0m11-442h0m0 15h0m0 600h0m17-364h0m11-81h0m0 105h0m0 9h0m0 183h0m0 12h0m0 81h0m1-309h0m0 15h0m0 285h0m9-400h0m0 465h0m1-309h0m0 72h0m0 12h0m40-368h0m0 234h0m0 93h0m0 39h0m10 104h0m0 111h0m7-585h0m0 501h0m0 30h0m1-459h0m8 537h0m0 9h0"/><path stroke="#ff9400" d="M292 531h0m1-434h0m4 410h0m2 107h0m458-111h0m15-92h0m10 176h0m2-30h0m0 6h0m137-204h0m1-192h0m11 296h0m29-358h0m0 21h0m0 519h0m11-511h0m40-62h0m0 345h0m16-187h0m10 15h0m0 255h0"/><path stroke="#ff2d00" d="M292 393h0m3 175h0m3 107h0m6-610h0m1 624h0m4-390h0m464-98h0m0 42h0m0 414h0m18-155h0m1-141h0m7 220h0m0 18h0m0 81h0m123-417h0m0 291h0m40-419h0m0 411h0m0 21h0m1-132h0m9-28h0m1 150h0m57-345h0m0 366h0m9-189h0m0 171h0m0 12h0m1-360h0"/><path stroke="#0045ff" d="M757 392h0m10-154h0m16 172h0m16 255h0m134-526h0m29-37h0m0 78h0m1 459h0m68-394h0m8 15h0"/><path stroke="#09f0ee" d="M295 505h0m1 96h0m462-473h0m40 192h0m1 357h0m164-509h0m50 345h0m17-466h0m0 261h0"/><path stroke="#00b4ff" d="M297 99h0m1 99h0m469 184h0m6-283h0m10 122h0m16 180h0m1-258h0m161-2h0m12 410h0"/><path stroke="#0000df" d="M294 469h0m383 141h0m90 81h0m8-142h0m146-178h0m12 173h0m29-349h0m1-126h0m60 530h0m15-345h0m1 297h0"/><path stroke="#eeff09" d="M296 646h0m3-500h0m0 252h0m0 45h0m10-252h0m1-54h0m441 200h0m21 194h0m12 20h0m9-238h0m6 289h0m122-351h0m0 63h0m0 189h0m1-321h0m11 302h0m29 197h0m1-588h0m8 452h0m2-333h0m0 285h0m41-485h0m8 239h0m1-117h0"/><path stroke="#66ff90" d="M292 453h0m2-239h0m1 90h0m1 285h0m1-55h0m11 107h0m67-48h0m2 6h0m40-192h0m107-42h0m3-22h0m3 12h0m10 159h0m0 56h0m2 103h0m2-319h0m23 228h0m1-76h0m22-138h0m20 50h0m6 42h0m22-143h0m5-20h0m0 28h0m16 16h0m35 85h0m39 143h0m5-256h0m12 267h0m6-264h0m9-9h0m1 137h0m18-130h0m15-54h0m0 234h0m0 135h0m7-173h0m7-147h0m11 101h0m39 48h0m11-71h0m27 85h0m17-150h0m4 229h0m29-425h0m11 147h0m0 237h0m0 24h0m2-294h0m4 256h0m4-242h0m0 180h0m6 2h0m3-100h0m0 28h0m3 11h0m2-9h0m11 60h0m6 48h0m9-3h0m3 44h0m12-117h0m11 29h0m1 265h0"/><path stroke="#ff6000" d="M293 561h0m4-399h0m2-124h0m10-15h0m457 512h0m1 36h0m4-130h0m2-111h0m19-71h0m6-47h0m1 216h0m162 121h0m1-459h0m11-25h0m66 363h0"/><path stroke="#ffcc00" d="M295 106h0m5 1h0m5-30h0m3 48h0m1-21h0m458 182h0m25-189h0m7 181h0m1-75h0m122-174h0m12 362h0m28-364h0m10 449h0m41-218h0m10 293h0m15 60h0m1-564h0m0 27h0m0 453h0"/><path stroke="#0080ff" d="M292 435h0m1-225h0m5 195h0m7 47h0m468 238h0m19-41h0m7-314h0m0 228h0m1 93h0m122-345h0m51 327h0m49-489h0"/><path stroke="#0000df" d="M294 133h0m3 524h0m475-438h0m26 215h0m1 252h0m123-387h0m12 362h0m40-419h0m39-11h0"/><path stroke="#df0000" d="M296 493h0m2-380h0m474 211h0m150-175h0m30 469h0m20-232h0m51-3h0m7-12h0m9-219h0m0 288h0"/><path stroke="#c1ff36" d="M293 684h0m6-223h0m9-60h0m1-375h0m0 633h0m441-118h0m18-48h0m16-140h0m7-334h0m1 606h0m130-503h0m50 402h0m1-432h0m0 369h0m0 150h0m49 3h0m1-543h0m0 558h0m7-546h0m9 432h0"/><path stroke="#00b4ff" d="M293 429h0m457-335h0m7 511h0m16 34h0m25-199h0m123 24h0m1-6h0m12 83h0m28-67h0"/><path stroke="#840000" d="M292 687h0m1-171h0m0 105h0m1-245h0m0 30h0m0 126h0m1-387h0m0 15h0m0 432h0m0 57h0m0 27h0m2-652h0m0 198h0m1 234h0m1-61h0m0 27h0m5 141h0m1 57h0m3-447h0m0 225h0m0 96h0m1-414h0m0 315h0m1-105h0m439 371h0m2-15h0m16-231h0m0 66h0m1-135h0m4 290h0m1-603h0m0 159h0m10 401h0m1-519h0m0 504h0m0 30h0m0 48h0m8-553h0m0 45h0m0 129h0m0 342h0m0 27h0m1-207h0m5 82h0m0 18h0m1-525h0m0 48h0m0 27h0m0 75h0m0 78h0m0 150h0m0 57h0m0 6h0m0 219h0m1-477h0m0 216h0m98-314h0m23-49h0m0 93h0m1-27h0m0 15h0m0 246h0m11-280h0m0 87h0m0 81h0m0 303h0m1-12h0m0 30h0m0 60h0m27-463h0m1-6h0m0 51h0m0 69h0m0 81h0m0 21h0m1-300h0m0 117h0m0 225h0m0 174h0m9-562h0m1 168h0m0 6h0m0 87h0m0 126h0m1-429h0m39 106h0m0 579h0m8-52h0m1-243h0m0 195h0m0 99h0m1-15h0m16-522h0m0 153h0m0 33h0m0 18h0m0 126h0m0 21h0m0 45h0m0 45h0m0 27h0m0 33h0m1-630h0"/><path stroke="#eeff09" d="M294 190h0m1 408h0m4-5h0m9-27h0m1 33h0m441-241h0m1 225h0m15-3h0m6-553h0m11 245h0m1 375h0m1-600h0m6-16h0m1 423h0m0 237h0m6-401h0m0 39h0m1-96h0m0 129h0m0 195h0m122-312h0m0 183h0m13-343h0m38-23h0m0 24h0m0 408h0m1 156h0m39-158h0m1 156h0m1-321h0m16 206h0m0 120h0m9-381h0m0 126h0"/><path stroke="#39ffbe" d="M295 136h0m1 318h0m3 112h0m258-20h0m112-117h0m98-23h0m6 83h0m11-118h0m8-229h0m0 489h0m7-167h0m51 62h0m72-305h0m26 328h0m15-534h0m9 473h0m34-76h0m6-118h0m11-61h0"/><path stroke="#ff6000" d="M292 129h0m2 361h0m2-99h0m2-329h0m7 486h0m446-385h0m15-33h0m17-65h0m16 306h0m0 24h0m122 219h0m1-555h0m0 126h0m40-11h0m0 75h0"/><path stroke="#000084" d="M292 390h0m1-264h0m0 60h0m0 252h0m2 250h0m1-76h0m1-585h0m0 33h0m0 111h0m0 333h0m1-327h0m1-76h0m0 3h0m0 297h0m0 297h0m5-75h0m5-423h0m458-76h0m0 105h0m4 185h0m2-57h0m10-118h0m1-150h0m7 293h0m1-75h0m7-260h0m0 453h0m1-159h0m0 225h0m121-264h0m0 219h0m1-345h0m0 15h0m11 23h0m0 42h0m0 117h0m0 255h0m1-309h0m0 45h0m17-211h0m11 147h0m0 96h0m0 276h0m1-522h0m0 75h0m0 204h0m9-271h0m0 426h0m1-564h0m0 123h0m0 168h0m0 285h0m0 18h0m39 61h0m1-516h0m1 78h0m8-142h0m0 567h0m1-360h0m0 147h0m7-324h0m0 306h0m1-270h0m7 189h0m1-315h0m0 33h0m0 174h0m0 213h0m0 15h0"/><path stroke="#ff2d00" d="M296 220h0m12 73h0m1 33h0m464-5h0m11-211h0m15 321h0m135-325h0m28 401h0m1-396h0m50-81h0m10 68h0m0 360h0m16 39h0"/><path stroke="#66ff90" d="M293 141h0m2-119h0m0 273h0m1-135h0m1 380h0m22-3h0m22-60h0m38-1h0m15-121h0m50 207h0m1-119h0m16-1h0m25-105h0m1 212h0m14-20h0m19-55h0m11-65h0m6 45h0m14-53h0m31 44h0m9-42h0m21-17h0m34-7h0m9-20h0m46 162h0m2-34h0m12 93h0m16-72h0m11-129h0m21-2h0m3 93h0m1-331h0m13 333h0m4-260h0m3 109h0m5 103h0m36 51h0m33-135h0m6 188h0m7-8h0m12-240h0m10 220h0m2-19h0m23-245h0m0 279h0m1-150h0m0 147h0m1-238h0m21 208h0m7-81h0m11-320h0m0 390h0m1 30h0m5-149h0m3 113h0m17-31h0m10-40h0m19-104h0m5 105h0m2 48h0m2-65h0"/><path stroke="#ff9400" d="M293 529h0m2 162h0m2-385h0m1-139h0m0 40h0m1 219h0m10-328h0m0 498h0m0 57h0m457-91h0m7 68h0m10-433h0m0 186h0m9-73h0m7-242h0m0 9h0m0 288h0m122-258h0m0 99h0m0 318h0m1-141h0m40 109h0m10-268h0m1 198h0m56-90h0m10 189h0"/><path stroke="#90ff66" d="M295 508h0m0 66h0m2-439h0m1 294h0m1-346h0m4-27h0m5 477h0m1-99h0m230-71h0m22 123h0m8-20h0m10-101h0m77 132h0m95-244h0m15-75h0m7 245h0m10-85h0m0 234h0m2-336h0m13-57h0m1 288h0m86-16h0m36 214h0m13-595h0m28 299h0m0 147h0m1-153h0m9-97h0m0 126h0m1-345h0m0 237h0m0 282h0m28-91h0m8-27h0m13-56h0m1 231h0m1-294h0m2 167h0m4-2h0m8 120h0m1-81h0"/><path stroke="#0045ff" d="M294 415h0m0 165h0m1-534h0m478 323h0m19-53h0m142-198h0m39 70h0m40-122h0m11 71h0"/><path stroke="#000dff" d="M292 522h0m3-5h0m456-198h0m16-27h0m17 325h0m138-222h0m51-225h0m50 87h0"/><path stroke="#09f0ee" d="M297 45h0m2 74h0m10 270h0m474 54h0m151-34h0m0 150h0m97-515h0m8 105h0"/><path stroke="#eeff09" d="M293 475h0m0 191h0m0 1h0m1-615h0m0 306h0m1-189h0m0 15h0m0 459h0m2-148h0m1-67h0m11-105h0m0 165h0m442-220h0m0 252h0m16 129h0m16-593h0m1 234h0m15 24h0m123-81h0m0 360h0m11-532h0m18 575h0m11-483h0m0 480h0m11 2h0m40-314h0m9-202h0m0 555h0m17-288h0"/><path stroke="#09f0ee" d="M305 62h0m3 258h0m491 267h0m123-483h0m11 488h0m30-268h0m9-211h0m41 76h0m0 270h0"/><path stroke="#ff2d00" d="M292 651h0m3-449h0m3-80h0m0 400h0m7-472h0m487 308h0m0 222h0m6-308h0m1 81h0m134-7h0m1 78h0m0 192h0"/><path stroke="#0080ff" d="M295 607h0m1-441h0m3-95h0m6-24h0m4 0h0m442 170h0m6-44h0m42-132h0m0 474h0m163-491h0m77 368h0"/><path stroke="#39ffbe" d="M293 99h0m4-24h0m0 612h0m187-238h0m227 54h0m58-138h0m3 61h0m1 153h0m10-211h0m13 21h0m2 195h0m1-15h0m11-165h0m7 282h0m104-444h0m0 134h0m50-362h0m59 669h0m9-585h0m0 210h0"/><path stroke="#ff9400" d="M295 247h0m0 444h0m1-498h0m3 466h0m6-615h0m4 543h0m463-551h0m12 140h0m0 390h0m7-139h0m1 3h0m7-320h0m0 198h0m122-153h0m1 330h0m12-406h0m28 338h0m0 162h0m1-273h0m10-196h0m0 198h0m66 369h0"/><path stroke="#840000" d="M292 201h0m0 291h0m0 198h0m1-572h0m0 323h0m2 34h0m0 186h0m2-307h0m0 135h0m1-457h0m0 148h0m0 341h0m1 39h0m5-129h0m1-204h0m0 327h0m3 90h0m1-627h0m0 147h0m0 216h0m0 198h0m441-106h0m1 144h0m16-474h0m0 231h0m5-145h0m0 249h0m0 9h0m0 114h0m0 9h0m1 84h0m10-247h0m0 75h0m0 63h0m1-243h0m8-154h0m0 57h0m0 75h0m0 180h0m0 90h0m0 81h0m1-279h0m6-338h0m0 249h0m0 66h0m0 150h0m0 54h0m1-363h0m121-75h0m0 66h0m0 366h0m0 30h0m1-486h0m0 156h0m0 12h0m0 198h0m11-388h0m0 69h0m0 45h0m0 138h0m1-321h0m0 357h0m0 21h0m0 78h0m28-319h0m0 408h0m1-216h0m0 258h0m1-12h0m8-346h0m0 99h0m1 36h0m0 189h0m0 114h0m40-200h0m0 201h0m1-342h0m0 210h0m9-529h0m0 60h0m0 600h0m0 3h0m6-609h0m1-51h0m0 417h0m0 63h0m1 87h0m8-501h0m0 9h0m0 144h0m0 69h0m0 276h0m1-144h0"/><path stroke="#ffcc00" d="M292 676h0m2-378h0m3 212h0m1-418h0m0 34h0m0 44h0m0 145h0m0 246h0m1-145h0m10-360h0m458 614h0m16-533h0m0 36h0m9 443h0m129-293h0m1-240h0m11 233h0m1-201h0m0 132h0m0 147h0m28 161h0m0 81h0m11-514h0m39 544h0m1-303h0m1-315h0m8 131h0m1 375h0m16-354h0m0 30h0"/><path stroke="#90ff66" d="M293 433h0m2 66h0m2 164h0m0 30h0m1-583h0m0 78h0m1 237h0m0 225h0m6-147h0m3-474h0m1 492h0m158-65h0m66 92h0m27-174h0m44 65h0m30 43h0m33-113h0m99-272h0m6-67h0m1 429h0m10-418h0m0 54h0m0 363h0m8-13h0m1-210h0m1-39h0m5-170h0m1 180h0m12 221h0m39-177h0m20 182h0m6 101h0m11-245h0m34 192h0m1-127h0m0 189h0m0 6h0m37-167h0m3 261h0m2-597h0m8 482h0m0 132h0m41-497h0m0 219h0m17-14h0m1 304h0m8-408h0"/><path stroke="#000084" d="M299 221h0m0 9h0m0 261h0m0 189h0m9-48h0m2-387h0m440-112h0m1 459h0m21-529h0m0 471h0m11-85h0m1-330h0m0 366h0m7-457h0m0 600h0m1-591h0m0 318h0m6 307h0m1-639h0m0 96h0m0 12h0m0 156h0m0 24h0m0 21h0m122 252h0m0 39h0m0 63h0m1-285h0m0 12h0m0 18h0m12 266h0m28-559h0m0 252h0m0 96h0m1 177h0m0 3h0m9-622h0m0 72h0m0 24h0m0 105h0m0 129h0m1 207h0m40-461h0m0 114h0m10 266h0m0 168h0m6-534h0m1-48h0m0 3h0m0 147h0m0 45h0m0 270h0m0 99h0m9-399h0m1-108h0"/><path stroke="#0045ff" d="M294 481h0m16-152h0m440 26h0m22 173h0m21 106h0m140-246h0m106 91h0"/><path stroke="#000dff" d="M298 231h0m0 180h0m2 194h0m492-469h0m221 239h0m17 173h0"/><path stroke="#0000df" d="M751 352h0m16 147h0m5 113h0m27 32h0m134-307h0m40-86h0m66 288h0"/><path stroke="#ff6000" d="M294 22h0m15 97h0m0 150h0m0 147h0m1-303h0m440 62h0m17-129h0m6 434h0m11-40h0m7 215h0m1-609h0m7 436h0m0 144h0m123-177h0m12-394h0m27-34h0m1 258h0m1 147h0m10-61h0"/><path stroke="#00b4ff" d="M293 85h0m6 526h0m5 18h0m462 17h0m5-190h0m21-326h0m142 177h0m0 180h0m38 22h0m42 121h0m9-112h0m16-117h0"/><path stroke="#66ff90" d="M346 408h0m76-26h0m52 149h0m15-93h0m1 112h0m18-184h0m18 26h0m8-31h0m5 94h0m11-9h0m8-150h0m3 61h0m10 6h0m18 21h0m16 35h0m9-130h0m8 168h0m2-66h0m5 6h0m12 70h0m17-91h0m14 128h0m11-43h0m1-27h0m7 60h0m20-99h0m45 19h0m10-356h0m0 371h0m6 222h0m11-493h0m2 336h0m8 79h0m6-352h0m9 125h0m0 147h0m45-141h0m1-33h0m6 5h0m10 104h0m51-147h0m1 134h0m21-12h0m3-80h0m26-117h0m1 126h0m18 149h0m8 43h0m2-59h0m13-109h0m1-37h0m1 111h0m3-43h0m4 119h0m7-348h0m0 366h0m8-504h0m1 453h0"/><path stroke="#c1ff36" d="M309 479h0m179 42h0m270-216h0m34 83h0m0 54h0m1-147h0m7-110h0m133 92h0m1-165h0m0 57h0m0 249h0m38-362h0m0 360h0m1 147h0m40-302h0m0 417h0m17-478h0m9-189h0"/><path stroke="#df0000" d="M292 33h0m0 375h0m7 41h0m0 27h0m454-449h0m14 475h0m17-125h0m0 264h0m15 42h0m123-411h0m0 102h0m11 29h0m90-347h0m0 342h0m0 69h0m0 9h0"/><path stroke="#0045ff" d="M297 168h0m12 143h0m463 190h0m11-217h0m138-159h0m52 396h0m39-128h0m2 57h0"/><path stroke="#09f0ee" d="M295 406h0m0 264h0m14-596h0m458 389h0m17 19h0m9 38h0m6-245h0"/><path stroke="#ff2d00" d="M294 145h0m3 239h0m454-362h0m0 447h0m5 88h0m16-281h0m11 104h0m0 159h0m1-9h0m0 129h0m8-430h0m0 282h0m7 106h0m0 21h0m123-171h0m29-272h0m11 60h0m10 155h0m1-306h0m0 366h0m41-338h0m16 164h0m0 78h0m9-240h0"/><path stroke="#840000" d="M294 19h0m0 192h0m0 207h0m0 66h0m0 162h0m0 9h0m1-630h0m0 138h0m2 527h0m1-82h0m0 13h0m2-181h0m0 105h0m4-336h0m5 366h0m368-441h0m0 419h0m89-249h0m1-282h0m0 492h0m0 27h0m5-43h0m1-450h0m10 479h0m1-411h0m0 63h0m0 3h0m0 231h0m0 93h0m7-58h0m1-174h0m0 15h0m0 57h0m0 195h0m0 36h0m0 45h0m0 72h0m7-428h0m121 408h0m1-444h0m0 180h0m1-348h0m0 516h0m1-513h0m10 566h0m1-531h0m0 411h0m0 153h0m28-520h0m0 288h0m0 93h0m0 123h0m0 42h0m10-328h0m0 63h0m0 174h0m0 6h0m0 66h0m1-600h0m0 30h0m0 132h0m0 429h0m40-638h0m0 126h0m0 3h0m0 162h0m0 111h0m0 63h0m0 51h0m1-450h0m9 86h0m0 144h0m0 258h0m6-120h0m1-42h0m1 36h0m8-165h0m0 135h0m0 159h0m0 24h0m0 27h0"/><path stroke="#000dff" d="M293 670h0m6-251h0m9 24h0m448-420h0m28-6h0m8 77h0m6 310h0m1-267h0m135 248h0m28-4h0m0 63h0m10 251h0m67 0h0"/><path stroke="#0000df" d="M309 518h0m0 177h0m482-124h0m1-195h0m129 4h0m51-303h0m51 108h0"/><path stroke="#66ff90" d="M295 514h0m2-70h0m11-286h0m121 296h0m28-19h0m4 76h0m36 12h0m60-143h0m5 65h0m27 113h0m3-139h0m4 17h0m4-55h0m13-34h0m8 94h0m19 126h0m36-109h0m19-153h0m9 297h0m31-242h0m15 64h0m2 77h0m9-68h0m2-60h0m10 260h0m3-58h0m3-177h0m4-54h0m7-21h0m10 93h0m18 22h0m16-53h0m3 40h0m17-27h0m0 174h0m2-236h0m20-8h0m10 117h0m6-126h0m11 172h0m2-183h0m16 117h0m1 57h0m3-209h0m6 190h0m1-27h0m1 168h0m1-303h0m28-43h0m0 312h0m1-483h0m1 274h0m3-56h0m5 81h0m2 213h0m7-190h0m6-63h0m0 225h0m10-84h0m1-151h0m7 56h0m14 134h0m3-41h0m1-138h0m7-252h0m0 242h0m1 167h0"/><path stroke="#eeff09" d="M293 540h0m1-347h0m1 198h0m2-163h0m1 158h0m1 291h0m7-606h0m3 45h0m0 138h0m0 96h0m0 42h0m0 108h0m458-250h0m5 344h0m0 9h0m27-376h0m1-129h0m0 186h0m121-231h0m1 480h0m0 6h0m11 137h0m29-58h0m10-595h0m0 216h0m0 162h0m1-327h0m40-20h0m0 441h0m1 117h0m9-544h0m7 201h0m8-189h0m1 3h0m0 213h0"/><path stroke="#df0000" d="M294 568h0m5-440h0m9 225h0m1 21h0m368-298h0m96 230h0m10 110h0m9-307h0m7 349h0m0 75h0m0 165h0m123-90h0m11-466h0m30 308h0m10 203h0m39-476h0m11 92h0m15 396h0"/><path stroke="#90ff66" d="M293 36h0m1 649h0m1-252h0m0 123h0m1-24h0m1-145h0m1-301h0m11 564h0m91-143h0m80-92h0m5 77h0m37 59h0m47-82h0m25 27h0m90 51h0m8-196h0m58-110h0m1-93h0m16 123h0m16 79h0m1-246h0m0 546h0m8-229h0m0 231h0m5-352h0m2-262h0m0 612h0m10-143h0m34-112h0m9 24h0m22-107h0m30 234h0m9-29h0m8-83h0m1-354h0m11 170h0m30 293h0m7-26h0m2-140h0m1-99h0m0 66h0m16 27h0m25-191h0m9 125h0m7 108h0m10 93h0"/><path stroke="#39ffbe" d="M293 604h0m6-173h0m338 69h0m9-66h0m72 61h0m32 31h0m42-492h0m51 416h0m71 19h0m7 181h0m1-618h0m6 530h0m35-211h0m9-172h0m0 267h0m1-156h0"/><path stroke="#ff9400" d="M292 21h0m5 516h0m475-498h0m12 53h0m8 29h0m1 417h0m5 10h0m1 141h0m1-528h0m122-138h0m0 474h0m12-1h0m28-58h0m1-276h0m10 455h0m0 60h0m40-659h0m1 246h0m0 84h0m9 80h0m7 33h0m0 126h0"/><path stroke="#c1ff36" d="M294 421h0m3 131h0m2-529h0m5 522h0m4-267h0m443 287h0m1-234h0m20 266h0m12-496h0m0 387h0m8-196h0m0 9h0m6 43h0m0 159h0m1-309h0m121-42h0m1 546h0m1-570h0m11 338h0m1-306h0m0 348h0m17-451h0m12 153h0m0 342h0m9 56h0m1-336h0m0 264h0m0 84h0m50 12h0m6-438h0m1 375h0m9-276h0"/><path stroke="#0080ff" d="M297 624h0m470-287h0m6-106h0m25 299h0m1 12h0m123-345h0m0 423h0m0 42h0m28-191h0m12 117h0m2 9h0m65-13h0"/><path stroke="#000084" d="M292 66h0m1 321h0m0 271h0m1-480h0m0 33h0m0 252h0m1 168h0m1-594h0m0 6h0m1 501h0m0 125h0m1-651h0m0 56h0m0 67h0m379 273h0m73-356h0m1 147h0m6-107h0m10-58h0m5 332h0m2 165h0m9-145h0m9-223h0m0 303h0m0 33h0m0 171h0m0 9h0m1-345h0m6-236h0m0 141h0m0 36h0m0 315h0m0 57h0m122-444h0m1-189h0m0 138h0m0 387h0m0 42h0m0 54h0m0 42h0m1-636h0m11 275h0m0 348h0m28-331h0m0 117h0m1-258h0m9 467h0m0 15h0m41-173h0m1-366h0m9 59h0m0 291h0m6 90h0m1-474h0m9 120h0m0 138h0m0 177h0m1 132h0"/><path stroke="#00b4ff" d="M294 16h0m1 102h0m0 327h0m1-297h0m1 461h0m2-115h0m452-19h0m32-284h0m9 179h0m7 118h0m0 123h0m123 24h0m41-551h0m0 81h0m9 35h0m0 219h0m51 33h0m15-270h0m1 39h0m0 99h0m0 378h0"/><path stroke="#ff6000" d="M295 478h0m4-263h0m5 258h0m0 24h0m1-285h0m0 60h0m4-51h0m442 317h0m8-518h0m8 599h0m16-593h0m9 347h0m8-149h0m123 351h0m10-535h0m106 418h0"/><path stroke="#ffcc00" d="M292 618h0m1-590h0m1 153h0m4-26h0m10 297h0m442-4h0m33 121h0m1-72h0m0 201h0m8-466h0m0 120h0m7 238h0m0 24h0m122-450h0m0 474h0m1-624h0m11 665h0m1-645h0m28 548h0m10-475h0m0 18h0m1 171h0m40-203h0m0 153h0m10-136h0m0 351h0m16 117h0"/><path stroke="#0045ff" d="M295 40h0m4 493h0m484-306h0m8 308h0m143-300h0m0 291h0m28-340h0m0 126h0m10-7h0m57-213h0"/><path stroke="#ffcc00" d="M297 105h0m1-79h0m10 396h0m1-300h0m1 174h0m0 240h0m462-485h0m0 18h0m10 383h0m2 24h0m9-112h0m6-173h0m123 177h0m0 195h0m12-454h0m0 291h0m0 69h0m17-223h0m22 143h0m0 111h0m40-356h0m0 24h0m10 245h0m16-189h0"/><path stroke="#90ff66" d="M292 120h0m1 468h0m0 76h0m0 5h0m1-125h0m1 3h0m0 12h0m2 86h0m1-144h0m1-46h0m5-57h0m1-339h0m4 603h0m75-280h0m15 77h0m77-127h0m27 77h0m117 32h0m1-69h0m38 114h0m53-32h0m38 168h0m2-144h0m13-13h0m3-299h0m5-124h0m1 276h0m1 70h0m9 148h0m8-130h0m6-59h0m1-111h0m0 87h0m0 129h0m0 47h0m1-80h0m58-90h0m63 90h0m10-56h0m3-326h0m0 153h0m25 380h0m13-313h0m0 114h0m0 261h0m7-168h0m16-167h0m17 179h0m12-273h0m6 114h0m9 246h0"/><path stroke="#39ffbe" d="M295 412h0m1-33h0m3-254h0m9-105h0m209 573h0m26-104h0m92-70h0m73-67h0m67 151h0m8-204h0m9-166h0m6 487h0m2-93h0m36-196h0m38 218h0m47-217h0m12 281h0m29-349h0m0 108h0m48 32h0m0 8h0m12-200h0m8 302h0m0 7h0m0 72h0m9-543h0"/><path stroke="#09f0ee" d="M297 648h0m11-580h0m476 294h0m9 32h0m7-194h0m121 300h0m1-312h0m0 264h0m12 80h0m1 21h0m27-58h0m61-349h0m16 222h0"/><path stroke="#0000df" d="M295 133h0m1-84h0m2 619h0m494-337h0m130-128h0m11 17h0m1-9h0m28-94h0m1 507h0m61-178h0m15-360h0"/><path stroke="#000dff" d="M293 499h0m2-3h0m10-74h0m468 40h0m9-31h0m181-392h0m9 224h0m57 351h0m10-234h0"/><path stroke="#00b4ff" d="M292 567h0m17-373h0m489 57h0m124 153h0m0 222h0m41-149h0m10-190h0m0 69h0m39-272h0m2-45h0m25 14h0m0 279h0"/><path stroke="#df0000" d="M293 373h0m4-325h0m1 138h0m1 452h0m10-78h0m475-156h0m15-312h0m0 579h0m1-456h0m121 174h0m41-266h0m10-28h0m0 207h0"/><path stroke="#ff6000" d="M294 205h0m4-116h0m11-54h0m448 513h0m26-381h0m9-106h0m0 219h0m0 135h0m0 93h0m0 150h0m141-480h0m39-80h0m0 405h0m1-414h0m65 330h0m1-9h0"/><path stroke="#000084" d="M292 183h0m2-158h0m0 483h0m1 150h0m1-567h0m0 83h0m0 307h0m1-448h0m0 87h0m0 576h0m1-150h0m0 30h0m1-142h0m0 24h0m0 141h0m1-114h0m0 150h0m4-597h0m4 12h0m1 333h0m356-57h0m85-190h0m22-52h0m0 198h0m1-264h0m0 420h0m10-367h0m0 135h0m0 117h0m1-30h0m0 102h0m1 237h0m6-556h0m2-63h0m0 654h0m6-584h0m0 12h0m0 162h0m0 93h0m1 159h0m122-204h0m0 111h0m0 90h0m0 12h0m0 93h0m11-13h0m0 9h0m0 78h0m1-627h0m0 69h0m0 111h0m0 276h0m28-25h0m1-198h0m0 93h0m8 191h0m2-516h0m0 447h0m0 48h0m0 15h0m40-344h0m0 459h0m1-510h0m10 443h0m6-600h0m1 648h0m8-651h0m0 534h0"/><path stroke="#c1ff36" d="M292 675h0m2-644h0m1 504h0m0 84h0m1 60h0m1-211h0m1 216h0m1-475h0m10-144h0m0 603h0m458-481h0m0 390h0m16-83h0m1-372h0m0 207h0m8 140h0m0 90h0m7-371h0m0 357h0m1-480h0m122 6h0m0 576h0m11-442h0m1-39h0m0 15h0m27 392h0m2-171h0m0 249h0m9-331h0m58 3h0m8 213h0m1-234h0"/><path stroke="#eeff09" d="M293 58h0m0 419h0m2-323h0m1 318h0m3-308h0m10 123h0m0 258h0m0 102h0m457-337h0m1 195h0m5 164h0m1-159h0m11-403h0m137 153h0m0 345h0m1-519h0m0 27h0m0 477h0m0 9h0m12-427h0m18 215h0m10 282h0m10-202h0m1-438h0m0 153h0m0 246h0m0 120h0m40-350h0m0 54h0m10-208h0m7 96h0m9 6h0"/><path stroke="#0080ff" d="M304 509h0m480-429h0m8 248h0m141-279h0m29-7h0m0 15h0m67-34h0m1 297h0"/><path stroke="#840000" d="M292 24h0m0 36h0m1 202h0m0 431h0m1-635h0m0 393h0m0 186h0m2-243h0m1-343h0m0 345h0m0 45h0m1-426h0m0 677h0m1-675h0m0 24h0m0 348h0m6-369h0m0 498h0m0 123h0m0 6h0m3-420h0m0 297h0m1-285h0m368 304h0m74-11h0m0 78h0m0 33h0m16-216h0m0 126h0m0 33h0m0 48h0m5-553h0m0 285h0m1-270h0m0 42h0m0 198h0m0 312h0m0 12h0m10-397h0m0 45h0m0 195h0m1-192h0m0 288h0m0 54h0m7-403h0m0 168h0m1-354h0m0 162h0m0 36h0m0 264h0m7-425h0m0 33h0m0 183h0m0 105h0m0 114h0m1-408h0m0 24h0m121 21h0m0 75h0m1-36h0m0 3h0m0 105h0m11-127h0m0 441h0m1-186h0m28-430h0m0 267h0m1-237h0m9 635h0m1-468h0m0 249h0m0 9h0m0 57h0m0 63h0m0 48h0m0 33h0m1-87h0m39-506h0m0 168h0m9 23h0m7 264h0m0 63h0m1-201h0m9-339h0m0 69h0m0 3h0m0 30h0m0 180h0m0 30h0"/><path stroke="#ff2d00" d="M295 448h0m2-256h0m1-55h0m0 453h0m2-81h0m450-364h0m0 372h0m34-374h0m0 27h0m0 303h0m7-388h0m131 472h0m40-398h0m0 537h0m1-198h0m10 146h0m49 21h0m1-441h0"/><path stroke="#66ff90" d="M294 442h0m0 51h0m1-93h0m2-286h0m0 309h0m11 5h0m0 120h0m38-26h0m103 128h0m4-99h0m30-65h0m47-143h0m0 109h0m18-34h0m24 55h0m20-8h0m9 92h0m3-10h0m33-112h0m7-118h0m6 174h0m5-126h0m4 70h0m2-19h0m37 73h0m13-11h0m1-98h0m10-129h0m1 86h0m40-318h0m4 144h0m6 491h0m7-173h0m4-56h0m2 92h0m5-75h0m2-126h0m1-237h0m2 397h0m2 219h0m33-237h0m26-173h0m12 79h0m23 101h0m4-155h0m18 66h0m8-80h0m19 88h0m6 141h0m2-114h0m18 193h0m15-238h0m2-19h0m11 129h0m18 178h0m4-208h0m4-21h0m2 267h0m8-100h0m7-157h0m1-310h0"/><path stroke="#ff9400" d="M293 636h0m4-507h0m8 65h0m3-150h0m0 15h0m449 318h0m10-346h0m0 141h0m17 256h0m0 249h0m7-274h0m1-192h0m0 9h0m6 85h0m0 336h0m1-459h0m123-138h0m0 12h0m0 282h0m12 212h0m29-190h0m9-184h0m0 273h0m1-255h0m50 66h0m7 75h0m9-144h0m0 333h0m1 159h0"/><path stroke="#00b4ff" d="M295 76h0m0 81h0m2 449h0m1-193h0m0 39h0m0 171h0m486-132h0m138-129h0m11 260h0m40-404h0m49-189h0"/><path stroke="#09f0ee" d="M294 460h0m1-363h0m1 33h0m2 517h0m0 42h0m1-528h0m5 285h0m479-237h0m1 456h0m8 14h0m1-219h0m0 114h0m237-86h0m8-324h0m1-102h0m0 555h0"/><path stroke="#0080ff" d="M299 149h0m9 507h0m1-192h0m463-161h0m11 365h0m9-514h0m0 18h0m0 501h0m231-146h0"/><path stroke="#c1ff36" d="M292 468h0m0 213h0m2-86h0m3-439h0m0 429h0m2-454h0m10 57h0m0 327h0m457-307h0m0 360h0m1 57h0m6-385h0m10-127h0m9 128h0m129 229h0m0 57h0m1-210h0m0 255h0m12-385h0m29-121h0m60 542h0m7-138h0m9 120h0m0 48h0"/><path stroke="#000084" d="M293 67h0m0 99h0m0 258h0m0 12h0m0 92h0m0 166h0m1-618h0m0 48h0m0 285h0m0 273h0m2-105h0m1-460h0m0 342h0m0 120h0m0 51h0m1-576h0m1 326h0m5-174h0m2 24h0m2-33h0m1 135h0m0 45h0m0 96h0m442-388h0m0 129h0m0 282h0m16-75h0m5-25h0m1-273h0m0 369h0m10-430h0m1 240h0m0 240h0m0 93h0m1-591h0m7 305h0m0 84h0m0 150h0m1-501h0m0 33h0m0 9h0m5 367h0m1-456h0m0 426h0m0 99h0m122-462h0m0 210h0m0 21h0m1 150h0m0 150h0m0 3h0m11-361h0m0 168h0m29-19h0m1-228h0m10 245h0m1-228h0m39 274h0m9-4h0m1 105h0m7-258h0m0 12h0m9 330h0"/><path stroke="#ff9400" d="M292 510h0m5 117h0m1-585h0m1-7h0m6 45h0m445 479h0m21-184h0m1-27h0m1 117h0m0 30h0m10-163h0m15-246h0m0 39h0m2 51h0m121 93h0m1 177h0m12-163h0m0 129h0m0 150h0m38 16h0m1-249h0m39-293h0m10 179h0m1-168h0m7 15h0m0 627h0m9-363h0m0 69h0"/><path stroke="#df0000" d="M295 142h0m10-56h0m468-65h0m11 257h0m8 359h0m1-156h0m6-449h0m124 243h0m11 179h0m18-346h0m10 477h0m10-418h0m51 168h0"/><path stroke="#ff2d00" d="M292 399h0m1 214h0m11-17h0m1 69h0m462-73h0m5-433h0m20 106h0m141 96h0m0 186h0m18 80h0m21 29h0m1-177h0m57 180h0m9-567h0"/><path stroke="#000dff" d="M295 61h0m0 336h0m2 170h0m0 87h0m7-199h0m447-421h0m48 601h0m123-18h0m40-410h0m0 273h0m11-244h0m39-131h0m1 363h0m10-118h0"/><path stroke="#90ff66" d="M297 201h0m0 201h0m2 149h0m10-189h0m9 173h0m0 33h0m160-173h0m10 92h0m76 92h0m3-97h0m9-56h0m86 49h0m88 114h0m2-525h0m6 97h0m8 167h0m1-39h0m5 218h0m1-450h0m0 324h0m10-157h0m0 24h0m0 432h0m1 9h0m8-544h0m0 138h0m0 378h0m21-24h0m10-312h0m18 277h0m79-166h0m13-300h0m1-60h0m0 72h0m0 141h0m37 184h0m2-120h0m0 294h0m9-242h0m24-49h0m7 67h0m10 230h0m15-540h0m1 528h0"/><path stroke="#66ff90" d="M292 579h0m1-428h0m3-70h0m10 536h0m47-64h0m9-181h0m43 157h0m132-16h0m45-128h0m8-42h0m9 121h0m3 75h0m20-160h0m4-17h0m3 65h0m16 117h0m16-100h0m51 74h0m26-227h0m0 40h0m1 216h0m12-270h0m0 23h0m1 69h0m22 136h0m9-66h0m1-173h0m0 69h0m8 269h0m7-458h0m6 399h0m16-83h0m3 5h0m3-3h0m27-119h0m3 39h0m18 51h0m4-148h0m14 15h0m21 144h0m15-53h0m4 39h0m1-125h0m5 135h0m6-142h0m6 103h0m6 92h0m5 189h0m2-276h0m3-34h0m5-99h0m1-147h0m1 390h0m13-178h0m4-20h0m8 63h0m0 141h0m1-31h0m10-69h0m8 132h0m8-167h0m4 291h0m2-242h0m3 151h0m4-251h0"/><path stroke="#ffcc00" d="M293 208h0m0 306h0m3 96h0m1-517h0m0 549h0m1-477h0m8 419h0m2-492h0m0 528h0m1 6h0m463-437h0m0 261h0m0 69h0m11-481h0m0 522h0m8 2h0m1 6h0m7-125h0m0 3h0m1-288h0m121 402h0m13-286h0m28 254h0m1-24h0m9-472h0m2 657h0"/><path stroke="#0000df" d="M293 219h0m5 251h0m0 195h0m1-48h0m10 6h0m463-494h0m12 515h0m14-171h0m1-333h0m223-99h0m17 48h0"/><path stroke="#0045ff" d="M295 175h0m9 4h0m4-24h0m1 231h0m464-332h0m0 573h0m19-371h0m7-197h0m122 102h0m13 299h0m28 140h0m1-138h0m50-84h0"/><path stroke="#840000" d="M293 640h0m0 12h0m0 9h0m1-222h0m0 192h0m1-516h0m0 426h0m0 54h0m1-456h0m1-82h0m0 342h0m0 132h0m1-328h0m1-183h0m0 174h0m0 6h0m10-99h0m0 159h0m1-36h0m440-37h0m0 399h0m1 84h0m15-555h0m1 288h0m0 273h0m5-574h0m0 561h0m11-244h0m0 99h0m0 105h0m0 48h0m1-639h0m0 102h0m0 54h0m8-136h0m0 171h0m0 177h0m0 9h0m0 123h0m1 75h0m6-596h0m0 156h0m0 171h0m0 99h0m1-48h0m122-249h0m0 30h0m0 48h0m0 9h0m0 63h0m0 108h0m0 93h0m12-460h0m0 51h0m0 114h0m0 339h0m17-82h0m10 105h0m1-480h0m0 141h0m1 57h0m0 57h0m9-250h0m0 69h0m0 474h0m0 72h0m1-663h0m0 483h0m40-65h0m0 198h0m1-117h0m8 125h0m1-117h0m0 15h0m0 81h0m6-516h0m1-24h0m0 270h0m0 96h0m0 3h0m0 12h0m9-312h0m0 51h0m0 159h0m0 39h0"/><path stroke="#eeff09" d="M292 483h0m1 36h0m1 94h0m3-262h0m2 137h0m452-295h0m7 430h0m9-574h0m0 147h0m5 203h0m1-36h0m0 150h0m19-77h0m7-188h0m121 78h0m1-189h0m0 9h0m1 78h0m11 221h0m1-342h0m28 272h0m0 18h0m0 12h0m1-117h0m9-19h0m41 28h0m9 44h0m8 132h0m8 180h0m1-414h0m0 120h0m0 288h0"/><path stroke="#ff6000" d="M294 520h0m3 95h0m2-136h0m6 3h0m4 24h0m474-225h0m0 402h0m2-648h0m14 372h0m122-318h0m0 297h0m1-312h0m0 21h0m0 240h0m13-202h0m16 218h0m11-84h0m1-195h0m1 3h0m8 251h0m41-44h0m26-160h0m0 207h0m0 6h0m0 21h0"/><path stroke="#39ffbe" d="M296 565h0m2-376h0m7 398h0m3-477h0m1 573h0m235-112h0m207-539h0m48 393h0m122 252h0m30-347h0m9-1h0m2-86h0m10-217h0m34 381h0m7-83h0"/><path stroke="#0000df" d="M1073 159h0m16-46h0m36 584h0m43-609h0"/><path stroke="#000084" d="M1040 170h0m0 27h0m0 156h0m33-227h0m0 252h0m0 90h0m6 108h0m0 60h0m1-417h0m9-142h0m0 378h0m0 216h0m25-50h0m1 30h0m4-518h0m1 237h0m0 129h0m0 150h0m4-609h0m1 75h0m0 240h0m0 177h0m4-341h0m0 105h0m11 25h0m11-115h0m0 279h0m1-402h0m0 111h0m0 78h0m0 111h0m16-304h0m0 105h0m0 291h0m0 174h0m12-547h0m0 21h0m0 540h0m30-460h0m0 273h0m29-453h0"/><path stroke="#90ff66" d="M1040 518h0m8 20h0m23-325h0m2-195h0m16 359h0m26 13h0m4-209h0m0 279h0m5 45h0m1-306h0m0 396h0m5-230h0m1 189h0m2-253h0m2 351h0m6-49h0m2-78h0m8 158h0m1-348h0m4 36h0m0 201h0m23-320h0m2-156h0m8 407h0m1-447h0m0 21h0m0 21h0m0 81h0m0 60h0m0 114h0m0 156h0m0 135h0m0 54h0m1-675h0m0 81h0m0 30h0m0 33h0m0 36h0m0 57h0m0 18h0m0 3h0m0 67h0m0 29h0m0 27h0m0 33h0m0 9h0m0 18h0m0 36h0m0 12h0m0 105h0m6-285h0m11 138h0m3-372h0m1 250h0m7 146h0m26-92h0m1 157h0m25-285h0m22 153h0m10-48h0m11 38h0m8 103h0m3-77h0m0 128h0m2-139h0m54-12h0m4 208h0m5-149h0m33 17h0m6-128h0m1041 35h0m2-56h0m0 9h0m4 14h0m0 29h0"/><path stroke="#66ff90" d="M1063 381h0m9 40h0m17-170h0m0 117h0m23-88h0m8 59h0m1 283h0m4-179h0m0 17h0m0 186h0m1-133h0m3-74h0m1-59h0m12-2h0m0 60h0m10-343h0m0 9h0m0 477h0m2-184h0m2-149h0m0 279h0m5 40h0m2-114h0m1 37h0m9-101h0m7-114h0m0 307h0m10-232h0m2 213h0m1 1h0m14-195h0m2 287h0m1 39h0m8-168h0m1-211h0m3 144h0m6 30h0m1 71h0m8-176h0m1 146h0m4-216h0m0 55h0m1 22h0m13 59h0m5 14h0m6-179h0m0 159h0m1-81h0m1 78h0m4-117h0m6 188h0m2-21h0m9 103h0m3-130h0m4-58h0m0 132h0m3-249h0m7 136h0m9 122h0m8-78h0m1-61h0m18 26h0m11-144h0m13 188h0m4-41h0m5-56h0m17-64h0m0 142h0m12 14h0m43-20h0m1019-4h0"/><path stroke="#ffcc00" d="M1049 133h0m23 41h0m16 521h0m1-600h0m0 315h0m0 207h0m25-599h0m0 315h0m6 73h0m0 87h0m5-408h0m1 432h0m3 103h0m1-72h0m5 98h0m1-450h0m0 54h0m20 106h0m53 111h0m177-359h0"/><path stroke="#000dff" d="M1073 15h0m15 599h0m26-263h0m27-222h0m0 150h0m0 12h0m10 248h0m5-222h0"/><path stroke="#840000" d="M1040 17h0m0 186h0m0 96h0m0 15h0m0 129h0m9-82h0m23-100h0m0 417h0m1-558h0m6-18h0m0 9h0m0 147h0m0 186h0m0 60h0m0 114h0m1-135h0m8 110h0m0 36h0m1-597h0m0 153h0m0 267h0m1 180h0m24-557h0m0 138h0m0 381h0m0 3h0m1-426h0m4-35h0m0 267h0m1-45h0m0 222h0m0 75h0m4-276h0m0 273h0m1-519h0m0 57h0m0 141h0m0 276h0m5-536h0m0 114h0m5-124h0m0 213h0m0 99h0m0 165h0m5-361h0m0 84h0m0 363h0m1-603h0m0 123h0m0 39h0m0 72h0m0 255h0m11-256h0m0 135h0m0 93h0m0 6h0m0 6h0m5-288h0m10-67h0m0 6h0m0 396h0m1-384h0m0 24h0m0 120h0m12 35h0m0 180h0m1-183h0m9 266h0m8-229h0m0 39h0m187 270h0m39-119h0m1-309h0"/><path stroke="#0045ff" d="M1078 132h0m10 74h0m26-182h0m1 339h0m26-132h0m10 143h0m5 126h0m12-211h0m41-239h0m1 207h0"/><path stroke="#c1ff36" d="M1073 492h0m7 24h0m0 66h0m7-565h0m2 294h0m25 361h0m5-596h0m0 270h0m5-117h0m0 237h0m1-291h0m0 75h0m5 19h0m11 271h0m10-355h0m39 48h0m0 18h0m0 123h0m0 111h0m1 69h0m19 30h0m150 112h0m1108-335h0m2 9h0m1-15h0m0 9h0m0 9h0m1-20h0m0 13h0m0 15h0m1-23h0m0 23h0m0 6h0m0 12h0m0 5h0m1-44h0m0 3h0m0 40h0m1-38h0m0 39h0m1-19h0m0 15h0m1-34h0m0 11h0m0 21h0m2-11h0"/><path stroke="#09f0ee" d="M1072 336h0m7 162h0m0 15h0m41 175h0m32-227h0"/><path stroke="#df0000" d="M1072 681h0m1-204h0m0 114h0m5-165h0m11 185h0m25-563h0m6-8h0m0 159h0m5-51h0m5-116h0m0 321h0m11-95h0"/><path stroke="#39ffbe" d="M1079 114h0m20 136h0m17 20h0m9 283h0m4-218h0m1 348h0m1-272h0m5 67h0m15-287h0m30 139h0m28 235h0m1-212h0m53 45h0m13 107h0m90 16h0m15-19h0m39-41h0"/><path stroke="#ff6000" d="M1072 516h0m1-495h0m16 653h0m24-254h0m6-386h0m6 546h0m5-530h0m1 357h0m4-289h0m6 2h0m0 93h0m1 396h0m10-520h0m5 135h0m0 285h0m11 11h0m42-476h0m0 525h0"/><path stroke="#ff9400" d="M1040 644h0m33-311h0m7-168h0m34 174h0m5 247h0m23-136h0m10-223h0m0 87h0m0 105h0m17-376h0m10 131h0m0 96h0m1 111h0"/><path stroke="#0080ff" d="M1073 327h0m6-306h0m10 173h0m25 154h0m1-36h0m10-296h0m0 96h0m5 568h0m1-444h0m21 6h0"/><path stroke="#ff2d00" d="M1088 56h0m0 66h0m0 546h0m1-534h0m35-43h0m11 177h0m5 113h0m1-300h0m0 495h0m10-286h0m0 318h0m1-576h0m0 393h0m4-21h0m12 272h0m12-91h0m10-112h0m20 132h0"/><path stroke="#eeff09" d="M1040 26h0m9 458h0m24 110h0m46-479h0m4 21h0m2 51h0m0 60h0m5-182h0m0 468h0m5 11h0m16-188h0m1 87h0m0 156h0m5 45h0m12-22h0m41 10h0"/><path stroke="#00b4ff" d="M1072 84h0m58 569h0m5-325h0m6-268h0"/><path stroke="#0000df" d="M1040 23h0m39 40h0m0 90h0m10 443h0m1-42h0m30-277h0m15 81h0m33-273h0"/><path stroke="#c1ff36" d="M1040 476h0m39-254h0m0 54h0m0 48h0m11 107h0m24-332h0m6 163h0m6 171h0m3 43h0m1-414h0m6 65h0m15-71h0m1 72h0m0 513h0m15-601h0m1 24h0m0 198h0m0 327h0m12-451h0m10 8h0m0 72h0m0 189h0m0 198h0m0 63h0m1-486h0m6 59h0m1272 137h0m2 3h0m1-32h0m0 3h0m0 7h0m0 3h0m0 15h0m0 27h0m0 5h0m1-42h0m0 11h0m0 21h0m0 0h0m0 13h0m0 0h0m1-65h0m0 14h0m0 12h0m0 27h0m1-18h0m1 8h0m0 17h0m2-49h0m0 22h0"/><path stroke="#0045ff" d="M1040 257h0m48 390h0m42-423h0m5 137h0m0 204h0m22 112h0m54-321h0"/><path stroke="#ff9400" d="M1040 437h0m33 46h0m6 168h0m9-610h0m2 162h0m25-17h0m9 463h0m2-108h0m4 1h0m0 9h0m10-83h0m2-243h0m10-10h0m4 228h0m1 159h0m23-260h0m30-199h0"/><path stroke="#00b4ff" d="M1040 77h0m49 111h0m0 330h0m25-416h0m6 310h0m11 22h0m4-193h0m5 89h0m1-177h0m15 401h0"/><path stroke="#09f0ee" d="M1072 369h0m6-195h0m1 51h0m35 237h0m1 150h0m5-86h0m0 27h0m4-474h0m2 456h0m15-325h0m27 484h0"/><path stroke="#ffcc00" d="M1072 210h0m0 210h0m7-327h0m9 413h0m31-424h0m0 609h0m16-165h0m0 171h0m6-91h0m11-496h0m0 129h0m5-63h0m11-64h0m0 405h0m1-315h0m10 224h0m1-405h0m0 594h0"/><path stroke="#66ff90" d="M1040 41h0m0 114h0m3 205h0m4 47h0m9-98h0m17 66h0m1 53h0m2 170h0m3-298h0m0 264h0m0 33h0m1-252h0m7 81h0m0 29h0m2-138h0m0 186h0m8-32h0m2 25h0m2-44h0m7 27h0m17-286h0m0 327h0m16 128h0m5-290h0m4-314h0m13 431h0m3-84h0m3-357h0m1 338h0m1 211h0m6-110h0m3 64h0m7-218h0m2 91h0m1 39h0m1-336h0m13 257h0m3 80h0m2-349h0m0 243h0m1-186h0m1 260h0m1 59h0m4-51h0m20-49h0m0 96h0m3-181h0m0 14h0m6 75h0m2-29h0m9-57h0m3 95h0m3 18h0m5 100h0m9-83h0m10 12h0m3-22h0m7-24h0m1 158h0m1-6h0m5-188h0m13-59h0m2 290h0m4-172h0m0 149h0m4-40h0m1-86h0m0 41h0m3 104h0m4-80h0m16-37h0m5-146h0m3 80h0m0 43h0m1 64h0m2-231h0m10 245h0m9-154h0m9-43h0m2 94h0m1-11h0m14 66h0m2-72h0m0 58h0m5-22h0m3 58h0m3 30h0m5-81h0m3 33h0m1-157h0m13 68h0m2 55h0"/><path stroke="#000084" d="M1072 558h0m1-111h0m7-348h0m0 306h0m9-151h0m1 195h0m24-227h0m0 219h0m1-372h0m0 156h0m4 232h0m0 33h0m1-297h0m4 3h0m0 315h0m6-149h0m5 224h0m6-322h0m10 62h0m0 96h0m6 27h0m11 188h0m1-315h0m12 143h0m9-151h0m19 207h0m0 36h0m1-309h0m0 339h0"/><path stroke="#eeff09" d="M1049 451h0m39-365h0m0 42h0m1-57h0m0 606h0m25-461h0m1 309h0m5-152h0m1 228h0m3-420h0m1 123h0m0 33h0m0 99h0m0 165h0m10-183h0m6-172h0m10 50h0m6 123h0m11 116h0m1-135h0m216 254h0m1086-254h0m2 2h0"/><path stroke="#000dff" d="M1040 425h0m50-159h0m40 135h0m5-310h0m0 96h0m16 304h0m0 201h0m5-264h0m42-70h0"/><path stroke="#840000" d="M1072 171h0m0 366h0m1-435h0m0 378h0m0 48h0m0 39h0m5-315h0m0 96h0m1-261h0m0 69h0m0 87h0m0 429h0m0 24h0m1-498h0m0 114h0m0 138h0m8-94h0m1 39h0m0 21h0m0 186h0m1-357h0m0 129h0m24-341h0m0 375h0m1-135h0m0 102h0m0 303h0m4-641h0m0 90h0m0 225h0m1-294h0m0 51h0m0 75h0m0 183h0m0 18h0m0 39h0m5-252h0m0 489h0m0 6h0m1-183h0m4-206h0m0 105h0m0 273h0m0 15h0m1-171h0m0 126h0m3 8h0m1-462h0m0 3h0m0 498h0m0 15h0m1-507h0m5-163h0m0 132h0m0 252h0m0 243h0m1-321h0m9-124h0m0 36h0m0 333h0m1-270h0m0 372h0m5-519h0m0 90h0m0 363h0m11-244h0m0 57h0m0 141h0m0 15h0m12-418h0m0 492h0m1-288h0m28-184h0m0 117h0m0 45h0m0 300h0m1-330h0m0 264h0m1-477h0m0 495h0m213-360h0"/><path stroke="#ff6000" d="M1040 323h0m10 158h0m39-446h0m26 481h0m4-386h0m1 486h0m6-30h0m9-567h0m15 592h0m1-264h0m0 132h0m5-180h0m33 258h0"/><path stroke="#ff2d00" d="M1040 32h0m33 16h0m7 222h0m8 365h0m1-423h0m26-146h0m0 330h0m5-86h0m0 261h0m20-289h0m0 171h0m1-138h0m11 218h0m5 48h0m33-141h0"/><path stroke="#0080ff" d="M1072 96h0m0 360h0m1-318h0m41 426h0m10-188h0m6 190h0m6-367h0m32 246h0"/><path stroke="#90ff66" d="M1041 571h0m38-241h0m0 258h0m10-28h0m25-329h0m0 255h0m1-369h0m0 207h0m4 205h0m7-363h0m4 271h0m6-220h0m0 297h0m4-172h0m16 170h0m0 57h0m1 114h0m22-458h0m1 33h0m0 189h0m9-337h0m1-99h0m0 21h0m0 3h0m0 18h0m0 42h0m0 90h0m0 126h0m0 27h0m0 84h0m0 6h0m0 33h0m0 9h0m0 48h0m0 9h0m0 18h0m0 21h0m0 18h0m0 9h0m0 27h0m0 18h0m1-576h0m0 6h0m0 48h0m0 33h0m0 12h0m0 174h0m0 6h0m0 54h0m0 30h0m0 108h0m0 54h0m7 107h0m12-293h0m6-5h0m26 65h0m20-111h0m9 89h0m10 58h0m20-201h0m0 178h0m17-186h0m4 130h0m48-31h0m18 116h0m41-91h0m1035-48h0m6-6h0m1-2h0m1-9h0m0 58h0m2-30h0m0 31h0"/><path stroke="#39ffbe" d="M1073 189h0m10 259h0m6-91h0m25 108h0m5 29h0m6-82h0m26-335h0m13 419h0m16-268h0m3 364h0m45-127h0m99 0h0m7-62h0m26-20h0m48-33h0m29 169h0"/><path stroke="#df0000" d="M1072 636h0m17-361h0m0 219h0m25 148h0m10-614h0m6 61h0m0 351h0m5-373h0m17 295h0m58-222h0"/><path stroke="#840000" d="M1040 650h0m32-464h0m0 36h0m1-192h0m0 87h0m0 126h0m0 183h0m6-306h0m0 237h0m1-282h0m0 15h0m0 261h0m7-28h0m1-27h0m0 45h0m0 171h0m1-351h0m0 384h0m1-57h0m23-185h0m1 12h0m0 69h0m0 48h0m0 78h0m0 183h0m1-639h0m0 237h0m4-56h0m0 84h0m0 300h0m0 24h0m0 24h0m6-444h0m6 67h0m0 123h0m0 96h0m4-214h0m5-1h0m1-114h0m0 318h0m0 165h0m10-616h0m0 216h0m0 123h0m0 117h0m1-336h0m0 36h0m0 339h0m1-132h0m3-351h0m0 3h0m0 24h0m0 456h0m1-501h0m0 180h0m0 315h0m0 9h0m11-370h0m0 69h0m0 33h0m11-184h0m1 204h0m0 18h0m0 39h0m1 33h0m9-217h0m0 462h0m20-360h0m214-34h0m21-10h0"/><path stroke="#000dff" d="M1073 579h0m16-424h0m30 377h0m11 70h0m11-176h0m27-203h0"/><path stroke="#000084" d="M1072 696h0m1-42h0m6-84h0m1-465h0m8 11h0m0 156h0m0 168h0m0 183h0m1-336h0m0 63h0m0 72h0m0 99h0m1 168h0m24-65h0m1-540h0m9-59h0m0 270h0m1-201h0m0 450h0m0 15h0m0 63h0m1-216h0m4-332h0m0 27h0m0 360h0m0 12h0m0 213h0m0 6h0m1-387h0m4-184h0m1-69h0m0 57h0m4-7h0m0 594h0m11-448h0m0 402h0m1-531h0m0 39h0m0 99h0m0 366h0m4 0h0m12-61h0m1-75h0m21-296h0m19 174h0m1 246h0m175 53h0"/><path stroke="#0080ff" d="M1040 434h0m40 67h0m45-92h0m55-4h0m30 44h0"/><path stroke="#39ffbe" d="M1079 396h0m0 125h0m0 124h0m9-463h0m1 171h0m26-86h0m9-206h0m1 567h0m15-493h0m11 143h0m4 319h0m13-326h0m0 177h0m1 231h0m11-649h0m23 399h0m33 119h0m61-161h0m80 31h0m4 128h0m36-141h0m6 23h0"/><path stroke="#c1ff36" d="M1040 266h0m0 369h0m33-287h0m6 36h0m9-142h0m1-144h0m0 501h0m25-176h0m1 36h0m9-134h0m0 228h0m11-51h0m1 51h0m6-415h0m14 380h0m11-64h0m1-51h0m12-118h0m1-177h0m9 260h0m0 156h0m1-474h0m0 24h0m0 48h0m6 467h0m1270-203h0m3-1h0m1-12h0m0 8h0m0 13h0m1-46h0m0 18h0m2 22h0m0 11h0m0 7h0m1-25h0m1 0h0m0 7h0m1 20h0"/><path stroke="#eeff09" d="M1040 566h0m8-202h0m1 81h0m23-145h0m2 393h0m5-609h0m9-10h0m1-45h0m0 204h0m0 318h0m25-431h0m0 12h0m0 294h0m5-215h0m11 106h0m5-85h0m5 269h0m11-196h0m1 45h0m5 174h0m11-250h0m12-34h0m0 210h0m11 185h0m20-588h0m174 589h0"/><path stroke="#90ff66" d="M1069 394h0m4 230h0m6-210h0m0 66h0m1-321h0m8 317h0m7-46h0m19 260h0m10-152h0m1-120h0m15-379h0m1-15h0m0 390h0m11 59h0m1-21h0m6 6h0m8-148h0m1 153h0m1-321h0m0 555h0m11-526h0m9 134h0m0 369h0m1-636h0m0 9h0m0 45h0m0 33h0m0 177h0m0 240h0m0 123h0m0 24h0m1-672h0m0 48h0m0 159h0m0 138h0m0 36h0m0 78h0m0 177h0m0 3h0m0 27h0m6-82h0m12-75h0m1 4h0m1-219h0m7 134h0m4-31h0m7 67h0m6-131h0m64 153h0m41-96h0m65 2h0m45-27h0m1021-12h0m0 29h0m1-45h0m1-5h0m0 6h0m0 2h0m0 25h0m1-3h0"/><path stroke="#ff9400" d="M1078 210h0m1-174h0m0 180h0m1 363h0m0 75h0m8-49h0m1-279h0m25 331h0m1-531h0m3 376h0m2-405h0m5 60h0m0 300h0m4-299h0m1 363h0m1-369h0m4 485h0m5-133h0m0 60h0m12-409h0m0 372h0m4-240h0m1 48h0m11 272h0m0 78h0m42-323h0m0 99h0m0 231h0"/><path stroke="#09f0ee" d="M1072 150h0m0 222h0m1-90h0m6 303h0m10-409h0m40-72h0m2 84h0m10 109h0m38 324h0"/><path stroke="#ff6000" d="M1073 603h0m15-133h0m1-324h0m0 147h0m36-40h0m0 387h0m5-380h0m4 83h0m18 217h0m16-313h0m0 243h0m11 14h0m1-432h0m0 189h0m10 149h0m19-357h0m1 156h0m0 261h0m0 123h0"/><path stroke="#ffcc00" d="M1079 66h0m10 272h0m0 75h0m31 137h0m10-467h0m0 312h0m11 40h0m10-7h0m2-294h0m3 174h0m0 45h0m0 63h0m11-73h0m2 87h0m10 158h0m1-474h0m10 101h0m18 0h0m2-147h0m0 474h0"/><path stroke="#00b4ff" d="M1072 69h0m1 318h0m84 77h0m0 165h0m53-123h0"/><path stroke="#0045ff" d="M1114 618h0m16-82h0m1-330h0m11 424h0m9-271h0m18 17h0"/><path stroke="#ff2d00" d="M1040 116h0m32 31h0m1 162h0m0 141h0m14-52h0m1-189h0m27 445h0m9-335h0m1 174h0m31-377h0m11 344h0m1-399h0m12 146h0"/><path stroke="#df0000" d="M1073 90h0m1 423h0m4-24h0m11 53h0m0 102h0m41-324h0m5 323h0m5-370h0m11-43h0m0 168h0m5-270h0m0 54h0m0 213h0m34-39h0m20 75h0"/><path stroke="#66ff90" d="M1048 454h0m3 22h0m2 71h0m20 29h0m6 15h0m0 18h0m1-317h0m17 92h0m23 292h0m6-366h0m0 125h0m1 60h0m3 11h0m3-75h0m13 66h0m5 135h0m4-144h0m1-393h0m0 279h0m4 30h0m8-283h0m4 186h0m6 85h0m2-272h0m10 86h0m0 180h0m0 189h0m1-333h0m0 177h0m44-42h0m4-61h0m0 100h0m3-26h0m7-60h0m3 72h0m1 93h0m10-144h0m0 143h0m13-95h0m4 133h0m3 21h0m22-92h0m1-18h0m3 69h0m15-152h0m0 4h0m0 46h0m2-108h0m7-12h0m1 88h0m10-92h0m0 119h0m6 70h0m2-32h0m28-28h0m17-28h0m11 21h0m7-58h0m4 57h0m8 14h0m7-23h0m3 3h0m6 27h0m4 17h0m3-60h0m1022 47h0m5-93h0"/><path stroke="#0000df" d="M1041 452h0m37 106h0m1-510h0m0 81h0m41 67h0m22-109h0m26 286h0m192-85h0"/><path stroke="#09f0ee" d="M1073 474h0m15 11h0m27-176h0m10 280h0m5-554h0m0 249h0m5 113h0m17-17h0"/><path stroke="#90ff66" d="M1072 444h0m1 45h0m0 6h0m0 162h0m10-218h0m14 13h0m5 18h0m13-191h0m4-125h0m0 222h0m5-234h0m0 549h0m1-204h0m15-127h0m4 72h0m2 76h0m5-299h0m0 291h0m2-189h0m4 351h0m11-313h0m0 135h0m10-80h0m2 262h0m10-580h0m0 57h0m0 15h0m0 30h0m0 48h0m0 96h0m0 84h0m0 42h0m0 9h0m0 81h0m1-354h0m0 177h0m0 72h0m0 117h0m0 87h0m1-483h0m18-123h0m0 441h0m0 33h0m0 156h0m18-264h0m40 62h0m30-12h0m22-92h0m44 90h0m8 8h0m2-115h0m70-64h0m1025 88h0m2 6h0m1-30h0m1 5h0m0 4h0m0 35h0m4 0h0m2-7h0"/><path stroke="#0080ff" d="M1088 38h0m0 186h0m1 120h0m0 90h0m25-299h0m0 18h0m5 511h0m1-435h0m4-69h0m0 204h0m12 291h0m5-235h0m1-321h0m37 387h0m30-46h0"/><path stroke="#ff6000" d="M1040 101h0m32 364h0m7-420h0m0 204h0m1-198h0m9 440h0m0 78h0m25-191h0m0 180h0m5-437h0m1 273h0m4-189h0m27 460h0m5-324h0m24 214h0"/><path stroke="#840000" d="M1040 56h0m0 318h0m0 111h0m0 18h0m0 72h0m9-88h0m23-406h0m0 588h0m1-627h0m0 390h0m0 186h0m7-414h0m0 237h0m8-337h0m1-81h0m0 261h0m0 105h0m0 120h0m0 78h0m0 96h0m1-186h0m25-302h0m0 132h0m0 282h0m4-509h0m0 3h0m0 21h0m0 51h0m0 57h0m1 117h0m4-231h0m0 138h0m0 87h0m0 96h0m1-372h0m0 6h0m0 51h0m0 390h0m4-86h0m11 127h0m1-423h0m0 72h0m0 243h0m0 132h0m0 6h0m10-442h0m0 312h0m0 159h0m0 39h0m1-615h0m0 135h0m0 9h0m4-156h0m0 129h0m1 465h0m11-448h0m0 84h0m0 363h0m11-274h0m0 165h0m1 9h0m10-250h0m0 339h0m1-36h0m0 105h0m7-316h0m12-83h0m0 303h0m0 39h0m1 27h0m232-423h0"/><path stroke="#66ff90" d="M1049 307h0m22-24h0m2-25h0m0 280h0m2-200h0m0 70h0m3-32h0m4 21h0m4-67h0m3-109h0m0 417h0m1-251h0m3-104h0m20 86h0m1 270h0m6-572h0m9 70h0m1 266h0m5-210h0m1 399h0m2-159h0m6-95h0m3 177h0m3-19h0m3-41h0m16 2h0m14-109h0m2 183h0m5 5h0m0 66h0m0 9h0m0 18h0m1-549h0m3 200h0m8 313h0m5-116h0m2-19h0m2-73h0m8 17h0m0 113h0m4-110h0m9-13h0m0 51h0m7 112h0m1 24h0m11-221h0m2 79h0m1 65h0m1-42h0m6-63h0m1 113h0m3-171h0m6 82h0m6-119h0m12 126h0m6-1h0m0 22h0m4 18h0m3-137h0m3 197h0m1-75h0m5-53h0m1-7h0m0 52h0m31 13h0m7 118h0m5-72h0m1-122h0m9 97h0m5 52h0m2-91h0m7-38h0m0 61h0m2-102h0m1 74h0m9-75h0m0 194h0m5-107h0m1 30h0m2-173h0m24 133h0m12-42h0m8 9h0m3 110h0m3-105h0"/><path stroke="#00b4ff" d="M1072 165h0m1 435h0m41 81h0m5-143h0m12-20h0m4-445h0m0 402h0m6-79h0m15 101h0m1-120h0m22-179h0m11-127h0m20 627h0"/><path stroke="#0045ff" d="M1156 626h0"/><path stroke="#000dff" d="M1072 612h0m1-291h0m58 158h0m79 12h0"/><path stroke="#ff9400" d="M1048 493h0m24 47h0m7-21h0m0 150h0m10-559h0m25 565h0m11-341h0m27-305h0m0 366h0m0 69h0m3-393h0m0 351h0m24 208h0m31-289h0m1-180h0"/><path stroke="#0000df" d="M1073 549h0m41-528h0m1 570h0m6-332h0m60 173h0m29-166h0m0 171h0"/><path stroke="#eeff09" d="M1072 390h0m0 114h0m1 21h0m15-481h0m0 291h0m0 69h0m26-377h0m6 268h0m0 42h0m10-107h0m0 228h0m5 143h0m6-394h0m11-61h0m5-3h0m10 74h0m1-123h0m12 587h0m30-460h0m0 207h0m0 174h0m1260-200h0m4 10h0m2-37h0m0 13h0"/><path stroke="#c1ff36" d="M1072 381h0m1 12h0m0 159h0m5-417h0m0 3h0m0 33h0m1-153h0m10 62h0m0 546h0m1-453h0m23 514h0m6 7h0m1-405h0m4 240h0m1-507h0m0 405h0m5-71h0m6-136h0m4-151h0m1 72h0m0 60h0m0 168h0m10-346h0m0 12h0m0 216h0m0 72h0m1-57h0m0 147h0m16-265h0m11 125h0m0 378h0m1-489h0m10-103h0m20-48h0m0 183h0m1257 180h0m1-10h0m1-6h0m2 24h0m0 4h0m1 19h0m1-6h0m1-29h0m0 34h0m0 7h0m0 1h0m1-3h0m1-17h0"/><path stroke="#ff2d00" d="M1072 588h0m1-537h0m0 42h0m0 318h0m0 204h0m0 6h0m16-364h0m30 428h0m16-189h0m6 119h0m17-37h0m52-78h0"/><path stroke="#39ffbe" d="M1042 426h0m30-174h0m0 51h0m4 218h0m13-363h0m0 90h0m41-162h0m0 96h0m0 330h0m6 35h0m5-385h0m11-121h0m13 399h0m3 164h0m42-416h0m42 346h0m6-40h0m3-81h0m21-28h0m34 77h0m6-23h0m10 29h0m2 107h0m4-272h0"/><path stroke="#000084" d="M1040 176h0m9 380h0m0 48h0m23-7h0m0 90h0m1-288h0m0 207h0m0 57h0m0 3h0m6-399h0m1 426h0m8-364h0m1-180h0m0 81h0m0 69h0m0 120h0m0 117h0m25-194h0m1 288h0m4-338h0m0 171h0m1-402h0m5 477h0m1 9h0m3 94h0m1-624h0m0 201h0m0 405h0m0 54h0m1-462h0m4-64h0m0 354h0m0 177h0m1-480h0m4 38h0m0 348h0m1 66h0m10-538h0m1 165h0m4-237h0m0 231h0m13 89h0m11-37h0m0 240h0m10 119h0m2-15h0m18-321h0m0 42h0m175 226h0"/><path stroke="#ffcc00" d="M1074 519h0m5-165h0m0 174h0m1-18h0m9-445h0m24 370h0m2-306h0m0 348h0m4-95h0m5-12h0m11 240h0m16-281h0m0 138h0m0 120h0m1 57h0m4-471h0m0 225h0m24-350h0m31 497h0m1263-134h0"/><path stroke="#df0000" d="M1078 342h0m11 215h0m31-139h0m5-291h0m0 273h0m5-206h0m0 3h0m5-109h0m1 123h0m4 11h0m1-63h0m10 497h0m17-112h0m12-43h0m0 39h0"/><path stroke="#000084" d="M1040 107h0m33 235h0m0 291h0m1-489h0m5 489h0m9-355h0m0 93h0m1-12h0m0 27h0m25-281h0m0 78h0m1 72h0m0 330h0m5-131h0m0 135h0m0 51h0m4-36h0m0 60h0m1-453h0m5 121h0m0 123h0m0 156h0m1-504h0m0 537h0m4-418h0m5 257h0m1-357h0m0 90h0m0 117h0m10-157h0m0 36h0m0 366h0m1-360h0m4 312h0m0 165h0m23-116h0m0 21h0m1 69h0"/><path stroke="#000dff" d="M1072 168h0m57 191h0m23 159h0"/><path stroke="#0080ff" d="M1079 666h0m35-414h0m0 102h0m6 259h0m5-216h0m9 30h0m18-377h0m16 296h0m11-55h0m2 327h0m9-40h0"/><path stroke="#09f0ee" d="M1080 447h0m0 114h0m9-394h0m1 270h0m51 190h0m11-574h0m0 315h0m4-303h0m23 82h0"/><path stroke="#840000" d="M1040 233h0m0 180h0m33-68h0m0 327h0m1-516h0m5 33h0m0 378h0m1-327h0m8 23h0m1-195h0m0 21h0m0 30h0m0 108h0m0 156h0m0 9h0m0 15h0m0 108h0m0 24h0m0 21h0m0 60h0m30-448h0m0 225h0m0 108h0m1-162h0m4-27h0m1 33h0m0 12h0m1 312h0m4-617h0m0 75h0m0 33h0m0 111h0m0 228h0m1-252h0m0 264h0m4-457h0m0 306h0m0 39h0m5-100h0m0 291h0m1-537h0m0 51h0m0 351h0m0 21h0m0 189h0m10-445h0m0 348h0m0 57h0m1-183h0m0 108h0m0 30h0m4-324h0m0 255h0m0 6h0m0 36h0m1-447h0m0 180h0m11 275h0m0 63h0m12-442h0m0 405h0m0 66h0m1-603h0m29 65h0m0 93h0m0 27h0m0 174h0m0 12h0m0 252h0m154-609h0m22 146h0m38 32h0"/><path stroke="#ff9400" d="M1088 290h0m0 360h0m1-207h0m25 46h0m6-17h0m10 160h0m6-553h0m15 436h0m1 75h0m0 57h0m4-420h0m1 279h0m10 20h0m13-499h0m29 626h0"/><path stroke="#df0000" d="M1073 585h0m6-186h0m0 108h0m10 74h0m30-34h0m11-17h0m5-130h0m16-203h0m1 309h0m16-493h0m0 156h0m42 22h0m0 114h0m0 207h0"/><path stroke="#c1ff36" d="M1079 186h0m0 69h0m1-198h0m0 429h0m9-433h0m0 471h0m26-464h0m14 536h0m11-185h0m1 45h0m11-7h0m4-393h0m0 336h0m0 264h0m1-468h0m0 246h0m11-220h0m1 198h0m11-334h0m0 405h0m11-226h0m0 324h0m1278-189h0m0 9h0m1-23h0m1-28h0m0 14h0m0 30h0m1-47h0m0 28h0m0 15h0m0 17h0m1-45h0m0 7h0m1 11h0m0 11h0m0 14h0m0 3h0m0 4h0m1-20h0m1-8h0m0 15h0m2-21h0"/><path stroke="#39ffbe" d="M1079 69h0m1 348h0m9 116h0m25 103h0m17-370h0m21-195h0m15 263h0m1 297h0m1-36h0m11-151h0m28-52h0m113 32h0m53-128h0m42 273h0m2-136h0m7-71h0"/><path stroke="#00b4ff" d="M1073 249h0m7 168h0m39 244h0m1-609h0m5 156h0m16-154h0m11 635h0m5-282h0m11-142h0m0 243h0"/><path stroke="#0045ff" d="M1073 384h0m6-147h0m9 353h0m1-540h0m25 538h0m16-199h0m0 108h0m1-477h0m21 615h0m4-606h0m12 596h0"/><path stroke="#66ff90" d="M1066 313h0m13 47h0m0 180h0m5 35h0m5-513h0m0 30h0m0 189h0m0 24h0m4 18h0m3 141h0m2 55h0m9-43h0m7-239h0m6-11h0m3 320h0m1-179h0m0 87h0m1-11h0m0 97h0m5-238h0m0 24h0m0 59h0m5 45h0m2 129h0m4-151h0m0 66h0m0 192h0m10-433h0m2 245h0m0 25h0m4-303h0m10 197h0m13-19h0m7-1h0m0 58h0m4 260h0m2-337h0m15 140h0m1-144h0m1 9h0m3 17h0m3 20h0m5 4h0m2 85h0m1 25h0m13-12h0m7-89h0m4-74h0m7-35h0m2 38h0m8 134h0m9-120h0m12-2h0m2 181h0m10-141h0m7 190h0m1-118h0m6-96h0m2 202h0m2-105h0m1-98h0m2-64h0m4 30h0m8 69h0m1 73h0m1-192h0m0 114h0m10 9h0m7 130h0m3-155h0m7 69h0m2-126h0m2 125h0m5-5h0m3 9h0m2-66h0m5 135h0m7-69h0m23-163h0m10 167h0m8-70h0m0 49h0m10-13h0m3-58h0m0 100h0m4 133h0m3-16h0m3-182h0"/><path stroke="#ff6000" d="M1040 110h0m33-47h0m16 245h0m0 72h0m0 228h0m26-557h0m5 40h0m0 174h0m5-183h0m5-53h0m0 414h0m5 5h0m6-211h0m0 345h0m1-492h0m9 89h0m0 66h0m1 450h0m28-374h0m11 185h0m6-382h0"/><path stroke="#0000df" d="M1141 300h0m15 113h0m54-390h0m0 33h0m154 34h0"/><path stroke="#ffcc00" d="M1040 119h0m33-11h0m6 60h0m10 179h0m1-33h0m25 100h0m0 156h0m10-344h0m16 287h0m11-382h0m0 489h0m4-240h0m12-217h0m43-137h0"/><path stroke="#90ff66" d="M1040 290h0m25 117h0m7 283h0m1-273h0m7 183h0m35-57h0m4-104h0m1-186h0m0 426h0m5-402h0m5 352h0m5-13h0m7-289h0m14 233h0m1-198h0m11-304h0m0 267h0m11-25h0m10 59h0m1-339h0m0 6h0m0 102h0m0 45h0m0 48h0m0 63h0m0 81h0m0 36h0m0 93h0m0 165h0m0 21h0m1-435h0m0 30h0m0 12h0m0 9h0m0 21h0m0 3h0m0 3h0m0 3h0m0 57h0m0 243h0m1-537h0m16 375h0m8-2h0m8-113h0m24 21h0m11 192h0m13-118h0m7-86h0m10 95h0m67-130h0m13 153h0m5-84h0m10 29h0m1-13h0m0 142h0m8 10h0m8-223h0m8 106h0m3-43h0m13-49h0m1 45h0m6 153h0m1035-176h0m4-12h0m0 2h0m1-11h0m0 25h0m1-13h0m1-9h0m0 39h0m1-39h0m0 28h0"/><path stroke="#eeff09" d="M1073 354h0m6 258h0m9-472h0m26 364h0m1 51h0m4 22h0m1-417h0m5 495h0m5-509h0m0 270h0m0 231h0m1-492h0m5 239h0m4-43h0m1-162h0m1 45h0m14-151h0m0 264h0m12-301h0m0 285h0m0 165h0m12-79h0m30-46h0m1262 14h0m1 28h0"/><path stroke="#ff2d00" d="M1073 318h0m47 241h0m15 45h0m6-7h0m10-313h0m5-207h0m53 168h0m177 191h0"/><path stroke="#c1ff36" d="M1040 587h0m32-317h0m1-135h0m6-57h0m0 258h0m1-186h0m9 512h0m31-589h0m0 561h0m5-306h0m10 291h0m6-94h0m10-418h0m29 22h0m11 323h0m18-168h0m1259 87h0m0 0h0m0 27h0m1-20h0m1 20h0m1-21h0m0 25h0m1-53h0m0 11h0m0 11h0m0 38h0m1-52h0m0 6h0m0 15h0m0 22h0m0 6h0m0 7h0m1-57h0m0 35h0"/><path stroke="#0000df" d="M1089 401h0m0 66h0m30-316h0m6-63h0m66 178h0"/><path stroke="#66ff90" d="M1040 629h0m8-157h0m24 1h0m0 175h0m6-42h0m1-567h0m10 242h0m0 305h0m25-260h0m1 46h0m1 178h0m9-120h0m1 33h0m4-69h0m5 255h0m1-261h0m5-196h0m0 225h0m0 255h0m28-188h0m5-95h0m0 46h0m6-372h0m0 468h0m3 33h0m6-60h0m1-385h0m0 57h0m1 33h0m0 18h0m0 363h0m0 72h0m19-480h0m1 302h0m5-134h0m5 11h0m6 87h0m6-30h0m5-52h0m7-37h0m0 56h0m1 27h0m1-120h0m3 140h0m1 10h0m8-126h0m1 208h0m2 20h0m1-161h0m0 57h0m17-40h0m7 58h0m1-172h0m8 222h0m9 10h0m4-77h0m12-1h0m18-137h0m13 166h0m15-219h0m3 279h0m14-87h0m2 57h0m9-212h0m0 0h0m0 172h0m17-133h0m0 141h0m5 117h0m2-67h0m3-169h0m0 88h0m5-118h0m5 118h0m6-38h0"/><path stroke="#000084" d="M1040 173h0m33 166h0m0 84h0m6-102h0m0 18h0m0 27h0m0 171h0m1-228h0m0 333h0m0 45h0m8-490h0m1-138h0m0 303h0m0 294h0m25 28h0m2-606h0m3 190h0m0 93h0m1-117h0m0 36h0m0 3h0m0 213h0m0 111h0m5-558h0m0 564h0m5-446h0m0 231h0m10-14h0m2 105h0m9-73h0m0 264h0m1-459h0m0 276h0m5-366h0m0 30h0m10-43h0m1-81h0m0 54h0m0 297h0m1 264h0m10-415h0m1 336h0m11-142h0m18-105h0"/><path stroke="#ffcc00" d="M1040 65h0m32 397h0m1 180h0m6-267h0m0 117h0m9-409h0m1 417h0m0 48h0m0 27h0m31-430h0m5-69h0m6 52h0m9 472h0m1-429h0m0 24h0m10 503h0m18-220h0m11-286h0m0 441h0"/><path stroke="#ff2d00" d="M1079 234h0m0 297h0m36-366h0m4-80h0m22 302h0m0 183h0m11-418h0m5 114h0m0 84h0m22 196h0"/><path stroke="#0080ff" d="M1088 473h0m32 83h0m4-312h0m1 348h0m5-221h0m6-277h0m5 524h0m70 50h0"/><path stroke="#09f0ee" d="M1073 573h0m1-27h0m6-183h0m8 2h0m42 210h0m6-139h0m5-43h0"/><path stroke="#df0000" d="M1073 294h0m0 267h0m1-27h0m15-88h0m26-158h0m14-7h0m1 93h0m21 135h0m5-405h0m23 319h0m31-124h0"/><path stroke="#90ff66" d="M1040 206h0m0 291h0m4-122h0m5-182h0m24 8h0m6 333h0m1-321h0m0 216h0m9-211h0m0 354h0m2-246h0m20 101h0m3-142h0m0 168h0m1 21h0m4-65h0m4 147h0m1-126h0m6-362h0m5 360h0m1-61h0m5 326h0m1-546h0m14 185h0m1 306h0m10-301h0m1 177h0m0 24h0m19-31h0m2-352h0m1-141h0m0 27h0m0 42h0m0 54h0m0 3h0m0 57h0m0 3h0m0 129h0m0 15h0m0 36h0m0 9h0m0 24h0m0 66h0m0 3h0m0 39h0m0 18h0m1-510h0m0 72h0m0 147h0m0 6h0m0 138h0m0 42h0m0 96h0m15-60h0m4-396h0m0 273h0m1-258h0m0 528h0m1-300h0m2-67h0m20 338h0m33-195h0m48-36h0m3 227h0m7-267h0m8 100h0m5-2h0m7 88h0m18-86h0m4-19h0m3-50h0m2 4h0m7-24h0m3 125h0m3 193h0m17-314h0m17 66h0m18 130h0m3 21h0m1032-199h0m0 34h0m1 3h0m1-21h0m0 41h0m2-19h0m1-3h0m2-18h0"/><path stroke="#ff6000" d="M1073 405h0m5-114h0m1 99h0m10-226h0m1-39h0m30 146h0m0 60h0m4 9h0m1-282h0m1 72h0m14 362h0m2-156h0m0 27h0m14-40h0m0 294h0m12-166h0m23-320h0m0 216h0m19-312h0m1 219h0m175 322h0"/><path stroke="#ff9400" d="M1040 44h0m49 276h0m0 105h0m30-355h0m6-27h0m1 225h0m4 181h0m5-313h0m0 438h0m0 57h0m6-355h0m1-198h0m10 326h0m28 70h0m29 104h0m1 21h0"/><path stroke="#eeff09" d="M1072 99h0m1-27h0m6 474h0m1-438h0m40 214h0m4-177h0m1 240h0m5 46h0m11-92h0m10 98h0m0 84h0m1-453h0m4-54h0m0 99h0m1-93h0m11 626h0m12-628h0m0 51h0m0 393h0"/><path stroke="#00b4ff" d="M1040 431h0m0 177h0m8-37h0m26-376h0m5-141h0m41 463h0m4 168h0m2-162h0m25-248h0m39 18h0"/><path stroke="#39ffbe" d="M1079 228h0m0 420h0m36-179h0m5-48h0m3 138h0m1-165h0m1 51h0m16 92h0m15-301h0m0 204h0m1 195h0m52-570h0m14 384h0m61-8h0m73-37h0m47-2h0m21 1h0m5 144h0"/><path stroke="#0045ff" d="M1088 143h0m1-36h0m0 534h0m30-166h0m6 102h0m26-563h0m29 37h0m1 198h0m0 180h0m28-112h0"/><path stroke="#000dff" d="M1089 680h0m31-202h0m5 192h0m5-71h0m11-281h0m1 39h0m9 77h0m1-90h0"/><path stroke="#840000" d="M1040 215h0m32 82h0m0 27h0m1 33h0m0 225h0m0 93h0m1-600h0m5-15h0m0 204h0m0 171h0m1 192h0m8-325h0m0 276h0m0 108h0m1-675h0m0 90h0m0 159h0m0 72h0m0 96h0m0 156h0m26-539h0m0 423h0m4-440h0m0 492h0m0 132h0m1-351h0m5 57h0m0 285h0m4-524h0m0 303h0m1-381h0m1 132h0m4 32h0m0 51h0m0 48h0m0 162h0m0 111h0m0 99h0m1-552h0m0 300h0m0 108h0m4-334h0m1 87h0m0 138h0m0 54h0m0 135h0m0 75h0m10-427h0m0 42h0m0 90h0m0 84h0m0 183h0m1-594h0m0 33h0m0 24h0m0 309h0m0 246h0m1-591h0m0 465h0m3-297h0m0 48h0m0 99h0m0 24h0m0 33h0m1-405h0m0 285h0m10 131h0m1 129h0m1-408h0m11-37h0m30 224h0m0 249h0m214-404h0"/></g></g>
<g clip-path="url(#c2)"><g transform="translate(250,540) scale(0.5)" fill="none" stroke-width="3.6" stroke-linecap="round"><path stroke="#c1ff36" d="M2 390v4m0 24v4m0 3v4m0 115v4m0 149v4m1-160v4m0 38v4m1-528v4m0 19v4m0 34v4m0 129v4m0 150v4m0 248v4m1-455v4m0 134v4m0 283v4m0 33v4m1-533v4m0 538v4m1-392v4m0 123v4m0 183v4m0 80v4m1-527v4m0 146v4m0 53v4m0 82v4m0 39v4m0 32v4m0 37v4m1-515v4m0 123v4m0 42v4m0 73v4m0 78v4m0 192v4m0 85v4m1-684v4m0 182v4m0 20v4m0 161v4m0 13v4m0 59v4m0 88v4m1-456v4m0 184v4m0 20v4m1-310v4m0 61v4m0 144v4m0 115v4m0 75v4m0 52v4m0 128v4m1-560v4m0 28v4m0 50v4m0 34v4m0 485v4m0 2v4m0 14v4m1-585v4m0 201v4m0 0v4m0 147v4m0-4v4m0 25v4m0 47v4m0 140v4m1-643v4m0 72v4m0 291v4m0 70v4m0 63v4m0 69v4m0 14v4m1-644v4m0 143v4m0 34v4m0 275v4m0 34v4m0 113v4m0 50v4m1-548v4m0 30v4m0 214v4m1-247v4m0 453v4m0 18v4m0 8v4m0 13v4m0 18v4m1-600v4m0 26v4m0 34v4m0 95v4m0 177v4m0 61v4m0 27v4m0-2v4m0 43v4m0 62v4m0 41v4m1-672v4m0 54v4m0 34v4m0 46v4m0 28v4m0 31v4m0 10v4m0 4v4m0 110v4m0 61v4m1-279v4m0-3v4m0 24v4m0 58v4m0 138v4m0 98v4m1-301v4m0 264v4m0 181v4m1-223v4m0 14v4m0 200v4m0 24v4m1-507v4m0 4v4m0 25v4m0 268v4m1 15v4m1-453v4m0 36v4m0 273v4m0 254v4m1-606v4m0 105v4m0 153v4m0 41v4m1-311v4m0 119v4m0 60v4m0 6v4m0 51v4m0 182v4m0 83v4m0 111v4m1-635v4m0 130v4m0 5v4m0 366v4m0 37v4m1-531v4m0-1v4m0 188v4m0 191v4m0 5v4m0 80v4m0 41v4m1-461v4m0 8v4m0 79v4m0-3v4m0 303v4m0 50v4m0 7v4m1-407v4m0 38v4m0 113v4m0 13v4m0 5v4m0 0v4m0 15v4m0 88v4m0 161v4m0 16v4m1-685v4m0 8v4m0 38v4m0 31v4m0 121v4m0 67v4m0 34v4m0 48v4m0 264v4m1-550v4m0 65v4m0 51v4m0 95v4m0 206v4m0 14v4m1-335v4m0 154v4m0 106v4m0 92v4m0 30v4m0 10v4m1-271v4m0 182v4m1-493v4m0 14v4m0 12v4m0 33v4m0 21v4m0 227v4m0 67v4m0 145v4m0 44v4m1-644v4m0 199v4m0 446v4m1-541v4m0 11v4m0 5v4m0 27v4m0 29v4m0-2v4m0 206v4m0 76v4m1-447v4m0 418v4m0 122v4m1-586v4m0 82v4m0 553v4m1-682v4m0 159v4m0 160v4m0 32v4m1-324v4m0 153v4m0 64v4m0 122v4m0 29v4m0 108v4m1-497v4m0 227v4m0 12v4m0 69v4m0 131v4m0 62v4m0 12v4m0 72v4m1-424v4m0 304v4m0 120v4m0 7v4m180-596v4m1-12v4m0 158v4m0 12v4m0 410v4m1-637v4m0 236v4m0 175v4m0 14v4m0 105v4m1-568v4m0 15v4m0 72v4m0 129v4m0 155v4m0 105v4m0-3v4m1-324v4m0 253v4m0 5v4m1-410v4m0 56v4m0 15v4m0 243v4m0 30v4m0 109v4m1-534v4m0 181v4m0 123v4m0 111v4m0 224v4m1-666v4m0 0v4m0 89v4m0 69v4m0 37v4m0 14v4m0 55v4m0 20v4m0 11v4m0 114v4m1-286v4m0 80v4m0 35v4m0 151v4m0 167v4m1-424v4m0 69v4m0 20v4m0 81v4m0 182v4m0 95v4m0 26v4m1-668v4m0 129v4m0-2v4m0 122v4m0 94v4m0 25v4m1-296v4m0 43v4m0 88v4m0 55v4m0 72v4m1-243v4m0 24v4m0 32v4m0 179v4m0 220v4m0 0v4m1-580v4m0 133v4m0 79v4m0 271v4m1-514v4m0 115v4m0 503v4m1-318v4m0 248v4m1-576v4m0 10v4m0 115v4m0 300v4m0 132v4m1-427v4m0 98v4m0 90v4m0 126v4m1-486v4m0 487v4m0 76v4m0 49v4m1-638v4m0 214v4m0 165v4m0 27v4m0 218v4m1-227v4m1-392v4m0 147v4m0 121v4m0 146v4m1 8v4m0 40v4m0 9v4m1-537v4m0 106v4m0 3v4m0 181v4m0 17v4m0 24v4m0 309v4m0 15v4m1-333v4m0 1v4m1-186v4m0 50v4m0 27v4m0 203v4m0 74v4m1-496v4m0 4v4m0 51v4m0 31v4m0 19v4m0 106v4m0 202v4m0 20v4m1-452v4m0 81v4m0 34v4m0 90v4m0 15v4m0 28v4m0 165v4m0 58v4m0 33v4m0 19v4m1-531v4m0 161v4m0 92v4m0 76v4m0 185v4m1-596v4m0 126v4m0 147v4m0 40v4m0 71v4m0 24v4m0 12v4m0 174v4m1-570v4m0 50v4m0 30v4m0 28v4m0 23v4m0 77v4m0 60v4m0 60v4m0 23v4m0 102v4m1-453v4m0 39v4m0 69v4m0 32v4m0 207v4m1-472v4m0 90v4m0 371v4m0 94v4m1-212v4m0 24v4m1-302v4m0 60v4m0 41v4m0 202v4m0 36v4m0 149v4m1-504v4m0 88v4m0 168v4m1-362v4m0 593v4m1-615v4m0 22v4m0 213v4m0 36v4m0 128v4m0 28v4m0 3v4m1-420v4m0 152v4m0 147v4m0 123v4m1-386v4m0 329v4m0 13v4m1-446v4m0 74v4m0 117v4m0 134v4m0 19v4m0 210v4m1-569v4m0 16v4m0 141v4m0 84v4m0 49v4m0 343v4m1-682v4m0 360v4m0-1v4m0 59v4m0 33v4m0 70v4m0 4v4m0 2v4m1-477v4m0 94v4m0 267v4m0 29v4m0 89v4m0 61v4m1-480v4m0 31v4m0 10v4m0 99v4m1-251v4m0 12v4m0 60v4m0 13v4m0 246v4m0 82v4m1-439v4m0 62v4m0 150v4m0 141v4m0 124v4m0 33v4m1-589v4m0 108v4m0 33v4m0 64v4m0 224v4m0 128v4m0 24v4m0 61v4m1-681v4m0 204v4m0 14v4m0 161v4m1-297v4m0 178v4m0 90v4m0 65v4m0 78v4m0 133v4m1-452v4m0 81v4m0 197v4m0 26v4m0 142v4m1-677v4m0 70v4m0 97v4m0 26v4m0 30v4m0 44v4m0 68v4m0 48v4m0 51v4m0 202v4m1-618v4m0 21v4m0 101v4m0 113v4m0 67v4m0 33v4m0 45v4m0 162v4m1-396v4m0 244v4m2-99v4m0 4v4m0-1v4m0-1v4m0 151v4m0 1v4m0 88v4m2-1v4m1-575v4m0 465v4m1-577v4m0 209v4m0 436v4m1-631v4m0 4v4m0-3v4m0 12v4m0 88v4m0 283v4m0 153v4m0 16v4m0 37v4m1-624v4m0 6v4m0 7v4m0 33v4m0 50v4m0 5v4m0 71v4m0 175v4m0 36v4m1 71v4m0 0v4m0 72v4m0 40v4m0 16v4m1-494v4m1-162v4m0 53v4m0 127v4m0 211v4m0 17v4m0 27v4m0 124v4m0 86v4m1-649v4m0 116v4m0 12v4m0 89v4m0 106v4m0 234v4m1-567v4m0 66v4m0 6v4m0 378v4m1-455v4m0 297v4m0 271v4m1-643v4m0 24v4m0 336v4m0-4v4m0 313v4m1-83v4m1-480v4m0 509v4m1-20v4m1-305v4m1-317v4m0 184v4m0 5v4m0 241v4m0 37v4m0 151v4m0 31v4m1-483v4"/><path stroke="#000084" d="M2 98v4m0 89v4m0 118v4m0 96v4m0 121v4m0 14v4m1-475v4m0 5v4m0 223v4m0 53v4m0 46v4m0 24v4m0 104v4m0 11v4m1-398v4m0 11v4m0 48v4m0 7v4m0 89v4m0 27v4m0 62v4m0 46v4m0 64v4m0-4v4m0 12v4m1-521v4m0 55v4m0 41v4m0 60v4m0 13v4m0 0v4m0 120v4m0 89v4m0 147v4m1-478v4m0 44v4m0 39v4m0 22v4m0 80v4m0 127v4m0 36v4m0 52v4m0 114v4m1-582v4m0 16v4m0 127v4m0 47v4m0 45v4m0 187v4m0-2v4m0 76v4m1-492v4m0 127v4m0 179v4m0-1v4m0 38v4m0 83v4m1-594v4m0 85v4m0 55v4m0 57v4m0 8v4m0 110v4m0 5v4m0 26v4m0 53v4m0 0v4m0 47v4m0 59v4m1-514v4m0-2v4m0 64v4m0 37v4m0 12v4m0 14v4m0 238v4m0-1v4m0 57v4m0 15v4m0 38v4m0 46v4m0 43v4m1-597v4m0 2v4m0 54v4m0 3v4m0 19v4m0 182v4m0 66v4m0 3v4m0 21v4m0 25v4m0 3v4m0 83v4m0 118v4m1-585v4m0 200v4m0-2v4m0 0v4m0 15v4m0 48v4m0 6v4m0 24v4m0 13v4m0 3v4m0 74v4m0 69v4m0 58v4m0 4v4m1-672v4m0 121v4m0-3v4m0 143v4m0 111v4m0 71v4m0 5v4m0 15v4m0 5v4m0 13v4m0 65v4m0 7v4m0 3v4m0 54v4m1-658v4m0 50v4m0 218v4m0 17v4m0 7v4m0 162v4m0 72v4m1-436v4m0 66v4m0 16v4m0 0v4m0 100v4m0 87v4m0 7v4m0 12v4m0 96v4m0 15v4m0 11v4m0 4v4m1-573v4m0 2v4m0 10v4m0 212v4m0 18v4m0 124v4m0 54v4m0 23v4m0-4v4m0 44v4m1-531v4m0 76v4m0 9v4m0 35v4m0 49v4m0-3v4m0 47v4m0 80v4m0 32v4m0 39v4m0 11v4m0 95v4m0 155v4m1-684v4m0 110v4m0 92v4m0 61v4m0 120v4m0 95v4m0 27v4m0 29v4m0 80v4m0 19v4m1-544v4m0 11v4m0 237v4m0 59v4m0 38v4m0 4v4m0 7v4m0 8v4m0 28v4m0 39v4m0 46v4m1-547v4m0 189v4m0 12v4m0 19v4m0 242v4m0 52v4m1-588v4m0 13v4m0 139v4m0 64v4m0 23v4m0 95v4m0 57v4m0 61v4m0 85v4m1-513v4m0 49v4m0 23v4m0 218v4m0 114v4m1-532v4m0 3v4m0 1v4m0 103v4m0 14v4m0-1v4m0 49v4m0 70v4m0 58v4m0 58v4m0 2v4m0 151v4m0 46v4m1-551v4m0 38v4m0 12v4m0 66v4m0 34v4m0 52v4m0 9v4m0 2v4m0 81v4m0 86v4m1-460v4m0 374v4m0 44v4m0 166v4m0 70v4m1-597v4m0 1v4m0 5v4m0 33v4m0 176v4m0 1v4m0 79v4m0 103v4m0 106v4m0 17v4m0 23v4m1-661v4m0 12v4m0 68v4m0 79v4m0 3v4m0 21v4m0 0v4m0 157v4m0 122v4m0-4v4m1-372v4m0 118v4m0 43v4m0 138v4m0-2v4m0 57v4m0 63v4m0 32v4m0 6v4m0 25v4m1-660v4m0 51v4m0 4v4m0 42v4m0 115v4m0-2v4m0 29v4m0 250v4m0 23v4m0 83v4m0 39v4m1-564v4m0 117v4m0 28v4m0 23v4m0 63v4m0 104v4m0 39v4m0-3v4m0 42v4m1-408v4m0 75v4m0 31v4m0 138v4m0 214v4m0 25v4m0 7v4m1-647v4m0 3v4m0 129v4m0 22v4m0 52v4m0 299v4m1-553v4m0 8v4m0 31v4m0 163v4m0 0v4m0 195v4m0 14v4m0 10v4m0 81v4m0 0v4m0 10v4m1-186v4m0-3v4m0 11v4m0-1v4m0 47v4m0 171v4m0 24v4m1-622v4m0 147v4m0 88v4m0 142v4m0 92v4m0 58v4m0 31v4m1-585v4m0 34v4m0 0v4m0 22v4m0 248v4m0 96v4m0 33v4m1-428v4m0 7v4m0 76v4m0 87v4m0 26v4m0-2v4m0 17v4m0 1v4m0 28v4m0 10v4m0 26v4m0 6v4m0 32v4m0 121v4m0 121v4m1-576v4m0 3v4m0-2v4m0 33v4m0 19v4m0 76v4m0 8v4m0 96v4m0 31v4m0 86v4m0 52v4m1-498v4m0 25v4m0 45v4m0-1v4m0 79v4m0-2v4m0 288v4m0 31v4m0 16v4m1-397v4m0 222v4m0 54v4m0 54v4m0 7v4m0 36v4m0 17v4m0 16v4m0 9v4m1-572v4m0 28v4m0 10v4m0 95v4m0 36v4m0 67v4m0 25v4m0 5v4m0 56v4m0 116v4m0 27v4m1-566v4m0 95v4m0 10v4m0 31v4m0 0v4m0 88v4m0 132v4m0 93v4m0 8v4m0 111v4m0 5v4m0 1v4m1-586v4m0 65v4m0 71v4m0 120v4m0 11v4m0 19v4m0 208v4m0-1v4m0 17v4m0 92v4m1-674v4m0 92v4m0 46v4m0 35v4m0 4v4m0 19v4m0 134v4m0 47v4m0 62v4m1 80v4m0 44v4m0 62v4m180-615v4m0 137v4m0 82v4m0 99v4m0 36v4m1-401v4m0 5v4m0 57v4m0 109v4m0 11v4m0 35v4m0 91v4m0 39v4m0 1v4m0 48v4m0 66v4m0 5v4m0 12v4m1-535v4m0 19v4m0 65v4m0 77v4m0 7v4m0 33v4m0 21v4m0 97v4m0 40v4m0 74v4m0 91v4m0 64v4m0 19v4m1-658v4m0 28v4m0 132v4m0 64v4m0 21v4m0 60v4m0 14v4m0 146v4m0 45v4m0 10v4m0 15v4m0 58v4m1-563v4m0 1v4m0 3v4m0 4v4m0 66v4m0 54v4m0 255v4m0 92v4m0 22v4m1-572v4m0 19v4m0 56v4m0 18v4m0 22v4m0 269v4m0-4v4m0 59v4m0 59v4m0 82v4m1-612v4m0 24v4m0-4v4m0 21v4m0 32v4m0 192v4m0 189v4m0 18v4m0 28v4m0 46v4m0-1v4m1-580v4m0 445v4m1-544v4m0 92v4m0 40v4m0 33v4m0 55v4m0 0v4m0 107v4m0 35v4m0 39v4m1-386v4m0 5v4m0 6v4m0 0v4m0-4v4m0 119v4m0 139v4m0 273v4m1-608v4m0 48v4m0 7v4m0 16v4m0 90v4m0 72v4m0 127v4m0 4v4m0 42v4m0 181v4m0 6v4m1-625v4m0 80v4m0 53v4m0 48v4m0 140v4m0 164v4m0 23v4m0 81v4m1-636v4m0 27v4m0 6v4m0 55v4m0 188v4m0 32v4m0 40v4m0 106v4m0 85v4m1-563v4m0 29v4m0 162v4m0 265v4m0 104v4m1-514v4m0 13v4m0 46v4m0 149v4m0 104v4m0 72v4m0 116v4m0-1v4m0 24v4m1-599v4m0 78v4m0 192v4m0 164v4m0 168v4m1-624v4m0 25v4m0 64v4m0 21v4m0 34v4m0 63v4m0 55v4m0 39v4m0 52v4m0 70v4m0 5v4m0 102v4m0 28v4m0 14v4m1-478v4m0 20v4m0 102v4m0 61v4m0 43v4m0 55v4m0 114v4m0-3v4m0 15v4m1-515v4m0 14v4m0 29v4m0 194v4m0 75v4m0 3v4m0 69v4m0 8v4m0 24v4m0 76v4m1-569v4m0 106v4m0 33v4m0 69v4m0 13v4m0 31v4m0 0v4m0 4v4m0 125v4m0 137v4m1-574v4m0 8v4m0 6v4m0 5v4m0 34v4m0-1v4m0 65v4m0 40v4m0 5v4m0 3v4m0 28v4m0 10v4m0 52v4m0 1v4m0 114v4m0 160v4m1-654v4m0 99v4m0-4v4m0 31v4m0 319v4m0 45v4m0 67v4m0 24v4m0 53v4m1-620v4m0 168v4m0 123v4m0 79v4m0 37v4m0 106v4m0 85v4m1-662v4m0 81v4m0 52v4m0 25v4m0 57v4m0 48v4m0 76v4m0-4v4m0 84v4m0 11v4m0 12v4m0 88v4m0 67v4m1-644v4m0 0v4m0 27v4m0 234v4m0 25v4m0 65v4m0 55v4m0 37v4m0 5v4m0 7v4m0 32v4m0 28v4m0 62v4m1-655v4m0 96v4m0 113v4m0 38v4m0 17v4m0 222v4m0 119v4m0 12v4m0 28v4m1-589v4m0 244v4m0 183v4m0 89v4m0 45v4m1-543v4m0-1v4m0 22v4m0 178v4m0 112v4m0 181v4m1-537v4m0 9v4m0 221v4m0 5v4m0 29v4m0-2v4m0 9v4m0 31v4m0 77v4m0 30v4m0 87v4m0 22v4m0 6v4m1-653v4m0 63v4m0 172v4m0 128v4m0 81v4m0 61v4m0 50v4m1-596v4m0 59v4m0 91v4m0 31v4m0 0v4m0 221v4m0 16v4m0 10v4m0 85v4m0 3v4m0 30v4m1-608v4m0 94v4m0 0v4m0 34v4m0 223v4m0 25v4m0 15v4m0 45v4m0 28v4m0 98v4m1-547v4m0 38v4m0 167v4m0 55v4m0 30v4m0 161v4m0 18v4m1-543v4m0 32v4m0 5v4m0 16v4m0 40v4m0 5v4m0 19v4m0 77v4m0 162v4m0 16v4m0 41v4m0 46v4m0-3v4m1-117v4m0 9v4m0 133v4m0 9v4m0 78v4m1-455v4m0 125v4m0 50v4m0 20v4m0 101v4m0 10v4m1-498v4m0 66v4m0 64v4m0 15v4m0 23v4m0 93v4m0 96v4m0 18v4m0 126v4m0 13v4m0 12v4m1-563v4m0 282v4m0 96v4m0 144v4m1-480v4m0 138v4m0 72v4m0 22v4m0 92v4m0 213v4m1-627v4m0 18v4m0 110v4m0 25v4m0 30v4m0 53v4m0 37v4m0-4v4m0 62v4m0 95v4m0 84v4m0 29v4m0 8v4m1-500v4m0 36v4m0-2v4m0 24v4m0 81v4m0 173v4m0-1v4m0 44v4m0 11v4m0 31v4m1-501v4m0-2v4m0 46v4m0-1v4m0 170v4m0 14v4m0 144v4m0 7v4m0 173v4m1-546v4m0 4v4m0 147v4m0 71v4m0 11v4m0 126v4m0 111v4m0 46v4m0 29v4m0-2v4m1-667v4m0 65v4m0 101v4m0 20v4m0 16v4m0 20v4m0 11v4m0 38v4m0 40v4m0 23v4m0 28v4m0 32v4m0 51v4m0 12v4m0 49v4m0 10v4m0 13v4m0 46v4m1-583v4m0 32v4m0 142v4m0 33v4m0 264v4m0 11v4m1-516v4m0 81v4m0 225v4m0 39v4m0 8v4m0 75v4m1-467v4m0 230v4m0 149v4m0 75v4m0 21v4m0-2v4m0 84v4m0 27v4m0-2v4m1-628v4m0 1v4m0 52v4m0 132v4m0 28v4m0 90v4m0 1v4m0 232v4m0-2v4m1-614v4m0 26v4m0 1v4m0 21v4m0 224v4m0 20v4m0 29v4m0 16v4m0 85v4m0 18v4m0 18v4m0 142v4m1-530v4m0 10v4m0 69v4m0 131v4m0 177v4m0 43v4m1-520v4m0 71v4m0 243v4m0 135v4m0-3v4m0 8v4m0 40v4m0 14v4m1-574v4m0 169v4m0 40v4m0 89v4m0 33v4m0 43v4m0 23v4m0 15v4m0 72v4m0 13v4m1-524v4m0 18v4m0-4v4m0 56v4m0 65v4m0 55v4m0 36v4m0 23v4m0 50v4m0 73v4m0 46v4m0 97v4m1-579v4m0 121v4m0 87v4m0 29v4m0 12v4m0 11v4m0 16v4m0 56v4m0-3v4m0 84v4m0 137v4m0 68v4m0 4v4m1-649v4m0 8v4m0 51v4m0 37v4m0-2v4m0 134v4m0 32v4m0 67v4m0 1v4m0 81v4m0 43v4m0 94v4m1-624v4m0 169v4m0 63v4m0 45v4m0 37v4m0 32v4m0 94v4m0 41v4m0 38v4m0 33v4m0 14v4m0 14v4m0 3v4m1-620v4m0 157v4m0 223v4m0 9v4m0 48v4m0 13v4m0 2v4m0 78v4m0 14v4m0 25v4m0 47v4m1-580v4m0 119v4m0 82v4m0 87v4m0 158v4m0 0v4m0 0v4m0 70v4m1-559v4m0 84v4m0 197v4m0 139v4m1-470v4m0 82v4m0 38v4m0-1v4m0 156v4m0 23v4m0 52v4m0 13v4m0 21v4m0 27v4m0 62v4m0 6v4m1-502v4m0 110v4m0 161v4m0 60v4m0 71v4m0 36v4m0 53v4m0 45v4m1-590v4m0 46v4m0 29v4m0 42v4m0-1v4m0 424v4m1-630v4m0 108v4m0 104v4m0-3v4m0 137v4m0 7v4m0 103v4m0 58v4m0 21v4m0 9v4m1-475v4m0 283v4m0 66v4m0 37v4m0 94v4m1-555v4m0 112v4m0 47v4m0 155v4m0 174v4m0 41v4m1-593v4m0 73v4m0 281v4m0 1v4m0 30v4m0 111v4m0 134v4m1-633v4m0 0v4m0 1v4m0 154v4m0 188v4m0 23v4m0 5v4m1-197v4m0 173v4m0 90v4m0 31v4m0 37v4m0 36v4m0 4v4m0 13v4m1-617v4m0 420v4m0 80v4m0 12v4m1-204v4m0 26v4m0 24v4m0 101v4m0 74v4m0 6v4m0 29v4m1-649v4m0 62v4m0 305v4m0 87v4m0 145v4m0 25v4m0 7v4m1-606v4m0 41v4m0 38v4m0 8v4m0 20v4m0 35v4m0 243v4m0 28v4m1-476v4m0 378v4m0 3v4m0 37v4m0 197v4m0-2v4m0 6v4m0 12v4m1-671v4m0 41v4m0 2v4m0 421v4m0 23v4m0 38v4m0 60v4m0 27v4m0-3v4m0 11v4m1-599v4m0 117v4m0 403v4"/><path stroke="#ff6400" d="M2 169v4m0 198v4m0 237v4m1-486v4m0 187v4m1-195v4m0 417v4m0 87v4m1-126v4m0 5v4m0 149v4m0-2v4m1-559v4m0 145v4m0 330v4m1-591v4m0 66v4m0 4v4m0 96v4m0 35v4m0 278v4m0 131v4m1-638v4m0 181v4m0 291v4m1-295v4m0 318v4m0 135v4m1-470v4m0 379v4m0 72v4m1-621v4m0 492v4m1-419v4m0 169v4m0 81v4m1-116v4m0 5v4m0 13v4m0 42v4m0 240v4m1-568v4m0 146v4m0 34v4m0 26v4m0 378v4m2-577v4m0 24v4m0 104v4m1-154v4m0 132v4m0 231v4m1-366v4m0 121v4m0 295v4m0 37v4m0 3v4m1-319v4m0 52v4m0 78v4m0 236v4m1-577v4m0-4v4m0 199v4m0 88v4m0 303v4m1-551v4m0 31v4m0 10v4m0 206v4m0 22v4m0 227v4m0 16v4m1-205v4m0 164v4m1-415v4m0 74v4m0 104v4m0 164v4m0 170v4m1-170v4m1-257v4m0 55v4m0 34v4m1-221v4m0-1v4m0 27v4m0 126v4m0 268v4m1-486v4m0 4v4m0 360v4m1-146v4m0 5v4m0 62v4m1-399v4m0 332v4m1-336v4m0 405v4m0 221v4m1-605v4m0 63v4m0 0v4m0 337v4m1 149v4m1-547v4m0 22v4m0 189v4m1-32v4m0 86v4m0 197v4m0 40v4m1-555v4m0 25v4m0-1v4m0 228v4m0 77v4m1-79v4m1-245v4m0 288v4m0 11v4m0 55v4m0 50v4m0 6v4m0 3v4m0 109v4m1-539v4m1 92v4m0 47v4m0-2v4m0 182v4m0 40v4m1-266v4m0 16v4m1-106v4m0 127v4m0 382v4m1-514v4m0 470v4m1-465v4m0 57v4m0 19v4m0 264v4m1-398v4m0 144v4m0 137v4m0 139v4m1-394v4m180 34v4m0 253v4m1 26v4m0 47v4m1-481v4m0 1v4m0 79v4m0 75v4m0 39v4m0 97v4m0 217v4m0 31v4m1-594v4m0 355v4m0 227v4m2-106v4m1-218v4m0 65v4m0 44v4m0 259v4m1-19v4m1-484v4m0 76v4m0 201v4m1-341v4m0 16v4m0 145v4m0 112v4m0 94v4m0 178v4m1-88v4m1-550v4m0 58v4m0 126v4m0 149v4m0-2v4m1-85v4m0 107v4m0 48v4m0-1v4m0 164v4m1-452v4m0 247v4m1-450v4m0 337v4m0 271v4m0 41v4m1-632v4m0 435v4m0 92v4m1-349v4m0 143v4m1-300v4m0 156v4m0 25v4m0 408v4m1-328v4m0 210v4m1-234v4m1 66v4m0 79v4m0 107v4m1-464v4m0 210v4m0 147v4m0 32v4m1-388v4m0 438v4m1-534v4m0 127v4m0 249v4m0 207v4m1-599v4m0 103v4m0 410v4m1-326v4m0 152v4m0 150v4m1-511v4m0 235v4m0 11v4m0 70v4m0 8v4m1-313v4m0 22v4m0 192v4m1-56v4m0 36v4m1-248v4m1-34v4m0 472v4m0 160v4m1-552v4m0 142v4m0 92v4m0 289v4m1-647v4m0 130v4m0 14v4m0 47v4m0 108v4m0 188v4m0 137v4m1-129v4m1-187v4m0 3v4m0 171v4m1-449v4m0 392v4m0 32v4m0 97v4m1-607v4m0 16v4m0 568v4m0 17v4m1-368v4m0 312v4m1-490v4m0 515v4m1-519v4m0 275v4m0 162v4m1-196v4m0 29v4m1-119v4m0 35v4m1-207v4m0 42v4m0 141v4m0 72v4m0 258v4m1-555v4m0 577v4m1-533v4m0 53v4m0 88v4m0 41v4m0 174v4m0 9v4m1-487v4m0 562v4m1-620v4m0 197v4m0 62v4m0 179v4m0 103v4m0 112v4m1-152v4m1-386v4m0 396v4m1-550v4m0 320v4m1-259v4m0 466v4m1-138v4m0 3v4m0 33v4m1-305v4m0 481v4m1-448v4m0 196v4m1-335v4m0 18v4m1 155v4m0 25v4m0 89v4m0 136v4m0 43v4m1-451v4m0 369v4m1-114v4m0 17v4m0 71v4m0 150v4m1-175v4m0 45v4m1-103v4m0 51v4m1-337v4m0 337v4m0 12v4m0 34v4m0 22v4m1-456v4m1 43v4m0 465v4m1-186v4m0 58v4m0 173v4m1-320v4m0 27v4m1 101v4m0 39v4m0 72v4m1-321v4m0 124v4m1 146v4m0 75v4m1-650v4m0 102v4m0 456v4m1-372v4m0 342v4m1-534v4m0 10v4m0 486v4m0 67v4m1-499v4m0 20v4m0 313v4m0 34v4m1-321v4m0 469v4m2-182v4m0 21v4"/><path stroke="#df0000" d="M2 363v4m0-3v4m0 221v4m1-413v4m0 8v4m1-106v4m0 31v4m0 163v4m0 83v4m1-320v4m0 245v4m0 94v4m0 75v4m1-389v4m0 361v4m1-459v4m1 69v4m0 358v4m1 86v4m0 52v4m1-369v4m0 279v4m1-42v4m0 77v4m2 11v4m1-553v4m0 91v4m0 125v4m1-36v4m0 49v4m0 257v4m1-362v4m0 236v4m0 196v4m1-415v4m0 253v4m0 65v4m0 43v4m1-343v4m0 240v4m1-324v4m0 161v4m0 158v4m1-56v4m0 175v4m1-594v4m0 424v4m1-376v4m1 82v4m0 258v4m0 234v4m2-458v4m0 284v4m1-308v4m0 36v4m0 108v4m1 0v4m0 132v4m2-365v4m0 306v4m0 147v4m1-542v4m0 112v4m0 392v4m0 84v4m1-613v4m0 385v4m0 204v4m1-285v4m0 34v4m1-329v4m0 210v4m1-81v4m0 224v4m0 116v4m1-475v4m0 215v4m1-181v4m0 277v4m0 5v4m1-168v4m0 310v4m1-355v4m0 284v4m2-473v4m0 207v4m0 272v4m1-346v4m0 276v4m1 18v4m0 184v4m1-627v4m0 216v4m0 425v4m1-680v4m1 151v4m0 514v4m180-587v4m0 109v4m0 142v4m0 49v4m0 165v4m2-518v4m0 272v4m1-309v4m0 70v4m0 148v4m0 132v4m0 223v4m0 35v4m1-515v4m0 459v4m0 48v4m1-546v4m0 80v4m1-106v4m0 401v4m0 110v4m1-183v4m1-400v4m0 194v4m0 99v4m0 26v4m0 263v4m1-605v4m0 308v4m1-133v4m0 238v4m0 12v4m0 2v4m1-178v4m0 97v4m0 62v4m1-235v4m0 212v4m0 128v4m1-589v4m0 23v4m0 67v4m0 23v4m0 114v4m0 247v4m0 119v4m0 28v4m1-662v4m0-4v4m0 84v4m1-73v4m0 56v4m0 14v4m0 357v4m1-329v4m0 132v4m1 70v4m1-250v4m1-94v4m0 119v4m0 498v4m1-213v4m1-194v4m0 123v4m0 37v4m0 70v4m0 49v4m2-355v4m0 432v4m1-393v4m0 350v4m0 51v4m1-190v4m0 192v4m1-168v4m3-335v4m1 352v4m1-489v4m0 151v4m0 306v4m1-3v4m1-449v4m0 396v4m0 102v4m1-526v4m0 48v4m0 62v4m0 310v4m1-200v4m0 55v4m0 214v4m1-412v4m0 17v4m0 128v4m1 316v4m0 11v4m0 21v4m1-289v4m0 82v4m1-344v4m0 57v4m0 96v4m0 88v4m0 135v4m0 55v4m0 86v4m1-77v4m1-81v4m1-458v4m0 19v4m1 382v4m0 17v4m1-278v4m0 139v4m0 25v4m0 249v4m1-564v4m0 253v4m0 215v4m1-380v4m0 141v4m0 206v4m1-496v4m0 46v4m0 295v4m0 28v4m0 110v4m1 116v4m1-524v4m0 234v4m0 15v4m1-392v4m0 83v4m0 70v4m1 136v4m0 40v4m0 23v4m0 95v4m0 113v4m0 74v4m1-577v4m0 22v4m1 215v4m0 24v4m0 148v4m2-355v4m1 458v4m1-619v4m0 23v4m0 5v4m0 83v4m0 522v4m1-108v4m1-425v4m0 63v4m0 463v4m1-524v4m0 254v4m0 50v4m0 48v4m1 3v4m1-358v4m2-104v4m0 480v4m0 47v4m1-214v4m1-252v4m0 55v4m1 175v4m0 187v4m1 81v4m1-445v4m0 121v4m0 42v4m2 52v4m0 3v4m0 215v4m3-250v4"/><path stroke="#0080ff" d="M2 240v4m0 437v4m2-674v4m0 220v4m1-101v4m1-40v4m0 580v4m1-496v4m0 271v4m1-46v4m0 84v4m0 40v4m0 28v4m1-489v4m0 59v4m0 15v4m0 138v4m0 243v4m1-391v4m0 367v4m1 72v4m1-413v4m0 117v4m2-167v4m0 87v4m0 371v4m1-612v4m0 16v4m0 19v4m0 230v4m0 57v4m0 99v4m1-17v4m0 70v4m1-282v4m0 4v4m1-159v4m1 166v4m0 41v4m0 36v4m0 265v4m1-150v4m2-341v4m0 197v4m0 179v4m0 41v4m1-382v4m0 202v4m1-238v4m0 304v4m0 52v4m2-449v4m1-66v4m1 342v4m0 81v4m1 47v4m0 103v4m1-509v4m0 172v4m0 150v4m1-78v4m0 284v4m1-498v4m2-76v4m0 373v4m1-388v4m0 184v4m1-199v4m1 196v4m1 374v4m1-293v4m0 143v4m1-215v4m0 20v4m1-228v4m1-73v4m0 273v4m0 134v4m0 122v4m0 4v4m2-143v4m1-167v4m182-81v4m0 445v4m1-550v4m0 3v4m1 137v4m0 84v4m2-215v4m0 214v4m1-313v4m0 473v4m0 46v4m0 48v4m1-348v4m0 63v4m1-310v4m0 277v4m0 195v4m1-125v4m0 151v4m3-444v4m1-3v4m0 94v4m1 144v4m1-294v4m0 63v4m0 461v4m2-370v4m2-56v4m1 381v4m1-429v4m0 173v4m1-231v4m0 123v4m0 59v4m0 18v4m0 362v4m0 8v4m1-560v4m0 104v4m1-98v4m1 389v4m0 60v4m1-346v4m0 128v4m0 20v4m0 59v4m1-392v4m0 27v4m1-1v4m0 192v4m1-79v4m0 255v4m0 169v4m1-74v4m1-400v4m0 165v4m0 209v4m1-306v4m1-213v4m0 36v4m0 39v4m1 8v4m1-80v4m1 227v4m2-237v4m1 10v4m0 29v4m0 530v4m1-30v4m1-529v4m0 266v4m0 10v4m1-366v4m0 204v4m0 86v4m0 5v4m0 117v4m1 195v4m1-360v4m0 10v4m0 59v4m0 184v4m1-348v4m0 358v4m1-290v4m1-256v4m0 388v4m1-148v4m2-219v4m0 237v4m1-72v4m1-189v4m0 393v4m0 12v4m1 113v4m0 6v4m2-315v4m1-241v4m0 314v4m2-323v4m0 322v4m0 77v4m0 147v4m2-615v4m1 211v4m2-209v4m1 26v4m0 59v4m1 368v4m1-196v4m0 78v4m1-255v4m0 305v4m0 18v4m3-113v4m2-213v4m1 479v4"/><path stroke="#63ff94" d="M2 273v4m0 178v4m0 105v4m1-529v4m0 13v4m0-4v4m0 156v4m0 402v4m1-303v4m0 19v4m0 7v4m0 4v4m0 12v4m0 24v4m0 107v4m0 74v4m1-480v4m0 77v4m0 234v4m0 17v4m2 37v4m1-72v4m0 17v4m1-410v4m0 383v4m1-410v4m0 396v4m0 154v4m1-113v4m0 106v4m1-270v4m0 3v4m0 343v4m1-511v4m0 141v4m0 101v4m0 149v4m1-492v4m0 48v4m0 229v4m0 19v4m0 76v4m1-320v4m0 337v4m0 183v4m1-597v4m0 56v4m0 391v4m0 11v4m0 5v4m0 46v4m1-108v4m0 128v4m1-7v4m1-339v4m1-158v4m0 33v4m0 263v4m0 14v4m1-461v4m0 483v4m0 113v4m1-609v4m0 409v4m0 48v4m0 31v4m0 57v4m1-270v4m0 27v4m0 33v4m1-333v4m0 363v4m0 121v4m1-428v4m0 97v4m0 112v4m0 117v4m0 223v4m1-388v4m0 57v4m0 40v4m0 95v4m0 135v4m1-403v4m0 117v4m0 193v4m0 71v4m0 1v4m1-343v4m0 100v4m0 24v4m0 153v4m1-526v4m0 180v4m0 74v4m1-254v4m0 392v4m1 131v4m1-526v4m0 134v4m0 323v4m0 72v4m1-294v4m0 218v4m1-307v4m0 276v4m1-487v4m0 450v4m1-349v4m0 233v4m0 133v4m1-461v4m0 302v4m0 154v4m0 127v4m1-537v4m0 41v4m0 244v4m1-356v4m0 27v4m0 142v4m0 78v4m1-150v4m0 316v4m0 24v4m0 52v4m0 59v4m0-3v4m1-427v4m0 44v4m0 331v4m1-532v4m0 82v4m0 5v4m0 169v4m0 80v4m0 196v4m0 37v4m1-574v4m0-3v4m0 157v4m0 256v4m0 144v4m1-525v4m0 137v4m0 10v4m1-259v4m180 127v4m0 250v4m1-385v4m0 476v4m0 19v4m1-239v4m0 199v4m1-528v4m0 179v4m1 50v4m0 268v4m1-527v4m0 17v4m0 342v4m1-356v4m0 61v4m0 15v4m0 82v4m0 51v4m0 38v4m0 94v4m0 229v4m1-449v4m0 5v4m0 148v4m1-159v4m0 247v4m0 53v4m0 42v4m0 27v4m0 123v4m1-27v4m1-316v4m0 138v4m1-255v4m0 124v4m0 221v4m1-558v4m0 584v4m0 45v4m1-660v4m0 194v4m0 202v4m1-421v4m1 354v4m1-330v4m0 496v4m1-392v4m0 68v4m0 217v4m0 43v4m1-38v4m1-25v4m0 238v4m1-614v4m0 227v4m0 194v4m0 165v4m0-2v4m1-216v4m0-4v4m0 121v4m1-363v4m0 8v4m0 183v4m1-44v4m0 68v4m0 210v4m1-561v4m0 98v4m0 331v4m1-460v4m0 306v4m0 108v4m1-519v4m0 58v4m0 616v4m1-491v4m0 331v4m0 56v4m1-255v4m0 153v4m0 53v4m1-546v4m0 670v4m1-669v4m0 127v4m0 262v4m1-343v4m1-64v4m0 490v4m0 157v4m1-498v4m0 5v4m0 232v4m0 211v4m1-521v4m1-1v4m0 271v4m0 229v4m1-586v4m0 229v4m1-277v4m0 36v4m0 202v4m0 412v4m0 6v4m1-249v4m0 219v4m1-610v4m0 213v4m0 138v4m1-424v4m0 175v4m0 46v4m0 156v4m1 205v4m1-505v4m0 26v4m0 193v4m0 275v4m1-180v4m1-296v4m1 37v4m0 138v4m0 25v4m0 66v4m0 199v4m1-319v4m0 84v4m0 219v4m1-347v4m0 179v4m0 54v4m1-470v4m0 291v4m0 158v4m0 51v4m0 99v4m1-258v4m0 11v4m2-23v4m0 52v4m1-384v4m0 100v4m0 273v4m0 141v4m1-273v4m0 30v4m1-299v4m0 4v4m0 186v4m0 372v4m1-242v4m0 87v4m1-333v4m0 426v4m1 80v4m0-3v4m1-663v4m1 176v4m0 315v4m1-363v4m0 444v4m1-595v4m0 492v4m0 100v4m0 23v4m1-496v4m1-48v4m0 98v4m0 297v4m2-313v4m0 466v4m1-588v4m0 339v4m0 180v4m1-597v4m0 347v4m1-274v4m0 490v4m1-533v4m0 90v4m0 449v4m1-244v4m0 45v4m0 50v4m1-25v4m0 183v4m1 12v4m1-501v4m0 284v4m1-271v4m0 438v4"/><path stroke="#09f0ee" d="M2 267v4m0 414v4m1-507v4m0 250v4m1-310v4m0 363v4m0 53v4m0 113v4m1-638v4m0 65v4m0 259v4m1-228v4m1-76v4m1 87v4m0 245v4m1-315v4m0 91v4m0 458v4m1-632v4m0 205v4m1 4v4m0 244v4m0 33v4m0 118v4m1-449v4m1-144v4m0 504v4m1 99v4m0 3v4m1-652v4m1 202v4m0 71v4m0 205v4m0 24v4m1-278v4m0 144v4m1-186v4m0 56v4m1 327v4m1-583v4m1 494v4m1-532v4m0 81v4m0-3v4m0 52v4m0 434v4m2-530v4m0 457v4m0 60v4m1-586v4m0 336v4m1-345v4m0 219v4m2-22v4m0 286v4m1-422v4m0 321v4m1-202v4m0 10v4m0 209v4m1-146v4m1-308v4m0 261v4m0 67v4m0 42v4m1-218v4m0 410v4m1-451v4m0 205v4m0 203v4m0 51v4m1-593v4m0 94v4m0 546v4m1-58v4m1-241v4m1-177v4m0 48v4m0 144v4m0 203v4m1-457v4m0 56v4m1 34v4m1-245v4m0 118v4m0 91v4m0 64v4m1-140v4m1-89v4m0 69v4m0 368v4m1-519v4m0 207v4m0 274v4m0 23v4m1-65v4m181-105v4m1-340v4m1 0v4m0 221v4m0 61v4m0 276v4m1-524v4m0 276v4m1-8v4m0 254v4m1-434v4m0 212v4m1 243v4m1-560v4m0 204v4m0 26v4m0 256v4m1-338v4m0 41v4m1 84v4m0 38v4m1 7v4m0 31v4m0 110v4m1-20v4m1-430v4m1 6v4m0 105v4m0 97v4m0 34v4m1 256v4m1-427v4m0 34v4m0 135v4m1-363v4m0 221v4m0 76v4m1-294v4m0 380v4m0 176v4m1-442v4m0 101v4m0 192v4m0 110v4m1-558v4m0 480v4m0 1v4m1-459v4m1 43v4m1-131v4m0 563v4m0 88v4m1-587v4m0 70v4m0 394v4m0 0v4m1-155v4m0 73v4m0 126v4m1-554v4m0 162v4m0 117v4m0 19v4m0 36v4m0 146v4m1-564v4m0 197v4m0 80v4m1-149v4m0 174v4m0 131v4m0 129v4m1-439v4m0 95v4m0 334v4m2-386v4m0 45v4m1-196v4m1 58v4m0 436v4m0 10v4m0 43v4m1-125v4m1-409v4m0 107v4m0 44v4m1 54v4m0 347v4m1-598v4m0 43v4m0 394v4m1-370v4m1-148v4m0 101v4m1 89v4m0 54v4m0 326v4m1-210v4m0 148v4m1-275v4m0 341v4m1-563v4m0 52v4m2 91v4m1-150v4m0 286v4m1-106v4m0 192v4m0 173v4m1-591v4m0 523v4m1-405v4m0 404v4m1-585v4m0 140v4m0 79v4m0 298v4m1-191v4m1 97v4m0 154v4m0 31v4m1-615v4m0 314v4m0 145v4m1-315v4m0 204v4m0 117v4m1-513v4m0 84v4m0 308v4m0 258v4m1-500v4m0 33v4m0 6v4m1-218v4m0 87v4m0 297v4m1-243v4m3-3v4m0 40v4m0 366v4m1 52v4m2-253v4m0 86v4m0 69v4m1-499v4m0 407v4m0 165v4m1-426v4m1 233v4m1 237v4m0 0v4m1-538v4m1 370v4m0 159v4m1-83v4m0-2v4m0 6v4m1-203v4m0 115v4m0 12v4m1-29v4m1-448v4"/><path stroke="#00b8ff" d="M2 586v4m1-431v4m0 30v4m0 315v4m1-359v4m1-141v4m0 28v4m0 135v4m1-145v4m0 286v4m0 109v4m0 146v4m1-284v4m1-290v4m1 349v4m1-295v4m0 558v4m1-502v4m0 35v4m0 237v4m0 111v4m1 41v4m0 92v4m1-437v4m1-47v4m1-180v4m0 90v4m0 536v4m1-472v4m0 323v4m0 123v4m1-650v4m0 621v4m1-496v4m0 381v4m0 103v4m1-348v4m0 167v4m1 99v4m1-119v4m0 23v4m0 85v4m0 9v4m0 53v4m1-390v4m0 120v4m0 5v4m1 231v4m1-135v4m0 119v4m1-567v4m0 309v4m0 0v4m1 62v4m1-410v4m0 92v4m0 40v4m0 21v4m0 7v4m0 168v4m1-264v4m1 158v4m0 156v4m1-23v4m1 137v4m1-502v4m0 331v4m1-275v4m1-115v4m0 471v4m1-33v4m2-54v4m0 30v4m0 82v4m0 143v4m1-109v4m2-20v4m2-409v4m0 22v4m0 417v4m0 86v4m2-331v4m1 97v4m180-194v4m0 31v4m1-39v4m0 116v4m2-317v4m0 267v4m0 197v4m0 1v4m2-283v4m0 405v4m1-402v4m1 62v4m1-124v4m2-195v4m0 574v4m1-409v4m0 296v4m0 73v4m1-534v4m0 102v4m0 98v4m0 26v4m0 15v4m0 50v4m2-309v4m1 68v4m1-78v4m0 1v4m0 529v4m0 70v4m1-393v4m1-195v4m1 581v4m1-614v4m0 155v4m0 119v4m1-308v4m0 198v4m0 187v4m1 39v4m2-69v4m2-54v4m1-176v4m0 41v4m0 201v4m1-408v4m0 261v4m0 67v4m0 24v4m1-414v4m0 8v4m0 508v4m2-470v4m0 101v4m0 22v4m0 337v4m0 26v4m0 103v4m1-36v4m1-550v4m0 11v4m0 2v4m1-32v4m0 315v4m1-320v4m0 60v4m0 152v4m0 317v4m0 38v4m1-494v4m0 66v4m1 305v4m1-465v4m0 46v4m0 178v4m0 60v4m1-386v4m0 259v4m0 131v4m1-249v4m0 366v4m0 118v4m1-628v4m0 175v4m2 393v4m1-601v4m0 30v4m0 610v4m1-401v4m0 396v4m1-579v4m0 113v4m0 252v4m0 209v4m1-451v4m0 102v4m0 28v4m0 94v4m1-326v4m0 67v4m0 148v4m0 22v4m1 148v4m1-475v4m2 94v4m0 14v4m0 35v4m0 38v4m0 126v4m1-267v4m0 20v4m0 414v4m1-348v4m0 103v4m0 220v4m1-439v4m0 512v4m1-487v4m0 350v4m1 111v4m1-622v4m0 569v4m1-378v4m1 431v4m0 37v4m1-552v4m1 276v4m1 42v4m3-102v4m0 53v4m1 25v4m0 73v4m0 66v4m0 66v4m1-611v4m0 390v4m0 110v4m1-100v4m1-433v4m0 441v4m1-453v4m0 64v4m1 446v4m0 78v4m1-5v4"/><path stroke="#ff2d00" d="M2 125v4m0 1v4m0 84v4m0 18v4m0 263v4m1-283v4m0 325v4m0 6v4m0 87v4m0 29v4m1-542v4m0 217v4m0 287v4m1-505v4m0 257v4m1-324v4m0 108v4m0 331v4m1-465v4m0 56v4m0 176v4m0 364v4m1-150v4m1-248v4m0 271v4m0 64v4m1-231v4m1-406v4m0 293v4m0 43v4m1-151v4m0 69v4m0 358v4m1-446v4m0 83v4m2 113v4m1-322v4m0 280v4m0 38v4m1-143v4m0 32v4m0 35v4m0 92v4m0 158v4m0 43v4m1-39v4m1-389v4m0 228v4m0 167v4m1-556v4m0 181v4m0 32v4m0 188v4m0 81v4m1-487v4m0 15v4m1 155v4m0 330v4m1-306v4m1-260v4m0 295v4m0 11v4m0 9v4m0 154v4m0 24v4m1-402v4m0 19v4m0 67v4m0 37v4m0 117v4m1-161v4m0 22v4m1 162v4m0 41v4m1-382v4m0 272v4m0 19v4m1-273v4m0 129v4m0 19v4m0 47v4m0 68v4m0 59v4m1-147v4m1 4v4m0 70v4m1 16v4m1-345v4m0 348v4m0 12v4m1-176v4m0 291v4m1-558v4m0 205v4m0 3v4m1-266v4m0 177v4m0 466v4m1-488v4m0 209v4m0-1v4m0 79v4m0 97v4m1-417v4m0 116v4m0 142v4m0 5v4m0 11v4m0 17v4m0 1v4m1-435v4m0 71v4m0 314v4m0 97v4m1-463v4m0 152v4m0 183v4m0-3v4m0 17v4m0 203v4m1-93v4m1-529v4m0 214v4m0 5v4m0 129v4m0 146v4m0 99v4m1-655v4m0 250v4m0 121v4m1 180v4m1-489v4m0 123v4m0 411v4m180-225v4m0 124v4m1-369v4m1 39v4m2 321v4m0 4v4m1-529v4m0 595v4m1-539v4m0 121v4m0 12v4m0-4v4m0 168v4m0 130v4m1-436v4m1-40v4m0 295v4m0 3v4m0 159v4m0 37v4m1-318v4m0 54v4m1-155v4m0 80v4m1 12v4m0 357v4m1-573v4m0 357v4m0 5v4m0 112v4m2-451v4m1 34v4m1-73v4m0 100v4m0 48v4m0 9v4m1 260v4m0 101v4m1-542v4m1 7v4m0 209v4m0 269v4m0 21v4m0 92v4m1-666v4m0 71v4m0 56v4m0 24v4m0 430v4m0 65v4m1-314v4m1-130v4m0 155v4m0 179v4m1-503v4m0 202v4m1-234v4m0 353v4m0 44v4m0 186v4m0 9v4m1-484v4m0 46v4m0 71v4m0 63v4m1-359v4m1 67v4m0 143v4m1 255v4m1-507v4m0 231v4m0 29v4m0 285v4m0-2v4m1-464v4m0 52v4m0 45v4m0 347v4m1-291v4m0 140v4m0 130v4m1-406v4m0 353v4m1-453v4m0 92v4m0 446v4m1-598v4m0 90v4m0 515v4m1-627v4m0 32v4m0 203v4m1-97v4m0 165v4m0 283v4m2-543v4m0 61v4m0 30v4m0 105v4m0 64v4m0 58v4m0 55v4m1-148v4m0 210v4m0 64v4m1-547v4m0 190v4m0 267v4m0 145v4m1-396v4m0 108v4m1-360v4m0 10v4m0 159v4m0 114v4m0 339v4m1-267v4m0 41v4m1-420v4m0 139v4m0 46v4m0 381v4m1-581v4m0 75v4m0 155v4m0 195v4m0 15v4m1-328v4m0 31v4m0 342v4m1 84v4m1-379v4m0 364v4m0 15v4m0 27v4m1-169v4m1-303v4m0 433v4m1-547v4m0 125v4m0 83v4m0 28v4m0 217v4m0 10v4m0 54v4m2-644v4m0 509v4m1-24v4m3-326v4m0 164v4m0 0v4m0 25v4m2-280v4m0 283v4m0 210v4m1-152v4m1-1v4m1 30v4m0 41v4m0 43v4m2-475v4m0 84v4m0 149v4m1-356v4m0 195v4m0 208v4m1 162v4m0 61v4m1-548v4m2 269v4m1 265v4m1-599v4m1-29v4m0 67v4m0 87v4m0 205v4m0 59v4m0 208v4m1-550v4m0 72v4m1 194v4"/><path stroke="#ff9400" d="M2 215v4m0 282v4m1-292v4m0 236v4m0 79v4m0 33v4m0 73v4m1-439v4m0 441v4m1-525v4m0 165v4m0 19v4m0 178v4m0 138v4m1-557v4m0 97v4m1-151v4m0 3v4m0 3v4m0 98v4m0 332v4m1-455v4m0 252v4m0 151v4m0 14v4m0 88v4m0 104v4m1-534v4m0 56v4m0 189v4m0 190v4m0 16v4m1-610v4m0 61v4m0 106v4m1 186v4m0 98v4m1-409v4m0-3v4m0 332v4m0 124v4m1-399v4m0 18v4m0 39v4m0 281v4m0 153v4m0-2v4m0 10v4m1-544v4m0 52v4m0-4v4m0 20v4m0 122v4m0 30v4m1-262v4m0 123v4m0 90v4m0 16v4m0 25v4m0 172v4m1-397v4m0 68v4m0 3v4m0-4v4m0 94v4m0 334v4m1-675v4m0 28v4m0 187v4m0 125v4m0 122v4m0 146v4m1-385v4m0 404v4m1-657v4m0 37v4m0 37v4m0 20v4m0 96v4m0 264v4m0 106v4m1-523v4m0 134v4m0 31v4m0 206v4m0 193v4m0 0v4m1-144v4m0 76v4m1-551v4m0 265v4m0 315v4m1-627v4m0 200v4m0 262v4m1-456v4m0 116v4m0-2v4m0 169v4m0 4v4m0 92v4m0 46v4m1-291v4m0 175v4m0 92v4m1-382v4m0 17v4m0 209v4m0 138v4m0 60v4m0 92v4m1-508v4m0 61v4m0 15v4m0 163v4m0 10v4m0 9v4m0 142v4m1-216v4m0 89v4m0 146v4m0-3v4m1-480v4m0 106v4m0 26v4m0 49v4m1-287v4m0 131v4m0 343v4m0 20v4m1-113v4m1-275v4m0 121v4m0 295v4m0 62v4m0 4v4m1-594v4m0 396v4m1-300v4m0 99v4m0 193v4m0 237v4m1-692v4m0 142v4m0 47v4m0 145v4m0 0v4m0 175v4m0 91v4m1-562v4m0 397v4m0 109v4m0 10v4m1-548v4m0 198v4m0 57v4m0 122v4m0 55v4m0 25v4m0 6v4m1-531v4m0 6v4m0 14v4m0-3v4m0 24v4m0 175v4m0 187v4m0 1v4m0 84v4m1-486v4m0 44v4m0 27v4m0 76v4m0 15v4m0 191v4m1-399v4m0 79v4m1 567v4m1-323v4m0 102v4m0-1v4m0 6v4m0 136v4m0 52v4m1-658v4m0 72v4m0 209v4m0 60v4m0 158v4m0-2v4m0 138v4m1-430v4m0 149v4m1 14v4m0 45v4m0 39v4m180-156v4m0 232v4m1-590v4m0 526v4m1-516v4m0 129v4m0 22v4m0 103v4m0 16v4m0 169v4m0 33v4m0 6v4m1-363v4m0 498v4m1-626v4m0 152v4m0 43v4m0 355v4m0 13v4m1-490v4m0 3v4m0 299v4m0 186v4m0 4v4m1-346v4m0 69v4m0 61v4m0 34v4m1-480v4m0 294v4m0 98v4m0 66v4m1-451v4m0 105v4m0 0v4m0 67v4m0 242v4m0 135v4m1-611v4m0 340v4m0 31v4m0 7v4m0 17v4m1-175v4m0 47v4m0 17v4m0 167v4m0 62v4m1-524v4m0 244v4m0 164v4m0 106v4m1-366v4m0 93v4m0 29v4m0 184v4m0 138v4m1-624v4m0 128v4m0 8v4m0 9v4m0 155v4m0 31v4m0 201v4m1-479v4m0 138v4m0 107v4m0 226v4m0 28v4m1-525v4m0 38v4m0 53v4m0 38v4m0 23v4m0 11v4m0 54v4m0 80v4m0-3v4m0 3v4m1-437v4m0 151v4m0 57v4m1-124v4m0 9v4m0 173v4m0 199v4m0 66v4m1-373v4m0 93v4m0 244v4m0 56v4m1-220v4m0 58v4m0 78v4m0-3v4m0 97v4m1-624v4m0 189v4m0 94v4m0 79v4m0 4v4m0 33v4m1-356v4m0 140v4m0 248v4m0 37v4m0 21v4m0-3v4m0 19v4m0 13v4m1-420v4m0 208v4m0 79v4m0 46v4m1-488v4m0 238v4m0 57v4m0 327v4m1-522v4m0 127v4m0 67v4m0 0v4m0 68v4m0 214v4m1-406v4m0 172v4m0 122v4m0 100v4m1-572v4m0 362v4m0 139v4m1-442v4m0-1v4m0 12v4m0 181v4m0 86v4m0 94v4m1-382v4m0 130v4m0 12v4m0 156v4m0 149v4m1-443v4m1-12v4m0 51v4m0 51v4m0 81v4m0 183v4m1-560v4m0 403v4m0 125v4m0 55v4m1-512v4m0 10v4m0 26v4m0 16v4m1 71v4m0 1v4m0 405v4m1-608v4m0 6v4m0 7v4m0-4v4m1-35v4m0 539v4m1-564v4m0 31v4m0 121v4m0 83v4m0 141v4m1-414v4m0 26v4m0 95v4m0 8v4m0 69v4m0 327v4m0 136v4m1-656v4m0 103v4m0 257v4m0 61v4m1-450v4m0 4v4m0 69v4m0 187v4m0 250v4m0-3v4m1-504v4m0 31v4m0 19v4m0 102v4m0 62v4m0 92v4m1-215v4m0 45v4m0 130v4m1 181v4m0 52v4m1-563v4m0 30v4m0 315v4m0 43v4m0 168v4m0 7v4m1-332v4m0 7v4m0 29v4m0 308v4m1-538v4m0 358v4m0 141v4m1-601v4m0 101v4m0 78v4m0 147v4m0 87v4m0 34v4m1-74v4m0 6v4m0 135v4m0 71v4m0 22v4m1-595v4m0 67v4m0 309v4m0 21v4m0 64v4m0 47v4m0 84v4m1-543v4m0 143v4m0 47v4m0 67v4m0 190v4m2-589v4m0 104v4m0 191v4m0 333v4m1-627v4m0 240v4m0 36v4m0 8v4m0 38v4m0 175v4m1-107v4m0 36v4m1-342v4m0 287v4m0 91v4m1-472v4m0 302v4m0 71v4m0 22v4m0 16v4m1-72v4m0 100v4m1-460v4m0 72v4m0 179v4m0 220v4m1-495v4m0 79v4m0 123v4m0 279v4m1-389v4m0 251v4m0 176v4m0 7v4m0 45v4m1-158v4m0 52v4m1-518v4m0 356v4m0 89v4m0 53v4m0 6v4m1-534v4m0 106v4m0 6v4m0 207v4m0 14v4m1-375v4m0 423v4m1 30v4m0-4v4m0 83v4m1-213v4m1-271v4m0 48v4m1 19v4m0 276v4m1-362v4m0 94v4m0 205v4m0 97v4m0 26v4m1-378v4m0 356v4m0 47v4m1 33v4m1-544v4m0 80v4m0 15v4m0 377v4m1-474v4m0 90v4m0 8v4m0 234v4m0 71v4m0 69v4m0 70v4m1-595v4m0 101v4m0 305v4m1 16v4"/><path stroke="#0000df" d="M2 96v4m0 216v4m1 209v4m1-189v4m0 64v4m0 253v4m1-620v4m0 379v4m1 212v4m1-172v4m0 129v4m1-380v4m1-168v4m0 67v4m2 159v4m0 48v4m0 146v4m0 142v4m4-188v4m1-334v4m0 68v4m0 56v4m1-202v4m0 245v4m1-186v4m2 46v4m0 415v4m1-349v4m1 225v4m0 186v4m1-538v4m2 318v4m1-7v4m0 162v4m1-507v4m0 193v4m0 230v4m1-400v4m0 54v4m0 152v4m3-203v4m0 400v4m1-354v4m0 230v4m2-298v4m0 493v4m1-487v4m2 54v4m0 259v4m1 148v4m1-652v4m0 44v4m1 235v4m0 154v4m1-414v4m0 486v4m1-484v4m1 73v4m183 362v4m1-172v4m0 3v4m1-205v4m1 229v4m1-259v4m0 400v4m0 120v4m1-339v4m0 135v4m1-89v4m3-201v4m1 284v4m0 12v4m1-11v4m1-323v4m0 396v4m1-343v4m1-82v4m1-39v4m1 247v4m0 43v4m0 235v4m1-213v4m0 231v4m1-530v4m0 32v4m0 45v4m0 180v4m3 97v4m2-489v4m1 40v4m3 457v4m1-448v4m0 397v4m1-173v4m3 240v4m3-373v4m2 194v4m2-164v4m2 294v4m1-494v4m0 70v4m1 62v4m0 432v4m1-451v4m1 208v4m0 276v4m3-204v4m1-344v4m0 58v4m0 20v4m0 0v4m0 174v4m0 49v4m2 212v4m0 34v4m1-596v4m0 105v4m0 100v4m0 216v4m1-506v4m0 162v4m0 266v4m0 6v4m2-438v4m0 343v4m2-366v4m1 212v4m1 233v4m0 55v4m1-427v4m0 414v4m2-153v4m1 248v4m1-616v4m0 494v4m5-296v4m2 280v4m1 69v4"/><path stroke="#36ffc1" d="M4 75v4m0 16v4m1 320v4m1-407v4m0 271v4m0 210v4m0 63v4m1-268v4m1 255v4m1-503v4m0 103v4m0 0v4m0 51v4m1-173v4m0 170v4m0 189v4m0 40v4m0 52v4m1-486v4m0 16v4m0 26v4m0 111v4m0 33v4m0 261v4m1-79v4m1-321v4m0 216v4m2-170v4m1-161v4m0 614v4m1-99v4m0 15v4m2-367v4m0 169v4m0 244v4m0 63v4m1-613v4m0 196v4m2-120v4m0 516v4m1-581v4m0 20v4m1-87v4m0 43v4m0 111v4m0 225v4m1-356v4m0 1v4m0 30v4m0 519v4m1-344v4m0 13v4m2 101v4m0 120v4m1-436v4m0 29v4m1 450v4m1-573v4m0 50v4m0 112v4m0 183v4m0 37v4m0 46v4m0 151v4m2-487v4m0 5v4m0 6v4m0 53v4m0 348v4m1-428v4m0 250v4m0 30v4m0 47v4m1-427v4m0 212v4m0 185v4m0 142v4m0 6v4m1-591v4m1 24v4m1-34v4m0 228v4m0 182v4m0 218v4m3-474v4m0 55v4m0 354v4m1-327v4m1-3v4m0 304v4m1-437v4m0 122v4m182-194v4m1 561v4m1-341v4m0 137v4m0 136v4m1-560v4m1 493v4m1 14v4m1-502v4m0 241v4m0 45v4m0 137v4m0 124v4m3-11v4m1-643v4m0 537v4m2-539v4m0 195v4m1 433v4m1-402v4m0 10v4m0 72v4m0 8v4m1 274v4m1-464v4m0 491v4m1-140v4m2-302v4m0 345v4m1 25v4m0 18v4m1-589v4m0 0v4m0 110v4m0 135v4m0 129v4m1-138v4m1-105v4m0 24v4m0 131v4m2-179v4m0 215v4m0 170v4m1-503v4m0 460v4m0 55v4m1-485v4m0 248v4m1-250v4m0 540v4m1-624v4m1 501v4m0 36v4m0 75v4m1-534v4m1 35v4m1 86v4m0 319v4m1-491v4m2 226v4m0 336v4m1-528v4m0 108v4m0 119v4m1-390v4m0 49v4m1 383v4m0 123v4m1-105v4m1-356v4m0 28v4m0 505v4m0 14v4m1-624v4m0 95v4m0 95v4m1 211v4m1-286v4m0 62v4m0 97v4m0 1v4m0 24v4m1-93v4m0 184v4m0 40v4m1-430v4m0 380v4m1 162v4m1-12v4m1-639v4m0 67v4m0 492v4m0 54v4m1-577v4m0 318v4m0-4v4m0 62v4m1-240v4m0 246v4m1-349v4m0 143v4m0 222v4m0 185v4m1-322v4m0 5v4m1-247v4m1 281v4m0 255v4m1-494v4m0 286v4m1-324v4m0 211v4m1 68v4m0 120v4m1-217v4m0 264v4m1 26v4m1-553v4m0 520v4m1-629v4m0 47v4m0 146v4m0 313v4m1-407v4m0 351v4m0 99v4m1-480v4m0 81v4m1-171v4m0 187v4m1 348v4m0 2v4m0 71v4m2-527v4m0 27v4m0 406v4m0 94v4m2-456v4m0 309v4m1-422v4m0 496v4m1-508v4m0 34v4m0 368v4"/><path stroke="#eeff09" d="M2 27v4m0 86v4m0 365v4m0 105v4m1-568v4m0 43v4m0 61v4m0 31v4m0 53v4m0 108v4m0 306v4m1-633v4m0 145v4m0 18v4m0 64v4m0 124v4m0 30v4m0 10v4m0 17v4m0 151v4m1-341v4m0 304v4m0 42v4m1-628v4m0 91v4m0 52v4m0 7v4m0 3v4m0 35v4m0 244v4m1-262v4m0 10v4m0 246v4m0 28v4m1-386v4m0 58v4m0 126v4m0 18v4m0 135v4m0 31v4m0 15v4m0 36v4m1-533v4m0 218v4m0 17v4m0 169v4m0 5v4m0 91v4m0 68v4m1-556v4m0 20v4m0 65v4m0 57v4m0 278v4m0 166v4m1-642v4m0 16v4m0 210v4m0 3v4m0 20v4m0 51v4m0 212v4m0 2v4m0 40v4m1-440v4m0 49v4m0 298v4m0 0v4m1-346v4m0 28v4m0 52v4m0 25v4m0 303v4m1-584v4m0 7v4m0 31v4m0-2v4m0 84v4m0 130v4m0 55v4m0 204v4m0 73v4m1-608v4m0 186v4m0 67v4m0 97v4m0 178v4m0 14v4m1-443v4m0 0v4m0 2v4m0 143v4m0 116v4m0 2v4m0 83v4m1-441v4m0 83v4m0 196v4m0 15v4m0 179v4m1-433v4m0 5v4m0 216v4m0 188v4m0 2v4m0-2v4m0 67v4m1-495v4m0 20v4m0 33v4m0 73v4m0 315v4m0 28v4m1-442v4m0 11v4m0 82v4m0 114v4m0 210v4m1-656v4m0 89v4m0 3v4m0 21v4m0 126v4m0 10v4m0 56v4m0 169v4m0 75v4m0 58v4m0 7v4m1-424v4m0 35v4m0 58v4m0-1v4m0 6v4m0 202v4m0 65v4m1-559v4m0 273v4m0 203v4m0 98v4m1-605v4m0 10v4m0 50v4m0 42v4m0 155v4m0 46v4m0 36v4m0 7v4m1-322v4m0 5v4m0 62v4m0 337v4m0 26v4m0 73v4m1-587v4m0 43v4m0 1v4m0 76v4m0 237v4m0 140v4m0 41v4m0 4v4m1-586v4m0 108v4m0 14v4m0 149v4m0 271v4m0 72v4m1-465v4m0 76v4m0 53v4m0 98v4m0 47v4m0 51v4m0 63v4m1-634v4m0 6v4m0 63v4m0 136v4m0 156v4m0 131v4m0 162v4m1-609v4m0 93v4m0 291v4m0 124v4m0 70v4m1-484v4m0 239v4m1-329v4m0 123v4m0 187v4m0 93v4m0-1v4m0 1v4m0 94v4m1-612v4m0 152v4m0 6v4m0 19v4m0 393v4m0 22v4m1-516v4m0 6v4m1 19v4m0 22v4m0 65v4m0 81v4m0 22v4m0 113v4m0 53v4m0 125v4m1-661v4m0 315v4m0 38v4m0 24v4m0 127v4m0 136v4m1-641v4m0 175v4m0 66v4m0 2v4m0 58v4m0 39v4m0 72v4m0 13v4m0 101v4m1-492v4m0 97v4m0 102v4m0 74v4m0 70v4m0 98v4m0 50v4m1-502v4m0 123v4m0 130v4m0 4v4m0 106v4m0 47v4m0 132v4m1-301v4m0 1v4m0 28v4m0 89v4m0 144v4m1-648v4m0 170v4m0 84v4m0 42v4m0 193v4m0 28v4m0 63v4m1-621v4m0 25v4m0 44v4m0 185v4m0 305v4m0 61v4m1-544v4m0 30v4m0 200v4m0 102v4m1-149v4m0 27v4m0 18v4m0 205v4m1-386v4m0 92v4m0 373v4m0-2v4m180-209v4m1-419v4m0 214v4m0 141v4m0 36v4m0 86v4m0 91v4m1-546v4m0 206v4m0 163v4m0 39v4m0 52v4m0 116v4m1-312v4m1-369v4m0 52v4m0 67v4m0 80v4m0 48v4m0 23v4m0 31v4m0 184v4m1-459v4m0 156v4m0 283v4m1-521v4m0 76v4m0 96v4m0 9v4m0 37v4m0 7v4m0 125v4m0 24v4m0 103v4m1-97v4m0 57v4m0 24v4m0 83v4m0 33v4m1-622v4m0 117v4m0 94v4m0 132v4m0 182v4m0 47v4m1-601v4m0 199v4m0 325v4m1-540v4m0 23v4m0 35v4m0 241v4m0 241v4m1-498v4m0 1v4m0 371v4m0 56v4m0 41v4m0 82v4m0 33v4m1-107v4m0 4v4m1-266v4m0 197v4m1-409v4m0 57v4m0 223v4m0-3v4m0 4v4m0 151v4m0 25v4m0 2v4m0 5v4m1-528v4m0 7v4m1 452v4m0 23v4m0 36v4m0 39v4m1-180v4m1-329v4m0 73v4m0 74v4m0 138v4m0 38v4m0 102v4m0 18v4m0 0v4m0-3v4m1-365v4m0 291v4m1-478v4m0 28v4m0 0v4m0 70v4m0 236v4m0 13v4m1-455v4m0 35v4m0 22v4m0 92v4m0 9v4m0 44v4m0 251v4m1-466v4m0 5v4m0 5v4m0 96v4m0 174v4m0 101v4m0 86v4m1-488v4m0 12v4m0 255v4m0 239v4m0 106v4m0 21v4m1-665v4m0 196v4m0 88v4m0 32v4m0 61v4m0 239v4m1-541v4m0 88v4m0 65v4m0-1v4m0 40v4m0 163v4m1-502v4m0 58v4m0 2v4m0 63v4m0 50v4m0 364v4m0 117v4m1-672v4m0 3v4m0 26v4m0 91v4m0 31v4m0 78v4m0 98v4m0 115v4m0 198v4m1-617v4m0 64v4m0 165v4m0 19v4m0 4v4m0 12v4m0 163v4m1-508v4m0 136v4m0 74v4m0 147v4m0 15v4m0 101v4m0 4v4m0 31v4m1-286v4m0 78v4m0 10v4m0 17v4m0 10v4m0 63v4m0 169v4m0 32v4m1-377v4m0 50v4m0 3v4m0 10v4m0 42v4m0 177v4m1-590v4m0 119v4m0 198v4m0 23v4m1-352v4m0 47v4m0 91v4m0 125v4m0 105v4m0 25v4m0 204v4m0 6v4m1-449v4m0 30v4m0 217v4m0 134v4m0 18v4m1-432v4m0 386v4m0 25v4m1-605v4m0 381v4m0 123v4m0 38v4m1-530v4m0 145v4m0 450v4m0 18v4m1-560v4m0 115v4m0 190v4m0 30v4m0 216v4m1-674v4m0 607v4m0 11v4m1-571v4m0 112v4m0 98v4m0 193v4m0 180v4m1-444v4m0 151v4m0 214v4m0 62v4m0-4v4m1-430v4m0 277v4m1-446v4m0 11v4m0 183v4m0 32v4m0 76v4m0 41v4m0 94v4m1-467v4m0 248v4m0 41v4m0 128v4m0 15v4m0 159v4m1-453v4m0 61v4m0 227v4m1-514v4m0 248v4m1-157v4m0 140v4m0 39v4m0 132v4m0 1v4m0 119v4m0 79v4m0 20v4m1-620v4m0 28v4m0 14v4m0 150v4m0 115v4m0 60v4m0 53v4m0 26v4m1-531v4m0 111v4m0 187v4m0 60v4m0 164v4m0 80v4m0 25v4m1-419v4m1 112v4m1-316v4m0 85v4m0 91v4m1-224v4m0 136v4m0 124v4m0 4v4m0 217v4m1-480v4m0 430v4m1-371v4m0 130v4m0 344v4m0-1v4m1-525v4m0 99v4m0 221v4m0 26v4m0 19v4m0 140v4m1-496v4m0 32v4m0 72v4m0 143v4m0 9v4m0 249v4m0 23v4m1-590v4m0 370v4m0 195v4m0 7v4m1-569v4m0 93v4m0 144v4m0 32v4m0 8v4m0 31v4m0 107v4m1-176v4m0 171v4m1-91v4m0 72v4m0-4v4m1-422v4m0 83v4m0 173v4m0 212v4m1-275v4m0 91v4m0 18v4m1-417v4m0 153v4m0 22v4m0 242v4m0 126v4m0 88v4m1-639v4m0 6v4m0 588v4m1-555v4m0 103v4m0 190v4m0 63v4m0 19v4m0 175v4m1-236v4m0 67v4m1-325v4m0 29v4m0 271v4m0 89v4m1-73v4m1-378v4m0 490v4m0 17v4m1-574v4m0 103v4m0 189v4m0 94v4m0 71v4m0 104v4m1-604v4m0 314v4m0 88v4m1-388v4m0 10v4m0 110v4m0 1v4m0 216v4m0 128v4m0 84v4m1-124v4"/><path stroke="#840000" d="M2 63v4m0 36v4m0 44v4m0 243v4m0 72v4m0 2v4m0 66v4m0 43v4m0 23v4m0 14v4m0 16v4m0 13v4m1-584v4m0 47v4m0 38v4m0 6v4m0 14v4m0 26v4m0 43v4m0 8v4m0 40v4m0 11v4m0 25v4m0 55v4m0 50v4m0 37v4m0 38v4m0 76v4m1-633v4m0 4v4m0 46v4m0 8v4m0 49v4m0 4v4m0 34v4m0 2v4m0 17v4m0 189v4m0 36v4m0 47v4m0 30v4m0 15v4m0 20v4m0 34v4m1-576v4m0 0v4m0 109v4m0 94v4m0 29v4m0 9v4m0 17v4m0 76v4m0 85v4m0 22v4m0 28v4m0 104v4m1-591v4m0 31v4m0-4v4m0 72v4m0 47v4m0 14v4m0 128v4m0 66v4m0 59v4m0 12v4m1-422v4m0 6v4m0 22v4m0 27v4m0 243v4m0 110v4m0-4v4m0 25v4m1-580v4m0 5v4m0 3v4m0 24v4m0 24v4m0 92v4m0 6v4m0 107v4m0 35v4m0 59v4m0 27v4m0-4v4m0 17v4m0 40v4m0 20v4m0 7v4m0 3v4m0 45v4m0 4v4m0 54v4m1-660v4m0 30v4m0 56v4m0 28v4m0 27v4m0 24v4m0 80v4m0 62v4m0 75v4m0 28v4m0 35v4m0 157v4m0 27v4m1-640v4m0 11v4m0 6v4m0 43v4m0 23v4m0 15v4m0 11v4m0 90v4m0 22v4m0 13v4m0 0v4m0 61v4m0 74v4m0-3v4m0 18v4m0 7v4m0 47v4m0 46v4m0 81v4m1-587v4m0 51v4m0 16v4m0 15v4m0 4v4m0 49v4m0 39v4m0 26v4m0-3v4m0 24v4m0 176v4m0 28v4m0 46v4m0 44v4m0 20v4m1-633v4m0 80v4m0 42v4m0 94v4m0 35v4m0 87v4m0 28v4m0-3v4m0 47v4m0 1v4m0 9v4m0 8v4m0 1v4m0-1v4m0 25v4m0 67v4m0 9v4m0-1v4m0 4v4m0 9v4m1-670v4m0 4v4m0-1v4m0 17v4m0 73v4m0 34v4m0 72v4m0 57v4m0 17v4m0 72v4m0 37v4m0 14v4m0 20v4m0 19v4m0 57v4m0 5v4m0 7v4m0 63v4m1-486v4m0 82v4m0 55v4m0 79v4m0 40v4m0 31v4m0-1v4m0 9v4m0 191v4m1-656v4m0 17v4m0 35v4m0 35v4m0 36v4m0 24v4m0 57v4m0 161v4m0 32v4m0 53v4m0 70v4m0 1v4m0 40v4m0 16v4m1-657v4m0 5v4m0 4v4m0-2v4m0 26v4m0 40v4m0 83v4m0 6v4m0 65v4m0 91v4m0 3v4m0 24v4m0 23v4m0 136v4m0 6v4m0 57v4m0 6v4m1-482v4m0 102v4m0 85v4m0 1v4m0 21v4m0 33v4m0 121v4m0 24v4m0 10v4m0-1v4m0 50v4m1-594v4m0 32v4m0 31v4m0 109v4m0 30v4m0 57v4m0-1v4m0 24v4m0 16v4m0-2v4m0 24v4m0 2v4m0 14v4m0 64v4m0 1v4m0-3v4m0 3v4m0 68v4m1-557v4m0 2v4m0-3v4m0 4v4m0 65v4m0 45v4m0 147v4m0 25v4m0 126v4m0 4v4m0 10v4m0 78v4m0 9v4m1-588v4m0 12v4m0 33v4m0 2v4m0-2v4m0 3v4m0 124v4m0 41v4m0 20v4m0 35v4m0 25v4m0 8v4m0 27v4m0 81v4m0 49v4m0 17v4m0 6v4m0 10v4m0 44v4m0-3v4m0-3v4m0 6v4m1-606v4m0 78v4m0 53v4m0 130v4m0 102v4m0 82v4m0 8v4m0 55v4m0 5v4m0 41v4m0 24v4m0-3v4m1-654v4m0 55v4m0 33v4m0 1v4m0 16v4m0 0v4m0 80v4m0 55v4m0 2v4m0 128v4m0 16v4m0 0v4m0 8v4m0 19v4m0-2v4m0 62v4m0 9v4m0 38v4m0 2v4m0 29v4m0 23v4m1-654v4m0 21v4m0-3v4m0 54v4m0 25v4m0-3v4m0 23v4m0 20v4m0 17v4m0-3v4m0 8v4m0 24v4m0 16v4m0 1v4m0 64v4m0 32v4m0 45v4m0-3v4m0 5v4m0 57v4m0 49v4m0-4v4m0 10v4m0 35v4m0 41v4m0 11v4m1-626v4m0 67v4m0 20v4m0 12v4m0 10v4m0 35v4m0 33v4m0 21v4m0 37v4m0 35v4m0 23v4m0 33v4m0 39v4m0 32v4m0-2v4m0 107v4m0 34v4m1-628v4m0 152v4m0 15v4m0 47v4m0 0v4m0 19v4m0 46v4m0 27v4m0 8v4m0 90v4m0 88v4m0 12v4m0 14v4m1-532v4m0-3v4m0 17v4m0 7v4m0 52v4m0 44v4m0 30v4m0 1v4m0 1v4m0 17v4m0-3v4m0-4v4m0-3v4m0 133v4m0 54v4m0 3v4m0 90v4m0 25v4m0 16v4m0 0v4m0 1v4m0-1v4m0 1v4m0 20v4m1-603v4m0 25v4m0 86v4m0 32v4m0 6v4m0 115v4m0 33v4m0 130v4m0 16v4m0 140v4m1-638v4m0 59v4m0 5v4m0-1v4m0 20v4m0 183v4m0 50v4m0 6v4m0 75v4m0 5v4m0 3v4m0 28v4m0 19v4m0 3v4m0 83v4m0 47v4m1-636v4m0 101v4m0 58v4m0 105v4m0 89v4m0 39v4m0 59v4m0 4v4m1-465v4m0 65v4m0 55v4m0 21v4m0 24v4m0 56v4m0 16v4m0 48v4m0 21v4m0 50v4m0 9v4m0-3v4m0 13v4m0 34v4m0 34v4m0 3v4m0 107v4m1-619v4m0 6v4m0 59v4m0 56v4m0 91v4m0 124v4m0 61v4m0 77v4m0 52v4m0 16v4m0 27v4m0-1v4m0 11v4m1-673v4m0 43v4m0 44v4m0 13v4m0-3v4m0 5v4m0 12v4m0 3v4m0-3v4m0 120v4m0 27v4m0 129v4m0 69v4m0 21v4m0 12v4m0 25v4m0 31v4m0 51v4m1-672v4m0 8v4m0 60v4m0 44v4m0 0v4m0 22v4m0 48v4m0 134v4m0 17v4m0 58v4m0 21v4m0 157v4m0 29v4m0 7v4m1-640v4m0 2v4m0 27v4m0 38v4m0-2v4m0 29v4m0 5v4m0-3v4m0 7v4m0 8v4m0 46v4m0 14v4m0 240v4m0 32v4m0 83v4m0 40v4m0 8v4m0 0v4m0-3v4m1-678v4m0 60v4m0 10v4m0 19v4m0 157v4m0 17v4m0 43v4m0 42v4m0 24v4m0 10v4m0 78v4m0 7v4m0 15v4m0 58v4m0 17v4m0 7v4m0 2v4m1-619v4m0 11v4m0 19v4m0 128v4m0-2v4m0 32v4m0 180v4m0 9v4m0 26v4m0 65v4m0 70v4m0 4v4m0 56v4m1-636v4m0 12v4m0 67v4m0-2v4m0 14v4m0 5v4m0 71v4m0 85v4m0 20v4m0 0v4m0 6v4m0 82v4m0 5v4m0-4v4m0 14v4m0 111v4m0 71v4m0 0v4m0 14v4m1-674v4m0-2v4m0 80v4m0 12v4m0 120v4m0-3v4m0 41v4m0 78v4m0 21v4m0 171v4m0 63v4m0 27v4m0-1v4m0 23v4m1-649v4m0 38v4m0 8v4m0 34v4m0 106v4m0 22v4m0 88v4m0 27v4m0 1v4m0 57v4m0 90v4m0 1v4m0 34v4m0 31v4m1-572v4m0 39v4m0 82v4m0 17v4m0 6v4m0 204v4m0 21v4m0 57v4m0 38v4m0 99v4m1-657v4m0 25v4m0 17v4m0 171v4m0 76v4m0 28v4m0 47v4m0-1v4m0 2v4m0 43v4m0 187v4m0 24v4m1-606v4m0 31v4m0 63v4m0-1v4m0 17v4m0 61v4m0 6v4m0 15v4m0 41v4m0 77v4m0 103v4m0 120v4m0 8v4m1-586v4m0 26v4m0 11v4m0 6v4m0 70v4m0 4v4m0 24v4m0 11v4m0 13v4m0 12v4m0 5v4m0 64v4m0 27v4m0 47v4m0 33v4m0 21v4m0 0v4m0 21v4m0 15v4m0 34v4m0 40v4m0 43v4m1-672v4m0-3v4m0 14v4m0 46v4m0 37v4m0 18v4m0 0v4m0 10v4m0 2v4m0 153v4m0 44v4m0 4v4m0 29v4m0 63v4m0 43v4m0 26v4m0 24v4m0 17v4m0 1v4m0 59v4m1-640v4m0 63v4m0 15v4m180-87v4m0 25v4m0 14v4m0 297v4m0 8v4m0 204v4m0 67v4m1-688v4m0-3v4m0 56v4m0 119v4m0 15v4m0 11v4m0 130v4m0 117v4m0 3v4m0-3v4m0 17v4m0 3v4m0 5v4m0 52v4m0 36v4m0 4v4m0 32v4m0 20v4m1-678v4m0 13v4m0 32v4m0 30v4m0-1v4m0 72v4m0-1v4m0 5v4m0 31v4m0 25v4m0 99v4m0 46v4m0 91v4m0 0v4m0 31v4m0 48v4m1-581v4m0 6v4m0-3v4m0 53v4m0 12v4m0 45v4m0 1v4m0 80v4m0 7v4m0 39v4m0 3v4m0 44v4m0 0v4m0 53v4m0 108v4m0 52v4m0 84v4m1-540v4m0-2v4m0 1v4m0-4v4m0 2v4m0 6v4m0-4v4m0 3v4m0 11v4m0 11v4m0 69v4m0 50v4m0 28v4m0 18v4m0 71v4m0 6v4m0 25v4m0 134v4m0 46v4m1-670v4m0 18v4m0 25v4m0 17v4m0 25v4m0 142v4m0 23v4m0 51v4m0 118v4m0 97v4m0 57v4m0 14v4m0 3v4m0 20v4m1-651v4m0 49v4m0 40v4m0 33v4m0 48v4m0-3v4m0 140v4m0 53v4m0 12v4m0 46v4m0 3v4m0 9v4m0 1v4m0-3v4m0 80v4m0 61v4m0 5v4m0 9v4m1-657v4m0 97v4m0 2v4m0 15v4m0 9v4m0 2v4m0 36v4m0 34v4m0 52v4m0 38v4m0 48v4m0 38v4m0 6v4m0 5v4m0 181v4m0 3v4m0 1v4m0-2v4m0 23v4m0-2v4m1-661v4m0 1v4m0 0v4m0 51v4m0 45v4m0 36v4m0 112v4m0 53v4m0 23v4m0 128v4m0 26v4m0 9v4m0 36v4m0 16v4m0 3v4m0 18v4m0 36v4m1-324v4m0 10v4m0 38v4m0 35v4m0 87v4m0 5v4m0 34v4m0 8v4m0 35v4m1-627v4m0 49v4m0 103v4m0-1v4m0 104v4m0 37v4m0 61v4m0-2v4m0 11v4m0 47v4m0 53v4m0 35v4m0 72v4m0 4v4m0 26v4m0-1v4m1-632v4m0 5v4m0 46v4m0 77v4m0 91v4m0 72v4m0 36v4m0 3v4m0-3v4m0 21v4m0 10v4m0 22v4m0 42v4m1-451v4m0 49v4m0 160v4m0 26v4m0 40v4m0 28v4m0 69v4m0 3v4m0 6v4m0 27v4m0 18v4m0 5v4m0 22v4m0 0v4m0 13v4m0 57v4m0 19v4m1-682v4m0 88v4m0 38v4m0 96v4m0 156v4m0 24v4m0 25v4m0 5v4m0 19v4m0 29v4m0 95v4m0 50v4m1-675v4m0 13v4m0 101v4m0 56v4m0 13v4m0 50v4m0 4v4m0 351v4m1-613v4m0 3v4m0 29v4m0 15v4m0 116v4m0 10v4m0-2v4m0 23v4m0 40v4m0 289v4m1-511v4m0 63v4m0 131v4m0 29v4m0 37v4m0 9v4m0 53v4m0 5v4m0 64v4m0 51v4m0 4v4m0 110v4m0 15v4m1-650v4m0 12v4m0 20v4m0 0v4m0 21v4m0 275v4m0 27v4m0 26v4m0 7v4m0 16v4m0 96v4m1-518v4m0-1v4m0 102v4m0 4v4m0 34v4m0 4v4m0 43v4m0 127v4m0 37v4m0 0v4m0 20v4m0 10v4m0 6v4m0 58v4m0-1v4m0 14v4m0 2v4m0-3v4m0 79v4m0 18v4m0-2v4m1-657v4m0 26v4m0 116v4m0 20v4m0 99v4m0 107v4m0 54v4m0 72v4m0 14v4m1-541v4m0 6v4m0 85v4m0-4v4m0 17v4m0 146v4m0 31v4m0 8v4m0 34v4m0 28v4m0 21v4m0 19v4m0 9v4m0 142v4m0-4v4m0 30v4m0 14v4m1-679v4m0 27v4m0 47v4m0 7v4m0 46v4m0 30v4m0 50v4m0 43v4m0 1v4m0 117v4m0 53v4m0 48v4m0 9v4m0 26v4m0 5v4m0 24v4m0 12v4m0 62v4m1-576v4m0 59v4m0 202v4m0 39v4m0 23v4m0 13v4m0 10v4m0 55v4m0 9v4m0 96v4m0-4v4m0 23v4m1-605v4m0 256v4m0 79v4m0 9v4m0 28v4m0 10v4m0-3v4m0 7v4m0 107v4m0 19v4m0 11v4m0 22v4m1-626v4m0 66v4m0 16v4m0 35v4m0 10v4m0 35v4m0 31v4m0 8v4m0-2v4m0 12v4m0 5v4m0 81v4m0 25v4m0 79v4m0 50v4m0 59v4m0 4v4m0 50v4m1-578v4m0 63v4m0 19v4m0 36v4m0 33v4m0 44v4m0 16v4m0 86v4m0 56v4m0 34v4m0 46v4m0 1v4m0 25v4m1-597v4m0 47v4m0 3v4m0 20v4m0 22v4m0 52v4m0 8v4m0 85v4m0 29v4m0 160v4m0 21v4m0 36v4m0 23v4m0 52v4m0 0v4m0 15v4m0 32v4m1-671v4m0 13v4m0-3v4m0 35v4m0 90v4m0 4v4m0 144v4m0 21v4m0 42v4m0 16v4m0 28v4m0 10v4m0 78v4m0 19v4m0 43v4m0 16v4m0 42v4m1-685v4m0 49v4m0 0v4m0 35v4m0 4v4m0 14v4m0-2v4m0 18v4m0 0v4m0 19v4m0 23v4m0 2v4m0 175v4m0 59v4m0 64v4m0 111v4m1-625v4m0 43v4m0 19v4m0 16v4m0 16v4m0-3v4m0 0v4m0 2v4m0 29v4m0 35v4m0 7v4m0 81v4m0 111v4m0 11v4m0 232v4m0 11v4m0 0v4m1-671v4m0 179v4m0 68v4m0 12v4m0 41v4m0 155v4m0-3v4m0 59v4m0 0v4m0 3v4m0 42v4m1-589v4m0 158v4m0 35v4m0 1v4m0 112v4m0 66v4m0 124v4m0 2v4m0 21v4m0 79v4m1-656v4m0 172v4m0 131v4m0 0v4m0 53v4m0 42v4m0 124v4m0 12v4m0 5v4m0 47v4m1-630v4m0 28v4m0 16v4m0 60v4m0 20v4m0 15v4m0 106v4m0 149v4m0-2v4m0 88v4m0-3v4m0 19v4m1-495v4m0 18v4m0 13v4m0 35v4m0 1v4m0 206v4m0 75v4m0 44v4m0 72v4m0 9v4m0 52v4m0 34v4m0-4v4m0 12v4m1-677v4m0 5v4m0 11v4m0 103v4m0 41v4m0 26v4m0 25v4m0 9v4m0 13v4m0 43v4m0 36v4m0 41v4m0 35v4m0 22v4m0 82v4m0 49v4m0-4v4m0 81v4m1-524v4m0 11v4m0 135v4m0 33v4m0 192v4m0 71v4m0-1v4m0 48v4m1-549v4m0 135v4m0 1v4m0 63v4m0 59v4m0 26v4m0 14v4m0 91v4m0 73v4m1-394v4m0 9v4m0 192v4m0 29v4m0 12v4m0 95v4m0 33v4m1-628v4m0 127v4m0 41v4m0 26v4m0 38v4m0 87v4m0 144v4m0 22v4m0-3v4m0 41v4m1-566v4m0 16v4m0 0v4m0 14v4m0 17v4m0 55v4m0-3v4m0 33v4m0 159v4m0 66v4m0 0v4m0 9v4m0 28v4m0 22v4m0 7v4m0 26v4m0 9v4m0 9v4m0 18v4m0-4v4m0 0v4m0 102v4m1-654v4m0 237v4m0 16v4m0 115v4m0 6v4m0-1v4m0 33v4m0-2v4m0 13v4m0 158v4m0 6v4m1-638v4m0 40v4m0 29v4m0 100v4m0 47v4m0 15v4m0 58v4m0 125v4m0 17v4m0 33v4m1-506v4m0 1v4m0 158v4m0 20v4m0 29v4m0 33v4m0 33v4m0 3v4m0 4v4m0 4v4m0 7v4m0 52v4m0 16v4m0 2v4m0-2v4m0 26v4m0 29v4m0 25v4m0 22v4m0 63v4m0 30v4m0 12v4m0 2v4m1-600v4m0 35v4m0 42v4m0 77v4m0-1v4m0 39v4m0 58v4m0 71v4m0 35v4m0 79v4m0 26v4m0 26v4m0 27v4m1-631v4m0 31v4m0 102v4m0 7v4m0 59v4m0 69v4m0 3v4m0-2v4m0 72v4m0 15v4m0 14v4m0 3v4m0 99v4m0 73v4m0 7v4m1-606v4m0-2v4m0 105v4m0 24v4m0 10v4m0 76v4m0 14v4m0 1v4m0 69v4m0 25v4m0 64v4m0 46v4m0 25v4m0 24v4m0-2v4m0 127v4m1-666v4m0 6v4m0 66v4m0 14v4m0 6v4m0 200v4m0 0v4m0 15v4m0 73v4m0 16v4m0 79v4m0-2v4m0 72v4m0 39v4m1-597v4m0 64v4m0 40v4m0 9v4m0 33v4m0 18v4m0 7v4m0 9v4m0 148v4m0 51v4m0 23v4m0 17v4m0 48v4m0 10v4m0-3v4m0 93v4m1-696v4m0 169v4m0 83v4m0 6v4m0 86v4m0 25v4m0 27v4m0 26v4m0 14v4m0 189v4m1-583v4m0 125v4m0 52v4m0 18v4m0 21v4m0-4v4m0 63v4m0 87v4m0 1v4m0 21v4m0 9v4m0 26v4m0 5v4m0 129v4m1-660v4m0 79v4m0 164v4m0-1v4m0 82v4m0 90v4m0 9v4m0-3v4m0 21v4m0 84v4m0 18v4m0-4v4m0 1v4m0-2v4m1-574v4m0 56v4m0 130v4m0 102v4m0 18v4m0 77v4m0 49v4m0 145v4m0 13v4m0 7v4m0-2v4m1-652v4m0-1v4m0 17v4m0 38v4m0 278v4m0 6v4m0 0v4m0 35v4m0 47v4m0 38v4m0 26v4m0 67v4m0 15v4m1-653v4m0 92v4m0 3v4m0 140v4m0-3v4m0 114v4m0-4v4m0 126v4m0 26v4m0 36v4m0 67v4m0 20v4m0 2v4m1-599v4m0 5v4m0 2v4m0 7v4m0 32v4m0 16v4m0 122v4m0 19v4m0 8v4m0 87v4m0 3v4m0 62v4m0 206v4m1-603v4m0-3v4m0 25v4m0 51v4m0 70v4m0 99v4m0 60v4m0 98v4m0-1v4m0 20v4m0 25v4m0 44v4m0 7v4m0-4v4m1-568v4m0 8v4m0 55v4m0 6v4m0 24v4m0 225v4m0 69v4m0 30v4m0 39v4m0 46v4m0 8v4m1-545v4m0 56v4m0 22v4m0 3v4m0 178v4m0 82v4m0 32v4m0 26v4m0 132v4m1-613v4m0 32v4m0 11v4m0 55v4m0 4v4m0 37v4m0 166v4m0 64v4m0 3v4m0 16v4m0 16v4m0 95v4m0 9v4m0 23v4m0 2v4m0 0v4m0 32v4m1-645v4m0 0v4m0-1v4m0 53v4m0 33v4m0 38v4m0 38v4m0 181v4m0 7v4m0 20v4m0 99v4m0 25v4m0 82v4m1-584v4m0 33v4m0 31v4m0 31v4m0 186v4m0 67v4m0 185v4m0 65v4m1-676v4m0 35v4m0 44v4m0 14v4m0 39v4m0 13v4m0 184v4m0 24v4m0 8v4m0 238v4m1-602v4m0 78v4m0 31v4m0 7v4m0 2v4m0 14v4m0 149v4m0 34v4m0 9v4m0 175v4m1-508v4m0 15v4m0 103v4m0 174v4m0-3v4m0 39v4m0 18v4m0 63v4m0 1v4m0 10v4m0 16v4m0 77v4m1-505v4m0 14v4m0-4v4m0 23v4m0 17v4m0 190v4m0 40v4m0 3v4m0 22v4m0-1v4m0 27v4m0 57v4m1-558v4m0 60v4m0 25v4m0 32v4m0 13v4m0 12v4m0 36v4m0-3v4m0 51v4m0 113v4m0 2v4m0-2v4m0 64v4m0 185v4m0 17v4m0 3v4m1-606v4m0-4v4m0 23v4m0 15v4m0 9v4m0 0v4m0 43v4m0 8v4m0 203v4m0 48v4m0-3v4m0 21v4m0 3v4m0 34v4m0 16v4m0 1v4m0 36v4m0 12v4m0 13v4m0 16v4m0 19v4m1-654v4m0 0v4m0 25v4m0 17v4m0-1v4m0-3v4m0 285v4m0 25v4m0-3v4m0 119v4m0 100v4m0 11v4m0 36v4m1-558v4m0 2v4m0 79v4m0 172v4m0 33v4m0 41v4m0 10v4m0 75v4m0 33v4m0 35v4m0 24v4m0 6v4m1-690v4m0 31v4m0 60v4m0 13v4m0 28v4m0-1v4m0 62v4m0 157v4m0 135v4m0 28v4m0 106v4m0 15v4m0 2v4m1-689v4m0 88v4m0-3v4m0 5v4m0-2v4m0 1v4m0 41v4m0 162v4m0 137v4m0 0v4m0 20v4m0 118v4m1-598v4m0 31v4m0 110v4m0-3v4m0 5v4m0 226v4m0 25v4m0 1v4m0 2v4m0 103v4m1-481v4m0 43v4m0 40v4m0 23v4m0 24v4m0 146v4m0 224v4m0 9v4m0 16v4m0 11v4m0 9v4m0 13v4m1-663v4m0 143v4m0 257v4m0 93v4"/><path stroke="#000dff" d="M4 33v4m0 62v4m0 108v4m1 293v4m0 106v4m2-478v4m0 174v4m0 247v4m1-295v4m1-33v4m0 153v4m1-79v4m1-302v4m1 577v4m1-228v4m2-140v4m0 38v4m2-57v4m0 369v4m1-587v4m0 335v4m0 149v4m1-53v4m2 4v4m3-97v4m0 120v4m1-312v4m0 286v4m1-97v4m1 25v4m1-345v4m0 323v4m0 97v4m0 95v4m1-452v4m1 200v4m1-268v4m1 447v4m3-443v4m1 4v4m1-66v4m0 231v4m1-40v4m0 19v4m0 144v4m1 115v4m0 99v4m1-368v4m0 46v4m1-209v4m0 4v4m0 5v4m0 309v4m1-421v4m0 187v4m0 172v4m1-8v4m1-44v4m0 215v4m186-1v4m1-115v4m0 1v4m2-432v4m0 243v4m0 172v4m1-369v4m0 412v4m0 91v4m1-376v4m0 209v4m1 206v4m2-141v4m0 88v4m1-561v4m0 461v4m1-516v4m1 285v4m1 161v4m2 140v4m1-572v4m0 13v4m0 261v4m1 239v4m1-26v4m2-334v4m0 18v4m0 250v4m2-44v4m0 129v4m1-240v4m0 14v4m1-140v4m0 73v4m0 37v4m0 309v4m1-671v4m0 33v4m0 388v4m1-428v4m0 504v4m2-415v4m0 19v4m1 212v4m1-8v4m1-245v4m0 244v4m1 20v4m0-1v4m0 74v4m0 131v4m1-550v4m0 154v4m1-136v4m2 32v4m1 93v4m0 119v4m1 45v4m0 197v4m3-419v4m1 109v4m0 378v4m1-161v4m0 100v4m0 74v4m1-569v4m0 237v4m0 120v4m0 147v4m1-257v4m0 197v4m0 47v4m1-473v4m0 402v4m0 12v4m1-64v4m1 92v4m1-329v4m1 17v4m0 104v4m1-416v4m0 488v4m5-279v4m0 357v4m2-558v4m0 538v4m1-188v4m0 242v4m0 9v4m1-218v4m0 193v4m4-233v4m0 161v4m0 42v4m3-622v4m0 95v4m1 77v4m0 465v4m1-113v4"/><path stroke="#ffcc00" d="M2 22v4m0 275v4m0 70v4m0 66v4m1-375v4m1-54v4m0 101v4m0 5v4m0 16v4m0 274v4m0 222v4m0 17v4m1-679v4m0 1v4m0 359v4m1-204v4m0 17v4m0 476v4m1-624v4m0 245v4m0 149v4m0 173v4m1-481v4m0 114v4m1-216v4m0 2v4m0 260v4m0 184v4m1-509v4m0 75v4m0 8v4m0 59v4m0 75v4m1-212v4m0 64v4m0 179v4m0 367v4m0 28v4m1-680v4m0 103v4m0 9v4m0 16v4m0 445v4m0 17v4m1-610v4m1 163v4m0 110v4m0 44v4m0 20v4m0 47v4m0 190v4m1-317v4m1-253v4m0 17v4m0 482v4m0 13v4m1-393v4m0 56v4m0 51v4m0 243v4m0 117v4m1-606v4m0 42v4m0 276v4m0 38v4m0 159v4m0 16v4m0 26v4m1-519v4m0 256v4m0 76v4m0 107v4m1-544v4m0 235v4m0 22v4m0 115v4m0 87v4m1-412v4m0 441v4m0 5v4m0 24v4m0 25v4m0 31v4m1-504v4m0 41v4m0 215v4m0 21v4m0 197v4m0 29v4m1-390v4m0 0v4m0 90v4m0 188v4m0 38v4m1-445v4m0 5v4m0 14v4m0-2v4m0 143v4m0 172v4m1-537v4m0 15v4m0 59v4m1 111v4m0 35v4m0 281v4m1-488v4m0 18v4m0 371v4m0 2v4m0 56v4m0 3v4m0 144v4m1-591v4m0 140v4m0 25v4m0 68v4m0 86v4m0 0v4m0 261v4m1-667v4m0 77v4m0 64v4m0 465v4m1-633v4m0 66v4m0 3v4m0 50v4m0 212v4m0 67v4m0 179v4m1-403v4m0 417v4m1-553v4m0 495v4m0 14v4m1-582v4m0 38v4m0 133v4m0 0v4m0-2v4m0 15v4m0 68v4m0 170v4m0 62v4m1-481v4m0 11v4m0 470v4m0 18v4m0 89v4m1-441v4m0 105v4m0 72v4m0 72v4m0-4v4m0 15v4m0 42v4m0 110v4m1-655v4m0 255v4m0 38v4m0 70v4m0 238v4m0 0v4m0 52v4m1-61v4m0 25v4m1-652v4m0 27v4m0 71v4m0 149v4m0 40v4m0-2v4m0 64v4m0 89v4m0 96v4m1-336v4m0 169v4m1 14v4m0 99v4m0 3v4m1-452v4m0 309v4m0 193v4m1-540v4m0 166v4m0 332v4m1-415v4m0 141v4m0 106v4m0 156v4m0 64v4m0 19v4m0 5v4m0-4v4m1-519v4m0 51v4m0 13v4m0 11v4m0 70v4m0 280v4m1-515v4m0 179v4m180-248v4m0 54v4m0 162v4m1-177v4m0 86v4m0 437v4m1-464v4m0 15v4m0 49v4m0 167v4m1-404v4m0 191v4m0-3v4m0 421v4m1-600v4m0 221v4m0 403v4m1-83v4m0 73v4m1-612v4m0 85v4m0 33v4m0 67v4m0 226v4m0 122v4m1-569v4m0 100v4m0 64v4m0 117v4m0-3v4m0 78v4m0 8v4m0 158v4m0 67v4m1-442v4m0 216v4m1-267v4m1-117v4m0 119v4m0 178v4m0 178v4m1-546v4m0 305v4m0 5v4m0 71v4m0 57v4m0 165v4m1-595v4m0 79v4m1-69v4m0 34v4m0 46v4m0 78v4m0 245v4m0 5v4m0 43v4m0 130v4m1-454v4m0 263v4m0 20v4m0 123v4m1-483v4m0 150v4m0 9v4m0 59v4m0 30v4m1-248v4m0 91v4m0 89v4m0 9v4m0 82v4m0 52v4m0 67v4m1-65v4m1-452v4m0 178v4m0 158v4m0 63v4m0 4v4m0 45v4m1-480v4m0 30v4m0 153v4m0 88v4m0 33v4m1-144v4m0 36v4m0 242v4m0 47v4m0 7v4m1-541v4m0 577v4m1-474v4m0 139v4m0 24v4m0 13v4m1-291v4m0 136v4m0 64v4m0 2v4m0 9v4m0 22v4m0 298v4m1-534v4m0 63v4m0 258v4m1-171v4m0 242v4m0 72v4m0 21v4m0 59v4m1-643v4m0 210v4m0 329v4m1-443v4m0 103v4m0 44v4m0 184v4m0 17v4m0 2v4m0 141v4m1-638v4m0 160v4m0 308v4m1-391v4m0 383v4m0 103v4m1-596v4m0 206v4m0 106v4m1-33v4m0 191v4m0 80v4m0 10v4m0 5v4m1-510v4m0 222v4m0 23v4m0 7v4m1-211v4m0 84v4m0 296v4m0 117v4m1-567v4m0 9v4m0 426v4m0 30v4m1-580v4m0 35v4m0 66v4m0 68v4m0 30v4m0 183v4m0 3v4m1-267v4m0 121v4m0 121v4m0 183v4m0-2v4m1-347v4m0 8v4m0 26v4m0 191v4m0 34v4m1-495v4m0 140v4m0 15v4m0 417v4m0 32v4m1-352v4m0 37v4m0 177v4m1-528v4m0 97v4m0 4v4m0 23v4m0 375v4m1-400v4m0 174v4m0 132v4m1-429v4m0 232v4m0 85v4m0 289v4m1-572v4m0 29v4m1 157v4m0 139v4m0 141v4m0 56v4m1-86v4m1-282v4m0 180v4m0 51v4m0 65v4m0 51v4m1-614v4m0 142v4m0 92v4m1 219v4m0 171v4m0 0v4m1-602v4m0 561v4m0 72v4m1-543v4m0 107v4m0 277v4m0 117v4m1-614v4m0 205v4m0 318v4m0 65v4m0 24v4m1-399v4m0 32v4m0 238v4m0 11v4m0 70v4m1-427v4m0 172v4m0 165v4m1-577v4m0 293v4m0 11v4m1-216v4m0 45v4m0 142v4m0 382v4m1-614v4m0 313v4m0 130v4m0 51v4m1-575v4m0 96v4m0 96v4m0-3v4m0 133v4m0 318v4m1-595v4m0 26v4m0 13v4m0 255v4m0 262v4m0 24v4m2-598v4m0 545v4m0 48v4m1-340v4m0 170v4m0 22v4m1-528v4m0 530v4m1-520v4m0 164v4m0 7v4m0 211v4m0 80v4m1-513v4m0 488v4m0 61v4m2-405v4m0 148v4m1 60v4m0 240v4m1-626v4m0 69v4m0 100v4m1 317v4m0 47v4m0 13v4m0 34v4m1-518v4m0 35v4m0 47v4m0 203v4m0 215v4m1-60v4m2-184v4m0 69v4m0 63v4m0 83v4m1-497v4m0 21v4m0-1v4"/><path stroke="#0045ff" d="M2 160v4m0 53v4m1-192v4m0 96v4m0 128v4m0 228v4m0 11v4m1-385v4m1 170v4m1-191v4m0 320v4m0-3v4m1-373v4m0 507v4m1-109v4m0 152v4m1-608v4m0 366v4m0 265v4m1-531v4m0 28v4m0 338v4m0 35v4m1-105v4m1-187v4m0 119v4m0 254v4m0 5v4m1-356v4m1-123v4m0 454v4m1-623v4m0 486v4m1-493v4m0 611v4m1-446v4m1-148v4m1 159v4m0 81v4m0 209v4m1-323v4m2 27v4m1 219v4m1-222v4m0 421v4m1-62v4m1-148v4m1-398v4m0 75v4m0 93v4m1 244v4m1-316v4m0 369v4m0 113v4m2-642v4m0 89v4m0 193v4m1-269v4m0 231v4m0 22v4m1 64v4m1-30v4m1-253v4m0 388v4m0 168v4m1-508v4m1-5v4m1-71v4m0 270v4m0 23v4m1-268v4m0 532v4m1-558v4m0 77v4m1 211v4m1 162v4m1 64v4m1-392v4m0 417v4m1-196v4m0 85v4m180-103v4m1-351v4m0 58v4m0 53v4m0 265v4m1 156v4m1-607v4m0 22v4m0 95v4m0 155v4m0 94v4m0 126v4m1-351v4m1 417v4m1-467v4m0 37v4m0 278v4m1-339v4m0 89v4m2-178v4m1-100v4m1 20v4m0 260v4m0 345v4m1-460v4m0-1v4m0 319v4m0 11v4m1-394v4m0 438v4m1-506v4m0 592v4m3-472v4m1 260v4m1 58v4m0 65v4m0 6v4m1-518v4m2 67v4m0 82v4m0 149v4m0 95v4m1-198v4m1-142v4m0 127v4m0 234v4m0 51v4m1-442v4m0 390v4m1-530v4m0 169v4m0 35v4m0 168v4m1 87v4m2 64v4m1-220v4m0 32v4m1-214v4m0 429v4m1-216v4m0 70v4m1-405v4m0 264v4m0-3v4m0 167v4m1-67v4m0 153v4m1-295v4m1-139v4m1-120v4m0 557v4m1-612v4m0 430v4m1 31v4m0 78v4m0 16v4m0 4v4m1-331v4m1 117v4m0 97v4m1-22v4m1-473v4m0 49v4m2 262v4m0 38v4m0 13v4m1 258v4m1-348v4m0 140v4m1-339v4m0 405v4m1-153v4m1 186v4m1 118v4m1-328v4m0 225v4m1-524v4m0 289v4m1-209v4m1-90v4m0 6v4m0 199v4m0 313v4m1-450v4m0 331v4m1-111v4m1-176v4m0 201v4m1 4v4m1-311v4m0 33v4m0 250v4m2 64v4m1-450v4m0 46v4m0 319v4m0 81v4m1-305v4m0 36v4m0 356v4m1-398v4m0 27v4m1 164v4m1-272v4m0 533v4m1-175v4m0 97v4m2-533v4m0 387v4m0 126v4m1-63v4m1 46v4m0 81v4"/><path stroke="#94ff63" d="M2 352v4m1-281v4m0 156v4m0 157v4m1-262v4m0 8v4m0 44v4m0 220v4m0 104v4m0 2v4m0 119v4m1-647v4m0 0v4m0 423v4m0 30v4m0 21v4m0 59v4m1-468v4m0 450v4m0-2v4m0 35v4m1-448v4m0 41v4m0 86v4m0 62v4m0 27v4m0 60v4m0 26v4m0 54v4m1-195v4m1-256v4m0 159v4m0 6v4m0 37v4m0 174v4m0 4v4m0 77v4m0 79v4m1-501v4m0 28v4m0 108v4m0 27v4m0 29v4m0 15v4m0 47v4m0 99v4m0 104v4m1-605v4m0 67v4m1-79v4m0 71v4m0 7v4m0 142v4m0 36v4m0 60v4m0 39v4m1-351v4m0 59v4m0 12v4m0 70v4m0 32v4m0 128v4m0 11v4m0 268v4m1-628v4m0 22v4m0 72v4m0 410v4m1-535v4m0 100v4m0 42v4m0 67v4m1 136v4m0 169v4m0 66v4m1-347v4m0 24v4m0 83v4m0 27v4m0 1v4m0 179v4m1-531v4m0 208v4m0 137v4m1-290v4m0 211v4m0 71v4m0 13v4m0 145v4m1-612v4m0 0v4m0 5v4m0-3v4m0 53v4m0 6v4m0 3v4m0 59v4m0 248v4m0 94v4m0 49v4m0 13v4m0 81v4m1-546v4m0 98v4m0 254v4m0 58v4m0 78v4m0 19v4m1-502v4m0 182v4m0-2v4m0 97v4m0 15v4m0 24v4m0 0v4m0-4v4m0 52v4m0 20v4m0 1v4m0 49v4m1-580v4m0 71v4m0 28v4m0 191v4m0-2v4m0 42v4m0 12v4m0 246v4m1-150v4m1-324v4m0 218v4m0 203v4m1-571v4m0 352v4m1-180v4m0 121v4m0 189v4m1-550v4m0 154v4m0 52v4m1-209v4m0 305v4m0-2v4m0 103v4m0 110v4m0 31v4m1-592v4m0 334v4m0 24v4m0 25v4m1-305v4m0 11v4m0 327v4m0 17v4m0 80v4m1-200v4m1-332v4m0 96v4m0 0v4m0 86v4m0 436v4m1-576v4m0 61v4m0 59v4m0 92v4m0 17v4m0 219v4m0 41v4m1-411v4m0 225v4m0 2v4m2-441v4m0 66v4m0 56v4m0 8v4m0 140v4m0-2v4m0 30v4m0 186v4m0 79v4m1-511v4m0 243v4m0 254v4m0-2v4m1-437v4m0 109v4m0 84v4m0 82v4m1-396v4m0 350v4m0 201v4m1-272v4m0 111v4m0 41v4m0 98v4m0 26v4m1-480v4m0 134v4m0 1v4m0 49v4m0-2v4m0 198v4m0-1v4m0 58v4m1-601v4m0 195v4m0 18v4m0 41v4m0 128v4m0 154v4m0 16v4m1-585v4m0 150v4m0 24v4m0 82v4m0 255v4m0 36v4m0 53v4m1-308v4m181 9v4m0 71v4m0 198v4m1-609v4m0 17v4m0 28v4m0 211v4m0 7v4m0 328v4m1-526v4m0 272v4m0 49v4m0 84v4m1-470v4m0 547v4m0 28v4m1-543v4m0 505v4m1-586v4m0 625v4m1-619v4m0 167v4m0 162v4m0 48v4m0 161v4m0 50v4m1-664v4m0 202v4m0 100v4m0 69v4m0 146v4m0 60v4m1-525v4m0 112v4m0 63v4m0 228v4m0 2v4m0 58v4m1-543v4m0 157v4m0 140v4m0 4v4m0 56v4m0 185v4m1-568v4m0 81v4m0 66v4m0 280v4m0 0v4m0 38v4m1-479v4m0 160v4m0 85v4m0 60v4m0 145v4m0 85v4m1-387v4m0 201v4m0 60v4m0 158v4m1-608v4m0 58v4m0 7v4m0 229v4m0 21v4m1-53v4m0 84v4m0 27v4m0 11v4m0 5v4m0 11v4m0 49v4m0 88v4m1-567v4m0 45v4m0 186v4m0 23v4m0 316v4m1-385v4m0 3v4m0 93v4m0 62v4m0 148v4m1-572v4m0 264v4m0 110v4m0 216v4m1-476v4m0 149v4m0 228v4m1-456v4m0 188v4m0 85v4m0 229v4m0 10v4m0 2v4m1-278v4m1-178v4m0 48v4m0 220v4m0 8v4m0-1v4m0 64v4m0 69v4m1-312v4m0 69v4m0-3v4m0-4v4m0 110v4m0 33v4m0 4v4m0 154v4m1-241v4m0 198v4m1-622v4m0 233v4m0 73v4m0 108v4m0 130v4m1-385v4m0 9v4m0 227v4m0 213v4m1-555v4m0 150v4m0 130v4m0 21v4m0 192v4m0 8v4m1-592v4m0 265v4m0 57v4m0 28v4m0 207v4m0 48v4m1-608v4m0 11v4m0 45v4m0 53v4m0 167v4m0 28v4m0 43v4m0 14v4m0 91v4m1-441v4m0 192v4m0 66v4m0 2v4m0 155v4m0 78v4m1-569v4m0 23v4m0 436v4m0 21v4m0 69v4m1-597v4m0 131v4m0 430v4m1-449v4m0 96v4m0 22v4m0 137v4m1-374v4m0 15v4m0-3v4m0 73v4m0 378v4m0 18v4m0 18v4m1-89v4m1-315v4m0 130v4m0 16v4m0 127v4m0 4v4m1 58v4m0 84v4m1-632v4m0 78v4m0 29v4m0 152v4m0 11v4m0 181v4m1-416v4m0 54v4m0 46v4m0 78v4m0 87v4m0 162v4m0 34v4m0 64v4m1-568v4m0 10v4m0 210v4m0-2v4m0 132v4m0 51v4m0 154v4m1-417v4m0 62v4m0 248v4m0 11v4m1-541v4m0 50v4m0 126v4m0 49v4m0 220v4m1-405v4m1-46v4m0 203v4m0 51v4m0 40v4m0 16v4m0 201v4m0 6v4m0 31v4m0 37v4m1-283v4m0 172v4m0 100v4m1-635v4m0 349v4m1 68v4m0 184v4m0 1v4m0 6v4m1-625v4m0 198v4m0 38v4m0 375v4m1-217v4m1-106v4m0 105v4m0 48v4m1-411v4m0 15v4m0 87v4m0 395v4m0 1v4m0 29v4m0 44v4m1-575v4m0 546v4m1-363v4m0 307v4m1-383v4m0 159v4m0 32v4m0 45v4m0 20v4m0-3v4m0 20v4m0 95v4m1-284v4m0 13v4m0 225v4m1-578v4m0 78v4m0 55v4m0 23v4m0 144v4m0 79v4m1-390v4m0 58v4m0 218v4m0 158v4m0 18v4m0 94v4m1-252v4m1-340v4m0 4v4m0 109v4m0 327v4m0 69v4m0 66v4m0 33v4m0 11v4m1-312v4m0 6v4m1-65v4m0 162v4m0 13v4m1-294v4m0 1v4m0 178v4m0 236v4m0 2v4m0 36v4m1-613v4m0 324v4m1-395v4m0 32v4m0 14v4m0 13v4m0 195v4m0 338v4m1-606v4m0 366v4m0 74v4m0 84v4m1-332v4m0 2v4m0 188v4m0 102v4m0 70v4m1-418v4m0 358v4m0 88v4m1-550v4m0 81v4m0 177v4m0 84v4m0 91v4m1-135v4m0 180v4m0 26v4m1-540v4m0 22v4m0 1v4m0 28v4m0 64v4m0 147v4m0 17v4m0 57v4m0 91v4m0 114v4m1-476v4m0 7v4m0-1v4m0 213v4m0 19v4m0 95v4m0 94v4m0 3v4m1-493v4m0 42v4m0 181v4m0 284v4m1-562v4m0 258v4m0 202v4m1-441v4m0 289v4m0 203v4m0 11v4"/></g></g>
<g clip-path="url(#c2)"><g transform="translate(250,540) scale(0.5)" fill="none" stroke-width="3.6" stroke-linecap="round"><path stroke="#00e0fb" d="M266 292v5m0-1v5m5-6v5m1 4v5m0-1v5m4-6v5m0 4v5m4 9v5"/><path stroke="#0090ff" d="M266 279v5m5 2v5m4-6v5m0-1v5m4-8v5m0 0v5m0-1v5m0 0v5m0-1v5m0-1v5"/><path stroke="#00c4ff" d="M272 299v5m4-6v5m0 0v5m4 5v5m0-1v5m0 0v5m0-1v5"/><path stroke="#00a4ff" d="M265 283v5m1-1v5m5-10v5m1 3v5m3-1v5"/><path stroke="#13fce4" d="M267 301v5m9 5v5m0 4v5m4 10v5m0-1v5"/><path stroke="#0038ff" d="M265 257v5m6-7v5m0 0v5m7 4v5m1-10v5m0 4v5"/><path stroke="#0070ff" d="M265 274v5m1-9v5m4-7v5m1 0v5m0-1v5m4-6v5m0 0v5"/><path stroke="#0055ff" d="M265 261v5m0-1v5m5-6v5m5-2v5m0 0v5m4 1v5m0-1v5"/><path stroke="#001dff" d="M265 252v5m6-6v5m7 4v5"/></g></g>
<defs><linearGradient id="e51" gradientUnits="userSpaceOnUse" x1="0" y1="699" x2="0" y2="743"><stop offset="0" stop-color="#00c4ff"/><stop offset="0.3" stop-color="#06edf1"/><stop offset="0.6" stop-color="#19ffde"/><stop offset="1" stop-color="#2cffca"/></linearGradient><linearGradient id="e52" gradientUnits="userSpaceOnUse" x1="0" y1="656.8" x2="0" y2="716"><stop offset="0" stop-color="#000080"/><stop offset="0.55" stop-color="#000096"/><stop offset="0.75" stop-color="#0010ff"/><stop offset="0.9" stop-color="#0090ff"/><stop offset="1" stop-color="#00d4ff"/></linearGradient><linearGradient id="e53" gradientUnits="userSpaceOnUse" x1="0" y1="668" x2="0" y2="722"><stop offset="0" stop-color="#0010ff"/><stop offset="0.5" stop-color="#0040ff"/><stop offset="1" stop-color="#00e0fb"/></linearGradient><linearGradient id="e54" gradientUnits="userSpaceOnUse" x1="0" y1="667" x2="0" y2="736"><stop offset="0" stop-color="#0040ff"/><stop offset="0.2" stop-color="#0050ff"/><stop offset="0.4" stop-color="#0070ff"/><stop offset="0.6" stop-color="#00a8ff"/><stop offset="0.8" stop-color="#00dcfe"/><stop offset="1" stop-color="#0ff8e7"/></linearGradient><linearGradient id="e55" gradientUnits="userSpaceOnUse" x1="0" y1="672" x2="0" y2="738"><stop offset="0" stop-color="#0050ff"/><stop offset="0.2" stop-color="#0060ff"/><stop offset="0.4" stop-color="#0088ff"/><stop offset="0.6" stop-color="#00c0ff"/><stop offset="0.8" stop-color="#09f0ee"/><stop offset="1" stop-color="#1cffdb"/></linearGradient><linearGradient id="e56" gradientUnits="userSpaceOnUse" x1="0" y1="690" x2="0" y2="736"><stop offset="0" stop-color="#0070ff"/><stop offset="0.33" stop-color="#00a8ff"/><stop offset="0.67" stop-color="#06edf1"/><stop offset="1" stop-color="#1fffd7"/></linearGradient><linearGradient id="e57" gradientUnits="userSpaceOnUse" x1="0" y1="657.5" x2="0" y2="684"><stop offset="0" stop-color="#0058ff"/><stop offset="1" stop-color="#0060ff"/></linearGradient><linearGradient id="e58" gradientUnits="userSpaceOnUse" x1="0" y1="669.5" x2="0" y2="686.5"><stop offset="0" stop-color="#004dff"/><stop offset="1" stop-color="#0075ff"/></linearGradient><linearGradient id="e59" gradientUnits="userSpaceOnUse" x1="0" y1="666" x2="0" y2="702"><stop offset="0" stop-color="#0028ff"/><stop offset="0.6" stop-color="#0040ff"/><stop offset="1" stop-color="#0088ff"/></linearGradient><linearGradient id="e60" gradientUnits="userSpaceOnUse" x1="0" y1="665.5" x2="0" y2="741"><stop offset="0" stop-color="#0010ff"/><stop offset="0.45" stop-color="#0028ff"/><stop offset="0.62" stop-color="#009cff"/><stop offset="0.8" stop-color="#06edf1"/><stop offset="1" stop-color="#23ffd4"/></linearGradient><linearGradient id="e61" gradientUnits="userSpaceOnUse" x1="0" y1="676" x2="0" y2="700"><stop offset="0" stop-color="#0000b2"/><stop offset="0.6" stop-color="#0000cd"/><stop offset="1" stop-color="#0028ff"/></linearGradient><linearGradient id="e62" gradientUnits="userSpaceOnUse" x1="0" y1="686" x2="0" y2="694"><stop offset="0" stop-color="#0090ff"/><stop offset="1" stop-color="#0090ff"/></linearGradient><linearGradient id="e63" gradientUnits="userSpaceOnUse" x1="0" y1="719.5" x2="0" y2="738.5"><stop offset="0" stop-color="#0ff8e7"/><stop offset="1" stop-color="#26ffd1"/></linearGradient><linearGradient id="e64" gradientUnits="userSpaceOnUse" x1="0" y1="664.5" x2="0" y2="700"><stop offset="0" stop-color="#0084ff"/><stop offset="1" stop-color="#0088ff"/></linearGradient><linearGradient id="e65" gradientUnits="userSpaceOnUse" x1="0" y1="665" x2="0" y2="668"><stop offset="0" stop-color="#0088ff"/><stop offset="1" stop-color="#0088ff"/></linearGradient><linearGradient id="e66" gradientUnits="userSpaceOnUse" x1="0" y1="688" x2="0" y2="720"><stop offset="0" stop-color="#001dff"/><stop offset="0.5" stop-color="#0028ff"/><stop offset="1" stop-color="#0075ff"/></linearGradient><linearGradient id="e67" gradientUnits="userSpaceOnUse" x1="0" y1="692" x2="0" y2="714"><stop offset="0" stop-color="#0000b2"/><stop offset="1" stop-color="#0000ff"/></linearGradient><linearGradient id="e68" gradientUnits="userSpaceOnUse" x1="0" y1="723" x2="0" y2="751"><stop offset="0" stop-color="#0cf4eb"/><stop offset="1" stop-color="#36ffc1"/></linearGradient><linearGradient id="e69" gradientUnits="userSpaceOnUse" x1="0" y1="729" x2="0" y2="745"><stop offset="0" stop-color="#19ffde"/><stop offset="1" stop-color="#30ffc7"/></linearGradient></defs><g clip-path="url(#c2)" fill="none" stroke-linecap="round"><polygon points="403,706 411,699 416,700 424,702 426,712 432,716 438,720 442.5,727 442.8,731 440,738 436,742 421,743 416,740 406.4,733 403,731" fill="url(#e51)" stroke="url(#e51)" stroke-width="3" stroke-linejoin="round"/><path d="M407 656.8L408.4 716" stroke="url(#e52)" stroke-width="7.6"/><path d="M410.3 668L411 722" stroke="url(#e53)" stroke-width="3"/><path d="M417.2 667L419.6 736" stroke="url(#e54)" stroke-width="6"/><path d="M421.6 672L422.6 738" stroke="url(#e55)" stroke-width="5"/><path d="M414.6 690L415.4 736" stroke="url(#e56)" stroke-width="4"/><path d="M423.3 657.5L423.6 684" stroke="url(#e57)" stroke-width="3.8"/><path d="M428.5 669.5L428.9 686.5" stroke="url(#e58)" stroke-width="6.2"/><path d="M450.4 666L454.6 702" stroke="url(#e59)" stroke-width="5.6"/><path d="M453.8 665.5L458.3 741" stroke="url(#e60)" stroke-width="5.2"/><path d="M456.6 676L458 700" stroke="url(#e61)" stroke-width="3.6"/><path d="M458.9 686L459.5 694" stroke="url(#e62)" stroke-width="4.4"/><path d="M448.2 719.5L450 738.5" stroke="url(#e63)" stroke-width="5.6"/><path d="M496.2 664.5L498.6 700" stroke="url(#e64)" stroke-width="5.6"/><path d="M499.8 665L499.9 668" stroke="url(#e65)" stroke-width="4"/><path d="M502.2 688L505.6 720" stroke="url(#e66)" stroke-width="5.6"/><path d="M503.6 692L505.2 714" stroke="url(#e67)" stroke-width="2.6"/><path d="M497.4 723L500.6 751" stroke="url(#e68)" stroke-width="6.4"/><path d="M498.6 729L499.8 745" stroke="url(#e69)" stroke-width="8.4"/><path d="M533.5 672h0" stroke="#009cff" stroke-width="4"/><path d="M537 675.5h0" stroke="#00a0ff" stroke-width="4"/></g>
<g clip-path="url(#c2)"><g transform="translate(250,540) scale(0.5)" fill="none" stroke-width="8" stroke-linecap="round"><path stroke="#0055ff" d="M310 334h0m11-19h0m1 2h0m0 0h0m0 8h0m5-23h0m5-20h0m0 5h0m1 1h0m0 8h0m6-15h0m0 10h0m1-26h0m1 14h0m0 2h0m0 2h0m1-3h0m0 9h0m3-34h0m0 17h0m0 0h0m0 13h0m0 3h0m1-19h0m0 4h0m0 13h0m0 1h0m1-49h0m0 8h0m0 3h0m0 4h0m1-13h0m0 2h0m0 7h0m0 8h0m1 22h0m5 6h0m6-15h0m1-2h0m41 22h0m2 7h0m0 1h0m0 1h0m0 0h0m5-11h0m0 44h0m1-7h0m1-24h0m94 41h0m1 6h0m2-2h0m0 5h0m3-7h0m1-4h0m1 13h0"/><path stroke="#00c4ff" d="M314 321h0m3 2h0m1-3h0m0 4h0m3-3h0m0 28h0m1 2h0m0 0h0m0 2h0m2-34h0m2 1h0m2 25h0m0 4h0m1-10h0m0 4h0m0 3h0m0 1h0m1-28h0m0 1h0m1-1h0m1 3h0m0 21h0m1-22h0m1 34h0m1-35h0m0 35h0m5-33h0m1 29h0m0 11h0m5-8h0m1-30h0m0 15h0m0 3h0m63 11h0m1 9h0m6 0h0"/><path stroke="#0000ed" d="M311 314h0m10-1h0m1-1h0m92-3h0m95 32h0m0 2h0m0 1h0m1-8h0m0 11h0m1-7h0m0 2h0"/><path stroke="#16ffe1" d="M303 355h0m1 13h0m0 2h0m0 1h0m1-3h0m1-11h0m0 3h0m0 12h0m1 3h0m1 7h0m1-35h0m8 40h0m12-27h0m0 16h0m1-11h0m3 10h0m3 15h0m5 1h0m1-13h0m1 9h0m0 2h0m4-7h0m0 10h0m4-47h0m5 0h0m9 11h0m1 0h0m3 0h0m0 1h0m3 1h0m3 1h0m2 2h0m0 1h0m4 5h0m2-1h0m1 6h0m1 0h0m0 6h0m0 8h0m2-4h0m0 4h0m8-10h0m0 10h0m1-5h0m4-9h0m1 1h0m0 4h0m0 6h0m3 12h0m8-19h0m2 8h0m0 14h0m1 2h0m2-16h0m1 8h0m1 4h0m73-30h0m1 7h0m0 4h0m0 2h0m0 4h0m0 3h0m0 13h0m9-20h0"/><path stroke="#00008d" d="M309 237h0m0 7h0m0 1h0m0 10h0m0 4h0m0 9h0m1-3h0m0 15h0m0 11h0m0 9h0m0 0h0m9-64h0m0 8h0m0 9h0m0 27h0m1-23h0m0 2h0m0 5h0m0 31h0m1-41h0m0 37h0"/><path stroke="#001dff" d="M312 327h0m8-65h0m0 30h0m1-19h0m0 9h0m0 39h0m1-41h0m83-23h0m0 13h0m2-1h0m0 6h0m0 9h0m0 5h0m3-29h0m1-2h0m0 6h0m0 3h0m1 11h0m0 1h0m1 5h0m1 25h0m1-3h0m0 4h0m0 1h0m0 2h0m0 0h0m86-16h0m1 9h0m0 3h0m1 3h0m1 15h0m4-16h0m1 7h0m1-3h0m0 8h0m0 5h0"/><path stroke="#0000ff" d="M320 316h0m1-57h0m0 4h0m0 51h0m0 7h0m89-58h0m4 48h0m1-3h0m0 2h0"/><path stroke="#00e4f8" d="M304 338h0m0 6h0m0 11h0m2-14h0m1-7h0m0 13h0m2-19h0m0 3h0m0 2h0m0 5h0m0 3h0m0 7h0m5-20h0m8 36h0m6 5h0m0 5h0m2-24h0m1 9h0m0 1h0m1-16h0m2 19h0m0 21h0m1-20h0m0 1h0m1 0h0m0 4h0m0 14h0m1-1h0m4-6h0m1-1h0m1-19h0m0 13h0m3-46h0m0 45h0m1-31h0m0 24h0m1 2h0m0 0h0m1-30h0m1 2h0m0 3h0m1 3h0m1 1h0m1-3h0m4 6h0m1 2h0m0 1h0m0 1h0m3 5h0m7-1h0"/><path stroke="#00a8ff" d="M321 344h0m6-16h0m1 0h0m3 0h0m2 11h0m0 6h0m2-4h0m5-10h0m1-7h0m0 8h0m1 8h0m5-10h0m65 25h0m9-48h0"/><path stroke="#0000cd" d="M310 308h0m103-21h0m1-3h0m3 19h0m91 12h0m0 0h0m0 1h0m1 3h0m0 5h0m0 8h0"/><path stroke="#0070ff" d="M312 335h0m8-7h0m1-3h0m0 13h0m1-12h0m0 1h0m0 1h0m0 4h0m0 1h0m5-31h0m1 0h0m2-1h0m3-1h0m0 9h0m5-10h0m1 12h0m1-16h0m0 0h0m0 4h0m1-20h0m0 25h0m1-14h0m0 25h0m2-78h0m1 26h0m0 16h0m1 9h0m1 11h0m1-30h0m1 5h0m5 6h0m1-8h0m0 9h0m0 2h0m0 3h0m6-27h0m0 26h0m1-1h0m42 23h0m2 5h0m3-3h0m0 25h0m0 1h0m0 1h0m2-21h0m0 6h0m0 15h0m5 1h0m77-39h0m3-35h0m0 1h0m1 0h0m0 10h0m2 13h0m1 30h0m14 42h0m1-1h0"/><path stroke="#29ffce" d="M305 381h0m1 0h0m1 2h0m3 4h0m6 2h0m2 3h0m4-1h0m2 5h0m5 0h0m1 3h0m1 2h0m1-3h0m0 2h0m0 1h0m1 0h0m2 2h0m2-2h0m3 2h0m6 3h0m5 0h0m1-2h0m0 2h0m1 0h0m3-4h0m0 3h0m9 2h0m3-2h0m0 0h0m1 2h0m4-5h0m1 1h0m4-8h0m0 3h0m1 1h0m1-2h0m3-4h0m0 1h0m1-19h0m0 10h0m2-4h0m1-4h0m9 18h0m1-1h0m5-18h0m1 19h0m89-3h0m2 17h0m1-21h0m1 19h0m0 13h0m1-4h0m0 2h0m0 2h0m1 1h0m3-28h0m1-3h0m1-4h0m0 8h0m0 4h0m0 2h0m2-10h0m0 2h0m0 18h0m0 5h0m1-8h0m0 1h0"/><path stroke="#0000b6" d="M311 303h0m9-2h0m0 2h0m92-13h0m1-14h0m0 15h0m0 1h0m1-8h0m0 3h0m1 7h0m1-8h0m93 23h0"/><path stroke="#008cff" d="M321 334h0m0 5h0m1 0h0m1 0h0m4-22h0m1-2h0m3 2h0m1-3h0m0 12h0m1-4h0m1 2h0m6 2h0m1-13h0m0 2h0m5-3h0m0 12h0m1 7h0m63 12h0m5-3h0m0 6h0m1-45h0m0 1h0m1 3h0m3-8h0m1-1h0m68-40h0m0 5h0m2-3h0m0 4h0m0 1h0m0 23h0m2 25h0m1-14h0m1-45h0m3 51h0m1-8h0m0 8h0m0 1h0m0 4h0m0 9h0m1-62h0m0 64h0m2-66h0"/><path stroke="#0038ff" d="M320 286h0m1-14h0m0 20h0m0 5h0m0 14h0m1-13h0m0 3h0m0 0h0m8-38h0m0 1h0m2-7h0m0 9h0m1 14h0m5-26h0m0 7h0m0 3h0m0 7h0m63 11h0m0 1h0m1 10h0m2-41h0m0 2h0m1 6h0m0 4h0m3 20h0m0 5h0m0 5h0m1 0h0m0 8h0m0 0h0m0 0h0m0 4h0m0 9h0m1 8h0m4-16h0m0 8h0m89-6h0m9 24h0"/></g></g>
<path fill="none" stroke="#b0b0b0" stroke-width="1.11" d="M508.5 540v350M767.5 540v350M1025.5 540v350M1283.5 540v350M250 773.5h1240M250 657.5h1240"/>
<path fill="none" stroke="#000" stroke-width="1.11" d="M250.5 890.5v5.4M508.5 890.5v5.4M767.5 890.5v5.4M1025.5 890.5v5.4M1283.5 890.5v5.4M250.5 890.5h-5.4M250.5 773.5h-5.4M250.5 657.5h-5.4M250.5 540.5h-5.4"/><path fill="none" stroke="#000" stroke-width="0.83" d="M302.5 890.5v3.3M353.5 890.5v3.3M405.5 890.5v3.3M457.5 890.5v3.3M560.5 890.5v3.3M612.5 890.5v3.3M663.5 890.5v3.3M715.5 890.5v3.3M818.5 890.5v3.3M870.5 890.5v3.3M922.5 890.5v3.3M973.5 890.5v3.3M1077.5 890.5v3.3M1128.5 890.5v3.3M1180.5 890.5v3.3M1232.5 890.5v3.3M1335.5 890.5v3.3M1387.5 890.5v3.3M1438.5 890.5v3.3M1490.5 890.5v3.3M250.5 867.5h-3.3M250.5 843.5h-3.3M250.5 820.5h-3.3M250.5 797.5h-3.3M250.5 750.5h-3.3M250.5 727.5h-3.3M250.5 703.5h-3.3M250.5 680.5h-3.3M250.5 633.5h-3.3M250.5 610.5h-3.3M250.5 587.5h-3.3M250.5 563.5h-3.3"/><rect x="250.5" y="540.5" width="1240" height="350" fill="none" stroke="#000" stroke-width="1.11"/>
<rect x="1568.5" y="120.5" width="17" height="350" fill="url(#gp)" stroke="#000" stroke-width="1.11"/><path fill="none" stroke="#000" stroke-width="1.11" d="M1586 470.5h4.9M1586 383.5h4.9M1586 295.5h4.9M1586 208.5h4.9M1586 120.5h4.9"/><rect x="1568.5" y="540.5" width="17" height="350" fill="url(#gj)" stroke="#000" stroke-width="1.11"/><path fill="none" stroke="#000" stroke-width="1.11" d="M1586 618.5h4.9M1586 715.5h4.9M1586 812.5h4.9"/>
<g font-family="'DejaVu Sans','Liberation Sans',sans-serif" fill="#000"><text x="250" y="923.64" font-size="31.11" text-anchor="middle">0</text><text x="508.33" y="923.64" font-size="31.11" text-anchor="middle">5</text><text x="766.67" y="923.64" font-size="31.11" text-anchor="middle">10</text><text x="1025" y="923.64" font-size="31.11" text-anchor="middle">15</text><text x="1283.33" y="923.64" font-size="31.11" text-anchor="middle">20</text><text x="250" y="503.64" font-size="31.11" text-anchor="middle">0</text><text x="508.33" y="503.64" font-size="31.11" text-anchor="middle">5</text><text x="766.67" y="503.64" font-size="31.11" text-anchor="middle">10</text><text x="1025" y="503.64" font-size="31.11" text-anchor="middle">15</text><text x="1283.33" y="503.64" font-size="31.11" text-anchor="middle">20</text><text x="871" y="957.77" font-size="30.71" text-anchor="middle">Time (hours)</text><text x="241.58" y="902.61" font-size="31.11" text-anchor="end">0</text><text x="241.58" y="785.94" font-size="31.11" text-anchor="end">1000</text><text x="241.58" y="669.28" font-size="31.11" text-anchor="end">2000</text><text x="241.58" y="552.61" font-size="31.11" text-anchor="end">3000</text><text x="241.58" y="482.61" font-size="31.11" text-anchor="end">0</text><text x="241.58" y="365.94" font-size="31.11" text-anchor="end">1000</text><text x="241.58" y="249.28" font-size="31.11" text-anchor="end">2000</text><text x="241.58" y="132.61" font-size="31.11" text-anchor="end">3000</text><text x="151.6" y="716.5" font-size="30.92" text-anchor="middle" transform="rotate(-90 151.6 716.5)">RF Distance (km)</text><text x="151.6" y="296.5" font-size="30.92" text-anchor="middle" transform="rotate(-90 151.6 296.5)">RF Distance (km)</text><text x="1594.72" y="823.83" font-size="31.11" text-anchor="start">−500</text><text x="1594.72" y="726.61" font-size="31.11" text-anchor="start">0</text><text x="1594.72" y="629.39" font-size="31.11" text-anchor="start">500</text><text x="1707.42" y="715" font-size="31.11" text-anchor="middle" transform="rotate(-90 1707.42 715)">Doppler (m/s)</text><text x="1594.72" y="481.61" font-size="31.11" text-anchor="start">0</text><text x="1594.72" y="394.11" font-size="31.11" text-anchor="start">5</text><text x="1594.72" y="306.61" font-size="31.11" text-anchor="start">10</text><text x="1594.72" y="219.11" font-size="31.11" text-anchor="start">15</text><text x="1594.72" y="131.61" font-size="31.11" text-anchor="start">20</text><text x="1662.38" y="295" font-size="31.11" text-anchor="middle" transform="rotate(-90 1662.38 295)">SNR (dB)</text><text x="870.5" y="111.97" font-size="36.76" text-anchor="middle">2023-08-07 ICEBEAR Summary Plot</text></g>
</svg></body></html>
